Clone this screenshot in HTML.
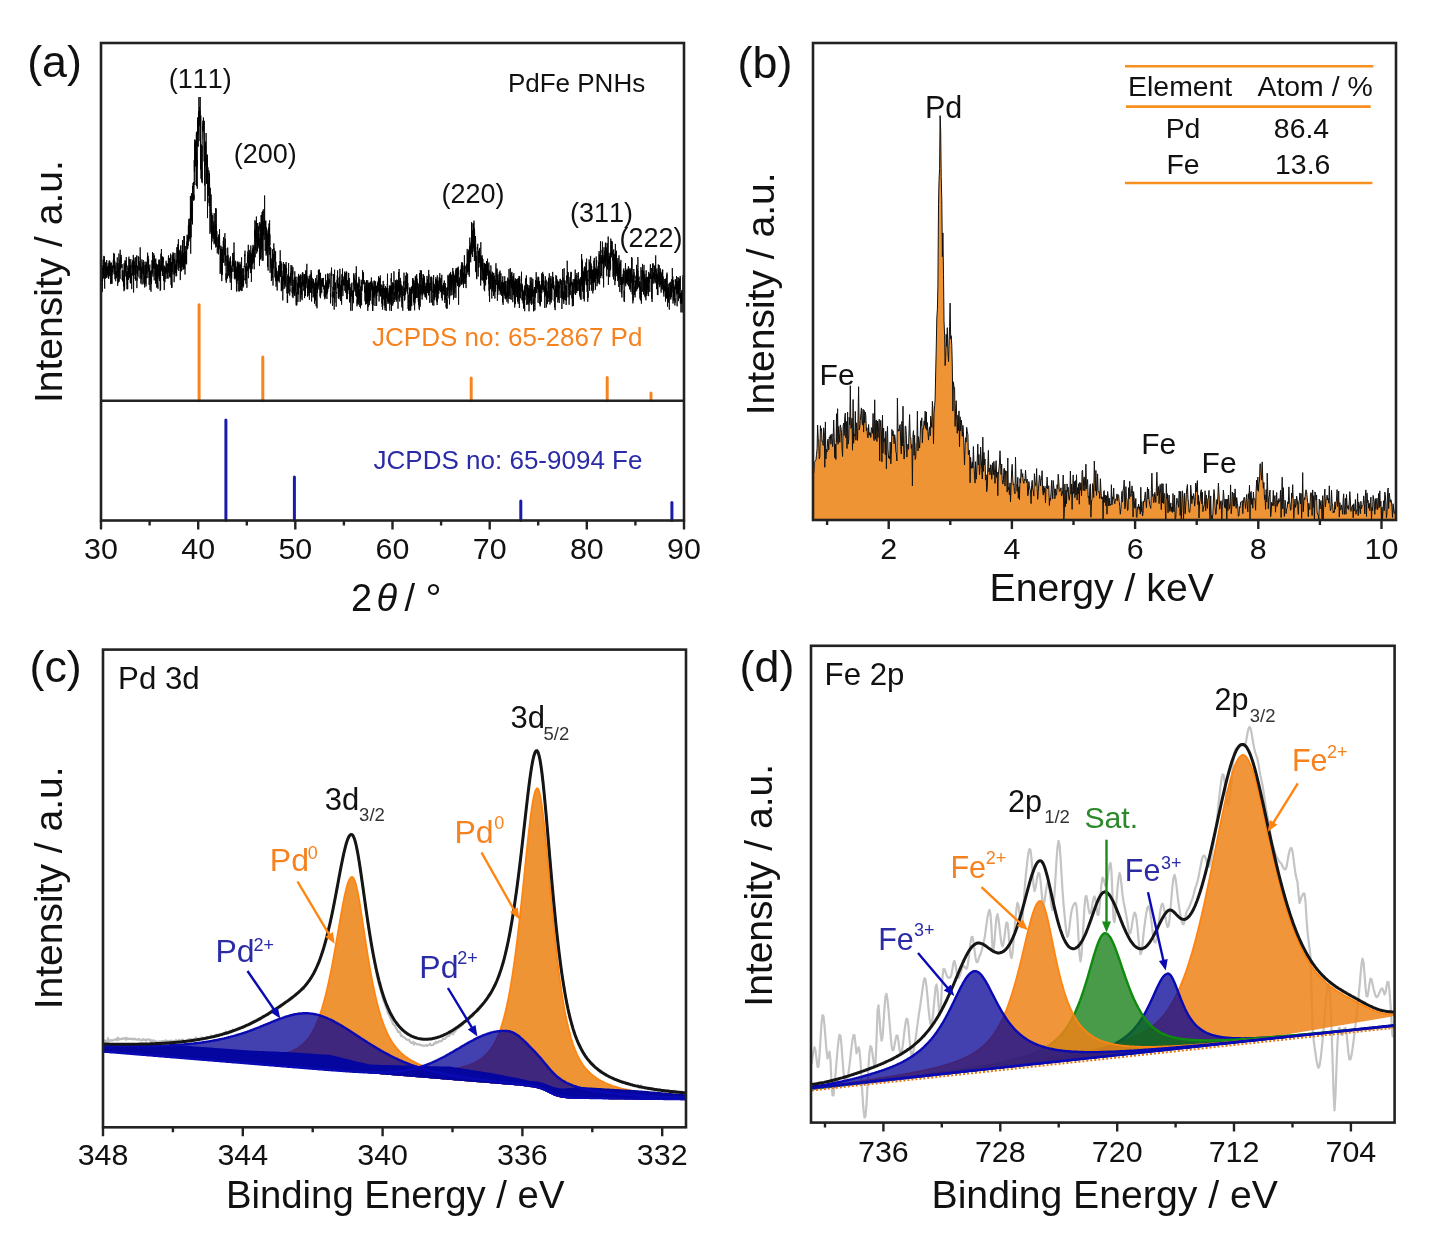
<!DOCTYPE html>
<html><head><meta charset="utf-8"><title>PdFe PNHs</title>
<style>
html,body{margin:0;padding:0;background:#fff;}
svg{display:block;will-change:transform;}
text{font-family:"Liberation Sans", sans-serif;font-kerning:none;}
</style></head><body><div id="w">
<svg xmlns="http://www.w3.org/2000/svg" width="1432" height="1236" viewBox="0 0 1432 1236">
<rect width="1432" height="1236" fill="#fff"/>
<g>
<polyline points="101,263.4 101.1,285.3 101.3,268.8 101.4,274.4 101.5,276.9 101.6,272 101.8,268.2 101.9,285.4 102,283.4 102.1,265.1 102.3,292.1 102.4,285.7 102.5,269.3 102.6,280.7 102.8,267.7 102.9,269 103,274.7 103.1,259.7 103.3,271.6 103.4,278.4 103.5,277.8 103.7,265.3 103.8,273.7 103.9,255.9 104,264.9 104.2,268.5 104.3,256.6 104.4,265.1 104.5,279.8 104.7,288.6 104.8,274.6 104.9,276.7 105,264.7 105.2,263.9 105.3,263.1 105.4,277.5 105.5,278.7 105.7,266.6 105.8,261.9 105.9,270.9 106.1,270.5 106.2,267.2 106.3,278 106.4,267.3 106.6,267.3 106.7,260.1 106.8,268 106.9,277.3 107.1,267.3 107.2,267.6 107.3,270.3 107.4,269.6 107.6,272.1 107.7,273 107.8,275 107.9,265.9 108.1,275.6 108.2,263.2 108.3,277.9 108.5,266.5 108.6,275.2 108.7,279 108.8,270.3 109,273.6 109.1,260.7 109.2,265.2 109.3,276.2 109.5,262.5 109.6,275.2 109.7,260.6 109.8,263.7 110,262.5 110.1,269.8 110.2,274.2 110.3,263 110.5,269 110.6,284.1 110.7,268.6 110.9,265.8 111,275.5 111.1,271.3 111.2,268.9 111.4,262.6 111.5,283.4 111.6,272.1 111.7,276.5 111.9,267.1 112,283.8 112.1,276.3 112.2,275.4 112.4,265.5 112.5,268.2 112.6,270.7 112.7,272.1 112.9,267.5 113,265.4 113.1,263.7 113.3,261.1 113.4,259.6 113.5,268.2 113.6,264.2 113.8,252.9 113.9,265.2 114,274.3 114.1,264.7 114.3,254 114.4,264.6 114.5,269.7 114.6,265.2 114.8,260.8 114.9,277.6 115,279.2 115.1,265.3 115.3,273.1 115.4,270.9 115.5,275.1 115.7,281.2 115.8,275.6 115.9,269.2 116,263.9 116.2,262.6 116.3,268 116.4,278.2 116.5,272.3 116.7,271.4 116.8,274.1 116.9,272.3 117,276.2 117.2,263.3 117.3,257.4 117.4,267.6 117.5,263.5 117.7,285.9 117.8,271.8 117.9,271.7 118.1,263.2 118.2,276.2 118.3,268.7 118.4,282.6 118.6,279.9 118.7,266.9 118.8,275.6 118.9,253.5 119.1,266.7 119.2,281.6 119.3,277.5 119.4,272 119.6,270.1 119.7,260.3 119.8,259.6 119.9,268.5 120.1,278.8 120.2,249.8 120.3,267.3 120.5,266.8 120.6,269.1 120.7,257.2 120.8,259.5 121,263.2 121.1,256.1 121.2,254.9 121.3,257.5 121.5,263.4 121.6,267.3 121.7,265.7 121.8,267.7 122,264 122.1,264.9 122.2,280 122.3,270.5 122.5,270.5 122.6,279 122.7,281.4 122.9,281.6 123,274.2 123.1,270.5 123.2,273.9 123.4,274.2 123.5,286.4 123.6,279 123.7,283.8 123.9,279.3 124,291.2 124.1,263.3 124.2,280.2 124.4,281.5 124.5,265 124.6,289.8 124.7,269.1 124.9,267.6 125,260.3 125.1,272.2 125.3,266.7 125.4,260.9 125.5,266.5 125.6,270.4 125.8,276.4 125.9,270 126,263.8 126.1,267.7 126.3,257.1 126.4,267.7 126.5,279.5 126.6,277.3 126.8,272.8 126.9,271.6 127,289.2 127.1,279.1 127.3,285.1 127.4,280.7 127.5,271.1 127.7,289.2 127.8,265.9 127.9,265.6 128,270.2 128.2,268 128.3,268.8 128.4,268 128.5,279.8 128.7,270.3 128.8,270.9 128.9,256.7 129,260.8 129.2,274 129.3,259 129.4,277.7 129.5,263.3 129.7,274.3 129.8,266.7 129.9,274.3 130.1,265.5 130.2,268.5 130.3,282.7 130.4,265.4 130.6,283.4 130.7,263.7 130.8,259 130.9,267.7 131.1,265 131.2,282.6 131.3,275.5 131.4,278.4 131.6,273.6 131.7,289.1 131.8,274.7 131.9,272.4 132.1,263.1 132.2,262.3 132.3,269.2 132.5,275.1 132.6,275.5 132.7,260.5 132.8,270.2 133,268.3 133.1,260.4 133.2,272.6 133.3,254.9 133.5,273 133.6,292.5 133.7,264.6 133.8,271.3 134,257.8 134.1,264.7 134.2,274.8 134.3,261.4 134.5,267.7 134.6,265.4 134.7,265.3 134.9,269.3 135,272 135.1,279 135.2,276 135.4,265.5 135.5,280.6 135.6,278.2 135.7,257.1 135.9,271.3 136,272.3 136.1,273.6 136.2,270.8 136.4,259.2 136.5,266.6 136.6,255.4 136.7,268.7 136.9,288.1 137,277.9 137.1,280.6 137.3,270.2 137.4,267.2 137.5,266.5 137.6,274.4 137.8,266 137.9,265.5 138,277.3 138.1,255.9 138.3,257 138.4,261.7 138.5,264.4 138.6,264.6 138.8,257 138.9,268.5 139,267 139.1,270.7 139.3,261.2 139.4,270 139.5,269.6 139.7,263.6 139.8,266.4 139.9,264.1 140,278.7 140.2,247.4 140.3,258.8 140.4,257.8 140.5,267.6 140.7,267.2 140.8,271.2 140.9,283.6 141,266.6 141.2,273.3 141.3,278.1 141.4,268.6 141.5,279.3 141.7,276.8 141.8,267.2 141.9,259.4 142.1,284.5 142.2,274.3 142.3,273.1 142.4,269.2 142.6,267.7 142.7,273.2 142.8,266.4 142.9,262.2 143.1,271.4 143.2,266.8 143.3,261.1 143.4,260.1 143.6,274.9 143.7,270.8 143.8,283.5 143.9,265.2 144.1,265.3 144.2,275.2 144.3,284.5 144.5,277.8 144.6,275.8 144.7,287.5 144.8,265.4 145,261.6 145.1,264.7 145.2,267.6 145.3,273.1 145.5,279.1 145.6,274.1 145.7,283.9 145.8,265 146,286.4 146.1,264 146.2,278.3 146.3,261.8 146.5,270 146.6,268 146.7,271.6 146.9,273.8 147,266.5 147.1,267.1 147.2,268.4 147.4,257.2 147.5,259.8 147.6,252.7 147.7,262.4 147.9,278.1 148,266.1 148.1,255.8 148.2,258.1 148.4,271.6 148.5,263.9 148.6,258.9 148.7,265.3 148.9,267.3 149,269.1 149.1,284.9 149.3,280.3 149.4,267.5 149.5,274.5 149.6,268.7 149.8,267.5 149.9,264.6 150,290 150.1,271.5 150.3,278.8 150.4,281.6 150.5,271.3 150.6,279.8 150.8,280.1 150.9,277.1 151,291.7 151.1,275.9 151.3,270 151.4,276 151.5,284.2 151.7,275.9 151.8,263.8 151.9,260.8 152,260.2 152.2,262.2 152.3,269.4 152.4,273.5 152.5,252 152.7,267.3 152.8,260.5 152.9,274 153,276.6 153.2,263.8 153.3,265.5 153.4,261 153.5,268.4 153.7,253.3 153.8,254.9 153.9,256.9 154.1,269.5 154.2,280.4 154.3,262.9 154.4,255.6 154.6,265.2 154.7,259.4 154.8,268.7 154.9,258.8 155.1,264.8 155.2,268.6 155.3,274.9 155.4,271.4 155.6,283.7 155.7,273.5 155.8,258.7 155.9,278 156.1,266.9 156.2,264.1 156.3,282.1 156.5,263.6 156.6,273.2 156.7,268.5 156.8,287.7 157,273.4 157.1,278.5 157.2,264.9 157.3,287.1 157.5,265.4 157.6,280.9 157.7,282.4 157.8,283.5 158,288.8 158.1,264.1 158.2,275.5 158.3,271.6 158.5,272.1 158.6,276.1 158.7,266.8 158.9,260.1 159,265.1 159.1,279.1 159.2,259.4 159.4,269 159.5,263 159.6,281 159.7,260.8 159.9,271.2 160,274 160.1,276.4 160.2,290.8 160.4,288 160.5,264.9 160.6,289.6 160.7,260.2 160.9,253.7 161,254.5 161.1,265 161.3,267 161.4,249 161.5,267.5 161.6,263.3 161.8,270.6 161.9,262.5 162,271.6 162.1,268.4 162.3,256.5 162.4,276 162.5,265.8 162.6,269.5 162.8,273.6 162.9,256.8 163,262.6 163.1,257.8 163.3,257.5 163.4,266.5 163.5,268.1 163.7,278.6 163.8,281 163.9,270.6 164,265.6 164.2,290 164.3,290 164.4,273 164.5,265.9 164.7,269.5 164.8,275.3 164.9,282.2 165,280.1 165.2,274.6 165.3,267.9 165.4,271.4 165.5,267.6 165.7,272 165.8,272 165.9,279 166.1,260.8 166.2,273.2 166.3,273.5 166.4,265.5 166.6,271.9 166.7,263.2 166.8,264.6 166.9,266.2 167.1,266.1 167.2,264 167.3,278.2 167.4,270.4 167.6,271.5 167.7,270.9 167.8,264.1 167.9,263.3 168.1,278.8 168.2,269 168.3,258.8 168.5,255.4 168.6,272.5 168.7,263.4 168.8,267.4 169,263.2 169.1,263.9 169.2,265.4 169.3,258.2 169.5,267.4 169.6,277.2 169.7,276 169.8,257.9 170,261.4 170.1,261.6 170.2,269.3 170.3,277.5 170.5,270.7 170.6,253.7 170.7,265.3 170.9,272.1 171,262.7 171.1,285 171.2,264.3 171.4,282.2 171.5,287.9 171.6,262.3 171.7,269.4 171.9,276.3 172,287.7 172.1,255.1 172.2,272 172.4,268.3 172.5,261.6 172.6,257.7 172.7,258.8 172.9,259.5 173,252.3 173.1,274.4 173.3,253.5 173.4,258.5 173.5,257.2 173.6,259.3 173.8,263.5 173.9,258.5 174,263.4 174.1,282.2 174.3,276.8 174.4,264.6 174.5,274.6 174.6,259.4 174.8,266.1 174.9,252.9 175,254.2 175.1,255.8 175.3,273.1 175.4,264.6 175.5,269 175.7,267.1 175.8,270.9 175.9,272.6 176,276.3 176.2,270.6 176.3,260.4 176.4,260.1 176.5,276.1 176.7,275.9 176.8,265.7 176.9,247.2 177,269.7 177.2,256.7 177.3,251.7 177.4,250.7 177.5,246.9 177.7,262.3 177.8,262.7 177.9,244 178.1,252 178.2,257.2 178.3,266.6 178.4,239.2 178.6,264.3 178.7,270.9 178.8,253.8 178.9,256.1 179.1,268 179.2,261.4 179.3,249.9 179.4,252.4 179.6,254.4 179.7,252.3 179.8,264.1 179.9,259.6 180.1,264.9 180.2,270.9 180.3,280.1 180.5,263.7 180.6,245.5 180.7,270.6 180.8,255.2 181,265.4 181.1,251.4 181.2,257.4 181.3,255 181.5,257.1 181.6,271.3 181.7,255 181.8,263.6 182,265.1 182.1,259.6 182.2,245.3 182.3,266.8 182.5,240.2 182.6,250 182.7,258.2 182.9,266.2 183,269.7 183.1,268.6 183.2,265.4 183.4,254.8 183.5,269.2 183.6,253.2 183.7,265.5 183.9,236 184,245.5 184.1,248.5 184.2,254 184.4,236 184.5,265.4 184.6,268.9 184.7,268.1 184.9,255.4 185,274.5 185.1,251.8 185.3,263.6 185.4,250.4 185.5,248.4 185.6,246 185.8,246.7 185.9,258.5 186,262.4 186.1,262.4 186.3,256.5 186.4,253.2 186.5,250.4 186.6,264.3 186.8,242.3 186.9,241.6 187,249.5 187.1,234.7 187.3,247.9 187.4,249.1 187.5,237.5 187.7,238.7 187.8,248.4 187.9,235.8 188,236.4 188.2,245.5 188.3,229.6 188.4,225.4 188.5,235.4 188.7,240.6 188.8,218.9 188.9,241.6 189,230.1 189.2,228 189.3,222.7 189.4,227.5 189.5,238.3 189.7,230.9 189.8,232.2 189.9,218.5 190.1,238.8 190.2,234.9 190.3,220.6 190.4,195.9 190.6,222.4 190.7,253.7 190.8,219.4 190.9,207.8 191.1,237.3 191.2,207.1 191.3,216.7 191.4,218.7 191.6,193.2 191.7,208.6 191.8,220.9 191.9,200.9 192.1,210.6 192.2,201.4 192.3,213.6 192.5,224.4 192.6,186 192.7,193.8 192.8,200.3 193,186.8 193.1,183 193.2,187.4 193.3,187.3 193.5,182.1 193.6,194.1 193.7,200.7 193.8,198 194,194.8 194.1,199.6 194.2,160.2 194.3,171.4 194.5,170.8 194.6,170.8 194.7,139.5 194.9,185.1 195,143.6 195.1,157.1 195.2,162 195.4,165.9 195.5,140.4 195.6,141.7 195.7,154.5 195.9,158.8 196,166.8 196.1,151.1 196.2,142.3 196.4,132.8 196.5,186.1 196.6,131.7 196.7,168.8 196.9,163 197,175.2 197.1,181 197.3,188.7 197.4,160.1 197.5,165.5 197.6,117.4 197.8,146 197.9,121.4 198,126.7 198.1,146.8 198.3,120 198.4,134.6 198.5,111.2 198.6,121.4 198.8,109.7 198.9,97 199,105.9 199.1,111.4 199.3,115.6 199.4,110.4 199.5,106.9 199.7,125.8 199.8,122.4 199.9,110.4 200,141.1 200.2,97 200.3,130 200.4,136.9 200.5,169.5 200.7,131.9 200.8,115.5 200.9,148.3 201,178.7 201.2,144.3 201.3,149.2 201.4,149 201.5,155 201.7,180.4 201.8,181.7 201.9,159.6 202.1,145.6 202.2,183.2 202.3,144.7 202.4,140.5 202.6,129.2 202.7,126.6 202.8,131.7 202.9,120.7 203.1,129.3 203.2,123.1 203.3,130.2 203.4,117.5 203.6,122.9 203.7,133 203.8,134.1 203.9,138.5 204.1,161.5 204.2,129.2 204.3,120.8 204.5,167.5 204.6,153.2 204.7,185.4 204.8,159.9 205,143.7 205.1,201.2 205.2,167.1 205.3,151.6 205.5,145.3 205.6,160.9 205.7,141.7 205.8,155 206,165.8 206.1,133 206.2,149.3 206.3,162.9 206.5,183.6 206.6,172.8 206.7,155.8 206.9,183.8 207,159.1 207.1,162.7 207.2,171.2 207.4,154.6 207.5,218.1 207.6,191 207.7,179.6 207.9,172.6 208,167.4 208.1,187.9 208.2,194 208.4,180.7 208.5,184.5 208.6,196.2 208.7,189.7 208.9,170.4 209,203.1 209.1,197.9 209.3,206.2 209.4,188 209.5,173.4 209.6,184.4 209.8,202.9 209.9,229.3 210,233.9 210.1,205.8 210.3,187.8 210.4,201.9 210.5,213.6 210.6,215.5 210.8,212.8 210.9,231.9 211,205.4 211.1,194.5 211.3,210.8 211.4,210.5 211.5,249.6 211.7,227.4 211.8,212.8 211.9,238.2 212,241.6 212.2,226.7 212.3,226.1 212.4,235.3 212.5,228.2 212.7,215.3 212.8,231.2 212.9,237.2 213,231.5 213.2,239 213.3,235.6 213.4,225.1 213.5,225.4 213.7,233.3 213.8,221.2 213.9,241 214.1,244.2 214.2,213.2 214.3,235.3 214.4,230.5 214.6,232.8 214.7,242 214.8,236.7 214.9,243.1 215.1,237.6 215.2,235.9 215.3,224.3 215.4,227.6 215.6,245.2 215.7,208 215.8,247.5 215.9,225.5 216.1,241.8 216.2,208.7 216.3,228.9 216.5,241 216.6,236.2 216.7,246.5 216.8,231.1 217,236.3 217.1,238 217.2,252 217.3,253.4 217.5,247.8 217.6,246 217.7,244.9 217.8,247.3 218,237.1 218.1,243.6 218.2,242.2 218.3,238.1 218.5,237 218.6,254.4 218.7,234.5 218.9,242 219,249.4 219.1,243.9 219.2,238.4 219.4,247.5 219.5,229.1 219.6,232.9 219.7,242.5 219.9,246.9 220,250.8 220.1,274 220.2,273.8 220.4,256.5 220.5,259.8 220.6,248.8 220.7,260.1 220.9,245.7 221,272.2 221.1,253.7 221.3,265.7 221.4,249.1 221.5,275.5 221.6,267.5 221.8,281.1 221.9,261.6 222,246.8 222.1,253.2 222.3,249.1 222.4,274.9 222.5,252.8 222.6,251.1 222.8,262.2 222.9,258.6 223,260.8 223.1,252.7 223.3,240.9 223.4,245.1 223.5,237.2 223.7,262.9 223.8,256.9 223.9,244.8 224,251 224.2,250.8 224.3,250.8 224.4,251 224.5,255.1 224.7,250.7 224.8,234.8 224.9,233.2 225,265.7 225.2,261 225.3,238.8 225.4,261.3 225.5,255.8 225.7,261 225.8,248.2 225.9,280.4 226.1,273.6 226.2,282.1 226.3,282.8 226.4,281.4 226.6,281.4 226.7,265.1 226.8,262.5 226.9,255.7 227.1,265.8 227.2,260.8 227.3,255.5 227.4,278.5 227.6,275.3 227.7,247.6 227.8,253.5 227.9,265.3 228.1,255.3 228.2,276.1 228.3,264.7 228.5,267.7 228.6,271 228.7,274.9 228.8,260.7 229,268.7 229.1,265.3 229.2,270.9 229.3,268.9 229.5,277.7 229.6,269.8 229.7,261.7 229.8,267.2 230,257.8 230.1,270.3 230.2,282.6 230.3,263.6 230.5,256.5 230.6,270.1 230.7,267 230.9,272.8 231,268.2 231.1,275.6 231.2,265.5 231.4,290 231.5,272.1 231.6,277.9 231.7,278.6 231.9,268 232,272 232.1,264.1 232.2,261.3 232.4,261.8 232.5,266.5 232.6,253.1 232.7,255.8 232.9,256.6 233,258.3 233.1,271.8 233.3,260.9 233.4,257.9 233.5,260 233.6,266 233.8,252.4 233.9,266.1 234,242.5 234.1,254.7 234.3,276 234.4,278.6 234.5,266.9 234.6,262.8 234.8,273.4 234.9,262.5 235,279.4 235.1,275.9 235.3,272.6 235.4,260.7 235.5,278.1 235.7,268.4 235.8,270.2 235.9,269.4 236,272.7 236.2,278.6 236.3,281.8 236.4,281.5 236.5,291.5 236.7,269.8 236.8,284 236.9,266.6 237,270.3 237.2,261.7 237.3,281.1 237.4,270.1 237.5,267 237.7,264.4 237.8,273 237.9,261.5 238.1,269.5 238.2,291.3 238.3,267.3 238.4,264.8 238.6,262.8 238.7,279.7 238.8,273.2 238.9,266 239.1,265.7 239.2,273.7 239.3,264.5 239.4,291.4 239.6,272 239.7,273.1 239.8,275.3 239.9,261.9 240.1,265.3 240.2,275.3 240.3,277.4 240.5,264.6 240.6,290 240.7,276.5 240.8,284 241,283.1 241.1,270.9 241.2,291.1 241.3,277 241.5,260.3 241.6,257.3 241.7,277.7 241.8,286.5 242,279.2 242.1,290.8 242.2,276.5 242.3,285 242.5,286.2 242.6,268.4 242.7,280.5 242.9,280.1 243,286.6 243.1,287.5 243.2,285.4 243.4,268.4 243.5,283 243.6,286 243.7,275 243.9,280.5 244,278.6 244.1,279.9 244.2,266 244.4,266.9 244.5,262.4 244.6,260.1 244.7,254.3 244.9,256.3 245,250.6 245.1,258.3 245.3,266.8 245.4,268.2 245.5,272.1 245.6,266.4 245.8,283.7 245.9,267.2 246,280.1 246.1,276.5 246.3,264.1 246.4,263.3 246.5,276.6 246.6,268.4 246.8,269.9 246.9,287.8 247,271.3 247.1,266.1 247.3,271.2 247.4,257.4 247.5,259.3 247.7,263 247.8,251.5 247.9,256.8 248,255.6 248.2,258.5 248.3,244.8 248.4,278.2 248.5,261.3 248.7,269.6 248.8,255.8 248.9,254 249,265.7 249.2,260.5 249.3,268.4 249.4,251.8 249.5,249.9 249.7,260 249.8,263.7 249.9,266.4 250.1,257.4 250.2,261.3 250.3,252.2 250.4,273.1 250.6,271.1 250.7,270.8 250.8,245.5 250.9,269.9 251.1,254.9 251.2,270.3 251.3,272 251.4,282 251.6,268 251.7,266 251.8,257.3 251.9,253 252.1,269.1 252.2,250.5 252.3,264.2 252.5,251.1 252.6,248.6 252.7,263.9 252.8,262.9 253,244.8 253.1,251.8 253.2,253.4 253.3,260.9 253.5,246.5 253.6,249.4 253.7,252.8 253.8,261.6 254,263 254.1,246.2 254.2,269.3 254.3,252.1 254.5,238.4 254.6,230 254.7,237.7 254.9,220.3 255,243 255.1,247.5 255.2,257.3 255.4,249.7 255.5,229.2 255.6,241.2 255.7,250 255.9,221.1 256,231.5 256.1,243 256.2,236.5 256.4,216.5 256.5,229 256.6,232.7 256.7,253.5 256.9,227.2 257,223.1 257.1,234.4 257.3,236.3 257.4,239.7 257.5,251.4 257.6,235.2 257.8,223 257.9,235.8 258,234.9 258.1,244.8 258.3,242.7 258.4,226.2 258.5,242.1 258.6,245.9 258.8,233.4 258.9,248.4 259,240.2 259.1,241.5 259.3,238.1 259.4,249.7 259.5,266 259.7,239 259.8,222 259.9,228.9 260,223.7 260.2,231.5 260.3,226.6 260.4,259.5 260.5,238 260.7,253.3 260.8,224 260.9,229.5 261,258.4 261.2,215.2 261.3,233.6 261.4,215.5 261.5,250 261.7,215.5 261.8,226 261.9,227.2 262.1,212.1 262.2,260.8 262.3,226.9 262.4,248.8 262.6,219.9 262.7,211.1 262.8,227.1 262.9,226.2 263.1,260.6 263.2,213.7 263.3,209.3 263.4,219.1 263.6,230.8 263.7,235.5 263.8,221.1 263.9,224.8 264.1,234.3 264.2,239.8 264.3,219.1 264.5,225.3 264.6,195.5 264.7,213.6 264.8,228.6 265,225.9 265.1,226.4 265.2,250.9 265.3,228.6 265.5,221.1 265.6,234.7 265.7,234.5 265.8,220.6 266,245.5 266.1,255.5 266.2,228.9 266.3,227.3 266.5,236.6 266.6,253.6 266.7,231.4 266.9,229.3 267,230.3 267.1,239.1 267.2,239.3 267.4,235.8 267.5,253.6 267.6,267 267.7,233.3 267.9,251.2 268,241.2 268.1,270.6 268.2,231 268.4,237.1 268.5,242.3 268.6,227.6 268.7,237.9 268.9,245.5 269,223.5 269.1,237 269.3,254.9 269.4,232.1 269.5,231.9 269.6,220.3 269.8,245.2 269.9,234.4 270,258.6 270.1,272.8 270.3,261.4 270.4,247.2 270.5,264.2 270.6,252.9 270.8,248 270.9,257 271,268.1 271.1,263.6 271.3,275.1 271.4,281 271.5,275.5 271.7,275.7 271.8,258.5 271.9,279.7 272,269.1 272.2,277.5 272.3,260.1 272.4,273.2 272.5,249.4 272.7,269.8 272.8,264.6 272.9,261.8 273,285.6 273.2,253.8 273.3,264.5 273.4,261.9 273.5,266 273.7,268.2 273.8,243.4 273.9,250.5 274.1,248.4 274.2,259.5 274.3,262 274.4,252.4 274.6,252.7 274.7,250.5 274.8,262.9 274.9,277.5 275.1,265.8 275.2,257.7 275.3,257.3 275.4,258.5 275.6,251.3 275.7,280.9 275.8,264.7 275.9,261.9 276.1,286.7 276.2,267.7 276.3,281.4 276.5,270.9 276.6,280.8 276.7,272.7 276.8,270.7 277,280.5 277.1,285.4 277.2,290.5 277.3,282.4 277.5,277.6 277.6,275.4 277.7,280.5 277.8,271.4 278,271.8 278.1,279.3 278.2,279.6 278.3,279.5 278.5,269.5 278.6,265.5 278.7,281 278.9,279.6 279,274.1 279.1,278.2 279.2,282.5 279.4,271.6 279.5,275.9 279.6,265 279.7,270.4 279.9,265.7 280,261 280.1,274.3 280.2,250.3 280.4,270.1 280.5,276.8 280.6,274.1 280.7,261 280.9,275.1 281,261.7 281.1,269.8 281.3,291.2 281.4,280.5 281.5,290.4 281.6,270.9 281.8,263.7 281.9,272.6 282,289.7 282.1,285.9 282.3,287 282.4,276.1 282.5,276.7 282.6,275.8 282.8,300.4 282.9,276.3 283,289.3 283.1,271.1 283.3,281.3 283.4,262 283.5,265.7 283.7,271.9 283.8,266 283.9,267.8 284,270.3 284.2,268.2 284.3,284.9 284.4,281.8 284.5,263.9 284.7,288.6 284.8,274.8 284.9,275.4 285,274.9 285.2,283.4 285.3,281.9 285.4,272.3 285.5,275.5 285.7,264.8 285.8,286.7 285.9,264.2 286.1,262 286.2,262 286.3,267.8 286.4,273.2 286.6,267.9 286.7,273.9 286.8,275.3 286.9,293.4 287.1,288.3 287.2,275.7 287.3,302.8 287.4,295.1 287.6,302.9 287.7,284.5 287.8,283.7 287.9,284.8 288.1,274.1 288.2,280.2 288.3,293.4 288.5,287 288.6,263 288.7,289.2 288.8,280.2 289,284 289.1,278.4 289.2,280.4 289.3,280.8 289.5,282.9 289.6,276.6 289.7,295.5 289.8,289.4 290,291.4 290.1,290.5 290.2,283.3 290.3,283.7 290.5,272.8 290.6,282.6 290.7,281.1 290.9,276.3 291,265.1 291.1,285.9 291.2,273.6 291.4,273.5 291.5,270.6 291.6,268.2 291.7,269.5 291.9,265.4 292,270.4 292.1,292.6 292.2,287.3 292.4,296.8 292.5,277.1 292.6,269.9 292.7,274.6 292.9,267.1 293,296.4 293.1,298.1 293.3,288.3 293.4,290.4 293.5,290.1 293.6,285.9 293.8,293.7 293.9,280 294,285.4 294.1,289 294.3,277.7 294.4,282.8 294.5,295.4 294.6,293.9 294.8,271.3 294.9,296.1 295,289.7 295.1,292.5 295.3,284.9 295.4,290.9 295.5,276.8 295.7,285.5 295.8,280.1 295.9,285.5 296,302 296.2,305.3 296.3,295.4 296.4,292.4 296.5,303.9 296.7,301.3 296.8,305.4 296.9,301.9 297,276.7 297.2,294 297.3,288.8 297.4,282.9 297.5,289.9 297.7,288.8 297.8,285.4 297.9,302 298.1,292.2 298.2,291.6 298.3,287.8 298.4,294.5 298.6,273.9 298.7,288.2 298.8,275.5 298.9,286.4 299.1,285.7 299.2,280.1 299.3,275.8 299.4,283.5 299.6,287.4 299.7,276.5 299.8,285.9 299.9,283.2 300.1,300.3 300.2,301.8 300.3,280.2 300.5,280.4 300.6,274.3 300.7,284.8 300.8,289.5 301,298.5 301.1,275.4 301.2,293.1 301.3,285 301.5,282.1 301.6,286.2 301.7,283.9 301.8,295 302,291 302.1,300.2 302.2,283.7 302.3,272.9 302.5,277.1 302.6,285 302.7,272.1 302.9,276.8 303,286.3 303.1,273.8 303.2,290.9 303.4,287.5 303.5,281 303.6,284.4 303.7,280.7 303.9,280.5 304,279.9 304.1,281.4 304.2,280.2 304.4,275.8 304.5,274.4 304.6,298.1 304.7,274 304.9,280.3 305,290.4 305.1,288.2 305.3,275.6 305.4,296 305.5,293.4 305.6,277 305.8,270.2 305.9,281.9 306,275.9 306.1,274.8 306.3,271.2 306.4,272.7 306.5,278.1 306.6,283.7 306.8,264.8 306.9,263.8 307,287.7 307.1,276.3 307.3,288.7 307.4,285.4 307.5,296.8 307.7,295.1 307.8,285.8 307.9,287.3 308,291.8 308.2,295.7 308.3,284.5 308.4,278.7 308.5,290.6 308.7,288.9 308.8,287.2 308.9,280.7 309,293 309.2,275.9 309.3,284.4 309.4,299.8 309.5,280.7 309.7,292.2 309.8,291.9 309.9,290.6 310.1,274.6 310.2,293 310.3,284.4 310.4,285.6 310.6,283.4 310.7,281.2 310.8,289.8 310.9,292.4 311.1,270.1 311.2,278.8 311.3,284.5 311.4,272.7 311.6,301.5 311.7,283.4 311.8,293.8 311.9,289.6 312.1,284.5 312.2,277.8 312.3,280.9 312.5,283.1 312.6,288.2 312.7,281.6 312.8,281.4 313,283.6 313.1,297.5 313.2,289.9 313.3,283 313.5,279.2 313.6,284.6 313.7,280.6 313.8,283.1 314,296.4 314.1,290.3 314.2,286.9 314.3,290.1 314.5,303.7 314.6,282.9 314.7,298.1 314.9,294.5 315,298.6 315.1,298.3 315.2,294.4 315.4,300.5 315.5,278.2 315.6,295 315.7,296.9 315.9,282.9 316,282.5 316.1,306.2 316.2,283.4 316.4,287.5 316.5,284.9 316.6,285.9 316.7,285.2 316.9,275.1 317,308.3 317.1,282.2 317.3,288.6 317.4,283.6 317.5,293.1 317.6,285.9 317.8,288.2 317.9,287.8 318,285.1 318.1,279.9 318.3,285.9 318.4,269.8 318.5,286.3 318.6,285.1 318.8,282.4 318.9,271.5 319,289.6 319.1,275.9 319.3,284.9 319.4,269.5 319.5,281.4 319.7,279 319.8,278.4 319.9,278.8 320,296.4 320.2,281.6 320.3,283.7 320.4,298.2 320.5,272.8 320.7,295.4 320.8,282.6 320.9,282.9 321,286.2 321.2,278.4 321.3,280.8 321.4,282.9 321.5,285.2 321.7,292.9 321.8,293.1 321.9,280 322.1,283.5 322.2,283.2 322.3,278.9 322.4,282.5 322.6,278 322.7,286.4 322.8,282.3 322.9,284.8 323.1,286.9 323.2,286.8 323.3,281.6 323.4,277.9 323.6,286.8 323.7,284.2 323.8,285.2 323.9,289.3 324.1,285.6 324.2,296 324.3,296.5 324.5,286.3 324.6,297.1 324.7,285.9 324.8,299.3 325,297.5 325.1,291.1 325.2,297.7 325.3,297.5 325.5,291.3 325.6,274.4 325.7,286.5 325.8,286.6 326,292.1 326.1,280.2 326.2,294.4 326.3,293.2 326.5,294.9 326.6,282.5 326.7,284.4 326.9,299 327,294.5 327.1,285.5 327.2,293.5 327.4,285.9 327.5,281.1 327.6,273.5 327.7,291.7 327.9,283.5 328,286.6 328.1,273.9 328.2,282.7 328.4,288.7 328.5,284.8 328.6,281.4 328.7,278.6 328.9,287.2 329,283.6 329.1,283.9 329.3,284.1 329.4,281.3 329.5,282.6 329.6,279.7 329.8,282.9 329.9,273.2 330,275 330.1,283.1 330.3,283 330.4,286.4 330.5,303.4 330.6,293.6 330.8,296.8 330.9,290 331,284.8 331.1,279.3 331.3,271.5 331.4,273.8 331.5,267.6 331.7,275.8 331.8,273.7 331.9,279.1 332,287.2 332.2,286.9 332.3,300.6 332.4,303.2 332.5,305.9 332.7,305.2 332.8,299.7 332.9,291.6 333,297.4 333.2,288.9 333.3,287.1 333.4,290 333.5,278.5 333.7,274.1 333.8,286.4 333.9,298 334.1,292.4 334.2,309.6 334.3,274.9 334.4,280 334.6,269.7 334.7,279.9 334.8,302.6 334.9,302.3 335.1,283.3 335.2,289.1 335.3,285.9 335.4,282.4 335.6,289.8 335.7,289.2 335.8,293.4 335.9,295.7 336.1,300.4 336.2,306.7 336.3,294.3 336.5,292.2 336.6,292.3 336.7,293.8 336.8,287 337,279.8 337.1,281.4 337.2,288.4 337.3,275.5 337.5,286.1 337.6,270.4 337.7,282.5 337.8,282.1 338,277.6 338.1,280.4 338.2,281.2 338.3,298.1 338.5,283.9 338.6,283.3 338.7,292.3 338.9,299.1 339,292.6 339.1,288.1 339.2,296.9 339.4,282 339.5,280.5 339.6,276.3 339.7,292.3 339.9,268.8 340,274.9 340.1,285.5 340.2,287.4 340.4,299.8 340.5,290.3 340.6,284.9 340.7,301.1 340.9,299.4 341,300.8 341.1,300.2 341.3,295.3 341.4,280.5 341.5,282.3 341.6,304.7 341.8,287.4 341.9,274.1 342,285.4 342.1,291.2 342.3,286.4 342.4,283.7 342.5,268.5 342.6,284 342.8,282.8 342.9,296.1 343,283.2 343.1,282.4 343.3,279.7 343.4,281.6 343.5,284.5 343.7,280 343.8,278.2 343.9,276.6 344,285.9 344.2,283.2 344.3,283.5 344.4,275.3 344.5,279.3 344.7,271.6 344.8,289.7 344.9,290.9 345,285 345.2,281.6 345.3,285.5 345.4,273.1 345.5,274.8 345.7,292.7 345.8,278.3 345.9,285.6 346.1,282.4 346.2,271.6 346.3,283.5 346.4,295 346.6,299.1 346.7,271.7 346.8,277.5 346.9,283.4 347.1,294.4 347.2,295.6 347.3,298.4 347.4,299.2 347.6,283.4 347.7,280.1 347.8,294.1 347.9,285.2 348.1,286.6 348.2,283.3 348.3,282.1 348.5,290.2 348.6,277.2 348.7,272.9 348.8,280.8 349,287.4 349.1,286.2 349.2,288.7 349.3,278 349.5,286.1 349.6,302.5 349.7,292.1 349.8,287.7 350,301.8 350.1,287.4 350.2,297.7 350.3,293.3 350.5,295.4 350.6,301.4 350.7,310.7 350.9,303.7 351,286.2 351.1,283.9 351.2,288.4 351.4,289 351.5,296.4 351.6,291.7 351.7,294.7 351.9,282.6 352,297.1 352.1,304.2 352.2,310.8 352.4,308.8 352.5,302.7 352.6,290.7 352.7,298.7 352.9,296.5 353,292.7 353.1,292.5 353.3,292.9 353.4,290.1 353.5,303.2 353.6,277.8 353.8,273.1 353.9,285.5 354,274.8 354.1,281.6 354.3,282.7 354.4,278.4 354.5,289.5 354.6,288.9 354.8,286 354.9,289.3 355,291.8 355.1,283.6 355.3,289.4 355.4,285.9 355.5,284.4 355.7,280.6 355.8,295.8 355.9,284.6 356,273.1 356.2,285.7 356.3,266.3 356.4,285.5 356.5,289.8 356.7,296.8 356.8,288.5 356.9,283.9 357,306.3 357.2,300 357.3,303.7 357.4,292.2 357.5,301.4 357.7,284 357.8,302.4 357.9,282.6 358.1,289 358.2,285.2 358.3,304.7 358.4,301.3 358.6,287.6 358.7,301.6 358.8,290.9 358.9,276.8 359.1,287.3 359.2,279.2 359.3,292.8 359.4,296.8 359.6,289.2 359.7,303.8 359.8,306.9 359.9,291.1 360.1,303.4 360.2,297.1 360.3,293.9 360.5,308.3 360.6,286.3 360.7,286.4 360.8,286.6 361,289.8 361.1,291 361.2,279.7 361.3,297.6 361.5,302.7 361.6,305.3 361.7,290.5 361.8,285.8 362,281.8 362.1,290.8 362.2,286.7 362.3,285.8 362.5,281.3 362.6,270.2 362.7,282.2 362.9,282.3 363,280.4 363.1,272.6 363.2,279.2 363.4,279.3 363.5,272.5 363.6,284.2 363.7,280 363.9,281.6 364,283.9 364.1,280.1 364.2,281.8 364.4,286.7 364.5,289.3 364.6,292.3 364.7,286.3 364.9,296 365,301.3 365.1,282.7 365.3,289.3 365.4,291.5 365.5,290.3 365.6,304.5 365.8,298.8 365.9,288.3 366,289.2 366.1,281.7 366.3,285 366.4,303.9 366.5,280.2 366.6,296.7 366.8,285.3 366.9,286.8 367,287.2 367.1,302.6 367.3,290.7 367.4,294.3 367.5,301.6 367.7,280.2 367.8,310.9 367.9,287.7 368,296 368.2,306.9 368.3,288.5 368.4,282.7 368.5,301.9 368.7,286.8 368.8,294.4 368.9,289.3 369,284.8 369.2,300.2 369.3,285.7 369.4,305.1 369.5,283.1 369.7,282.9 369.8,285.1 369.9,291.8 370.1,282 370.2,284.5 370.3,300.7 370.4,289.5 370.6,297.4 370.7,290.3 370.8,283.3 370.9,281.4 371.1,286.5 371.2,284.2 371.3,278.8 371.4,277.4 371.6,290.3 371.7,287.6 371.8,283.8 371.9,281.3 372.1,282.7 372.2,304.1 372.3,285.6 372.5,310.9 372.6,288 372.7,283.1 372.8,310.9 373,292.5 373.1,305.1 373.2,294.3 373.3,287.5 373.5,296.1 373.6,286.5 373.7,293.1 373.8,290.1 374,280.7 374.1,297.7 374.2,289.9 374.3,292.2 374.5,295.4 374.6,280.8 374.7,294 374.9,294.1 375,306 375.1,297.4 375.2,293.9 375.4,286.5 375.5,290.8 375.6,281.4 375.7,294.6 375.9,290.1 376,289.7 376.1,294 376.2,298.6 376.4,297.3 376.5,286.1 376.6,305.9 376.7,294.3 376.9,296.1 377,292.7 377.1,285.2 377.3,293.2 377.4,286.9 377.5,282.6 377.6,287.6 377.8,291.1 377.9,289.2 378,286.3 378.1,281.2 378.3,283.2 378.4,284.7 378.5,276.4 378.6,291.5 378.8,286.3 378.9,277.5 379,297.5 379.1,301.4 379.3,278.2 379.4,286 379.5,282.2 379.7,293.7 379.8,278.6 379.9,290.8 380,289.8 380.2,296.1 380.3,275.4 380.4,283.1 380.5,287.1 380.7,296.5 380.8,289.4 380.9,295.3 381,293.4 381.2,284.5 381.3,290.9 381.4,289.8 381.5,291.8 381.7,288.3 381.8,303.5 381.9,301.2 382.1,285.1 382.2,307 382.3,296.2 382.4,288.3 382.6,309.6 382.7,297.9 382.8,299.8 382.9,294.5 383.1,294.4 383.2,280.9 383.3,299.1 383.4,286.6 383.6,291.6 383.7,290.8 383.8,285.2 383.9,284.1 384.1,292.9 384.2,305.6 384.3,289.6 384.5,289.8 384.6,294.8 384.7,288.1 384.8,302.3 385,293.8 385.1,310.2 385.2,290.7 385.3,308 385.5,286.4 385.6,294.4 385.7,286.6 385.8,293.9 386,296.7 386.1,306.1 386.2,311 386.3,299.1 386.5,288.1 386.6,297.9 386.7,293.9 386.9,288.8 387,297.8 387.1,298.7 387.2,284.3 387.4,284.8 387.5,273.7 387.6,288 387.7,301.7 387.9,288.3 388,304 388.1,302 388.2,301.1 388.4,300.6 388.5,293.8 388.6,302.4 388.7,302.1 388.9,295.5 389,291.6 389.1,302.2 389.3,303.1 389.4,285.5 389.5,296.6 389.6,290.5 389.8,310.7 389.9,289.4 390,288.3 390.1,286.8 390.3,301.6 390.4,285.6 390.5,298.2 390.6,288.1 390.8,302.9 390.9,304.6 391,301 391.1,278.2 391.3,281.5 391.4,273.2 391.5,311 391.7,285.7 391.8,286.3 391.9,289 392,294 392.2,287.3 392.3,291 392.4,291.1 392.5,282.3 392.7,305.7 392.8,303.6 392.9,287.6 393,285.1 393.2,299.4 393.3,303.4 393.4,284.5 393.5,288.7 393.7,283 393.8,288.9 393.9,271.3 394.1,274.8 394.2,295.5 394.3,292.2 394.4,299 394.6,297.3 394.7,301.9 394.8,298 394.9,292.6 395.1,295.4 395.2,285.2 395.3,299.6 395.4,280.1 395.6,282.6 395.7,290.4 395.8,281.2 395.9,290.1 396.1,294.9 396.2,290 396.3,282.4 396.5,300.8 396.6,288.8 396.7,279.5 396.8,301.7 397,286.8 397.1,289.9 397.2,292.7 397.3,283.2 397.5,294.6 397.6,280.2 397.7,282.7 397.8,287.1 398,308.7 398.1,295.1 398.2,299.2 398.3,285.7 398.5,291.4 398.6,272.1 398.7,282.8 398.9,286 399,278.5 399.1,269 399.2,271.8 399.4,287.8 399.5,295.5 399.6,284.4 399.7,301.5 399.9,280.6 400,294.9 400.1,291.9 400.2,297.4 400.4,277.9 400.5,295 400.6,287.4 400.7,280.9 400.9,284 401,286.4 401.1,291.5 401.3,284.8 401.4,286.3 401.5,295.4 401.6,296.2 401.8,302.5 401.9,307.4 402,285.7 402.1,300.2 402.3,303.1 402.4,301 402.5,290.7 402.6,304.7 402.8,310.7 402.9,293.5 403,286.4 403.1,296.1 403.3,287.5 403.4,286.5 403.5,286.2 403.7,281.4 403.8,284.4 403.9,280.2 404,272.7 404.2,294.6 404.3,289.4 404.4,287.8 404.5,300.7 404.7,288.7 404.8,299.9 404.9,297.4 405,287.7 405.2,280.7 405.3,292.2 405.4,289 405.5,294.7 405.7,275.7 405.8,284.8 405.9,287.1 406.1,288.1 406.2,287.1 406.3,289.1 406.4,272.4 406.6,286.4 406.7,284.7 406.8,279.6 406.9,291.7 407.1,288.1 407.2,283.3 407.3,281.6 407.4,293.9 407.6,273.6 407.7,289.9 407.8,283 407.9,292.6 408.1,309 408.2,302.7 408.3,294.7 408.5,309.2 408.6,310.5 408.7,306.2 408.8,310.5 409,299.7 409.1,302.8 409.2,295.8 409.3,292.1 409.5,294.7 409.6,287.5 409.7,292.7 409.8,310.4 410,300.3 410.1,293.3 410.2,310.4 410.3,309.3 410.5,288.8 410.6,293 410.7,310.4 410.9,300.2 411,300.3 411.1,293 411.2,287 411.4,304.3 411.5,286.5 411.6,296.1 411.7,306.2 411.9,294 412,287.3 412.1,293.7 412.2,292.9 412.4,285.2 412.5,290.9 412.6,281.1 412.7,278.1 412.9,286.5 413,278.4 413.1,285.2 413.3,287.7 413.4,288.7 413.5,302.2 413.6,280.3 413.8,283.5 413.9,283.9 414,280.7 414.1,305.2 414.3,283.1 414.4,287.2 414.5,288.2 414.6,310.3 414.8,289 414.9,286.4 415,303.3 415.1,286.9 415.3,276.3 415.4,299.1 415.5,295.9 415.7,277.4 415.8,278 415.9,285.8 416,279.3 416.2,275.3 416.3,276.8 416.4,298 416.5,290.3 416.7,274.2 416.8,279.4 416.9,280.9 417,278.5 417.2,281.8 417.3,297.8 417.4,281.5 417.5,282.2 417.7,288.2 417.8,284.8 417.9,286.7 418.1,286.9 418.2,283.4 418.3,301.8 418.4,287 418.6,305.3 418.7,288.4 418.8,289.9 418.9,302 419.1,298.8 419.2,308.5 419.3,305.9 419.4,310.1 419.6,273.1 419.7,283.3 419.8,287.7 419.9,284.7 420.1,284.9 420.2,306.6 420.3,270.1 420.5,291.2 420.6,285 420.7,286.8 420.8,295.3 421,285.2 421.1,290.5 421.2,293.9 421.3,292.4 421.5,270.5 421.6,278.7 421.7,274.3 421.8,277.8 422,281.7 422.1,299.5 422.2,278.2 422.3,280.6 422.5,281.7 422.6,295.5 422.7,281 422.9,289.6 423,294.3 423.1,293 423.2,274.3 423.4,278.8 423.5,292.8 423.6,274.7 423.7,285.1 423.9,276.5 424,290.1 424.1,286.7 424.2,276.3 424.4,284.8 424.5,278.8 424.6,281.5 424.7,294.6 424.9,286 425,286.3 425.1,296.8 425.3,286 425.4,297.5 425.5,290.8 425.6,290.7 425.8,286.4 425.9,283.6 426,282.8 426.1,283.8 426.3,295.6 426.4,294.6 426.5,284.1 426.6,299.6 426.8,283.1 426.9,283.6 427,275.9 427.1,278.9 427.3,290.8 427.4,286.9 427.5,279.5 427.7,293 427.8,282.8 427.9,283.6 428,290.8 428.2,286.3 428.3,281.4 428.4,277.2 428.5,295.4 428.7,269.9 428.8,281.9 428.9,274.4 429,282.1 429.2,292.7 429.3,283.6 429.4,283.1 429.5,285.8 429.7,302.8 429.8,297.7 429.9,287.9 430.1,282.3 430.2,284.5 430.3,290.7 430.4,286.5 430.6,287.1 430.7,280.3 430.8,277 430.9,277.5 431.1,285.2 431.2,276.5 431.3,302.6 431.4,286 431.6,287 431.7,290.7 431.8,277.3 431.9,277.6 432.1,285.3 432.2,293.5 432.3,294.6 432.5,305.2 432.6,303.3 432.7,299.8 432.8,299.2 433,289.8 433.1,292.9 433.2,283 433.3,281.6 433.5,292.2 433.6,275 433.7,299.8 433.8,305.7 434,287 434.1,298.1 434.2,293 434.3,283.8 434.5,294.2 434.6,295.7 434.7,300.2 434.9,288.9 435,292.8 435.1,285.8 435.2,297.4 435.4,285.9 435.5,291.5 435.6,279 435.7,283.8 435.9,277.2 436,279 436.1,293.4 436.2,283.8 436.4,284.5 436.5,290.7 436.6,279.5 436.7,301.2 436.9,280.3 437,283.4 437.1,305 437.3,275.3 437.4,302.1 437.5,290.5 437.6,292 437.8,280.9 437.9,290.4 438,280.7 438.1,298.7 438.3,287.9 438.4,284.6 438.5,284.8 438.6,285.9 438.8,293.8 438.9,287.2 439,278.9 439.1,278 439.3,277.2 439.4,290.5 439.5,288.2 439.7,277.2 439.8,273.1 439.9,282.6 440,278.2 440.2,284.9 440.3,280.5 440.4,284.3 440.5,288.6 440.7,292.1 440.8,283.6 440.9,291.5 441,282.2 441.2,277.9 441.3,287.5 441.4,295.7 441.5,297.8 441.7,285.6 441.8,274.8 441.9,289.6 442.1,286.3 442.2,294.8 442.3,300.5 442.4,289.1 442.6,287.8 442.7,291 442.8,288.3 442.9,285.3 443.1,294.2 443.2,285.3 443.3,287.6 443.4,285.9 443.6,282.9 443.7,291.3 443.8,283.1 443.9,286.2 444.1,295.2 444.2,288.7 444.3,280.5 444.5,287.6 444.6,287.1 444.7,295.4 444.8,302.9 445,289.2 445.1,286.1 445.2,299.9 445.3,283.2 445.5,292.3 445.6,295.8 445.7,293 445.8,293.1 446,296.7 446.1,307.7 446.2,298.6 446.3,287.6 446.5,295 446.6,301.6 446.7,308.6 446.9,303.6 447,299.7 447.1,308.6 447.2,305.2 447.4,296.8 447.5,287 447.6,290.5 447.7,295.6 447.9,278.9 448,274.9 448.1,290 448.2,276 448.4,278.2 448.5,286.4 448.6,287.5 448.7,291.5 448.9,293.8 449,298.2 449.1,293.6 449.3,287.7 449.4,273.7 449.5,304.5 449.6,299.3 449.8,296 449.9,288.2 450,280.1 450.1,288 450.3,282.4 450.4,272.9 450.5,289.2 450.6,271.9 450.8,278.5 450.9,295.6 451,276.3 451.1,283.4 451.3,291.5 451.4,284 451.5,275.5 451.7,282.1 451.8,284.9 451.9,274.4 452,295.1 452.2,284.1 452.3,285.7 452.4,281.7 452.5,281.8 452.7,276.1 452.8,268 452.9,282.1 453,277.8 453.2,289.9 453.3,271.3 453.4,281.4 453.5,299.5 453.7,273.1 453.8,274.6 453.9,284.5 454.1,297.6 454.2,275.1 454.3,283.5 454.4,281.8 454.6,279.1 454.7,281.1 454.8,293.3 454.9,284.3 455.1,275.1 455.2,280.8 455.3,287.5 455.4,277.2 455.6,282.1 455.7,283.2 455.8,269.9 455.9,297.9 456.1,268.2 456.2,277.4 456.3,273.9 456.5,269.8 456.6,281.8 456.7,273.9 456.8,268.2 457,283 457.1,279.7 457.2,269.9 457.3,267.7 457.5,286.1 457.6,278.7 457.7,269.7 457.8,284 458,269.6 458.1,274.8 458.2,274.2 458.3,266.7 458.5,287.5 458.6,304.8 458.7,288.5 458.9,286.4 459,280.4 459.1,281.6 459.2,284.4 459.4,287.1 459.5,277.4 459.6,281 459.7,278.5 459.9,284.1 460,286.2 460.1,285.9 460.2,271.8 460.4,269.9 460.5,277 460.6,269.5 460.7,269.7 460.9,275.1 461,275.4 461.1,284.8 461.3,265.4 461.4,283.9 461.5,270.4 461.6,277.7 461.8,262 461.9,269.5 462,265.2 462.1,284.4 462.3,262.8 462.4,279.8 462.5,265.2 462.6,263.6 462.8,274.8 462.9,282.6 463,272.5 463.1,278.6 463.3,275.4 463.4,273.1 463.5,287.7 463.7,274.8 463.8,283.7 463.9,265.7 464,273 464.2,283.5 464.3,269.3 464.4,255.2 464.5,278.2 464.7,275.3 464.8,266.6 464.9,269.5 465,266.4 465.2,274.3 465.3,283.8 465.4,278.3 465.5,276.6 465.7,274.3 465.8,278.4 465.9,274.3 466.1,288.1 466.2,265.2 466.3,268.1 466.4,276.3 466.6,274.9 466.7,272.5 466.8,263.6 466.9,268 467.1,251.5 467.2,248.9 467.3,249.4 467.4,262.4 467.6,272.2 467.7,253.8 467.8,252 467.9,253.7 468.1,274.7 468.2,257.3 468.3,256.1 468.5,250.5 468.6,260.8 468.7,270.4 468.8,258.5 469,249.4 469.1,271.8 469.2,256.5 469.3,276.8 469.5,246.2 469.6,253.9 469.7,257.8 469.8,237.6 470,253.3 470.1,258.2 470.2,249.7 470.3,256.4 470.5,254.4 470.6,244.9 470.7,262.3 470.9,245.4 471,248.1 471.1,242.3 471.2,254.4 471.4,240.7 471.5,238.9 471.6,222.1 471.7,238.8 471.9,252.3 472,223.3 472.1,248.3 472.2,245.3 472.4,230.2 472.5,242.4 472.6,257 472.7,243.6 472.9,245 473,251.6 473.1,234.7 473.3,244.5 473.4,223.4 473.5,226.2 473.6,248.4 473.8,247.1 473.9,242.8 474,220.7 474.1,233.8 474.3,229.1 474.4,261.1 474.5,228.5 474.6,231.3 474.8,239.8 474.9,252.5 475,244.6 475.1,250.4 475.3,259.3 475.4,256.6 475.5,236 475.7,240.6 475.8,271.6 475.9,251.1 476,272.2 476.2,269.3 476.3,267.6 476.4,258.3 476.5,278.3 476.7,256.2 476.8,279.2 476.9,266.6 477,264 477.2,250 477.3,247 477.4,249.4 477.5,247.2 477.7,244.8 477.8,243.8 477.9,256.8 478.1,268.4 478.2,276.5 478.3,261.7 478.4,250.9 478.6,256.8 478.7,268 478.8,251 478.9,260.3 479.1,254.7 479.2,254 479.3,249.2 479.4,262.8 479.6,249 479.7,247.9 479.8,260 480,266.7 480.1,266 480.2,265.3 480.3,255.1 480.5,257.9 480.6,273.1 480.7,285.5 480.8,242.2 481,280.1 481.1,270.3 481.2,267.5 481.3,260.5 481.5,261.1 481.6,256.4 481.7,270.1 481.8,259 482,266 482.1,255.3 482.2,280.6 482.4,275.2 482.5,258.1 482.6,272.2 482.7,263.5 482.9,259 483,265.8 483.1,272.8 483.2,279.9 483.4,268.3 483.5,279.1 483.6,276.1 483.7,278.1 483.9,282.9 484,262.8 484.1,271 484.2,289.8 484.4,263.2 484.5,266.5 484.6,291.2 484.8,264 484.9,272.4 485,273 485.1,268 485.3,277.8 485.4,276.3 485.5,263.8 485.6,285.4 485.8,264.5 485.9,268.7 486,272.4 486.1,276.9 486.3,267.8 486.4,279.8 486.5,261.1 486.6,273.4 486.8,269.7 486.9,269.7 487,272.6 487.2,273.6 487.3,265.4 487.4,270.3 487.5,258.7 487.7,266.5 487.8,275.7 487.9,264.2 488,267.6 488.2,271 488.3,279 488.4,277.7 488.5,275.8 488.7,271.8 488.8,283.9 488.9,262.5 489,290.5 489.2,281.9 489.3,296.1 489.4,289.9 489.6,301.9 489.7,281.9 489.8,270.2 489.9,283 490.1,277.3 490.2,279 490.3,289.2 490.4,272.5 490.6,284.3 490.7,286.3 490.8,288.1 490.9,265.4 491.1,280.7 491.2,275.5 491.3,279.5 491.4,276.3 491.6,280.4 491.7,291.7 491.8,298.5 492,288.8 492.1,273.3 492.2,291.5 492.3,271.7 492.5,277.2 492.6,288.8 492.7,276 492.8,286 493,278.9 493.1,273 493.2,282.3 493.3,277.2 493.5,295.6 493.6,296 493.7,293.2 493.8,272.8 494,294.2 494.1,280.3 494.2,281.2 494.4,279.5 494.5,275.6 494.6,282 494.7,290.5 494.9,298.6 495,291.1 495.1,285.9 495.2,280.7 495.4,279.5 495.5,291.8 495.6,281.7 495.7,277.2 495.9,263.9 496,263.2 496.1,280.2 496.2,280.7 496.4,285 496.5,279.8 496.6,275.2 496.8,269.4 496.9,276.3 497,268.4 497.1,288.2 497.3,291.6 497.4,300.8 497.5,276.4 497.6,279.4 497.8,295 497.9,291.9 498,274.2 498.1,282.3 498.3,287.6 498.4,283.5 498.5,288.7 498.6,285.1 498.8,280.4 498.9,286 499,282.1 499.2,291.1 499.3,272.1 499.4,280.4 499.5,277.8 499.7,281.4 499.8,286.5 499.9,289.5 500,270.5 500.2,294.7 500.3,289.5 500.4,289.2 500.5,285.3 500.7,292.7 500.8,288.2 500.9,273.3 501,281.5 501.2,285.2 501.3,285.5 501.4,285.9 501.6,295.8 501.7,282.4 501.8,284.7 501.9,282.3 502.1,288 502.2,290.9 502.3,280.5 502.4,290.1 502.6,284.1 502.7,302.4 502.8,276.2 502.9,294.1 503.1,304.9 503.2,291.2 503.3,284 503.4,283.6 503.6,292.4 503.7,282.4 503.8,294.2 504,286.1 504.1,282.7 504.2,284.1 504.3,291.3 504.5,295.5 504.6,280.4 504.7,276.9 504.8,276.2 505,286.8 505.1,298.6 505.2,281.2 505.3,291.2 505.5,284.7 505.6,297.7 505.7,281.1 505.8,299.3 506,285 506.1,288.5 506.2,298.3 506.4,292.3 506.5,292.4 506.6,296.1 506.7,292 506.9,301.7 507,293.9 507.1,280.7 507.2,284.9 507.4,280.9 507.5,281.2 507.6,297.5 507.7,277.7 507.9,291.9 508,293.3 508.1,303.4 508.2,281.4 508.4,282.9 508.5,283.4 508.6,279.4 508.8,296.3 508.9,299 509,269.1 509.1,283.2 509.3,295.7 509.4,279.5 509.5,281.9 509.6,286.7 509.8,286 509.9,284.4 510,284.1 510.1,299 510.3,268.1 510.4,279.7 510.5,274.8 510.6,283.6 510.8,278.7 510.9,284.9 511,281.8 511.2,299.8 511.3,272.9 511.4,278.4 511.5,287.5 511.7,279 511.8,282.7 511.9,271.9 512,287.8 512.2,283.2 512.3,289.2 512.4,280.1 512.5,283.5 512.7,282 512.8,302.2 512.9,275.9 513,290.4 513.2,287.9 513.3,295.1 513.4,285.9 513.6,276.6 513.7,287.2 513.8,273.2 513.9,294.9 514.1,287.5 514.2,284.8 514.3,287.6 514.4,297.7 514.6,280.8 514.7,307.5 514.8,286.4 514.9,304 515.1,290.8 515.2,304.3 515.3,278.3 515.4,292.1 515.6,284 515.7,279.5 515.8,289.1 516,281.9 516.1,279 516.2,283.3 516.3,280.5 516.5,285.2 516.6,287.2 516.7,297.1 516.8,287.3 517,282.6 517.1,293.7 517.2,284.8 517.3,280.4 517.5,278.7 517.6,301.5 517.7,286.3 517.8,301.1 518,281.6 518.1,281.6 518.2,303.8 518.4,286.7 518.5,286.1 518.6,284.7 518.7,278.1 518.9,291.9 519,276 519.1,289.9 519.2,278 519.4,308 519.5,292.3 519.6,296.4 519.7,276.2 519.9,290.7 520,284.2 520.1,283.3 520.2,284.3 520.4,298.3 520.5,291.8 520.6,287.3 520.8,286 520.9,284.9 521,284.7 521.1,285.7 521.3,279.4 521.4,280.7 521.5,271.7 521.6,286.6 521.8,291.7 521.9,284.4 522,300.2 522.1,283.8 522.3,289.9 522.4,300.5 522.5,293.5 522.6,286.2 522.8,296.1 522.9,290 523,303.3 523.2,300.2 523.3,291.3 523.4,297.8 523.5,308.6 523.7,304.1 523.8,302.9 523.9,295.1 524,292.7 524.2,291.9 524.3,307.7 524.4,289.6 524.5,302.5 524.7,311.2 524.8,285.5 524.9,300 525,287.3 525.2,292 525.3,295.5 525.4,282.4 525.6,278.7 525.7,283.6 525.8,286.7 525.9,282 526.1,277.9 526.2,288.9 526.3,277 526.4,275.4 526.6,286.5 526.7,304.9 526.8,285 526.9,289.2 527.1,284.2 527.2,288 527.3,285.3 527.4,297 527.6,289.3 527.7,289 527.8,304.3 528,285 528.1,304.3 528.2,294.3 528.3,287.8 528.5,294.6 528.6,292.2 528.7,297.6 528.8,293.2 529,311.3 529.1,304.7 529.2,305 529.3,285.4 529.5,290.8 529.6,302.9 529.7,296.7 529.8,290.8 530,289.3 530.1,299 530.2,277.3 530.4,284.4 530.5,281.1 530.6,300.9 530.7,281.6 530.9,289.3 531,303.7 531.1,289.3 531.2,293.7 531.4,290.1 531.5,293.9 531.6,305 531.7,277.5 531.9,284.2 532,297.2 532.1,303.7 532.2,283.7 532.4,296.9 532.5,291.7 532.6,292.4 532.8,279 532.9,278.9 533,293.3 533.1,293.5 533.3,296.4 533.4,289.5 533.5,311.2 533.6,300.7 533.8,311.2 533.9,298.6 534,302.1 534.1,303.7 534.3,292.9 534.4,287 534.5,289.6 534.6,294.3 534.8,289.3 534.9,310.3 535,288.1 535.2,297.7 535.3,296.5 535.4,289.5 535.5,280 535.7,290.1 535.8,293.4 535.9,287.3 536,286.6 536.2,272.2 536.3,279.6 536.4,285.8 536.5,288.4 536.7,292.8 536.8,284.4 536.9,286.7 537,277.5 537.2,287.4 537.3,287.2 537.4,281.3 537.6,288.7 537.7,281 537.8,280.8 537.9,283.3 538.1,302.9 538.2,276.7 538.3,289.5 538.4,285.9 538.6,288.6 538.7,277.3 538.8,292.1 538.9,291.2 539.1,285 539.2,285 539.3,289.8 539.4,299.1 539.6,281 539.7,304.3 539.8,289.1 540,298.2 540.1,284.4 540.2,306.4 540.3,291.6 540.5,304.9 540.6,285.9 540.7,286.2 540.8,301.4 541,298.1 541.1,294.8 541.2,301.9 541.3,294.1 541.5,287.2 541.6,276.4 541.7,273.3 541.8,293.3 542,291.7 542.1,280.4 542.2,288.9 542.4,283 542.5,283.8 542.6,289.5 542.7,271.9 542.9,284.5 543,285.2 543.1,280.2 543.2,282.5 543.4,274.1 543.5,283.4 543.6,287.6 543.7,289.9 543.9,280.8 544,292.1 544.1,288.2 544.2,291.1 544.4,286.1 544.5,291.4 544.6,288.4 544.8,308 544.9,285.5 545,296.7 545.1,286.6 545.3,276.2 545.4,288.9 545.5,295 545.6,291 545.8,291.7 545.9,281 546,289.7 546.1,279.7 546.3,306.7 546.4,307.5 546.5,288.1 546.6,295.9 546.8,290.3 546.9,295.4 547,298 547.2,291 547.3,296 547.4,304.2 547.5,294.6 547.7,301.8 547.8,292.7 547.9,293.5 548,282.2 548.2,297.8 548.3,280.8 548.4,285 548.5,277.8 548.7,289.2 548.8,278.3 548.9,289.4 549,302 549.2,289.6 549.3,273.3 549.4,298.6 549.6,293 549.7,297.9 549.8,297.1 549.9,304.5 550.1,304.3 550.2,295.6 550.3,286.2 550.4,294.8 550.6,300.6 550.7,278.5 550.8,291 550.9,276 551.1,296.7 551.2,302.5 551.3,293.8 551.4,283.6 551.6,292.7 551.7,297.3 551.8,300 552,297.4 552.1,294.1 552.2,278.4 552.3,284.2 552.5,287.9 552.6,285.2 552.7,271.9 552.8,284.2 553,280.8 553.1,287.3 553.2,288.6 553.3,276.9 553.5,282 553.6,288.9 553.7,281.4 553.8,289.6 554,285 554.1,286.9 554.2,301.3 554.4,293 554.5,289.3 554.6,307.4 554.7,291.1 554.9,293.3 555,293.5 555.1,310.1 555.2,297.8 555.4,298.6 555.5,286.5 555.6,294.4 555.7,294.2 555.9,275.1 556,284 556.1,291.6 556.2,292.2 556.4,280.6 556.5,297.2 556.6,276.1 556.8,289.9 556.9,287.9 557,279.2 557.1,297 557.3,280.9 557.4,286.2 557.5,291.4 557.6,283.2 557.8,302.5 557.9,287.9 558,282.1 558.1,293.4 558.3,290.9 558.4,282.9 558.5,286.9 558.6,299.8 558.8,299.8 558.9,280.9 559,301.7 559.2,301.7 559.3,303 559.4,287.9 559.5,284.8 559.7,288.1 559.8,282.3 559.9,283.3 560,279.4 560.2,280.6 560.3,278.8 560.4,282.7 560.5,284.2 560.7,282 560.8,280.6 560.9,297.9 561,292.4 561.2,289.2 561.3,280.3 561.4,293.4 561.6,288.7 561.7,297.2 561.8,295.1 561.9,309 562.1,292.2 562.2,282.8 562.3,298.6 562.4,298 562.6,298.9 562.7,269 562.8,280.7 562.9,282.2 563.1,277.5 563.2,291.7 563.3,297.3 563.4,301.5 563.6,299.8 563.7,291.2 563.8,303.8 564,291.2 564.1,268.2 564.2,284.4 564.3,280.7 564.5,288.5 564.6,282.8 564.7,284 564.8,299.8 565,283.4 565.1,280.5 565.2,295.2 565.3,300.3 565.5,294.8 565.6,296.6 565.7,291.7 565.8,285.2 566,289.7 566.1,286 566.2,305 566.4,289.2 566.5,301 566.6,283.8 566.7,275.4 566.9,280.1 567,277.7 567.1,283.8 567.2,260.7 567.4,271 567.5,278.1 567.6,272.3 567.7,280.9 567.9,280.6 568,297.4 568.1,297.5 568.2,272.2 568.4,276 568.5,281.7 568.6,288.6 568.8,289.8 568.9,288.9 569,301 569.1,304.7 569.3,297.8 569.4,293 569.5,293.9 569.6,283.5 569.8,295.3 569.9,292.8 570,276.9 570.1,294.8 570.3,280.9 570.4,287 570.5,280 570.6,278.3 570.8,284.3 570.9,272.3 571,277.6 571.2,271.8 571.3,285.4 571.4,281.9 571.5,283.7 571.7,285 571.8,298.2 571.9,296.5 572,292.9 572.2,290.5 572.3,306.3 572.4,306.2 572.5,282.4 572.7,302.5 572.8,295.7 572.9,293.3 573,294.2 573.2,279.2 573.3,305.9 573.4,305.9 573.6,291.3 573.7,290.4 573.8,291 573.9,282.9 574.1,293.4 574.2,287.8 574.3,279.1 574.4,282.8 574.6,280.8 574.7,279.8 574.8,280.5 574.9,287.3 575.1,278.2 575.2,269.6 575.3,294.4 575.4,277.5 575.6,295 575.7,283.6 575.8,286 576,275 576.1,282.1 576.2,279.5 576.3,283.3 576.5,289.5 576.6,282.2 576.7,292.9 576.8,273 577,273.6 577.1,283 577.2,282 577.3,286.1 577.5,291 577.6,280.5 577.7,283.4 577.8,279.2 578,278.1 578.1,275.9 578.2,277.1 578.4,272.2 578.5,275.4 578.6,283.7 578.7,282.6 578.9,290.8 579,278.7 579.1,281.5 579.2,290.6 579.4,280 579.5,280.3 579.6,294.6 579.7,286.1 579.9,296.7 580,289.3 580.1,284.1 580.2,278.7 580.4,299.2 580.5,287.8 580.6,281 580.8,277 580.9,279 581,286.1 581.1,299.8 581.3,277.9 581.4,285.5 581.5,281.8 581.6,254 581.8,266.9 581.9,281 582,259.1 582.1,282 582.3,273.1 582.4,261.1 582.5,290 582.6,274.7 582.8,291.7 582.9,281.2 583,275.2 583.2,292.5 583.3,298.9 583.4,293.5 583.5,271.8 583.7,285.8 583.8,271 583.9,274.8 584,291.4 584.2,268.2 584.3,301.4 584.4,266.5 584.5,267.8 584.7,283.1 584.8,274.4 584.9,274.1 585,268.1 585.2,280.8 585.3,277.2 585.4,275.7 585.6,271.2 585.7,266.8 585.8,278.1 585.9,262.4 586.1,273.7 586.2,284.6 586.3,284.9 586.4,275 586.6,258.6 586.7,282.1 586.8,285.3 586.9,278.5 587.1,292 587.2,291.9 587.3,270.6 587.4,284.1 587.6,283.2 587.7,301.8 587.8,300.4 588,291.8 588.1,296 588.2,297.7 588.3,279.8 588.5,281.1 588.6,277.7 588.7,271.9 588.8,269.8 589,271.8 589.1,259.5 589.2,260.7 589.3,276.2 589.5,285.3 589.6,290.8 589.7,262 589.8,278.9 590,269.5 590.1,271.4 590.2,273.2 590.4,277.6 590.5,278.7 590.6,255.9 590.7,269.7 590.9,284.7 591,276.2 591.1,263.5 591.2,268.1 591.4,268.9 591.5,283.6 591.6,290.6 591.7,266.1 591.9,279.7 592,273.6 592.1,282.7 592.2,276 592.4,269.8 592.5,273.7 592.6,273.7 592.8,293.4 592.9,271.9 593,282.9 593.1,269.7 593.3,270.3 593.4,276.7 593.5,269 593.6,290.6 593.8,282.5 593.9,260.6 594,272 594.1,280.3 594.3,257.9 594.4,264.6 594.5,282.4 594.6,264.6 594.8,279.1 594.9,274.3 595,278.1 595.2,267.6 595.3,274.8 595.4,270.2 595.5,289.7 595.7,276.8 595.8,270.5 595.9,268.6 596,274.5 596.2,256.5 596.3,261.9 596.4,263.7 596.5,265.8 596.7,260 596.8,279.1 596.9,269.4 597,286.2 597.2,271.9 597.3,269.1 597.4,276.8 597.6,276.5 597.7,268.9 597.8,277.2 597.9,283.6 598.1,266.2 598.2,282.5 598.3,266.7 598.4,276 598.6,266 598.7,262.4 598.8,267.2 598.9,255.3 599.1,251.1 599.2,263.4 599.3,261.8 599.4,254.5 599.6,284.3 599.7,265.6 599.8,255.2 600,263.6 600.1,262.3 600.2,253.5 600.3,254.1 600.5,241.2 600.6,259.4 600.7,278.1 600.8,273.5 601,275.5 601.1,261.3 601.2,257.8 601.3,276 601.5,267 601.6,259 601.7,255 601.8,263.1 602,259.1 602.1,249.9 602.2,253.4 602.4,241.6 602.5,247.1 602.6,263.8 602.7,256.2 602.9,254.4 603,266.7 603.1,278.5 603.2,256.8 603.4,260.7 603.5,260 603.6,287.4 603.7,271.4 603.9,262.4 604,247.2 604.1,268.2 604.2,267.3 604.4,260.7 604.5,256.8 604.6,261.1 604.8,250.8 604.9,262.4 605,260.1 605.1,253.9 605.3,256.5 605.4,243.1 605.5,266.3 605.6,251.8 605.8,242.5 605.9,260.7 606,260.3 606.1,252.4 606.3,247.5 606.4,261.3 606.5,269.4 606.6,272.8 606.8,276.3 606.9,275.1 607,249.8 607.2,263.8 607.3,243.3 607.4,269.5 607.5,262.1 607.7,267.9 607.8,258.2 607.9,258.9 608,254.8 608.2,236.5 608.3,260.2 608.4,284.9 608.5,276.1 608.7,258.1 608.8,263 608.9,263.4 609,252.9 609.2,258.8 609.3,263.7 609.4,256 609.6,267.6 609.7,277.1 609.8,273.3 609.9,267.2 610.1,261.8 610.2,270.5 610.3,255.4 610.4,252.6 610.6,268.7 610.7,249.7 610.8,238.6 610.9,255.1 611.1,252.7 611.2,255.7 611.3,245.8 611.4,257.3 611.6,247.6 611.7,240.9 611.8,248.3 612,252.2 612.1,241.6 612.2,249.9 612.3,255 612.5,251.4 612.6,258.3 612.7,260.5 612.8,257.2 613,271.6 613.1,276.9 613.2,253.6 613.3,265.1 613.5,279.4 613.6,273 613.7,249.4 613.8,264.9 614,275.5 614.1,269.6 614.2,269.1 614.4,261.8 614.5,263.9 614.6,254.2 614.7,263.2 614.9,285.2 615,261.4 615.1,253.6 615.2,264.5 615.4,243.9 615.5,280.9 615.6,264.3 615.7,257.2 615.9,256.5 616,252.5 616.1,261.1 616.2,261.6 616.4,250.7 616.5,273.5 616.6,263.2 616.8,258.5 616.9,276.2 617,274 617.1,262.2 617.3,261.3 617.4,276.1 617.5,263.6 617.6,269 617.8,281.1 617.9,259.8 618,258.1 618.1,263.4 618.3,265.7 618.4,270.4 618.5,279.7 618.6,267.5 618.8,287 618.9,272.4 619,255.3 619.2,269.3 619.3,274.9 619.4,278.3 619.5,263.9 619.7,269.3 619.8,291.9 619.9,273.2 620,266 620.2,261.8 620.3,269.7 620.4,275.8 620.5,264.4 620.7,284.9 620.8,267.5 620.9,259.9 621,281.2 621.2,277.5 621.3,277.1 621.4,293.4 621.6,277.3 621.7,290.2 621.8,278.3 621.9,297.5 622.1,280.8 622.2,279.8 622.3,284.3 622.4,277.9 622.6,283 622.7,276.9 622.8,284.8 622.9,279.2 623.1,273.9 623.2,282.7 623.3,281.7 623.4,270.3 623.6,276.8 623.7,268.5 623.8,284.5 624,293.2 624.1,301.5 624.2,290.8 624.3,298.2 624.5,301.7 624.6,294 624.7,270.8 624.8,279.1 625,283.9 625.1,281.2 625.2,278.1 625.3,270 625.5,263 625.6,278.8 625.7,286.2 625.8,273.4 626,281.1 626.1,273 626.2,275.6 626.4,272.4 626.5,282.8 626.6,270 626.7,277.3 626.9,283.6 627,276.6 627.1,268.7 627.2,280.6 627.4,277.1 627.5,269.9 627.6,277.8 627.7,277.2 627.9,284.5 628,276.4 628.1,280.6 628.2,284.9 628.4,266.2 628.5,286.3 628.6,277.2 628.8,269.2 628.9,276.2 629,282 629.1,269.6 629.3,270.3 629.4,284 629.5,285.7 629.6,289.4 629.8,274.4 629.9,267.9 630,268.2 630.1,273.1 630.3,269.3 630.4,280.1 630.5,288.2 630.6,271.6 630.8,291.8 630.9,273.2 631,274.3 631.2,269 631.3,282.8 631.4,276 631.5,275.9 631.7,257 631.8,271.2 631.9,277.9 632,258.1 632.2,294.3 632.3,281.5 632.4,289.3 632.5,278.5 632.7,288.5 632.8,291.9 632.9,303.4 633,274.5 633.2,300.5 633.3,275.4 633.4,284.9 633.6,280.6 633.7,281.8 633.8,269 633.9,279.3 634.1,272.4 634.2,278.7 634.3,281.9 634.4,281 634.6,280.7 634.7,294.8 634.8,286.8 634.9,290.2 635.1,297.4 635.2,285.1 635.3,286.1 635.4,290 635.6,280.6 635.7,291.9 635.8,275.7 636,277.8 636.1,278 636.2,277.1 636.3,279.8 636.5,277.4 636.6,264.8 636.7,290.8 636.8,277.4 637,285.3 637.1,271.3 637.2,282.1 637.3,268.9 637.5,289 637.6,276.2 637.7,273.6 637.8,257 638,260.1 638.1,272 638.2,271.4 638.4,272.3 638.5,274.2 638.6,287.1 638.7,278 638.9,279.5 639,278.2 639.1,276.6 639.2,288.2 639.4,281.6 639.5,282.6 639.6,289.7 639.7,289.3 639.9,297.5 640,298.5 640.1,281.4 640.2,285.8 640.4,300.4 640.5,286.7 640.6,293.7 640.8,278.9 640.9,267.2 641,268.5 641.1,279.1 641.3,281.6 641.4,303.6 641.5,292.7 641.6,291.3 641.8,291.5 641.9,269.8 642,279.3 642.1,276.3 642.3,291.7 642.4,269.7 642.5,263.9 642.6,274.4 642.8,272.9 642.9,275.3 643,276.8 643.2,276.5 643.3,270.9 643.4,272.1 643.5,294.4 643.7,270.8 643.8,279 643.9,269.2 644,264.9 644.2,285.1 644.3,279.7 644.4,290.6 644.5,288.6 644.7,281.5 644.8,273.9 644.9,296.2 645,279 645.2,297.4 645.3,284.3 645.4,286.3 645.6,283.7 645.7,282.5 645.8,277.2 645.9,300.3 646.1,273.6 646.2,270.3 646.3,286 646.4,278.9 646.6,294.6 646.7,284.2 646.8,296 646.9,285.3 647.1,277 647.2,280.6 647.3,290 647.4,278.3 647.6,276.9 647.7,282.2 647.8,286.1 648,293.5 648.1,285 648.2,287.6 648.3,276.9 648.5,293.8 648.6,296.1 648.7,271.9 648.8,278.8 649,277.1 649.1,282.6 649.2,278.8 649.3,277.1 649.5,273.7 649.6,279.9 649.7,284.1 649.8,291.9 650,285.5 650.1,275.2 650.2,271.7 650.4,264.3 650.5,278.9 650.6,273.8 650.7,277.1 650.9,278.3 651,277.1 651.1,273 651.2,272.3 651.4,268 651.5,271.5 651.6,280.6 651.7,298.8 651.9,276.3 652,282.5 652.1,302 652.2,281.4 652.4,277.1 652.5,279 652.6,276.2 652.8,263.6 652.9,283.6 653,263.4 653.1,271.4 653.3,272 653.4,278 653.5,273.9 653.6,273.4 653.8,272.6 653.9,283.5 654,280.2 654.1,277.7 654.3,272.6 654.4,274.3 654.5,279.4 654.6,265.5 654.8,276 654.9,274.7 655,282.1 655.2,268.3 655.3,266 655.4,272 655.5,270.3 655.7,255.4 655.8,283.3 655.9,276.8 656,276.7 656.2,270.5 656.3,278.8 656.4,274.3 656.5,289.1 656.7,281.1 656.8,287.8 656.9,268.4 657,271.7 657.2,275.8 657.3,275.6 657.4,294.7 657.6,284.3 657.7,273.7 657.8,278.6 657.9,295.1 658.1,276.3 658.2,281.4 658.3,264.4 658.4,271.6 658.6,273.9 658.7,273.1 658.8,275.1 658.9,278 659.1,284.7 659.2,265.1 659.3,278.2 659.4,283.2 659.6,280.1 659.7,287.2 659.8,277.2 660,274.8 660.1,271.6 660.2,283.2 660.3,268.4 660.5,274.8 660.6,278.6 660.7,285.3 660.8,280.8 661,278.6 661.1,292.6 661.2,280 661.3,283.2 661.5,274.2 661.6,289.2 661.7,287.3 661.8,272.4 662,281.2 662.1,285.7 662.2,276.6 662.4,269.8 662.5,280.7 662.6,286.2 662.7,269.6 662.9,288.8 663,281.9 663.1,290.1 663.2,276.6 663.4,292.4 663.5,288.3 663.6,293.4 663.7,288 663.9,296.6 664,287.3 664.1,285.7 664.2,282.1 664.4,279 664.5,291.2 664.6,287.2 664.8,288.4 664.9,285.7 665,289.7 665.1,285.8 665.3,280.7 665.4,290 665.5,301.5 665.6,278.5 665.8,282.2 665.9,291.2 666,282.9 666.1,298.5 666.3,285.2 666.4,281.9 666.5,283.2 666.6,298.3 666.8,274.4 666.9,288.4 667,272.6 667.2,293.3 667.3,290.9 667.4,293.6 667.5,306.7 667.7,287.9 667.8,298.5 667.9,293.7 668,297.8 668.2,283.7 668.3,299.1 668.4,287.1 668.5,302.5 668.7,298 668.8,290.7 668.9,295.6 669,295.7 669.2,293.6 669.3,309.6 669.4,286 669.6,282.7 669.7,282.8 669.8,290.1 669.9,291 670.1,296.2 670.2,297.8 670.3,290.8 670.4,289.4 670.6,281.8 670.7,296.3 670.8,299.5 670.9,287.3 671.1,294.7 671.2,284.8 671.3,289.7 671.4,291 671.6,297.2 671.7,279.1 671.8,287.7 672,292.5 672.1,286.8 672.2,288.3 672.3,268.1 672.5,280.4 672.6,285.4 672.7,285.3 672.8,276.6 673,303.5 673.1,296.7 673.2,280.1 673.3,289.3 673.5,293.1 673.6,300.6 673.7,297.7 673.8,284.5 674,286.6 674.1,293.2 674.2,299.4 674.4,287.7 674.5,286.7 674.6,297 674.7,294.1 674.9,305.4 675,298.4 675.1,302.6 675.2,279.4 675.4,282.2 675.5,279.6 675.6,283.6 675.7,289.2 675.9,284.4 676,289.4 676.1,281.2 676.2,294.1 676.4,293.6 676.5,276 676.6,280.7 676.8,284.3 676.9,296 677,296.7 677.1,306.3 677.3,281.3 677.4,294.2 677.5,292.3 677.6,289.9 677.8,290.7 677.9,277.1 678,292.9 678.1,287 678.3,281.1 678.4,301.1 678.5,284.4 678.6,290.5 678.8,284 678.9,277.8 679,284.6 679.2,289.2 679.3,279.8 679.4,289.2 679.5,298.4 679.7,293.1 679.8,282 679.9,278.6 680,290.3 680.2,275.9 680.3,280 680.4,303.4 680.5,294.7 680.7,298 680.8,293 680.9,312.3 681,312.3 681.2,294.7 681.3,302.3 681.4,291.7 681.6,297.2 681.7,304 681.8,303.1 681.9,290 682.1,295.1 682.2,312.5 682.3,298.6 682.4,301.3 682.6,292 682.7,285.9 682.8,278.3 682.9,278.9 683.1,275 683.2,280 683.3,282.8 683.4,295.6 683.6,279.2 683.7,294 683.8,277.4 684,312.8" fill="none" stroke="#000" stroke-width="0.85" stroke-linejoin="bevel"/>
<path d="M199.1 304.7V400.8" stroke="#F7851E" stroke-width="3" stroke-linecap="round"/>
<path d="M262.8 357V400.8" stroke="#F7851E" stroke-width="3" stroke-linecap="round"/>
<path d="M471.2 378V400.8" stroke="#F7851E" stroke-width="3" stroke-linecap="round"/>
<path d="M607.2 377.5V400.8" stroke="#F7851E" stroke-width="3" stroke-linecap="round"/>
<path d="M651 393V400.8" stroke="#F7851E" stroke-width="3" stroke-linecap="round"/>
<path d="M225.9 420V520.5" stroke="#1B1BA8" stroke-width="3" stroke-linecap="round"/>
<path d="M294.4 477V520.5" stroke="#1B1BA8" stroke-width="3" stroke-linecap="round"/>
<path d="M520.8 501V520.5" stroke="#1B1BA8" stroke-width="3" stroke-linecap="round"/>
<path d="M671.9 502.5V520.5" stroke="#1B1BA8" stroke-width="3" stroke-linecap="round"/>
<rect x="101" y="43" width="583" height="477.5" fill="none" stroke="#222" stroke-width="2.6"/>
<path d="M101 400.8H684" stroke="#222" stroke-width="2.6"/>
<path d="M101 520.5V529.5M198.2 520.5V529.5M295.3 520.5V529.5M392.5 520.5V529.5M489.7 520.5V529.5M586.8 520.5V529.5M684 520.5V529.5M149.6 520.5V525.5M246.8 520.5V525.5M343.9 520.5V525.5M441.1 520.5V525.5M538.2 520.5V525.5M635.4 520.5V525.5" stroke="#222" stroke-width="2.4" fill="none"/>
<text x="101" y="559" font-size="30.4" fill="#111" text-anchor="middle">30</text>
<text x="198.2" y="559" font-size="30.4" fill="#111" text-anchor="middle">40</text>
<text x="295.3" y="559" font-size="30.4" fill="#111" text-anchor="middle">50</text>
<text x="392.5" y="559" font-size="30.4" fill="#111" text-anchor="middle">60</text>
<text x="489.7" y="559" font-size="30.4" fill="#111" text-anchor="middle">70</text>
<text x="586.8" y="559" font-size="30.4" fill="#111" text-anchor="middle">80</text>
<text x="684" y="559" font-size="30.4" fill="#111" text-anchor="middle">90</text>
<text x="27.2" y="77" font-size="44.8" fill="#111" text-anchor="start">(a)</text>
<text x="168.7" y="88.3" font-size="27" fill="#111" text-anchor="start">(111)</text>
<text x="233.7" y="162.6" font-size="27" fill="#111" text-anchor="start">(200)</text>
<text x="441.4" y="203" font-size="27" fill="#111" text-anchor="start">(220)</text>
<text x="569.9" y="222" font-size="27" fill="#111" text-anchor="start">(311)</text>
<text x="619.4" y="247" font-size="27" fill="#111" text-anchor="start">(222)</text>
<text x="507.9" y="92.4" font-size="26" fill="#111" text-anchor="start">PdFe PNHs</text>
<text x="372.1" y="345.9" font-size="26" fill="#F5821F" text-anchor="start">JCPDS no: 65-2867 Pd</text>
<text x="373.6" y="468.8" font-size="26" fill="#2B2BA6" text-anchor="start">JCPDS no: 65-9094 Fe</text>
<text transform="translate(62 281.6) rotate(-90)" x="0" y="0" font-size="39" fill="#111" text-anchor="middle">Intensity / a.u.</text>
<text x="351.1" y="610.5" font-size="38" fill="#111" text-anchor="start">2</text>
<text x="376.5" y="610.5" font-size="38" fill="#111" text-anchor="start" font-style="italic">&#952;</text>
<text x="404.5" y="610.5" font-size="38" fill="#111" text-anchor="start">/</text>
<text x="425.6" y="612" font-size="40" fill="#111" text-anchor="start">&#176;</text>
<polygon points="813,520 812.6,460 813.2,443.5 813.7,472.7 814.3,462.2 814.8,461.5 815.4,460.8 816,459.5 816.5,454.6 817.1,448.9 817.6,425 818.2,438.4 818.7,439.8 819.3,458.8 819.8,456.6 820.4,425.7 820.9,430.8 821.5,428.6 822,441.4 822.6,440.8 823.2,445.5 823.7,427.8 824.3,432.7 824.8,467.3 825.4,421.9 825.9,459 826.5,449.4 827,452 827.6,440.6 828.1,439.1 828.7,450.1 829.3,436.9 829.8,438.2 830.4,434.8 830.9,444.2 831.5,437 832,433.9 832.6,446.7 833.1,441 833.7,420 834.2,437.5 834.8,457.9 835.4,444 835.9,459.5 836.5,413.7 837,442.2 837.6,408.7 838.1,444.3 838.7,426.4 839.2,433.4 839.8,442.3 840.3,424.9 840.9,427.5 841.5,432.3 842,448.2 842.6,456.5 843.1,426.1 843.7,423 844.2,435.5 844.8,416.7 845.3,413.1 845.9,437.9 846.4,421.5 847,448.5 847.6,412.1 848.1,444.1 848.7,439.2 849.2,417.3 849.8,424.8 850.3,385.7 850.9,428.4 851.4,427.9 852,418 852.5,450.2 853.1,399.5 853.6,443.3 854.2,434.3 854.8,435.9 855.3,411.4 855.9,440.2 856.4,422.8 857,431.1 857.5,440.4 858.1,414.9 858.6,386.7 859.2,430 859.7,427.8 860.3,420.3 860.9,413.4 861.4,407.9 862,420.6 862.5,425.1 863.1,409.2 863.6,432.1 864.2,410.5 864.7,422.9 865.3,412.2 865.8,415.7 866.4,430.7 867,427.8 867.5,437 868.1,437.9 868.6,424.5 869.2,435.3 869.7,432.6 870.3,432.8 870.8,437.4 871.4,427.6 871.9,428.3 872.5,433.3 873.1,413.4 873.6,438.1 874.2,440.7 874.7,399.8 875.3,439.3 875.8,420.4 876.4,420 876.9,441.5 877.5,421.2 878,437.7 878.6,426.5 879.2,419.3 879.7,461 880.3,426.2 880.8,420.4 881.4,432 881.9,461.8 882.5,415.2 883,453.1 883.6,428 884.1,441.6 884.7,438.5 885.3,454.7 885.8,431.3 886.4,468.9 886.9,439.1 887.5,426.4 888,449.2 888.6,458 889.1,456.1 889.7,459.1 890.2,442.1 890.8,463.8 891.3,454.7 891.9,429.4 892.5,435.8 893,430.8 893.6,436.7 894.1,443.7 894.7,434.7 895.2,438.9 895.8,451.7 896.3,453.1 896.9,461 897.4,398 898,431.3 898.6,429.5 899.1,431 899.7,425.4 900.2,424.5 900.8,446.5 901.3,453.9 901.9,421.4 902.4,446 903,406.2 903.5,443.4 904.1,459.1 904.7,449.7 905.2,426.2 905.8,426.3 906.3,434.8 906.9,457.1 907.4,445.4 908,444.2 908.5,449.3 909.1,428.6 909.6,414.6 910.2,436.5 910.8,438 911.3,448.4 911.9,444.4 912.4,485.9 913,434.6 913.5,430.6 914.1,455.4 914.6,435.2 915.2,459.5 915.7,458.1 916.3,443.3 916.9,442.3 917.4,411.2 918,450.9 918.5,436.6 919.1,443 919.6,448.1 920.2,436.4 920.7,420.7 921.3,425.7 921.8,417.8 922.4,442.8 922.9,428.5 923.5,428.8 924.1,420.9 924.6,425.3 925.2,411.2 925.7,428.3 926.3,411.9 926.8,430.1 927.4,422.6 927.9,431.8 928.5,440.1 929,431.5 929.6,426.9 930.2,435.8 930.7,416.2 931.3,422.2 931.8,427.4 932.4,401.3 932.9,409.4 933.5,443.8 934,413.8 934.6,405.7 935.1,399.9 935.7,371.9 936.3,345 936.8,318.1 937.4,309.2 937.9,285.9 938.5,204.7 939,180.7 939.6,168.4 940.1,115.6 940.7,131 941.2,176.6 941.8,199.8 942.4,256.7 942.9,232.9 943.5,274.2 944,320.7 944.6,335.2 945.1,365.6 945.7,357.6 946.2,334.3 946.8,346.5 947.3,327.7 947.9,350.1 948.5,361.6 949,345.6 949.6,326.5 950.1,303.1 950.7,339 951.2,335.7 951.8,345.6 952.3,366.1 952.9,411.1 953.4,381.8 954,387.8 954.6,387.5 955.1,426.4 955.7,408 956.2,400.7 956.8,421.6 957.3,433.3 957.9,415.2 958.4,430.5 959,410.9 959.5,446.7 960.1,416.8 960.6,430.8 961.2,420 961.8,425.3 962.3,436.3 962.9,425.4 963.4,431.6 964,447.7 964.5,465 965.1,445.4 965.6,437.7 966.2,442.1 966.7,427.3 967.3,431.9 967.9,434.5 968.4,454.7 969,450.8 969.5,450.2 970.1,482.8 970.6,457.3 971.2,468.4 971.7,465.4 972.3,461.9 972.8,468.1 973.4,446.5 974,465.3 974.5,475.9 975.1,483.1 975.6,461.7 976.2,479.2 976.7,472 977.3,458.1 977.8,444.1 978.4,465 978.9,454.5 979.5,474.7 980.1,466.8 980.6,447 981.2,458.7 981.7,468.4 982.3,479 982.8,437.2 983.4,471.4 983.9,452.4 984.5,464.9 985,459 985.6,480.1 986.2,474.8 986.7,491.7 987.3,487.5 987.8,466.2 988.4,450.4 988.9,471.8 989.5,468.2 990,474.8 990.6,464.8 991.1,464.9 991.7,479.3 992.2,473.1 992.8,462.8 993.4,474.8 993.9,461.4 994.5,472.2 995,483.4 995.6,468.9 996.1,460.7 996.7,477.5 997.2,472.1 997.8,495.7 998.3,475.1 998.9,469.3 999.5,462.9 1000,450.8 1000.6,465.5 1001.1,474.5 1001.7,464 1002.2,479.3 1002.8,484.1 1003.3,482.4 1003.9,468.8 1004.4,468.2 1005,486.1 1005.6,470.6 1006.1,471.1 1006.7,471.9 1007.2,492.1 1007.8,458 1008.3,489.7 1008.9,487.3 1009.4,494.6 1010,482.9 1010.5,501.9 1011.1,486.6 1011.7,469.7 1012.2,464.3 1012.8,480 1013.3,484.9 1013.9,483.8 1014.4,491.7 1015,493.8 1015.5,457 1016.1,483.3 1016.6,484.3 1017.2,491.4 1017.8,477.3 1018.3,498.2 1018.9,486.8 1019.4,499.6 1020,478.6 1020.5,482.9 1021.1,469.3 1021.6,471.8 1022.2,477.1 1022.7,473.7 1023.3,482.1 1023.9,483.4 1024.4,479.3 1025,480.5 1025.5,470.1 1026.1,478.8 1026.6,482.6 1027.2,479.1 1027.7,495.8 1028.3,494.8 1028.8,481.5 1029.4,485.4 1029.9,489.1 1030.5,490.2 1031.1,503.6 1031.6,485.5 1032.2,480.3 1032.7,489.2 1033.3,491.1 1033.8,496.1 1034.4,473.7 1034.9,480.9 1035.5,485.7 1036,485.6 1036.6,468.6 1037.2,488.5 1037.7,499.3 1038.3,491.2 1038.8,483.9 1039.4,475.3 1039.9,476.1 1040.5,486 1041,479.2 1041.6,479.4 1042.1,470.7 1042.7,491.3 1043.3,495.1 1043.8,485.9 1044.4,492.5 1044.9,487.7 1045.5,503 1046,486.3 1046.6,487.7 1047.1,477 1047.7,489 1048.2,486.3 1048.8,485.8 1049.4,505.5 1049.9,498.2 1050.5,500.3 1051,492.9 1051.6,480.4 1052.1,489.3 1052.7,498.8 1053.2,480.5 1053.8,487.1 1054.3,488.7 1054.9,498.7 1055.5,488.9 1056,495.4 1056.6,494 1057.1,484.7 1057.7,488.7 1058.2,474.2 1058.8,481.5 1059.3,491.4 1059.9,490.3 1060.4,490.3 1061,487.8 1061.5,496.1 1062.1,494.9 1062.7,490.4 1063.2,475 1063.8,519 1064.3,513.4 1064.9,484 1065.4,506.7 1066,490 1066.5,503.6 1067.1,483.9 1067.6,491.5 1068.2,487.2 1068.8,498.5 1069.3,500.2 1069.9,493.2 1070.4,471 1071,494.1 1071.5,484 1072.1,509.4 1072.6,490.3 1073.2,474.9 1073.7,493.4 1074.3,481.6 1074.9,497.6 1075.4,480.6 1076,495 1076.5,474.7 1077.1,500.1 1077.6,487.6 1078.2,493.8 1078.7,483.7 1079.3,504.2 1079.8,482.3 1080.4,490.2 1081,483 1081.5,495.8 1082.1,471.1 1082.6,470.2 1083.2,490.5 1083.7,478.9 1084.3,476.9 1084.8,490.9 1085.4,486.8 1085.9,464.2 1086.5,489.1 1087.1,483.6 1087.6,479.5 1088.2,497.3 1088.7,496.3 1089.3,504.6 1089.8,487.2 1090.4,483.9 1090.9,517.2 1091.5,501 1092,499.3 1092.6,483.6 1093.2,486.8 1093.7,497.5 1094.3,461.1 1094.8,476.3 1095.4,491 1095.9,470.4 1096.5,495.4 1097,487.1 1097.6,473.9 1098.1,490.7 1098.7,491.9 1099.2,491.6 1099.8,498.5 1100.4,478.7 1100.9,488.9 1101.5,499 1102,497 1102.6,497 1103.1,519 1103.7,491.7 1104.2,490.5 1104.8,502.5 1105.3,495 1105.9,506 1106.5,495.7 1107,514.2 1107.6,491.5 1108.1,495.3 1108.7,506 1109.2,498 1109.8,505.8 1110.3,504.2 1110.9,505 1111.4,484.7 1112,504.7 1112.6,496.8 1113.1,499.2 1113.7,488 1114.2,500.7 1114.8,503.7 1115.3,499.3 1115.9,500.6 1116.4,497.4 1117,493.9 1117.5,500.6 1118.1,494.6 1118.7,495.4 1119.2,501.3 1119.8,506.7 1120.3,514.2 1120.9,508.9 1121.4,499.4 1122,491.4 1122.5,501.9 1123.1,489.2 1123.6,489 1124.2,480.1 1124.8,508.9 1125.3,507.7 1125.9,486.6 1126.4,497.5 1127,499.7 1127.5,510.5 1128.1,509.4 1128.6,487.7 1129.2,498.9 1129.7,481.3 1130.3,495 1130.8,496.6 1131.4,493.7 1132,485.9 1132.5,493.5 1133.1,517 1133.6,491.6 1134.2,498.3 1134.7,508.1 1135.3,508.2 1135.8,498.5 1136.4,516.7 1136.9,517.5 1137.5,506.9 1138.1,508 1138.6,504 1139.2,509.7 1139.7,506.7 1140.3,514.1 1140.8,487.3 1141.4,511.5 1141.9,501.6 1142.5,516.1 1143,513.6 1143.6,501 1144.2,501.9 1144.7,497.4 1145.3,491.9 1145.8,498.8 1146.4,507.7 1146.9,497.6 1147.5,487.3 1148,499 1148.6,489.1 1149.1,499.1 1149.7,504.7 1150.3,506.8 1150.8,508.4 1151.4,489.7 1151.9,473.1 1152.5,496.3 1153,494 1153.6,502.8 1154.1,501.9 1154.7,492.5 1155.2,495.2 1155.8,502.4 1156.4,487.2 1156.9,472.2 1157.5,495.6 1158,493.1 1158.6,486.4 1159.1,503.6 1159.7,490 1160.2,484.4 1160.8,494.4 1161.3,509.7 1161.9,483.5 1162.5,502.9 1163,483.8 1163.6,503.6 1164.1,493.2 1164.7,494.5 1165.2,505.5 1165.8,519 1166.3,483.7 1166.9,498.5 1167.4,493.7 1168,512.8 1168.5,503.2 1169.1,495 1169.7,511.4 1170.2,509.8 1170.8,502.9 1171.3,511.4 1171.9,507 1172.4,512.4 1173,493.5 1173.5,509.2 1174.1,511.9 1174.6,495.2 1175.2,519 1175.8,517.4 1176.3,505.6 1176.9,498.1 1177.4,500.9 1178,502.9 1178.5,507.3 1179.1,491 1179.6,493 1180.2,515.5 1180.7,491.4 1181.3,519 1181.9,502.7 1182.4,490.8 1183,495.9 1183.5,519 1184.1,505.4 1184.6,493.2 1185.2,513.7 1185.7,505.7 1186.3,494.3 1186.8,489 1187.4,484.5 1188,498.6 1188.5,502.7 1189.1,511.8 1189.6,512.5 1190.2,507.7 1190.7,485.2 1191.3,493.4 1191.8,503.6 1192.4,496.1 1192.9,499.2 1193.5,493.6 1194.1,497.3 1194.6,506.1 1195.2,501.3 1195.7,483.1 1196.3,491.8 1196.8,485.2 1197.4,480.6 1197.9,504.5 1198.5,495.3 1199,518 1199.6,501.9 1200.1,500.7 1200.7,491.6 1201.3,489.7 1201.8,503.8 1202.4,492.3 1202.9,511.7 1203.5,506.8 1204,507.2 1204.6,500.5 1205.1,490.8 1205.7,510.8 1206.2,494.9 1206.8,500.6 1207.4,508.4 1207.9,498.4 1208.5,498.2 1209,490.4 1209.6,513 1210.1,519 1210.7,495.9 1211.2,514.4 1211.8,519 1212.3,519 1212.9,513 1213.5,497.1 1214,489.5 1214.6,496.1 1215.1,506.6 1215.7,514.5 1216.2,513.1 1216.8,499.6 1217.3,504.3 1217.9,496.1 1218.4,483.1 1219,493.5 1219.6,509.2 1220.1,506.9 1220.7,501.1 1221.2,500.7 1221.8,519 1222.3,505.9 1222.9,499.6 1223.4,490 1224,497.6 1224.5,507.4 1225.1,499.1 1225.7,508.3 1226.2,499.2 1226.8,519 1227.3,499.1 1227.9,510.7 1228.4,495 1229,504 1229.5,509 1230.1,502.6 1230.6,484.9 1231.2,513.7 1231.8,506.8 1232.3,492.1 1232.9,496.2 1233.4,506.2 1234,493 1234.5,506.1 1235.1,488.9 1235.6,501.7 1236.2,508.3 1236.7,497.5 1237.3,503.2 1237.8,506 1238.4,516.4 1239,515 1239.5,506.7 1240.1,507.7 1240.6,502.2 1241.2,502.2 1241.7,501.7 1242.3,500.7 1242.8,513.6 1243.4,503.2 1243.9,497.6 1244.5,497.5 1245.1,503.7 1245.6,508.6 1246.2,498.8 1246.7,494.5 1247.3,505.2 1247.8,511.9 1248.4,493.7 1248.9,498.8 1249.5,485.2 1250,519 1250.6,492.8 1251.2,491.4 1251.7,504.4 1252.3,498.6 1252.8,508.2 1253.4,492.1 1253.9,499.4 1254.5,498.6 1255,499.7 1255.6,510.2 1256.1,489.9 1256.7,480 1257.3,490.2 1257.8,477 1258.4,491.3 1258.9,483.5 1259.5,481 1260,463.7 1260.6,464.1 1261.1,473.8 1261.7,480.1 1262.2,461.9 1262.8,479.3 1263.4,488.3 1263.9,482.4 1264.5,499.4 1265,495 1265.6,509.3 1266.1,489.6 1266.7,501.8 1267.2,473.1 1267.8,491.9 1268.3,508.8 1268.9,496.8 1269.4,496.1 1270,490.1 1270.6,516.9 1271.1,513.6 1271.7,502.2 1272.2,505.8 1272.8,502.8 1273.3,490.4 1273.9,505.8 1274.4,497.8 1275,495.5 1275.5,512.2 1276.1,502.4 1276.7,492.5 1277.2,506.3 1277.8,500.5 1278.3,503.4 1278.9,498.6 1279.4,502 1280,501.2 1280.5,490.4 1281.1,517.5 1281.6,501.1 1282.2,477.2 1282.8,509 1283.3,487.6 1283.9,505.2 1284.4,516.4 1285,500.2 1285.5,502.1 1286.1,513.7 1286.6,508.8 1287.2,508.1 1287.7,501.8 1288.3,504 1288.9,486.9 1289.4,500.4 1290,503.3 1290.5,510.3 1291.1,509.2 1291.6,493 1292.2,497.7 1292.7,484.7 1293.3,503.3 1293.8,518.4 1294.4,507 1295,499 1295.5,507.4 1296.1,505.2 1296.6,496.1 1297.2,499.3 1297.7,505.5 1298.3,514.4 1298.8,501.5 1299.4,500.1 1299.9,492.9 1300.5,504 1301.1,493.6 1301.6,518.3 1302.2,502 1302.7,472.6 1303.3,511.7 1303.8,501.1 1304.4,497.7 1304.9,499.5 1305.5,492.4 1306,489.8 1306.6,491.5 1307.1,497.1 1307.7,502.4 1308.3,516.7 1308.8,503.3 1309.4,507.7 1309.9,509.5 1310.5,494.1 1311,492.6 1311.6,493.9 1312.1,515.5 1312.7,489.9 1313.2,507.6 1313.8,495.6 1314.4,519 1314.9,491.9 1315.5,493.3 1316,500.2 1316.6,495.1 1317.1,512.2 1317.7,514.2 1318.2,515 1318.8,519 1319.3,499.1 1319.9,509 1320.5,504 1321,500.5 1321.6,509.2 1322.1,519 1322.7,495.7 1323.2,519 1323.8,503.9 1324.3,496.1 1324.9,489.1 1325.4,506.8 1326,500.7 1326.6,498.5 1327.1,495.1 1327.7,499.9 1328.2,498.4 1328.8,503.2 1329.3,485.8 1329.9,504.3 1330.4,510.7 1331,509.1 1331.5,490.1 1332.1,503.1 1332.7,505 1333.2,513 1333.8,510.9 1334.3,512.3 1334.9,501.9 1335.4,509.2 1336,502 1336.5,500.4 1337.1,489.6 1337.6,506.5 1338.2,502.3 1338.7,491 1339.3,517.1 1339.9,502.6 1340.4,509.8 1341,509.6 1341.5,504.9 1342.1,508.3 1342.6,514.2 1343.2,499 1343.7,493.8 1344.3,514.4 1344.8,509.6 1345.4,498.3 1346,514.2 1346.5,494.4 1347.1,506 1347.6,508.3 1348.2,505.5 1348.7,509.6 1349.3,501.4 1349.8,491.6 1350.4,500.8 1350.9,511.4 1351.5,507.2 1352.1,506.9 1352.6,504.9 1353.2,517.7 1353.7,503.8 1354.3,510.8 1354.8,510.6 1355.4,499.5 1355.9,514.2 1356.5,510.4 1357,511.1 1357.6,493.6 1358.2,515.5 1358.7,501.9 1359.3,505.1 1359.8,509.2 1360.4,513.7 1360.9,501.3 1361.5,508.7 1362,505.9 1362.6,505 1363.1,504.6 1363.7,495.9 1364.3,503.3 1364.8,514 1365.4,495 1365.9,489.9 1366.5,516.5 1367,492.9 1367.6,502.4 1368.1,500.4 1368.7,508.2 1369.2,503.3 1369.8,510.7 1370.4,502.6 1370.9,497.1 1371.5,519 1372,507.4 1372.6,510.7 1373.1,495.4 1373.7,500 1374.2,501.8 1374.8,514.3 1375.3,498.6 1375.9,509.4 1376.4,501.9 1377,498.2 1377.6,509.6 1378.1,505.4 1378.7,493.4 1379.2,507.6 1379.8,490.8 1380.3,506.2 1380.9,501.2 1381.4,519 1382,507.2 1382.5,519 1383.1,508.7 1383.7,500.7 1384.2,510.7 1384.8,492.1 1385.3,494.4 1385.9,504 1386.4,518 1387,512.9 1387.5,493.6 1388.1,488 1388.6,508.5 1389.2,493.1 1389.8,497.4 1390.3,502.2 1390.9,499.7 1391.4,501.3 1392,507 1392.5,517.4 1393.1,503.7 1393.6,509.7 1394.2,513.1 1394.7,513.5 1395.3,508.3 1395.9,502.6 1396.4,508.3 1396,520" fill="#EF9434" stroke="none"/>
<polyline points="812.6,460 813.2,443.5 813.7,472.7 814.3,462.2 814.8,461.5 815.4,460.8 816,459.5 816.5,454.6 817.1,448.9 817.6,425 818.2,438.4 818.7,439.8 819.3,458.8 819.8,456.6 820.4,425.7 820.9,430.8 821.5,428.6 822,441.4 822.6,440.8 823.2,445.5 823.7,427.8 824.3,432.7 824.8,467.3 825.4,421.9 825.9,459 826.5,449.4 827,452 827.6,440.6 828.1,439.1 828.7,450.1 829.3,436.9 829.8,438.2 830.4,434.8 830.9,444.2 831.5,437 832,433.9 832.6,446.7 833.1,441 833.7,420 834.2,437.5 834.8,457.9 835.4,444 835.9,459.5 836.5,413.7 837,442.2 837.6,408.7 838.1,444.3 838.7,426.4 839.2,433.4 839.8,442.3 840.3,424.9 840.9,427.5 841.5,432.3 842,448.2 842.6,456.5 843.1,426.1 843.7,423 844.2,435.5 844.8,416.7 845.3,413.1 845.9,437.9 846.4,421.5 847,448.5 847.6,412.1 848.1,444.1 848.7,439.2 849.2,417.3 849.8,424.8 850.3,385.7 850.9,428.4 851.4,427.9 852,418 852.5,450.2 853.1,399.5 853.6,443.3 854.2,434.3 854.8,435.9 855.3,411.4 855.9,440.2 856.4,422.8 857,431.1 857.5,440.4 858.1,414.9 858.6,386.7 859.2,430 859.7,427.8 860.3,420.3 860.9,413.4 861.4,407.9 862,420.6 862.5,425.1 863.1,409.2 863.6,432.1 864.2,410.5 864.7,422.9 865.3,412.2 865.8,415.7 866.4,430.7 867,427.8 867.5,437 868.1,437.9 868.6,424.5 869.2,435.3 869.7,432.6 870.3,432.8 870.8,437.4 871.4,427.6 871.9,428.3 872.5,433.3 873.1,413.4 873.6,438.1 874.2,440.7 874.7,399.8 875.3,439.3 875.8,420.4 876.4,420 876.9,441.5 877.5,421.2 878,437.7 878.6,426.5 879.2,419.3 879.7,461 880.3,426.2 880.8,420.4 881.4,432 881.9,461.8 882.5,415.2 883,453.1 883.6,428 884.1,441.6 884.7,438.5 885.3,454.7 885.8,431.3 886.4,468.9 886.9,439.1 887.5,426.4 888,449.2 888.6,458 889.1,456.1 889.7,459.1 890.2,442.1 890.8,463.8 891.3,454.7 891.9,429.4 892.5,435.8 893,430.8 893.6,436.7 894.1,443.7 894.7,434.7 895.2,438.9 895.8,451.7 896.3,453.1 896.9,461 897.4,398 898,431.3 898.6,429.5 899.1,431 899.7,425.4 900.2,424.5 900.8,446.5 901.3,453.9 901.9,421.4 902.4,446 903,406.2 903.5,443.4 904.1,459.1 904.7,449.7 905.2,426.2 905.8,426.3 906.3,434.8 906.9,457.1 907.4,445.4 908,444.2 908.5,449.3 909.1,428.6 909.6,414.6 910.2,436.5 910.8,438 911.3,448.4 911.9,444.4 912.4,485.9 913,434.6 913.5,430.6 914.1,455.4 914.6,435.2 915.2,459.5 915.7,458.1 916.3,443.3 916.9,442.3 917.4,411.2 918,450.9 918.5,436.6 919.1,443 919.6,448.1 920.2,436.4 920.7,420.7 921.3,425.7 921.8,417.8 922.4,442.8 922.9,428.5 923.5,428.8 924.1,420.9 924.6,425.3 925.2,411.2 925.7,428.3 926.3,411.9 926.8,430.1 927.4,422.6 927.9,431.8 928.5,440.1 929,431.5 929.6,426.9 930.2,435.8 930.7,416.2 931.3,422.2 931.8,427.4 932.4,401.3 932.9,409.4 933.5,443.8 934,413.8 934.6,405.7 935.1,399.9 935.7,371.9 936.3,345 936.8,318.1 937.4,309.2 937.9,285.9 938.5,204.7 939,180.7 939.6,168.4 940.1,115.6 940.7,131 941.2,176.6 941.8,199.8 942.4,256.7 942.9,232.9 943.5,274.2 944,320.7 944.6,335.2 945.1,365.6 945.7,357.6 946.2,334.3 946.8,346.5 947.3,327.7 947.9,350.1 948.5,361.6 949,345.6 949.6,326.5 950.1,303.1 950.7,339 951.2,335.7 951.8,345.6 952.3,366.1 952.9,411.1 953.4,381.8 954,387.8 954.6,387.5 955.1,426.4 955.7,408 956.2,400.7 956.8,421.6 957.3,433.3 957.9,415.2 958.4,430.5 959,410.9 959.5,446.7 960.1,416.8 960.6,430.8 961.2,420 961.8,425.3 962.3,436.3 962.9,425.4 963.4,431.6 964,447.7 964.5,465 965.1,445.4 965.6,437.7 966.2,442.1 966.7,427.3 967.3,431.9 967.9,434.5 968.4,454.7 969,450.8 969.5,450.2 970.1,482.8 970.6,457.3 971.2,468.4 971.7,465.4 972.3,461.9 972.8,468.1 973.4,446.5 974,465.3 974.5,475.9 975.1,483.1 975.6,461.7 976.2,479.2 976.7,472 977.3,458.1 977.8,444.1 978.4,465 978.9,454.5 979.5,474.7 980.1,466.8 980.6,447 981.2,458.7 981.7,468.4 982.3,479 982.8,437.2 983.4,471.4 983.9,452.4 984.5,464.9 985,459 985.6,480.1 986.2,474.8 986.7,491.7 987.3,487.5 987.8,466.2 988.4,450.4 988.9,471.8 989.5,468.2 990,474.8 990.6,464.8 991.1,464.9 991.7,479.3 992.2,473.1 992.8,462.8 993.4,474.8 993.9,461.4 994.5,472.2 995,483.4 995.6,468.9 996.1,460.7 996.7,477.5 997.2,472.1 997.8,495.7 998.3,475.1 998.9,469.3 999.5,462.9 1000,450.8 1000.6,465.5 1001.1,474.5 1001.7,464 1002.2,479.3 1002.8,484.1 1003.3,482.4 1003.9,468.8 1004.4,468.2 1005,486.1 1005.6,470.6 1006.1,471.1 1006.7,471.9 1007.2,492.1 1007.8,458 1008.3,489.7 1008.9,487.3 1009.4,494.6 1010,482.9 1010.5,501.9 1011.1,486.6 1011.7,469.7 1012.2,464.3 1012.8,480 1013.3,484.9 1013.9,483.8 1014.4,491.7 1015,493.8 1015.5,457 1016.1,483.3 1016.6,484.3 1017.2,491.4 1017.8,477.3 1018.3,498.2 1018.9,486.8 1019.4,499.6 1020,478.6 1020.5,482.9 1021.1,469.3 1021.6,471.8 1022.2,477.1 1022.7,473.7 1023.3,482.1 1023.9,483.4 1024.4,479.3 1025,480.5 1025.5,470.1 1026.1,478.8 1026.6,482.6 1027.2,479.1 1027.7,495.8 1028.3,494.8 1028.8,481.5 1029.4,485.4 1029.9,489.1 1030.5,490.2 1031.1,503.6 1031.6,485.5 1032.2,480.3 1032.7,489.2 1033.3,491.1 1033.8,496.1 1034.4,473.7 1034.9,480.9 1035.5,485.7 1036,485.6 1036.6,468.6 1037.2,488.5 1037.7,499.3 1038.3,491.2 1038.8,483.9 1039.4,475.3 1039.9,476.1 1040.5,486 1041,479.2 1041.6,479.4 1042.1,470.7 1042.7,491.3 1043.3,495.1 1043.8,485.9 1044.4,492.5 1044.9,487.7 1045.5,503 1046,486.3 1046.6,487.7 1047.1,477 1047.7,489 1048.2,486.3 1048.8,485.8 1049.4,505.5 1049.9,498.2 1050.5,500.3 1051,492.9 1051.6,480.4 1052.1,489.3 1052.7,498.8 1053.2,480.5 1053.8,487.1 1054.3,488.7 1054.9,498.7 1055.5,488.9 1056,495.4 1056.6,494 1057.1,484.7 1057.7,488.7 1058.2,474.2 1058.8,481.5 1059.3,491.4 1059.9,490.3 1060.4,490.3 1061,487.8 1061.5,496.1 1062.1,494.9 1062.7,490.4 1063.2,475 1063.8,519 1064.3,513.4 1064.9,484 1065.4,506.7 1066,490 1066.5,503.6 1067.1,483.9 1067.6,491.5 1068.2,487.2 1068.8,498.5 1069.3,500.2 1069.9,493.2 1070.4,471 1071,494.1 1071.5,484 1072.1,509.4 1072.6,490.3 1073.2,474.9 1073.7,493.4 1074.3,481.6 1074.9,497.6 1075.4,480.6 1076,495 1076.5,474.7 1077.1,500.1 1077.6,487.6 1078.2,493.8 1078.7,483.7 1079.3,504.2 1079.8,482.3 1080.4,490.2 1081,483 1081.5,495.8 1082.1,471.1 1082.6,470.2 1083.2,490.5 1083.7,478.9 1084.3,476.9 1084.8,490.9 1085.4,486.8 1085.9,464.2 1086.5,489.1 1087.1,483.6 1087.6,479.5 1088.2,497.3 1088.7,496.3 1089.3,504.6 1089.8,487.2 1090.4,483.9 1090.9,517.2 1091.5,501 1092,499.3 1092.6,483.6 1093.2,486.8 1093.7,497.5 1094.3,461.1 1094.8,476.3 1095.4,491 1095.9,470.4 1096.5,495.4 1097,487.1 1097.6,473.9 1098.1,490.7 1098.7,491.9 1099.2,491.6 1099.8,498.5 1100.4,478.7 1100.9,488.9 1101.5,499 1102,497 1102.6,497 1103.1,519 1103.7,491.7 1104.2,490.5 1104.8,502.5 1105.3,495 1105.9,506 1106.5,495.7 1107,514.2 1107.6,491.5 1108.1,495.3 1108.7,506 1109.2,498 1109.8,505.8 1110.3,504.2 1110.9,505 1111.4,484.7 1112,504.7 1112.6,496.8 1113.1,499.2 1113.7,488 1114.2,500.7 1114.8,503.7 1115.3,499.3 1115.9,500.6 1116.4,497.4 1117,493.9 1117.5,500.6 1118.1,494.6 1118.7,495.4 1119.2,501.3 1119.8,506.7 1120.3,514.2 1120.9,508.9 1121.4,499.4 1122,491.4 1122.5,501.9 1123.1,489.2 1123.6,489 1124.2,480.1 1124.8,508.9 1125.3,507.7 1125.9,486.6 1126.4,497.5 1127,499.7 1127.5,510.5 1128.1,509.4 1128.6,487.7 1129.2,498.9 1129.7,481.3 1130.3,495 1130.8,496.6 1131.4,493.7 1132,485.9 1132.5,493.5 1133.1,517 1133.6,491.6 1134.2,498.3 1134.7,508.1 1135.3,508.2 1135.8,498.5 1136.4,516.7 1136.9,517.5 1137.5,506.9 1138.1,508 1138.6,504 1139.2,509.7 1139.7,506.7 1140.3,514.1 1140.8,487.3 1141.4,511.5 1141.9,501.6 1142.5,516.1 1143,513.6 1143.6,501 1144.2,501.9 1144.7,497.4 1145.3,491.9 1145.8,498.8 1146.4,507.7 1146.9,497.6 1147.5,487.3 1148,499 1148.6,489.1 1149.1,499.1 1149.7,504.7 1150.3,506.8 1150.8,508.4 1151.4,489.7 1151.9,473.1 1152.5,496.3 1153,494 1153.6,502.8 1154.1,501.9 1154.7,492.5 1155.2,495.2 1155.8,502.4 1156.4,487.2 1156.9,472.2 1157.5,495.6 1158,493.1 1158.6,486.4 1159.1,503.6 1159.7,490 1160.2,484.4 1160.8,494.4 1161.3,509.7 1161.9,483.5 1162.5,502.9 1163,483.8 1163.6,503.6 1164.1,493.2 1164.7,494.5 1165.2,505.5 1165.8,519 1166.3,483.7 1166.9,498.5 1167.4,493.7 1168,512.8 1168.5,503.2 1169.1,495 1169.7,511.4 1170.2,509.8 1170.8,502.9 1171.3,511.4 1171.9,507 1172.4,512.4 1173,493.5 1173.5,509.2 1174.1,511.9 1174.6,495.2 1175.2,519 1175.8,517.4 1176.3,505.6 1176.9,498.1 1177.4,500.9 1178,502.9 1178.5,507.3 1179.1,491 1179.6,493 1180.2,515.5 1180.7,491.4 1181.3,519 1181.9,502.7 1182.4,490.8 1183,495.9 1183.5,519 1184.1,505.4 1184.6,493.2 1185.2,513.7 1185.7,505.7 1186.3,494.3 1186.8,489 1187.4,484.5 1188,498.6 1188.5,502.7 1189.1,511.8 1189.6,512.5 1190.2,507.7 1190.7,485.2 1191.3,493.4 1191.8,503.6 1192.4,496.1 1192.9,499.2 1193.5,493.6 1194.1,497.3 1194.6,506.1 1195.2,501.3 1195.7,483.1 1196.3,491.8 1196.8,485.2 1197.4,480.6 1197.9,504.5 1198.5,495.3 1199,518 1199.6,501.9 1200.1,500.7 1200.7,491.6 1201.3,489.7 1201.8,503.8 1202.4,492.3 1202.9,511.7 1203.5,506.8 1204,507.2 1204.6,500.5 1205.1,490.8 1205.7,510.8 1206.2,494.9 1206.8,500.6 1207.4,508.4 1207.9,498.4 1208.5,498.2 1209,490.4 1209.6,513 1210.1,519 1210.7,495.9 1211.2,514.4 1211.8,519 1212.3,519 1212.9,513 1213.5,497.1 1214,489.5 1214.6,496.1 1215.1,506.6 1215.7,514.5 1216.2,513.1 1216.8,499.6 1217.3,504.3 1217.9,496.1 1218.4,483.1 1219,493.5 1219.6,509.2 1220.1,506.9 1220.7,501.1 1221.2,500.7 1221.8,519 1222.3,505.9 1222.9,499.6 1223.4,490 1224,497.6 1224.5,507.4 1225.1,499.1 1225.7,508.3 1226.2,499.2 1226.8,519 1227.3,499.1 1227.9,510.7 1228.4,495 1229,504 1229.5,509 1230.1,502.6 1230.6,484.9 1231.2,513.7 1231.8,506.8 1232.3,492.1 1232.9,496.2 1233.4,506.2 1234,493 1234.5,506.1 1235.1,488.9 1235.6,501.7 1236.2,508.3 1236.7,497.5 1237.3,503.2 1237.8,506 1238.4,516.4 1239,515 1239.5,506.7 1240.1,507.7 1240.6,502.2 1241.2,502.2 1241.7,501.7 1242.3,500.7 1242.8,513.6 1243.4,503.2 1243.9,497.6 1244.5,497.5 1245.1,503.7 1245.6,508.6 1246.2,498.8 1246.7,494.5 1247.3,505.2 1247.8,511.9 1248.4,493.7 1248.9,498.8 1249.5,485.2 1250,519 1250.6,492.8 1251.2,491.4 1251.7,504.4 1252.3,498.6 1252.8,508.2 1253.4,492.1 1253.9,499.4 1254.5,498.6 1255,499.7 1255.6,510.2 1256.1,489.9 1256.7,480 1257.3,490.2 1257.8,477 1258.4,491.3 1258.9,483.5 1259.5,481 1260,463.7 1260.6,464.1 1261.1,473.8 1261.7,480.1 1262.2,461.9 1262.8,479.3 1263.4,488.3 1263.9,482.4 1264.5,499.4 1265,495 1265.6,509.3 1266.1,489.6 1266.7,501.8 1267.2,473.1 1267.8,491.9 1268.3,508.8 1268.9,496.8 1269.4,496.1 1270,490.1 1270.6,516.9 1271.1,513.6 1271.7,502.2 1272.2,505.8 1272.8,502.8 1273.3,490.4 1273.9,505.8 1274.4,497.8 1275,495.5 1275.5,512.2 1276.1,502.4 1276.7,492.5 1277.2,506.3 1277.8,500.5 1278.3,503.4 1278.9,498.6 1279.4,502 1280,501.2 1280.5,490.4 1281.1,517.5 1281.6,501.1 1282.2,477.2 1282.8,509 1283.3,487.6 1283.9,505.2 1284.4,516.4 1285,500.2 1285.5,502.1 1286.1,513.7 1286.6,508.8 1287.2,508.1 1287.7,501.8 1288.3,504 1288.9,486.9 1289.4,500.4 1290,503.3 1290.5,510.3 1291.1,509.2 1291.6,493 1292.2,497.7 1292.7,484.7 1293.3,503.3 1293.8,518.4 1294.4,507 1295,499 1295.5,507.4 1296.1,505.2 1296.6,496.1 1297.2,499.3 1297.7,505.5 1298.3,514.4 1298.8,501.5 1299.4,500.1 1299.9,492.9 1300.5,504 1301.1,493.6 1301.6,518.3 1302.2,502 1302.7,472.6 1303.3,511.7 1303.8,501.1 1304.4,497.7 1304.9,499.5 1305.5,492.4 1306,489.8 1306.6,491.5 1307.1,497.1 1307.7,502.4 1308.3,516.7 1308.8,503.3 1309.4,507.7 1309.9,509.5 1310.5,494.1 1311,492.6 1311.6,493.9 1312.1,515.5 1312.7,489.9 1313.2,507.6 1313.8,495.6 1314.4,519 1314.9,491.9 1315.5,493.3 1316,500.2 1316.6,495.1 1317.1,512.2 1317.7,514.2 1318.2,515 1318.8,519 1319.3,499.1 1319.9,509 1320.5,504 1321,500.5 1321.6,509.2 1322.1,519 1322.7,495.7 1323.2,519 1323.8,503.9 1324.3,496.1 1324.9,489.1 1325.4,506.8 1326,500.7 1326.6,498.5 1327.1,495.1 1327.7,499.9 1328.2,498.4 1328.8,503.2 1329.3,485.8 1329.9,504.3 1330.4,510.7 1331,509.1 1331.5,490.1 1332.1,503.1 1332.7,505 1333.2,513 1333.8,510.9 1334.3,512.3 1334.9,501.9 1335.4,509.2 1336,502 1336.5,500.4 1337.1,489.6 1337.6,506.5 1338.2,502.3 1338.7,491 1339.3,517.1 1339.9,502.6 1340.4,509.8 1341,509.6 1341.5,504.9 1342.1,508.3 1342.6,514.2 1343.2,499 1343.7,493.8 1344.3,514.4 1344.8,509.6 1345.4,498.3 1346,514.2 1346.5,494.4 1347.1,506 1347.6,508.3 1348.2,505.5 1348.7,509.6 1349.3,501.4 1349.8,491.6 1350.4,500.8 1350.9,511.4 1351.5,507.2 1352.1,506.9 1352.6,504.9 1353.2,517.7 1353.7,503.8 1354.3,510.8 1354.8,510.6 1355.4,499.5 1355.9,514.2 1356.5,510.4 1357,511.1 1357.6,493.6 1358.2,515.5 1358.7,501.9 1359.3,505.1 1359.8,509.2 1360.4,513.7 1360.9,501.3 1361.5,508.7 1362,505.9 1362.6,505 1363.1,504.6 1363.7,495.9 1364.3,503.3 1364.8,514 1365.4,495 1365.9,489.9 1366.5,516.5 1367,492.9 1367.6,502.4 1368.1,500.4 1368.7,508.2 1369.2,503.3 1369.8,510.7 1370.4,502.6 1370.9,497.1 1371.5,519 1372,507.4 1372.6,510.7 1373.1,495.4 1373.7,500 1374.2,501.8 1374.8,514.3 1375.3,498.6 1375.9,509.4 1376.4,501.9 1377,498.2 1377.6,509.6 1378.1,505.4 1378.7,493.4 1379.2,507.6 1379.8,490.8 1380.3,506.2 1380.9,501.2 1381.4,519 1382,507.2 1382.5,519 1383.1,508.7 1383.7,500.7 1384.2,510.7 1384.8,492.1 1385.3,494.4 1385.9,504 1386.4,518 1387,512.9 1387.5,493.6 1388.1,488 1388.6,508.5 1389.2,493.1 1389.8,497.4 1390.3,502.2 1390.9,499.7 1391.4,501.3 1392,507 1392.5,517.4 1393.1,503.7 1393.6,509.7 1394.2,513.1 1394.7,513.5 1395.3,508.3 1395.9,502.6 1396.4,508.3" fill="none" stroke="#111" stroke-width="1.0" stroke-linejoin="bevel"/>
<rect x="813" y="43" width="583" height="477" fill="none" stroke="#222" stroke-width="2.6"/>
<path d="M888.7 520V529M1011.9 520V529M1135.1 520V529M1258.3 520V529M1381.5 520V529M827.1 520V525M950.3 520V525M1073.5 520V525M1196.7 520V525M1319.9 520V525" stroke="#222" stroke-width="2.4" fill="none"/>
<text x="888.7" y="559" font-size="30.4" fill="#111" text-anchor="middle">2</text>
<text x="1011.9" y="559" font-size="30.4" fill="#111" text-anchor="middle">4</text>
<text x="1135.1" y="559" font-size="30.4" fill="#111" text-anchor="middle">6</text>
<text x="1258.3" y="559" font-size="30.4" fill="#111" text-anchor="middle">8</text>
<text x="1381.5" y="559" font-size="30.4" fill="#111" text-anchor="middle">10</text>
<text x="737.6" y="77.8" font-size="44.8" fill="#111" text-anchor="start">(b)</text>
<text x="924.9" y="118.4" font-size="30.5" fill="#111" text-anchor="start">Pd</text>
<text x="819.6" y="384.6" font-size="30" fill="#111" text-anchor="start">Fe</text>
<text x="1141.2" y="453.6" font-size="30" fill="#111" text-anchor="start">Fe</text>
<text x="1201.6" y="472.6" font-size="30" fill="#111" text-anchor="start">Fe</text>
<path d="M1125 66.3H1373.4M1126 106.6H1370.7M1125 183H1372.4" stroke="#F7901E" stroke-width="2.6"/>
<text x="1128.1" y="95.7" font-size="28.4" fill="#111" text-anchor="start">Element</text>
<text x="1257.5" y="95.7" font-size="28.4" fill="#111" text-anchor="start">Atom / %</text>
<text x="1183" y="137.6" font-size="28.4" fill="#111" text-anchor="middle">Pd</text>
<text x="1301.5" y="137.6" font-size="28.4" fill="#111" text-anchor="middle">86.4</text>
<text x="1183" y="173.6" font-size="28.4" fill="#111" text-anchor="middle">Fe</text>
<text x="1302.7" y="173.6" font-size="28.4" fill="#111" text-anchor="middle">13.6</text>
<text transform="translate(774.3 293.9) rotate(-90)" x="0" y="0" font-size="39" fill="#111" text-anchor="middle">Intensity / a.u.</text>
<text x="1101.7" y="601" font-size="39.2" fill="#111" text-anchor="middle">Energy / keV</text>
<path d="M104 1040 L105 1040.7 L106 1041.4 L107 1040.9 L108 1038.7 L109 1040.7 L110 1040.6 L111 1040 L112 1040.5 L113 1040.4 L114 1039.8 L115 1039.6 L116 1038.9 L117 1040.1 L118 1038.1 L119 1039.5 L120 1039 L121 1039.1 L122 1038.7 L123 1038.8 L124 1038.2 L125 1038 L126 1039.5 L127 1038.1 L128 1039 L129 1038.8 L130 1038.6 L131 1038.8 L132 1038.7 L133 1039.4 L134 1038.9 L135 1038.8 L136 1039.6 L137 1039.3 L138 1039.7 L139 1039.1 L140 1039.6 L141 1040.3 L142 1040.4 L143 1039.3 L144 1040 L145 1039.5 L146 1040.7 L147 1039.7 L148 1039.3 L149 1039.8 L150 1039.9 L151 1042.1 L152 1040.4 L153 1041.3 L154 1040.5 L155 1041.3 L156 1041.8 L157 1041.7 L158 1042.1 L159 1041.9 L160 1041.3 L161 1041.7 L162 1041.4 L163 1041 L164 1042.6 L165 1040.7 L166 1040.5 L167 1040.9 L168 1041.8 L169 1040.9 L170 1041.2 L171 1040.6 L172 1041.7 L173 1041.1 L174 1040.9 L175 1041.7 L176 1040.3 L177 1041.6 L178 1041.2 L179 1039.9 L180 1040.4 L181 1040.7 L182 1039.7 L183 1039.8 L184 1041 L185 1041.7 L186 1041 L187 1040.3 L188 1039.9 L189 1039.2 L190 1040.1 L191 1039.2 L192 1039.5 L193 1039.4 L194 1039.7 L195 1039.4 L196 1037.7 L197 1038.5 L198 1039.3 L199 1039.3 L200 1038.9 L201 1038.9 L202 1037.5 L203 1038 L204 1037.9 L205 1038.2 L206 1037.6 L207 1037 L208 1037.7 L209 1037 L210 1037.2 L211 1035.7 L212 1036.5 L213 1036.6 L214 1036.9 L215 1035.9 L216 1034.7 L217 1034.6 L218 1035.8 L219 1035.5 L220 1034.6 L221 1033.9 L222 1034.8 L223 1033.6 L224 1033.6 L225 1032.5 L226 1031.6 L227 1032.9 L228 1033.6 L229 1032.1 L230 1031.2 L231 1032.4 L232 1030.7 L233 1029.6 L234 1030.2 L235 1030.4 L236 1029.3 L237 1029.4 L238 1029 L239 1028.7 L240 1029.1 L241 1027.9 L242 1027.7 L243 1027.8 L244 1026.4 L245 1026.6 L246 1025.3 L247 1025.3 L248 1024.7 L249 1024.9 L250 1024.3 L251 1022.9 L252 1022.3 L253 1021.7 L254 1021.3 L255 1020.9 L256 1020.8 L257 1019.8 L258 1020.8 L259 1019.9 L260 1019.9 L261 1018.4 L262 1017.9 L263 1016.8 L264 1017.1 L265 1016.1 L266 1015.1 L267 1014.8 L268 1015.1 L269 1014.3 L270 1012.8 L271 1011 L272 1009.8 L273 1010.8 L274 1010.2 L275 1009.5 L276 1009.1 L277 1008.6 L278 1007.1 L279 1006.6 L280 1007.2 L281 1006.9 L282 1005 L283 1004.3 L284 1004 L285 1003 L286 1002.2 L287 1001.4 L288 1001.6 L289 999.6 L290 999.6 L291 997.8 L292 998.1 L293 997.2 L294 996.1 L295 995.6 L296 993.6 L297 993.3 L298 992.6 L299 992 L300 991.1 L301 989.7 L302 989.2 L303 988.4 L304 988.6 L305 986.1 L306 985 L307 983.8 L308 982.1 L309 980.7 L310 979.9 L311 977.8 L312 976 L313 974.6 L314 973.7 L315 970.2 L316 968.6 L317 966.8 L318 964.6 L319 962.8 L320 960.3 L321 956 L322 953.9 L323 951.5 L324 947.7 L325 943.1 L326 939.6 L327 936.1 L328 932.5 L329 927.2 L330 924 L331 918.5 L332 914.5 L333 909.7 L334 904.5 L335 899.7 L336 893.8 L337 888.6 L338 883.9 L339 877.4 L340 872 L341 866.3 L342 863.1 L343 856.7 L344 853.1 L345 848.4 L346 844.8 L347 841.1 L348 838.5 L349 837.1 L350 835.2 L351 833.9 L352 834.6 L353 834.9 L354 838 L355 841.2 L356 844.7 L357 850.2 L358 855.6 L359 860.5 L360 867.6 L361 873.8 L362 881.1 L363 888.2 L364 895.7 L365 902.2 L366 910 L367 916.4 L368 925 L369 930.4 L370 937.1 L371 942.4 L372 948.9 L373 955.3 L374 959.2 L375 965.7 L376 970.2 L377 976.3 L378 979.9 L379 984.2 L380 987.8 L381 992 L382 994.2 L383 999.2 L384 1001.9 L385 1003.4 L386 1007.4 L387 1009.8 L388 1013.2 L389 1014.5 L390 1017 L391 1019.3 L392 1020.9 L393 1023.9 L394 1025 L395 1026 L396 1028.1 L397 1029.3 L398 1031.8 L399 1031.6 L400 1032.4 L401 1035.8 L402 1035.5 L403 1037.1 L404 1037.3 L405 1037.8 L406 1039.2 L407 1039.6 L408 1039.9 L409 1039.7 L410 1041.6 L411 1042.8 L412 1043.1 L413 1042.1 L414 1044.1 L415 1042.8 L416 1043.7 L417 1044.3 L418 1044.6 L419 1044.3 L420 1044.8 L421 1045.2 L422 1045.3 L423 1045.7 L424 1045.9 L425 1045.5 L426 1045 L427 1045.9 L428 1045.4 L429 1044.8 L430 1043.8 L431 1045.1 L432 1045.1 L433 1045 L434 1043.4 L435 1043.5 L436 1042.1 L437 1042.8 L438 1042.3 L439 1041.2 L440 1041.4 L441 1041.2 L442 1040.6 L443 1038.9 L444 1038.8 L445 1038.8 L446 1037.4 L447 1036.6 L448 1036 L449 1036 L450 1034.6 L451 1032.9 L452 1033.6 L453 1034.1 L454 1031.9 L455 1031.6 L456 1030.2 L457 1029 L458 1027.6 L459 1027.7 L460 1026.5 L461 1026.2 L462 1025 L463 1024.5 L464 1022.1 L465 1022.6 L466 1022 L467 1020.9 L468 1020.7 L469 1018.9 L470 1018.4 L471 1016 L472 1016.6 L473 1015.7 L474 1013.7 L475 1011.9 L476 1011.6 L477 1011.1 L478 1011 L479 1008.3 L480 1008.1 L481 1007.1 L482 1005.9 L483 1003.9 L484 1003.5 L485 1001 L486 999.3 L487 999 L488 997.1 L489 994.7 L490 995.3 L491 993.3 L492 991.4 L493 988.7 L494 986.8 L495 984.2 L496 983 L497 980.5 L498 978.1 L499 976.4 L500 972.4 L501 969.6 L502 965.6 L503 964.1 L504 960.2 L505 954.2 L506 950.1 L507 948 L508 943.5 L509 937.8 L510 933 L511 925.9 L512 920.9 L513 915.3 L514 908.2 L515 901.1 L516 894.5 L517 886.8 L518 880.8 L519 871.5 L520 863.2 L521 854 L522 847.4 L523 837.6 L524 829.2 L525 819.8 L526 811.1 L527 802.2 L528 793.3 L529 785.9 L530 777.5 L531 771.2 L532 765 L533 760.1 L534 755 L535 754.1 L536 751.2 L537 750.3 L538 751.3 L539 755.4 L540 759.9 L541 766.5 L542 772.6 L543 782.2 L544 792.2 L545 803 L546 812.4 L547 824.5 L548 836.1 L549 848.3 L550 860 L551 871.9 L552 882.6 L553 894.5 L554 904 L555 915.2 L556 926.4 L557 933.9 L558 944.5 L559 952.7 L560 959.7 L561 967.8 L562 975 L563 980.8 L564 986.4 L565 993.4 L566 998.2 L567 1004.5 L568 1007.9 L569 1014.7 L570 1019.1 L571 1021.1 L572 1024 L573 1028.8 L574 1031.4 L575 1034.6 L576 1036.5 L577 1039.1 L578 1042.7 L579 1043.8 L580 1045.5 L581 1049 L582 1050.9 L583 1052.1 L584 1053.3 L585 1056.5 L586 1056.7 L587 1058.7 L588 1058.8 L589 1060 L590 1062.1 L591 1064 L592 1063.5 L593 1064.8 L594 1065.9 L595 1067.9 L596 1067.9 L597 1069 L598 1070.1 L599 1070.8 L600 1072.1 L601 1071 L602 1072.6 L603 1073.3 L604 1073 L605 1074.4 L606 1075.1 L607 1075.3 L608 1075.6 L609 1077.3 L610 1077.2 L611 1077.5 L612 1078.2 L613 1078.2 L614 1079.1 L615 1079.7 L616 1079.2 L617 1080.1 L618 1080.5 L619 1081 L620 1081.1 L621 1081.7 L622 1081.7 L623 1081.8 L624 1082.3 L625 1082 L626 1083.6 L627 1083.8 L628 1083.3 L629 1083.6 L630 1083.9 L631 1083.9 L632 1084.2 L633 1085.5 L634 1085.3 L635 1086.2 L636 1086.2 L637 1086.4 L638 1085.6 L639 1087.7 L640 1086.7 L641 1085.6 L642 1087 L643 1087.2 L644 1087.9 L645 1087.1 L646 1088.1 L647 1087.9 L648 1089.1 L649 1088.3 L650 1089 L651 1089.4 L652 1088.5 L653 1089.3 L654 1089.3 L655 1090.4 L656 1090 L657 1089.3 L658 1091 L659 1089.7 L660 1090.1 L661 1090.4 L662 1090.8 L663 1090.2 L664 1090.5 L665 1090.6 L666 1091.1 L667 1090.6 L668 1090.9 L669 1090.4 L670 1092.5 L671 1091.8 L672 1092.4 L673 1091.3 L674 1090.7 L675 1090.9 L676 1091.3 L677 1092.5 L678 1092 L679 1092 L680 1091.6 L681 1093.5 L682 1091.8 L683 1092.6 L684 1092.6 L685 1092.8" fill="none" stroke="#bdbdbd" stroke-width="2.2"/>
<path d="M104 1050.6 L105 1050.6 L106 1050.7 L107 1050.8 L108 1050.8 L109 1050.9 L110 1051 L111 1051.1 L112 1051.1 L113 1051.2 L114 1051.3 L115 1051.4 L116 1051.4 L117 1051.5 L118 1051.6 L119 1051.6 L120 1051.7 L121 1051.8 L122 1051.9 L123 1051.9 L124 1052 L125 1052.1 L126 1052.1 L127 1052.2 L128 1052.3 L129 1052.4 L130 1052.4 L131 1052.5 L132 1052.6 L133 1052.6 L134 1052.7 L135 1052.8 L136 1052.8 L137 1052.9 L138 1053 L139 1053.1 L140 1053.1 L141 1053.2 L142 1053.3 L143 1053.3 L144 1053.4 L145 1053.5 L146 1053.5 L147 1053.6 L148 1053.7 L149 1053.7 L150 1053.8 L151 1053.9 L152 1053.9 L153 1054 L154 1054.1 L155 1054.1 L156 1054.2 L157 1054.3 L158 1054.3 L159 1054.4 L160 1054.5 L161 1054.5 L162 1054.6 L163 1054.7 L164 1054.7 L165 1054.8 L166 1054.8 L167 1054.9 L168 1055 L169 1055 L170 1055.1 L171 1055.2 L172 1055.2 L173 1055.3 L174 1055.3 L175 1055.4 L176 1055.5 L177 1055.5 L178 1055.6 L179 1055.6 L180 1055.7 L181 1055.7 L182 1055.8 L183 1055.9 L184 1055.9 L185 1056 L186 1056 L187 1056.1 L188 1056.1 L189 1056.2 L190 1056.2 L191 1056.3 L192 1056.3 L193 1056.4 L194 1056.4 L195 1056.5 L196 1056.5 L197 1056.6 L198 1056.6 L199 1056.7 L200 1056.7 L201 1056.8 L202 1056.8 L203 1056.9 L204 1056.9 L205 1057 L206 1057 L207 1057.1 L208 1057.1 L209 1057.1 L210 1057.2 L211 1057.2 L212 1057.3 L213 1057.3 L214 1057.3 L215 1057.4 L216 1057.4 L217 1057.4 L218 1057.5 L219 1057.5 L220 1057.5 L221 1057.5 L222 1057.6 L223 1057.6 L224 1057.6 L225 1057.7 L226 1057.7 L227 1057.7 L228 1057.7 L229 1057.7 L230 1057.8 L231 1057.8 L232 1057.8 L233 1057.8 L234 1057.8 L235 1057.8 L236 1057.8 L237 1057.8 L238 1057.8 L239 1057.8 L240 1057.8 L241 1057.8 L242 1057.8 L243 1057.8 L244 1057.8 L245 1057.8 L246 1057.8 L247 1057.7 L248 1057.7 L249 1057.7 L250 1057.7 L251 1057.6 L252 1057.6 L253 1057.6 L254 1057.5 L255 1057.5 L256 1057.4 L257 1057.4 L258 1057.3 L259 1057.3 L260 1057.2 L261 1057.2 L262 1057.1 L263 1057 L264 1056.9 L265 1056.8 L266 1056.7 L267 1056.6 L268 1056.5 L269 1056.4 L270 1056.3 L271 1056.2 L272 1056.1 L273 1055.9 L274 1055.8 L275 1055.6 L276 1055.4 L277 1055.3 L278 1055.1 L279 1054.9 L280 1054.7 L281 1054.5 L282 1054.2 L283 1054 L284 1053.7 L285 1053.5 L286 1053.2 L287 1052.9 L288 1052.6 L289 1052.2 L290 1051.8 L291 1051.5 L292 1051 L293 1050.6 L294 1050.1 L295 1049.6 L296 1049.1 L297 1048.5 L298 1047.9 L299 1047.3 L300 1046.6 L301 1045.8 L302 1045 L303 1044.2 L304 1043.2 L305 1042.2 L306 1041.2 L307 1040 L308 1038.8 L309 1037.4 L310 1036 L311 1034.5 L312 1032.8 L313 1031 L314 1029.1 L315 1027.1 L316 1024.9 L317 1022.6 L318 1020.1 L319 1017.5 L320 1014.6 L321 1011.6 L322 1008.5 L323 1005.1 L324 1001.5 L325 997.8 L326 993.8 L327 989.7 L328 985.3 L329 980.8 L330 976 L331 971.1 L332 965.9 L333 960.7 L334 955.2 L335 949.6 L336 943.9 L337 938.2 L338 932.3 L339 926.5 L340 920.7 L341 914.9 L342 909.4 L343 904 L344 898.9 L345 894.2 L346 889.9 L347 886.1 L348 882.9 L349 880.3 L350 878.4 L351 877.3 L352 876.9 L353 877.4 L354 878.9 L355 881.4 L356 884.8 L357 888.9 L358 893.8 L359 899.2 L360 905.1 L361 911.4 L362 917.9 L363 924.5 L364 931.2 L365 937.8 L366 944.4 L367 950.8 L368 957.1 L369 963.1 L370 968.9 L371 974.5 L372 979.9 L373 984.9 L374 989.8 L375 994.4 L376 998.7 L377 1002.8 L378 1006.7 L379 1010.3 L380 1013.7 L381 1017 L382 1020 L383 1022.8 L384 1025.5 L385 1028 L386 1030.4 L387 1032.6 L388 1034.7 L389 1036.6 L390 1038.4 L391 1040.2 L392 1041.8 L393 1043.3 L394 1044.7 L395 1046.1 L396 1047.4 L397 1048.6 L398 1049.7 L399 1050.8 L400 1051.8 L401 1052.8 L402 1053.7 L403 1054.5 L404 1055.4 L405 1056.2 L406 1056.9 L407 1057.6 L408 1058.3 L409 1059 L410 1059.6 L411 1060.2 L412 1060.8 L413 1061.4 L414 1061.9 L415 1062.4 L416 1062.9 L417 1063.4 L418 1063.9 L419 1064.3 L420 1064.8 L421 1065.2 L422 1065.6 L423 1066 L424 1066.4 L425 1066.8 L426 1067.1 L427 1067.5 L428 1067.8 L429 1068.2 L430 1068.5 L431 1068.8 L432 1069.1 L433 1069.4 L434 1069.7 L435 1070 L436 1070.3 L437 1070.5 L438 1070.8 L439 1071.1 L440 1071.3 L441 1071.6 L442 1071.8 L443 1072 L444 1072.3 L445 1072.5 L446 1072.7 L447 1073 L448 1073.2 L449 1073.4 L450 1073.6 L451 1073.8 L452 1074 L453 1074.2 L454 1074.4 L455 1074.6 L456 1074.8 L457 1075 L458 1075.1 L459 1075.3 L460 1075.5 L461 1075.7 L462 1075.8 L463 1076 L464 1076.2 L465 1076.4 L466 1076.5 L467 1076.7 L468 1076.8 L469 1077 L470 1077.2 L471 1077.3 L472 1077.5 L473 1077.6 L474 1077.8 L475 1077.9 L476 1078.1 L477 1078.2 L478 1078.3 L479 1078.5 L480 1078.6 L481 1078.8 L482 1078.9 L483 1079 L484 1079.2 L485 1079.3 L486 1079.4 L487 1079.6 L488 1079.7 L489 1079.8 L490 1080 L491 1080.1 L492 1080.2 L493 1080.3 L494 1080.5 L495 1080.6 L496 1080.7 L497 1080.8 L498 1081 L499 1081.1 L500 1081.2 L501 1081.3 L502 1081.4 L503 1081.6 L504 1081.7 L505 1081.8 L506 1081.9 L507 1082 L508 1082.1 L509 1082.2 L510 1082.4 L511 1082.5 L512 1082.6 L513 1082.7 L514 1082.8 L515 1082.9 L516 1083 L517 1083.1 L518 1083.2 L519 1083.4 L520 1083.6 L521 1083.7 L522 1083.8 L523 1084 L524 1084.1 L525 1084.3 L526 1084.4 L527 1084.6 L528 1084.7 L529 1084.9 L530 1085.1 L531 1085.2 L532 1085.3 L533 1085.5 L534 1085.7 L535 1085.9 L536 1086.1 L537 1086.3 L538 1086.6 L539 1086.9 L540 1087.2 L541 1087.6 L542 1088 L543 1088.5 L544 1088.9 L545 1089.4 L546 1089.9 L547 1090.4 L548 1090.9 L549 1091.5 L550 1092 L551 1092.5 L552 1093 L553 1093.4 L554 1093.9 L555 1094.3 L556 1094.7 L557 1095 L558 1095.3 L559 1095.6 L560 1095.8 L561 1096.1 L562 1096.3 L563 1096.4 L564 1096.6 L565 1096.7 L566 1096.8 L567 1097 L568 1097 L569 1097.1 L570 1097.2 L571 1097.3 L572 1097.3 L573 1097.4 L574 1097.4 L575 1097.5 L576 1097.5 L577 1097.6 L578 1097.6 L579 1097.6 L580 1097.6 L581 1097.7 L582 1097.7 L583 1097.7 L584 1097.8 L585 1097.8 L586 1097.8 L587 1097.8 L588 1097.8 L589 1097.9 L590 1097.9 L591 1097.9 L592 1097.9 L593 1097.9 L594 1098 L595 1098 L596 1098 L597 1098 L598 1098 L599 1098 L600 1098.1 L601 1098.1 L602 1098.1 L603 1098.1 L604 1098.1 L605 1098.1 L606 1098.2 L607 1098.2 L608 1098.2 L609 1098.2 L610 1098.2 L611 1098.2 L612 1098.3 L613 1098.3 L614 1098.3 L615 1098.3 L616 1098.3 L617 1098.3 L618 1098.3 L619 1098.4 L620 1098.4 L621 1098.4 L622 1098.4 L623 1098.4 L624 1098.4 L625 1098.4 L626 1098.5 L627 1098.5 L628 1098.5 L629 1098.5 L630 1098.5 L631 1098.5 L632 1098.5 L633 1098.6 L634 1098.6 L635 1098.6 L636 1098.6 L637 1098.6 L638 1098.6 L639 1098.6 L640 1098.7 L641 1098.7 L642 1098.7 L643 1098.7 L644 1098.7 L645 1098.7 L646 1098.7 L647 1098.8 L648 1098.8 L649 1098.8 L650 1098.8 L651 1098.8 L652 1098.8 L653 1098.8 L654 1098.8 L655 1098.9 L656 1098.9 L657 1098.9 L658 1098.9 L659 1098.9 L660 1098.9 L661 1098.9 L662 1098.9 L663 1099 L664 1099 L665 1099 L666 1099 L667 1099 L668 1099 L669 1099 L670 1099 L671 1099.1 L672 1099.1 L673 1099.1 L674 1099.1 L675 1099.1 L676 1099.1 L677 1099.1 L678 1099.1 L679 1099.2 L680 1099.2 L681 1099.2 L682 1099.2 L683 1099.2 L684 1099.2 L685 1099.2 L685 1099.8 L684 1099.8 L683 1099.8 L682 1099.8 L681 1099.8 L680 1099.7 L679 1099.7 L678 1099.7 L677 1099.7 L676 1099.7 L675 1099.7 L674 1099.7 L673 1099.7 L672 1099.7 L671 1099.7 L670 1099.7 L669 1099.7 L668 1099.6 L667 1099.6 L666 1099.6 L665 1099.6 L664 1099.6 L663 1099.6 L662 1099.6 L661 1099.6 L660 1099.6 L659 1099.6 L658 1099.6 L657 1099.6 L656 1099.5 L655 1099.5 L654 1099.5 L653 1099.5 L652 1099.5 L651 1099.5 L650 1099.5 L649 1099.5 L648 1099.5 L647 1099.5 L646 1099.5 L645 1099.5 L644 1099.4 L643 1099.4 L642 1099.4 L641 1099.4 L640 1099.4 L639 1099.4 L638 1099.4 L637 1099.4 L636 1099.4 L635 1099.4 L634 1099.4 L633 1099.4 L632 1099.3 L631 1099.3 L630 1099.3 L629 1099.3 L628 1099.3 L627 1099.3 L626 1099.3 L625 1099.3 L624 1099.3 L623 1099.3 L622 1099.3 L621 1099.3 L620 1099.2 L619 1099.2 L618 1099.2 L617 1099.2 L616 1099.2 L615 1099.2 L614 1099.2 L613 1099.2 L612 1099.2 L611 1099.2 L610 1099.2 L609 1099.2 L608 1099.1 L607 1099.1 L606 1099.1 L605 1099.1 L604 1099.1 L603 1099.1 L602 1099.1 L601 1099.1 L600 1099.1 L599 1099.1 L598 1099.1 L597 1099.1 L596 1099 L595 1099 L594 1099 L593 1099 L592 1099 L591 1099 L590 1099 L589 1099 L588 1099 L587 1099 L586 1098.9 L585 1098.9 L584 1098.9 L583 1098.9 L582 1098.9 L581 1098.9 L580 1098.9 L579 1098.8 L578 1098.8 L577 1098.8 L576 1098.8 L575 1098.7 L574 1098.7 L573 1098.7 L572 1098.6 L571 1098.6 L570 1098.5 L569 1098.5 L568 1098.4 L567 1098.3 L566 1098.2 L565 1098.1 L564 1098 L563 1097.8 L562 1097.7 L561 1097.5 L560 1097.3 L559 1097.1 L558 1096.8 L557 1096.5 L556 1096.2 L555 1095.8 L554 1095.4 L553 1095 L552 1094.6 L551 1094.1 L550 1093.6 L549 1093.1 L548 1092.6 L547 1092.1 L546 1091.6 L545 1091.1 L544 1090.6 L543 1090.2 L542 1089.8 L541 1089.4 L540 1089 L539 1088.7 L538 1088.4 L537 1088.2 L536 1087.9 L535 1087.7 L534 1087.6 L533 1087.4 L532 1087.3 L531 1087.2 L530 1087.1 L529 1086.9 L528 1086.8 L527 1086.6 L526 1086.5 L525 1086.4 L524 1086.2 L523 1086.1 L522 1086 L521 1085.9 L520 1085.8 L519 1085.6 L518 1085.5 L517 1085.4 L516 1085.4 L515 1085.3 L514 1085.2 L513 1085.1 L512 1085 L511 1084.9 L510 1084.9 L509 1084.8 L508 1084.7 L507 1084.6 L506 1084.5 L505 1084.5 L504 1084.4 L503 1084.3 L502 1084.2 L501 1084.1 L500 1084 L499 1084 L498 1083.9 L497 1083.8 L496 1083.7 L495 1083.6 L494 1083.5 L493 1083.5 L492 1083.4 L491 1083.3 L490 1083.2 L489 1083.1 L488 1083.1 L487 1083 L486 1082.9 L485 1082.8 L484 1082.7 L483 1082.6 L482 1082.6 L481 1082.5 L480 1082.4 L479 1082.3 L478 1082.2 L477 1082.2 L476 1082.1 L475 1082 L474 1081.9 L473 1081.8 L472 1081.7 L471 1081.7 L470 1081.6 L469 1081.5 L468 1081.4 L467 1081.3 L466 1081.3 L465 1081.2 L464 1081.1 L463 1081 L462 1080.9 L461 1080.8 L460 1080.8 L459 1080.7 L458 1080.6 L457 1080.5 L456 1080.4 L455 1080.4 L454 1080.3 L453 1080.2 L452 1080.1 L451 1080 L450 1079.9 L449 1079.9 L448 1079.8 L447 1079.7 L446 1079.6 L445 1079.5 L444 1079.5 L443 1079.4 L442 1079.3 L441 1079.2 L440 1079.1 L439 1079 L438 1079 L437 1078.9 L436 1078.8 L435 1078.7 L434 1078.6 L433 1078.5 L432 1078.5 L431 1078.4 L430 1078.3 L429 1078.2 L428 1078.1 L427 1078.1 L426 1078 L425 1077.9 L424 1077.8 L423 1077.7 L422 1077.6 L421 1077.6 L420 1077.5 L419 1077.4 L418 1077.3 L417 1077.2 L416 1077.2 L415 1077.1 L414 1077 L413 1076.9 L412 1076.8 L411 1076.7 L410 1076.7 L409 1076.6 L408 1076.5 L407 1076.4 L406 1076.3 L405 1076.3 L404 1076.2 L403 1076.1 L402 1076 L401 1075.9 L400 1075.8 L399 1075.8 L398 1075.7 L397 1075.6 L396 1075.5 L395 1075.4 L394 1075.4 L393 1075.3 L392 1075.2 L391 1075.1 L390 1075 L389 1074.9 L388 1074.9 L387 1074.8 L386 1074.7 L385 1074.6 L384 1074.5 L383 1074.5 L382 1074.4 L381 1074.3 L380 1074.2 L379 1074.1 L378 1074 L377 1074 L376 1073.9 L375 1073.8 L374 1073.7 L373 1073.6 L372 1073.5 L371 1073.5 L370 1073.4 L369 1073.3 L368 1073.2 L367 1073.1 L366 1073.1 L365 1073 L364 1072.9 L363 1072.8 L362 1072.7 L361 1072.6 L360 1072.6 L359 1072.5 L358 1072.4 L357 1072.3 L356 1072.2 L355 1072.2 L354 1072.1 L353 1072 L352 1071.9 L351 1071.8 L350 1071.7 L349 1071.7 L348 1071.6 L347 1071.5 L346 1071.4 L345 1071.3 L344 1071.3 L343 1071.2 L342 1071.1 L341 1071 L340 1070.9 L339 1070.8 L338 1070.8 L337 1070.7 L336 1070.6 L335 1070.5 L334 1070.4 L333 1070.4 L332 1070.3 L331 1070.2 L330 1070.1 L329 1070 L328 1069.9 L327 1069.9 L326 1069.8 L325 1069.7 L324 1069.6 L323 1069.5 L322 1069.5 L321 1069.4 L320 1069.3 L319 1069.2 L318 1069.1 L317 1069 L316 1069 L315 1068.9 L314 1068.8 L313 1068.7 L312 1068.6 L311 1068.5 L310 1068.5 L309 1068.4 L308 1068.3 L307 1068.2 L306 1068.1 L305 1068.1 L304 1068 L303 1067.9 L302 1067.8 L301 1067.7 L300 1067.6 L299 1067.6 L298 1067.5 L297 1067.4 L296 1067.3 L295 1067.2 L294 1067.2 L293 1067.1 L292 1067 L291 1066.9 L290 1066.8 L289 1066.7 L288 1066.7 L287 1066.6 L286 1066.5 L285 1066.4 L284 1066.3 L283 1066.3 L282 1066.2 L281 1066.1 L280 1066 L279 1065.9 L278 1065.8 L277 1065.8 L276 1065.7 L275 1065.6 L274 1065.5 L273 1065.4 L272 1065.4 L271 1065.3 L270 1065.2 L269 1065.1 L268 1065 L267 1064.9 L266 1064.9 L265 1064.8 L264 1064.7 L263 1064.6 L262 1064.5 L261 1064.5 L260 1064.4 L259 1064.3 L258 1064.2 L257 1064.1 L256 1064 L255 1064 L254 1063.9 L253 1063.8 L252 1063.7 L251 1063.6 L250 1063.5 L249 1063.5 L248 1063.4 L247 1063.3 L246 1063.2 L245 1063.1 L244 1063.1 L243 1063 L242 1062.9 L241 1062.8 L240 1062.7 L239 1062.6 L238 1062.6 L237 1062.5 L236 1062.4 L235 1062.3 L234 1062.2 L233 1062.2 L232 1062.1 L231 1062 L230 1061.9 L229 1061.8 L228 1061.7 L227 1061.7 L226 1061.6 L225 1061.5 L224 1061.4 L223 1061.3 L222 1061.3 L221 1061.2 L220 1061.1 L219 1061 L218 1060.9 L217 1060.8 L216 1060.8 L215 1060.7 L214 1060.6 L213 1060.5 L212 1060.4 L211 1060.4 L210 1060.3 L209 1060.2 L208 1060.1 L207 1060 L206 1059.9 L205 1059.9 L204 1059.8 L203 1059.7 L202 1059.6 L201 1059.5 L200 1059.5 L199 1059.4 L198 1059.3 L197 1059.2 L196 1059.1 L195 1059 L194 1059 L193 1058.9 L192 1058.8 L191 1058.7 L190 1058.6 L189 1058.5 L188 1058.5 L187 1058.4 L186 1058.3 L185 1058.2 L184 1058.1 L183 1058.1 L182 1058 L181 1057.9 L180 1057.8 L179 1057.7 L178 1057.6 L177 1057.6 L176 1057.5 L175 1057.4 L174 1057.3 L173 1057.2 L172 1057.2 L171 1057.1 L170 1057 L169 1056.9 L168 1056.8 L167 1056.7 L166 1056.7 L165 1056.6 L164 1056.5 L163 1056.4 L162 1056.3 L161 1056.3 L160 1056.2 L159 1056.1 L158 1056 L157 1055.9 L156 1055.8 L155 1055.8 L154 1055.7 L153 1055.6 L152 1055.5 L151 1055.4 L150 1055.4 L149 1055.3 L148 1055.2 L147 1055.1 L146 1055 L145 1054.9 L144 1054.9 L143 1054.8 L142 1054.7 L141 1054.6 L140 1054.5 L139 1054.5 L138 1054.4 L137 1054.3 L136 1054.2 L135 1054.1 L134 1054 L133 1054 L132 1053.9 L131 1053.8 L130 1053.7 L129 1053.6 L128 1053.5 L127 1053.5 L126 1053.4 L125 1053.3 L124 1053.2 L123 1053.1 L122 1053.1 L121 1053 L120 1052.9 L119 1052.8 L118 1052.7 L117 1052.6 L116 1052.6 L115 1052.5 L114 1052.4 L113 1052.3 L112 1052.2 L111 1052.2 L110 1052.1 L109 1052 L108 1051.9 L107 1051.8 L106 1051.7 L105 1051.7 L104 1051.6Z" fill="#EF9434"/>
<path d="M104 1051.1 L105 1051.2 L106 1051.3 L107 1051.4 L108 1051.5 L109 1051.5 L110 1051.6 L111 1051.7 L112 1051.8 L113 1051.9 L114 1051.9 L115 1052 L116 1052.1 L117 1052.2 L118 1052.3 L119 1052.3 L120 1052.4 L121 1052.5 L122 1052.6 L123 1052.7 L124 1052.7 L125 1052.8 L126 1052.9 L127 1053 L128 1053.1 L129 1053.1 L130 1053.2 L131 1053.3 L132 1053.4 L133 1053.5 L134 1053.5 L135 1053.6 L136 1053.7 L137 1053.8 L138 1053.8 L139 1053.9 L140 1054 L141 1054.1 L142 1054.2 L143 1054.2 L144 1054.3 L145 1054.4 L146 1054.5 L147 1054.6 L148 1054.6 L149 1054.7 L150 1054.8 L151 1054.9 L152 1055 L153 1055 L154 1055.1 L155 1055.2 L156 1055.3 L157 1055.4 L158 1055.4 L159 1055.5 L160 1055.6 L161 1055.7 L162 1055.7 L163 1055.8 L164 1055.9 L165 1056 L166 1056.1 L167 1056.1 L168 1056.2 L169 1056.3 L170 1056.4 L171 1056.5 L172 1056.5 L173 1056.6 L174 1056.7 L175 1056.8 L176 1056.8 L177 1056.9 L178 1057 L179 1057.1 L180 1057.2 L181 1057.2 L182 1057.3 L183 1057.4 L184 1057.5 L185 1057.6 L186 1057.6 L187 1057.7 L188 1057.8 L189 1057.9 L190 1057.9 L191 1058 L192 1058.1 L193 1058.2 L194 1058.3 L195 1058.3 L196 1058.4 L197 1058.5 L198 1058.6 L199 1058.6 L200 1058.7 L201 1058.8 L202 1058.9 L203 1059 L204 1059 L205 1059.1 L206 1059.2 L207 1059.3 L208 1059.3 L209 1059.4 L210 1059.5 L211 1059.6 L212 1059.7 L213 1059.7 L214 1059.8 L215 1059.9 L216 1060 L217 1060 L218 1060.1 L219 1060.2 L220 1060.3 L221 1060.3 L222 1060.4 L223 1060.5 L224 1060.6 L225 1060.7 L226 1060.7 L227 1060.8 L228 1060.9 L229 1061 L230 1061 L231 1061.1 L232 1061.2 L233 1061.3 L234 1061.3 L235 1061.4 L236 1061.5 L237 1061.6 L238 1061.6 L239 1061.7 L240 1061.8 L241 1061.9 L242 1061.9 L243 1062 L244 1062.1 L245 1062.2 L246 1062.2 L247 1062.3 L248 1062.4 L249 1062.5 L250 1062.5 L251 1062.6 L252 1062.7 L253 1062.8 L254 1062.8 L255 1062.9 L256 1063 L257 1063.1 L258 1063.1 L259 1063.2 L260 1063.3 L261 1063.4 L262 1063.4 L263 1063.5 L264 1063.6 L265 1063.7 L266 1063.7 L267 1063.8 L268 1063.9 L269 1064 L270 1064 L271 1064.1 L272 1064.2 L273 1064.3 L274 1064.3 L275 1064.4 L276 1064.5 L277 1064.5 L278 1064.6 L279 1064.7 L280 1064.8 L281 1064.8 L282 1064.9 L283 1065 L284 1065 L285 1065.1 L286 1065.2 L287 1065.3 L288 1065.3 L289 1065.4 L290 1065.5 L291 1065.5 L292 1065.6 L293 1065.7 L294 1065.8 L295 1065.8 L296 1065.9 L297 1066 L298 1066 L299 1066.1 L300 1066.2 L301 1066.3 L302 1066.3 L303 1066.4 L304 1066.5 L305 1066.5 L306 1066.6 L307 1066.7 L308 1066.7 L309 1066.8 L310 1066.9 L311 1066.9 L312 1067 L313 1067.1 L314 1067.1 L315 1067.2 L316 1067.3 L317 1067.3 L318 1067.4 L319 1067.5 L320 1067.5 L321 1067.6 L322 1067.7 L323 1067.7 L324 1067.8 L325 1067.9 L326 1067.9 L327 1068 L328 1068.1 L329 1068.1 L330 1068.2 L331 1068.3 L332 1068.3 L333 1068.4 L334 1068.4 L335 1068.5 L336 1068.6 L337 1068.6 L338 1068.7 L339 1068.8 L340 1068.8 L341 1068.9 L342 1068.9 L343 1069 L344 1069.1 L345 1069.1 L346 1069.2 L347 1069.2 L348 1069.3 L349 1069.3 L350 1069.4 L351 1069.5 L352 1069.5 L353 1069.6 L354 1069.6 L355 1069.7 L356 1069.7 L357 1069.8 L358 1069.9 L359 1069.9 L360 1070 L361 1070 L362 1070.1 L363 1070.1 L364 1070.2 L365 1070.2 L366 1070.3 L367 1070.3 L368 1070.4 L369 1070.4 L370 1070.5 L371 1070.5 L372 1070.6 L373 1070.6 L374 1070.6 L375 1070.7 L376 1070.7 L377 1070.8 L378 1070.8 L379 1070.9 L380 1070.9 L381 1070.9 L382 1071 L383 1071 L384 1071.1 L385 1071.1 L386 1071.1 L387 1071.2 L388 1071.2 L389 1071.2 L390 1071.3 L391 1071.3 L392 1071.3 L393 1071.4 L394 1071.4 L395 1071.4 L396 1071.4 L397 1071.5 L398 1071.5 L399 1071.5 L400 1071.5 L401 1071.5 L402 1071.6 L403 1071.6 L404 1071.6 L405 1071.6 L406 1071.6 L407 1071.6 L408 1071.6 L409 1071.7 L410 1071.7 L411 1071.7 L412 1071.7 L413 1071.7 L414 1071.7 L415 1071.7 L416 1071.7 L417 1071.7 L418 1071.6 L419 1071.6 L420 1071.6 L421 1071.6 L422 1071.6 L423 1071.6 L424 1071.5 L425 1071.5 L426 1071.5 L427 1071.4 L428 1071.4 L429 1071.4 L430 1071.3 L431 1071.3 L432 1071.2 L433 1071.2 L434 1071.1 L435 1071.1 L436 1071 L437 1070.9 L438 1070.9 L439 1070.8 L440 1070.7 L441 1070.6 L442 1070.5 L443 1070.4 L444 1070.3 L445 1070.2 L446 1070.1 L447 1070 L448 1069.9 L449 1069.7 L450 1069.6 L451 1069.4 L452 1069.3 L453 1069.1 L454 1068.9 L455 1068.8 L456 1068.6 L457 1068.4 L458 1068.2 L459 1068 L460 1067.7 L461 1067.5 L462 1067.2 L463 1067 L464 1066.7 L465 1066.4 L466 1066.1 L467 1065.8 L468 1065.4 L469 1065.1 L470 1064.7 L471 1064.3 L472 1063.9 L473 1063.4 L474 1063 L475 1062.5 L476 1062 L477 1061.4 L478 1060.8 L479 1060.2 L480 1059.6 L481 1058.9 L482 1058.2 L483 1057.4 L484 1056.5 L485 1055.6 L486 1054.7 L487 1053.7 L488 1052.6 L489 1051.4 L490 1050.2 L491 1048.8 L492 1047.3 L493 1045.8 L494 1044.1 L495 1042.2 L496 1040.3 L497 1038.1 L498 1035.8 L499 1033.3 L500 1030.6 L501 1027.7 L502 1024.6 L503 1021.3 L504 1017.7 L505 1013.8 L506 1009.6 L507 1005.2 L508 1000.4 L509 995.3 L510 989.9 L511 984.1 L512 978 L513 971.5 L514 964.6 L515 957.4 L516 949.8 L517 941.9 L518 933.6 L519 924.9 L520 916.1 L521 906.9 L522 897.4 L523 887.8 L524 878 L525 868.2 L526 858.4 L527 848.7 L528 839.3 L529 830.3 L530 821.8 L531 813.8 L532 806.7 L533 800.6 L534 795.6 L535 791.8 L536 789.4 L537 788.4 L538 788.8 L539 791 L540 794.8 L541 800 L542 806.7 L543 814.6 L544 823.4 L545 833.1 L546 843.4 L547 854.1 L548 865.1 L549 876.2 L550 887.3 L551 898.3 L552 909 L553 919.4 L554 929.5 L555 939.2 L556 948.5 L557 957.3 L558 965.7 L559 973.6 L560 981.1 L561 988.2 L562 994.8 L563 1001 L564 1006.8 L565 1012.3 L566 1017.3 L567 1022.1 L568 1026.5 L569 1030.5 L570 1034.3 L571 1037.9 L572 1041.1 L573 1044.2 L574 1047 L575 1049.6 L576 1052 L577 1054.3 L578 1056.4 L579 1058.3 L580 1060.2 L581 1061.9 L582 1063.4 L583 1064.9 L584 1066.3 L585 1067.6 L586 1068.8 L587 1069.9 L588 1071 L589 1072 L590 1073 L591 1073.9 L592 1074.7 L593 1075.6 L594 1076.3 L595 1077.1 L596 1077.8 L597 1078.4 L598 1079.1 L599 1079.7 L600 1080.2 L601 1080.8 L602 1081.3 L603 1081.8 L604 1082.3 L605 1082.8 L606 1083.2 L607 1083.7 L608 1084.1 L609 1084.5 L610 1084.9 L611 1085.3 L612 1085.6 L613 1086 L614 1086.3 L615 1086.6 L616 1086.9 L617 1087.2 L618 1087.5 L619 1087.8 L620 1088.1 L621 1088.3 L622 1088.6 L623 1088.8 L624 1089.1 L625 1089.3 L626 1089.5 L627 1089.7 L628 1089.9 L629 1090.1 L630 1090.3 L631 1090.5 L632 1090.7 L633 1090.9 L634 1091.1 L635 1091.3 L636 1091.4 L637 1091.6 L638 1091.7 L639 1091.9 L640 1092 L641 1092.2 L642 1092.3 L643 1092.5 L644 1092.6 L645 1092.7 L646 1092.9 L647 1093 L648 1093.1 L649 1093.2 L650 1093.3 L651 1093.5 L652 1093.6 L653 1093.7 L654 1093.8 L655 1093.9 L656 1094 L657 1094.1 L658 1094.2 L659 1094.3 L660 1094.4 L661 1094.5 L662 1094.5 L663 1094.6 L664 1094.7 L665 1094.8 L666 1094.9 L667 1095 L668 1095 L669 1095.1 L670 1095.2 L671 1095.3 L672 1095.3 L673 1095.4 L674 1095.5 L675 1095.6 L676 1095.6 L677 1095.7 L678 1095.7 L679 1095.8 L680 1095.9 L681 1095.9 L682 1096 L683 1096.1 L684 1096.1 L685 1096.2 L685 1099.8 L684 1099.8 L683 1099.8 L682 1099.8 L681 1099.8 L680 1099.7 L679 1099.7 L678 1099.7 L677 1099.7 L676 1099.7 L675 1099.7 L674 1099.7 L673 1099.7 L672 1099.7 L671 1099.7 L670 1099.7 L669 1099.7 L668 1099.6 L667 1099.6 L666 1099.6 L665 1099.6 L664 1099.6 L663 1099.6 L662 1099.6 L661 1099.6 L660 1099.6 L659 1099.6 L658 1099.6 L657 1099.6 L656 1099.5 L655 1099.5 L654 1099.5 L653 1099.5 L652 1099.5 L651 1099.5 L650 1099.5 L649 1099.5 L648 1099.5 L647 1099.5 L646 1099.5 L645 1099.5 L644 1099.4 L643 1099.4 L642 1099.4 L641 1099.4 L640 1099.4 L639 1099.4 L638 1099.4 L637 1099.4 L636 1099.4 L635 1099.4 L634 1099.4 L633 1099.4 L632 1099.3 L631 1099.3 L630 1099.3 L629 1099.3 L628 1099.3 L627 1099.3 L626 1099.3 L625 1099.3 L624 1099.3 L623 1099.3 L622 1099.3 L621 1099.3 L620 1099.2 L619 1099.2 L618 1099.2 L617 1099.2 L616 1099.2 L615 1099.2 L614 1099.2 L613 1099.2 L612 1099.2 L611 1099.2 L610 1099.2 L609 1099.2 L608 1099.1 L607 1099.1 L606 1099.1 L605 1099.1 L604 1099.1 L603 1099.1 L602 1099.1 L601 1099.1 L600 1099.1 L599 1099.1 L598 1099.1 L597 1099.1 L596 1099 L595 1099 L594 1099 L593 1099 L592 1099 L591 1099 L590 1099 L589 1099 L588 1099 L587 1099 L586 1098.9 L585 1098.9 L584 1098.9 L583 1098.9 L582 1098.9 L581 1098.9 L580 1098.9 L579 1098.8 L578 1098.8 L577 1098.8 L576 1098.8 L575 1098.7 L574 1098.7 L573 1098.7 L572 1098.6 L571 1098.6 L570 1098.5 L569 1098.5 L568 1098.4 L567 1098.3 L566 1098.2 L565 1098.1 L564 1098 L563 1097.8 L562 1097.7 L561 1097.5 L560 1097.3 L559 1097.1 L558 1096.8 L557 1096.5 L556 1096.2 L555 1095.8 L554 1095.4 L553 1095 L552 1094.6 L551 1094.1 L550 1093.6 L549 1093.1 L548 1092.6 L547 1092.1 L546 1091.6 L545 1091.1 L544 1090.6 L543 1090.2 L542 1089.8 L541 1089.4 L540 1089 L539 1088.7 L538 1088.4 L537 1088.2 L536 1087.9 L535 1087.7 L534 1087.6 L533 1087.4 L532 1087.3 L531 1087.2 L530 1087.1 L529 1086.9 L528 1086.8 L527 1086.6 L526 1086.5 L525 1086.4 L524 1086.2 L523 1086.1 L522 1086 L521 1085.9 L520 1085.8 L519 1085.6 L518 1085.5 L517 1085.4 L516 1085.4 L515 1085.3 L514 1085.2 L513 1085.1 L512 1085 L511 1084.9 L510 1084.9 L509 1084.8 L508 1084.7 L507 1084.6 L506 1084.5 L505 1084.5 L504 1084.4 L503 1084.3 L502 1084.2 L501 1084.1 L500 1084 L499 1084 L498 1083.9 L497 1083.8 L496 1083.7 L495 1083.6 L494 1083.5 L493 1083.5 L492 1083.4 L491 1083.3 L490 1083.2 L489 1083.1 L488 1083.1 L487 1083 L486 1082.9 L485 1082.8 L484 1082.7 L483 1082.6 L482 1082.6 L481 1082.5 L480 1082.4 L479 1082.3 L478 1082.2 L477 1082.2 L476 1082.1 L475 1082 L474 1081.9 L473 1081.8 L472 1081.7 L471 1081.7 L470 1081.6 L469 1081.5 L468 1081.4 L467 1081.3 L466 1081.3 L465 1081.2 L464 1081.1 L463 1081 L462 1080.9 L461 1080.8 L460 1080.8 L459 1080.7 L458 1080.6 L457 1080.5 L456 1080.4 L455 1080.4 L454 1080.3 L453 1080.2 L452 1080.1 L451 1080 L450 1079.9 L449 1079.9 L448 1079.8 L447 1079.7 L446 1079.6 L445 1079.5 L444 1079.5 L443 1079.4 L442 1079.3 L441 1079.2 L440 1079.1 L439 1079 L438 1079 L437 1078.9 L436 1078.8 L435 1078.7 L434 1078.6 L433 1078.5 L432 1078.5 L431 1078.4 L430 1078.3 L429 1078.2 L428 1078.1 L427 1078.1 L426 1078 L425 1077.9 L424 1077.8 L423 1077.7 L422 1077.6 L421 1077.6 L420 1077.5 L419 1077.4 L418 1077.3 L417 1077.2 L416 1077.2 L415 1077.1 L414 1077 L413 1076.9 L412 1076.8 L411 1076.7 L410 1076.7 L409 1076.6 L408 1076.5 L407 1076.4 L406 1076.3 L405 1076.3 L404 1076.2 L403 1076.1 L402 1076 L401 1075.9 L400 1075.8 L399 1075.8 L398 1075.7 L397 1075.6 L396 1075.5 L395 1075.4 L394 1075.4 L393 1075.3 L392 1075.2 L391 1075.1 L390 1075 L389 1074.9 L388 1074.9 L387 1074.8 L386 1074.7 L385 1074.6 L384 1074.5 L383 1074.5 L382 1074.4 L381 1074.3 L380 1074.2 L379 1074.1 L378 1074 L377 1074 L376 1073.9 L375 1073.8 L374 1073.7 L373 1073.6 L372 1073.5 L371 1073.5 L370 1073.4 L369 1073.3 L368 1073.2 L367 1073.1 L366 1073.1 L365 1073 L364 1072.9 L363 1072.8 L362 1072.7 L361 1072.6 L360 1072.6 L359 1072.5 L358 1072.4 L357 1072.3 L356 1072.2 L355 1072.2 L354 1072.1 L353 1072 L352 1071.9 L351 1071.8 L350 1071.7 L349 1071.7 L348 1071.6 L347 1071.5 L346 1071.4 L345 1071.3 L344 1071.3 L343 1071.2 L342 1071.1 L341 1071 L340 1070.9 L339 1070.8 L338 1070.8 L337 1070.7 L336 1070.6 L335 1070.5 L334 1070.4 L333 1070.4 L332 1070.3 L331 1070.2 L330 1070.1 L329 1070 L328 1069.9 L327 1069.9 L326 1069.8 L325 1069.7 L324 1069.6 L323 1069.5 L322 1069.5 L321 1069.4 L320 1069.3 L319 1069.2 L318 1069.1 L317 1069 L316 1069 L315 1068.9 L314 1068.8 L313 1068.7 L312 1068.6 L311 1068.5 L310 1068.5 L309 1068.4 L308 1068.3 L307 1068.2 L306 1068.1 L305 1068.1 L304 1068 L303 1067.9 L302 1067.8 L301 1067.7 L300 1067.6 L299 1067.6 L298 1067.5 L297 1067.4 L296 1067.3 L295 1067.2 L294 1067.2 L293 1067.1 L292 1067 L291 1066.9 L290 1066.8 L289 1066.7 L288 1066.7 L287 1066.6 L286 1066.5 L285 1066.4 L284 1066.3 L283 1066.3 L282 1066.2 L281 1066.1 L280 1066 L279 1065.9 L278 1065.8 L277 1065.8 L276 1065.7 L275 1065.6 L274 1065.5 L273 1065.4 L272 1065.4 L271 1065.3 L270 1065.2 L269 1065.1 L268 1065 L267 1064.9 L266 1064.9 L265 1064.8 L264 1064.7 L263 1064.6 L262 1064.5 L261 1064.5 L260 1064.4 L259 1064.3 L258 1064.2 L257 1064.1 L256 1064 L255 1064 L254 1063.9 L253 1063.8 L252 1063.7 L251 1063.6 L250 1063.5 L249 1063.5 L248 1063.4 L247 1063.3 L246 1063.2 L245 1063.1 L244 1063.1 L243 1063 L242 1062.9 L241 1062.8 L240 1062.7 L239 1062.6 L238 1062.6 L237 1062.5 L236 1062.4 L235 1062.3 L234 1062.2 L233 1062.2 L232 1062.1 L231 1062 L230 1061.9 L229 1061.8 L228 1061.7 L227 1061.7 L226 1061.6 L225 1061.5 L224 1061.4 L223 1061.3 L222 1061.3 L221 1061.2 L220 1061.1 L219 1061 L218 1060.9 L217 1060.8 L216 1060.8 L215 1060.7 L214 1060.6 L213 1060.5 L212 1060.4 L211 1060.4 L210 1060.3 L209 1060.2 L208 1060.1 L207 1060 L206 1059.9 L205 1059.9 L204 1059.8 L203 1059.7 L202 1059.6 L201 1059.5 L200 1059.5 L199 1059.4 L198 1059.3 L197 1059.2 L196 1059.1 L195 1059 L194 1059 L193 1058.9 L192 1058.8 L191 1058.7 L190 1058.6 L189 1058.5 L188 1058.5 L187 1058.4 L186 1058.3 L185 1058.2 L184 1058.1 L183 1058.1 L182 1058 L181 1057.9 L180 1057.8 L179 1057.7 L178 1057.6 L177 1057.6 L176 1057.5 L175 1057.4 L174 1057.3 L173 1057.2 L172 1057.2 L171 1057.1 L170 1057 L169 1056.9 L168 1056.8 L167 1056.7 L166 1056.7 L165 1056.6 L164 1056.5 L163 1056.4 L162 1056.3 L161 1056.3 L160 1056.2 L159 1056.1 L158 1056 L157 1055.9 L156 1055.8 L155 1055.8 L154 1055.7 L153 1055.6 L152 1055.5 L151 1055.4 L150 1055.4 L149 1055.3 L148 1055.2 L147 1055.1 L146 1055 L145 1054.9 L144 1054.9 L143 1054.8 L142 1054.7 L141 1054.6 L140 1054.5 L139 1054.5 L138 1054.4 L137 1054.3 L136 1054.2 L135 1054.1 L134 1054 L133 1054 L132 1053.9 L131 1053.8 L130 1053.7 L129 1053.6 L128 1053.5 L127 1053.5 L126 1053.4 L125 1053.3 L124 1053.2 L123 1053.1 L122 1053.1 L121 1053 L120 1052.9 L119 1052.8 L118 1052.7 L117 1052.6 L116 1052.6 L115 1052.5 L114 1052.4 L113 1052.3 L112 1052.2 L111 1052.2 L110 1052.1 L109 1052 L108 1051.9 L107 1051.8 L106 1051.7 L105 1051.7 L104 1051.6Z" fill="#EF9434"/>
<path d="M104 1050.6 L105 1050.6 L106 1050.7 L107 1050.8 L108 1050.8 L109 1050.9 L110 1051 L111 1051.1 L112 1051.1 L113 1051.2 L114 1051.3 L115 1051.4 L116 1051.4 L117 1051.5 L118 1051.6 L119 1051.6 L120 1051.7 L121 1051.8 L122 1051.9 L123 1051.9 L124 1052 L125 1052.1 L126 1052.1 L127 1052.2 L128 1052.3 L129 1052.4 L130 1052.4 L131 1052.5 L132 1052.6 L133 1052.6 L134 1052.7 L135 1052.8 L136 1052.8 L137 1052.9 L138 1053 L139 1053.1 L140 1053.1 L141 1053.2 L142 1053.3 L143 1053.3 L144 1053.4 L145 1053.5 L146 1053.5 L147 1053.6 L148 1053.7 L149 1053.7 L150 1053.8 L151 1053.9 L152 1053.9 L153 1054 L154 1054.1 L155 1054.1 L156 1054.2 L157 1054.3 L158 1054.3 L159 1054.4 L160 1054.5 L161 1054.5 L162 1054.6 L163 1054.7 L164 1054.7 L165 1054.8 L166 1054.8 L167 1054.9 L168 1055 L169 1055 L170 1055.1 L171 1055.2 L172 1055.2 L173 1055.3 L174 1055.3 L175 1055.4 L176 1055.5 L177 1055.5 L178 1055.6 L179 1055.6 L180 1055.7 L181 1055.7 L182 1055.8 L183 1055.9 L184 1055.9 L185 1056 L186 1056 L187 1056.1 L188 1056.1 L189 1056.2 L190 1056.2 L191 1056.3 L192 1056.3 L193 1056.4 L194 1056.4 L195 1056.5 L196 1056.5 L197 1056.6 L198 1056.6 L199 1056.7 L200 1056.7 L201 1056.8 L202 1056.8 L203 1056.9 L204 1056.9 L205 1057 L206 1057 L207 1057.1 L208 1057.1 L209 1057.1 L210 1057.2 L211 1057.2 L212 1057.3 L213 1057.3 L214 1057.3 L215 1057.4 L216 1057.4 L217 1057.4 L218 1057.5 L219 1057.5 L220 1057.5 L221 1057.5 L222 1057.6 L223 1057.6 L224 1057.6 L225 1057.7 L226 1057.7 L227 1057.7 L228 1057.7 L229 1057.7 L230 1057.8 L231 1057.8 L232 1057.8 L233 1057.8 L234 1057.8 L235 1057.8 L236 1057.8 L237 1057.8 L238 1057.8 L239 1057.8 L240 1057.8 L241 1057.8 L242 1057.8 L243 1057.8 L244 1057.8 L245 1057.8 L246 1057.8 L247 1057.7 L248 1057.7 L249 1057.7 L250 1057.7 L251 1057.6 L252 1057.6 L253 1057.6 L254 1057.5 L255 1057.5 L256 1057.4 L257 1057.4 L258 1057.3 L259 1057.3 L260 1057.2 L261 1057.2 L262 1057.1 L263 1057 L264 1056.9 L265 1056.8 L266 1056.7 L267 1056.6 L268 1056.5 L269 1056.4 L270 1056.3 L271 1056.2 L272 1056.1 L273 1055.9 L274 1055.8 L275 1055.6 L276 1055.4 L277 1055.3 L278 1055.1 L279 1054.9 L280 1054.7 L281 1054.5 L282 1054.2 L283 1054 L284 1053.7 L285 1053.5 L286 1053.2 L287 1052.9 L288 1052.6 L289 1052.2 L290 1051.8 L291 1051.5 L292 1051 L293 1050.6 L294 1050.1 L295 1049.6 L296 1049.1 L297 1048.5 L298 1047.9 L299 1047.3 L300 1046.6 L301 1045.8 L302 1045 L303 1044.2 L304 1043.2 L305 1042.2 L306 1041.2 L307 1040 L308 1038.8 L309 1037.4 L310 1036 L311 1034.5 L312 1032.8 L313 1031 L314 1029.1 L315 1027.1 L316 1024.9 L317 1022.6 L318 1020.1 L319 1017.5 L320 1014.6 L321 1011.6 L322 1008.5 L323 1005.1 L324 1001.5 L325 997.8 L326 993.8 L327 989.7 L328 985.3 L329 980.8 L330 976 L331 971.1 L332 965.9 L333 960.7 L334 955.2 L335 949.6 L336 943.9 L337 938.2 L338 932.3 L339 926.5 L340 920.7 L341 914.9 L342 909.4 L343 904 L344 898.9 L345 894.2 L346 889.9 L347 886.1 L348 882.9 L349 880.3 L350 878.4 L351 877.3 L352 876.9 L353 877.4 L354 878.9 L355 881.4 L356 884.8 L357 888.9 L358 893.8 L359 899.2 L360 905.1 L361 911.4 L362 917.9 L363 924.5 L364 931.2 L365 937.8 L366 944.4 L367 950.8 L368 957.1 L369 963.1 L370 968.9 L371 974.5 L372 979.9 L373 984.9 L374 989.8 L375 994.4 L376 998.7 L377 1002.8 L378 1006.7 L379 1010.3 L380 1013.7 L381 1017 L382 1020 L383 1022.8 L384 1025.5 L385 1028 L386 1030.4 L387 1032.6 L388 1034.7 L389 1036.6 L390 1038.4 L391 1040.2 L392 1041.8 L393 1043.3 L394 1044.7 L395 1046.1 L396 1047.4 L397 1048.6 L398 1049.7 L399 1050.8 L400 1051.8 L401 1052.8 L402 1053.7 L403 1054.5 L404 1055.4 L405 1056.2 L406 1056.9 L407 1057.6 L408 1058.3 L409 1059 L410 1059.6 L411 1060.2 L412 1060.8 L413 1061.4 L414 1061.9 L415 1062.4 L416 1062.9 L417 1063.4 L418 1063.9 L419 1064.3 L420 1064.8 L421 1065.2 L422 1065.6 L423 1066 L424 1066.4 L425 1066.8 L426 1067.1 L427 1067.5 L428 1067.8 L429 1068.2 L430 1068.5 L431 1068.8 L432 1069.1 L433 1069.4 L434 1069.7 L435 1070 L436 1070.3 L437 1070.5 L438 1070.8 L439 1071.1 L440 1071.3 L441 1071.6 L442 1071.8 L443 1072 L444 1072.3 L445 1072.5 L446 1072.7 L447 1073 L448 1073.2 L449 1073.4 L450 1073.6 L451 1073.8 L452 1074 L453 1074.2 L454 1074.4 L455 1074.6 L456 1074.8 L457 1075 L458 1075.1 L459 1075.3 L460 1075.5 L461 1075.7 L462 1075.8 L463 1076 L464 1076.2 L465 1076.4 L466 1076.5 L467 1076.7 L468 1076.8 L469 1077 L470 1077.2 L471 1077.3 L472 1077.5 L473 1077.6 L474 1077.8 L475 1077.9 L476 1078.1 L477 1078.2 L478 1078.3 L479 1078.5 L480 1078.6 L481 1078.8 L482 1078.9 L483 1079 L484 1079.2 L485 1079.3 L486 1079.4 L487 1079.6 L488 1079.7 L489 1079.8 L490 1080 L491 1080.1 L492 1080.2 L493 1080.3 L494 1080.5 L495 1080.6 L496 1080.7 L497 1080.8 L498 1081 L499 1081.1 L500 1081.2 L501 1081.3 L502 1081.4 L503 1081.6 L504 1081.7 L505 1081.8 L506 1081.9 L507 1082 L508 1082.1 L509 1082.2 L510 1082.4 L511 1082.5 L512 1082.6 L513 1082.7 L514 1082.8 L515 1082.9 L516 1083 L517 1083.1 L518 1083.2 L519 1083.4 L520 1083.6 L521 1083.7 L522 1083.8 L523 1084 L524 1084.1 L525 1084.3 L526 1084.4 L527 1084.6 L528 1084.7 L529 1084.9 L530 1085.1 L531 1085.2 L532 1085.3 L533 1085.5 L534 1085.7 L535 1085.9 L536 1086.1 L537 1086.3 L538 1086.6 L539 1086.9 L540 1087.2 L541 1087.6 L542 1088 L543 1088.5 L544 1088.9 L545 1089.4 L546 1089.9 L547 1090.4 L548 1090.9 L549 1091.5 L550 1092 L551 1092.5 L552 1093 L553 1093.4 L554 1093.9 L555 1094.3 L556 1094.7 L557 1095 L558 1095.3 L559 1095.6 L560 1095.8 L561 1096.1 L562 1096.3 L563 1096.4 L564 1096.6 L565 1096.7 L566 1096.8 L567 1097 L568 1097 L569 1097.1 L570 1097.2 L571 1097.3 L572 1097.3 L573 1097.4 L574 1097.4 L575 1097.5 L576 1097.5 L577 1097.6 L578 1097.6 L579 1097.6 L580 1097.6 L581 1097.7 L582 1097.7 L583 1097.7 L584 1097.8 L585 1097.8 L586 1097.8 L587 1097.8 L588 1097.8 L589 1097.9 L590 1097.9 L591 1097.9 L592 1097.9 L593 1097.9 L594 1098 L595 1098 L596 1098 L597 1098 L598 1098 L599 1098 L600 1098.1 L601 1098.1 L602 1098.1 L603 1098.1 L604 1098.1 L605 1098.1 L606 1098.2 L607 1098.2 L608 1098.2 L609 1098.2 L610 1098.2 L611 1098.2 L612 1098.3 L613 1098.3 L614 1098.3 L615 1098.3 L616 1098.3 L617 1098.3 L618 1098.3 L619 1098.4 L620 1098.4 L621 1098.4 L622 1098.4 L623 1098.4 L624 1098.4 L625 1098.4 L626 1098.5 L627 1098.5 L628 1098.5 L629 1098.5 L630 1098.5 L631 1098.5 L632 1098.5 L633 1098.6 L634 1098.6 L635 1098.6 L636 1098.6 L637 1098.6 L638 1098.6 L639 1098.6 L640 1098.7 L641 1098.7 L642 1098.7 L643 1098.7 L644 1098.7 L645 1098.7 L646 1098.7 L647 1098.8 L648 1098.8 L649 1098.8 L650 1098.8 L651 1098.8 L652 1098.8 L653 1098.8 L654 1098.8 L655 1098.9 L656 1098.9 L657 1098.9 L658 1098.9 L659 1098.9 L660 1098.9 L661 1098.9 L662 1098.9 L663 1099 L664 1099 L665 1099 L666 1099 L667 1099 L668 1099 L669 1099 L670 1099 L671 1099.1 L672 1099.1 L673 1099.1 L674 1099.1 L675 1099.1 L676 1099.1 L677 1099.1 L678 1099.1 L679 1099.2 L680 1099.2 L681 1099.2 L682 1099.2 L683 1099.2 L684 1099.2 L685 1099.2" fill="none" stroke="#FF8410" stroke-width="1.8"/>
<path d="M104 1051.1 L105 1051.2 L106 1051.3 L107 1051.4 L108 1051.5 L109 1051.5 L110 1051.6 L111 1051.7 L112 1051.8 L113 1051.9 L114 1051.9 L115 1052 L116 1052.1 L117 1052.2 L118 1052.3 L119 1052.3 L120 1052.4 L121 1052.5 L122 1052.6 L123 1052.7 L124 1052.7 L125 1052.8 L126 1052.9 L127 1053 L128 1053.1 L129 1053.1 L130 1053.2 L131 1053.3 L132 1053.4 L133 1053.5 L134 1053.5 L135 1053.6 L136 1053.7 L137 1053.8 L138 1053.8 L139 1053.9 L140 1054 L141 1054.1 L142 1054.2 L143 1054.2 L144 1054.3 L145 1054.4 L146 1054.5 L147 1054.6 L148 1054.6 L149 1054.7 L150 1054.8 L151 1054.9 L152 1055 L153 1055 L154 1055.1 L155 1055.2 L156 1055.3 L157 1055.4 L158 1055.4 L159 1055.5 L160 1055.6 L161 1055.7 L162 1055.7 L163 1055.8 L164 1055.9 L165 1056 L166 1056.1 L167 1056.1 L168 1056.2 L169 1056.3 L170 1056.4 L171 1056.5 L172 1056.5 L173 1056.6 L174 1056.7 L175 1056.8 L176 1056.8 L177 1056.9 L178 1057 L179 1057.1 L180 1057.2 L181 1057.2 L182 1057.3 L183 1057.4 L184 1057.5 L185 1057.6 L186 1057.6 L187 1057.7 L188 1057.8 L189 1057.9 L190 1057.9 L191 1058 L192 1058.1 L193 1058.2 L194 1058.3 L195 1058.3 L196 1058.4 L197 1058.5 L198 1058.6 L199 1058.6 L200 1058.7 L201 1058.8 L202 1058.9 L203 1059 L204 1059 L205 1059.1 L206 1059.2 L207 1059.3 L208 1059.3 L209 1059.4 L210 1059.5 L211 1059.6 L212 1059.7 L213 1059.7 L214 1059.8 L215 1059.9 L216 1060 L217 1060 L218 1060.1 L219 1060.2 L220 1060.3 L221 1060.3 L222 1060.4 L223 1060.5 L224 1060.6 L225 1060.7 L226 1060.7 L227 1060.8 L228 1060.9 L229 1061 L230 1061 L231 1061.1 L232 1061.2 L233 1061.3 L234 1061.3 L235 1061.4 L236 1061.5 L237 1061.6 L238 1061.6 L239 1061.7 L240 1061.8 L241 1061.9 L242 1061.9 L243 1062 L244 1062.1 L245 1062.2 L246 1062.2 L247 1062.3 L248 1062.4 L249 1062.5 L250 1062.5 L251 1062.6 L252 1062.7 L253 1062.8 L254 1062.8 L255 1062.9 L256 1063 L257 1063.1 L258 1063.1 L259 1063.2 L260 1063.3 L261 1063.4 L262 1063.4 L263 1063.5 L264 1063.6 L265 1063.7 L266 1063.7 L267 1063.8 L268 1063.9 L269 1064 L270 1064 L271 1064.1 L272 1064.2 L273 1064.3 L274 1064.3 L275 1064.4 L276 1064.5 L277 1064.5 L278 1064.6 L279 1064.7 L280 1064.8 L281 1064.8 L282 1064.9 L283 1065 L284 1065 L285 1065.1 L286 1065.2 L287 1065.3 L288 1065.3 L289 1065.4 L290 1065.5 L291 1065.5 L292 1065.6 L293 1065.7 L294 1065.8 L295 1065.8 L296 1065.9 L297 1066 L298 1066 L299 1066.1 L300 1066.2 L301 1066.3 L302 1066.3 L303 1066.4 L304 1066.5 L305 1066.5 L306 1066.6 L307 1066.7 L308 1066.7 L309 1066.8 L310 1066.9 L311 1066.9 L312 1067 L313 1067.1 L314 1067.1 L315 1067.2 L316 1067.3 L317 1067.3 L318 1067.4 L319 1067.5 L320 1067.5 L321 1067.6 L322 1067.7 L323 1067.7 L324 1067.8 L325 1067.9 L326 1067.9 L327 1068 L328 1068.1 L329 1068.1 L330 1068.2 L331 1068.3 L332 1068.3 L333 1068.4 L334 1068.4 L335 1068.5 L336 1068.6 L337 1068.6 L338 1068.7 L339 1068.8 L340 1068.8 L341 1068.9 L342 1068.9 L343 1069 L344 1069.1 L345 1069.1 L346 1069.2 L347 1069.2 L348 1069.3 L349 1069.3 L350 1069.4 L351 1069.5 L352 1069.5 L353 1069.6 L354 1069.6 L355 1069.7 L356 1069.7 L357 1069.8 L358 1069.9 L359 1069.9 L360 1070 L361 1070 L362 1070.1 L363 1070.1 L364 1070.2 L365 1070.2 L366 1070.3 L367 1070.3 L368 1070.4 L369 1070.4 L370 1070.5 L371 1070.5 L372 1070.6 L373 1070.6 L374 1070.6 L375 1070.7 L376 1070.7 L377 1070.8 L378 1070.8 L379 1070.9 L380 1070.9 L381 1070.9 L382 1071 L383 1071 L384 1071.1 L385 1071.1 L386 1071.1 L387 1071.2 L388 1071.2 L389 1071.2 L390 1071.3 L391 1071.3 L392 1071.3 L393 1071.4 L394 1071.4 L395 1071.4 L396 1071.4 L397 1071.5 L398 1071.5 L399 1071.5 L400 1071.5 L401 1071.5 L402 1071.6 L403 1071.6 L404 1071.6 L405 1071.6 L406 1071.6 L407 1071.6 L408 1071.6 L409 1071.7 L410 1071.7 L411 1071.7 L412 1071.7 L413 1071.7 L414 1071.7 L415 1071.7 L416 1071.7 L417 1071.7 L418 1071.6 L419 1071.6 L420 1071.6 L421 1071.6 L422 1071.6 L423 1071.6 L424 1071.5 L425 1071.5 L426 1071.5 L427 1071.4 L428 1071.4 L429 1071.4 L430 1071.3 L431 1071.3 L432 1071.2 L433 1071.2 L434 1071.1 L435 1071.1 L436 1071 L437 1070.9 L438 1070.9 L439 1070.8 L440 1070.7 L441 1070.6 L442 1070.5 L443 1070.4 L444 1070.3 L445 1070.2 L446 1070.1 L447 1070 L448 1069.9 L449 1069.7 L450 1069.6 L451 1069.4 L452 1069.3 L453 1069.1 L454 1068.9 L455 1068.8 L456 1068.6 L457 1068.4 L458 1068.2 L459 1068 L460 1067.7 L461 1067.5 L462 1067.2 L463 1067 L464 1066.7 L465 1066.4 L466 1066.1 L467 1065.8 L468 1065.4 L469 1065.1 L470 1064.7 L471 1064.3 L472 1063.9 L473 1063.4 L474 1063 L475 1062.5 L476 1062 L477 1061.4 L478 1060.8 L479 1060.2 L480 1059.6 L481 1058.9 L482 1058.2 L483 1057.4 L484 1056.5 L485 1055.6 L486 1054.7 L487 1053.7 L488 1052.6 L489 1051.4 L490 1050.2 L491 1048.8 L492 1047.3 L493 1045.8 L494 1044.1 L495 1042.2 L496 1040.3 L497 1038.1 L498 1035.8 L499 1033.3 L500 1030.6 L501 1027.7 L502 1024.6 L503 1021.3 L504 1017.7 L505 1013.8 L506 1009.6 L507 1005.2 L508 1000.4 L509 995.3 L510 989.9 L511 984.1 L512 978 L513 971.5 L514 964.6 L515 957.4 L516 949.8 L517 941.9 L518 933.6 L519 924.9 L520 916.1 L521 906.9 L522 897.4 L523 887.8 L524 878 L525 868.2 L526 858.4 L527 848.7 L528 839.3 L529 830.3 L530 821.8 L531 813.8 L532 806.7 L533 800.6 L534 795.6 L535 791.8 L536 789.4 L537 788.4 L538 788.8 L539 791 L540 794.8 L541 800 L542 806.7 L543 814.6 L544 823.4 L545 833.1 L546 843.4 L547 854.1 L548 865.1 L549 876.2 L550 887.3 L551 898.3 L552 909 L553 919.4 L554 929.5 L555 939.2 L556 948.5 L557 957.3 L558 965.7 L559 973.6 L560 981.1 L561 988.2 L562 994.8 L563 1001 L564 1006.8 L565 1012.3 L566 1017.3 L567 1022.1 L568 1026.5 L569 1030.5 L570 1034.3 L571 1037.9 L572 1041.1 L573 1044.2 L574 1047 L575 1049.6 L576 1052 L577 1054.3 L578 1056.4 L579 1058.3 L580 1060.2 L581 1061.9 L582 1063.4 L583 1064.9 L584 1066.3 L585 1067.6 L586 1068.8 L587 1069.9 L588 1071 L589 1072 L590 1073 L591 1073.9 L592 1074.7 L593 1075.6 L594 1076.3 L595 1077.1 L596 1077.8 L597 1078.4 L598 1079.1 L599 1079.7 L600 1080.2 L601 1080.8 L602 1081.3 L603 1081.8 L604 1082.3 L605 1082.8 L606 1083.2 L607 1083.7 L608 1084.1 L609 1084.5 L610 1084.9 L611 1085.3 L612 1085.6 L613 1086 L614 1086.3 L615 1086.6 L616 1086.9 L617 1087.2 L618 1087.5 L619 1087.8 L620 1088.1 L621 1088.3 L622 1088.6 L623 1088.8 L624 1089.1 L625 1089.3 L626 1089.5 L627 1089.7 L628 1089.9 L629 1090.1 L630 1090.3 L631 1090.5 L632 1090.7 L633 1090.9 L634 1091.1 L635 1091.3 L636 1091.4 L637 1091.6 L638 1091.7 L639 1091.9 L640 1092 L641 1092.2 L642 1092.3 L643 1092.5 L644 1092.6 L645 1092.7 L646 1092.9 L647 1093 L648 1093.1 L649 1093.2 L650 1093.3 L651 1093.5 L652 1093.6 L653 1093.7 L654 1093.8 L655 1093.9 L656 1094 L657 1094.1 L658 1094.2 L659 1094.3 L660 1094.4 L661 1094.5 L662 1094.5 L663 1094.6 L664 1094.7 L665 1094.8 L666 1094.9 L667 1095 L668 1095 L669 1095.1 L670 1095.2 L671 1095.3 L672 1095.3 L673 1095.4 L674 1095.5 L675 1095.6 L676 1095.6 L677 1095.7 L678 1095.7 L679 1095.8 L680 1095.9 L681 1095.9 L682 1096 L683 1096.1 L684 1096.1 L685 1096.2" fill="none" stroke="#FF8410" stroke-width="1.8"/>
<path d="M104 1045.5 L105 1045.6 L106 1045.6 L107 1045.6 L108 1045.6 L109 1045.7 L110 1045.7 L111 1045.7 L112 1045.7 L113 1045.8 L114 1045.8 L115 1045.8 L116 1045.8 L117 1045.8 L118 1045.9 L119 1045.9 L120 1045.9 L121 1045.9 L122 1045.9 L123 1046 L124 1046 L125 1046 L126 1046 L127 1046 L128 1046 L129 1046 L130 1046 L131 1046 L132 1046 L133 1046.1 L134 1046.1 L135 1046.1 L136 1046.1 L137 1046.1 L138 1046.1 L139 1046.1 L140 1046.1 L141 1046.1 L142 1046.1 L143 1046 L144 1046 L145 1046 L146 1046 L147 1046 L148 1046 L149 1046 L150 1046 L151 1046 L152 1045.9 L153 1045.9 L154 1045.9 L155 1045.9 L156 1045.9 L157 1045.8 L158 1045.8 L159 1045.8 L160 1045.7 L161 1045.7 L162 1045.7 L163 1045.6 L164 1045.6 L165 1045.6 L166 1045.5 L167 1045.5 L168 1045.4 L169 1045.4 L170 1045.3 L171 1045.3 L172 1045.2 L173 1045.2 L174 1045.1 L175 1045.1 L176 1045 L177 1044.9 L178 1044.9 L179 1044.8 L180 1044.7 L181 1044.7 L182 1044.6 L183 1044.5 L184 1044.4 L185 1044.3 L186 1044.3 L187 1044.2 L188 1044.1 L189 1044 L190 1043.9 L191 1043.8 L192 1043.7 L193 1043.6 L194 1043.5 L195 1043.3 L196 1043.2 L197 1043.1 L198 1043 L199 1042.9 L200 1042.7 L201 1042.6 L202 1042.5 L203 1042.3 L204 1042.2 L205 1042 L206 1041.9 L207 1041.7 L208 1041.6 L209 1041.4 L210 1041.2 L211 1041.1 L212 1040.9 L213 1040.7 L214 1040.5 L215 1040.3 L216 1040.2 L217 1040 L218 1039.8 L219 1039.5 L220 1039.3 L221 1039.1 L222 1038.9 L223 1038.7 L224 1038.5 L225 1038.2 L226 1038 L227 1037.7 L228 1037.5 L229 1037.2 L230 1037 L231 1036.7 L232 1036.4 L233 1036.2 L234 1035.9 L235 1035.6 L236 1035.3 L237 1035 L238 1034.7 L239 1034.4 L240 1034.1 L241 1033.8 L242 1033.5 L243 1033.1 L244 1032.8 L245 1032.5 L246 1032.1 L247 1031.8 L248 1031.4 L249 1031.1 L250 1030.7 L251 1030.3 L252 1030 L253 1029.6 L254 1029.2 L255 1028.8 L256 1028.4 L257 1028 L258 1027.6 L259 1027.3 L260 1026.9 L261 1026.4 L262 1026 L263 1025.6 L264 1025.2 L265 1024.8 L266 1024.4 L267 1024 L268 1023.6 L269 1023.2 L270 1022.8 L271 1022.3 L272 1021.9 L273 1021.5 L274 1021.1 L275 1020.7 L276 1020.3 L277 1019.9 L278 1019.5 L279 1019.2 L280 1018.8 L281 1018.4 L282 1018.1 L283 1017.7 L284 1017.4 L285 1017 L286 1016.7 L287 1016.4 L288 1016.1 L289 1015.8 L290 1015.5 L291 1015.2 L292 1015 L293 1014.7 L294 1014.5 L295 1014.3 L296 1014.1 L297 1014 L298 1013.8 L299 1013.7 L300 1013.5 L301 1013.5 L302 1013.4 L303 1013.3 L304 1013.3 L305 1013.3 L306 1013.3 L307 1013.3 L308 1013.3 L309 1013.4 L310 1013.5 L311 1013.6 L312 1013.7 L313 1013.9 L314 1014 L315 1014.2 L316 1014.4 L317 1014.7 L318 1014.9 L319 1015.2 L320 1015.5 L321 1015.8 L322 1016.1 L323 1016.5 L324 1016.9 L325 1017.3 L326 1017.7 L327 1018.1 L328 1018.5 L329 1019 L330 1019.4 L331 1019.9 L332 1020.4 L333 1020.9 L334 1021.4 L335 1022 L336 1022.5 L337 1023.1 L338 1023.6 L339 1024.2 L340 1024.8 L341 1025.4 L342 1026 L343 1026.6 L344 1027.2 L345 1027.8 L346 1028.4 L347 1029.1 L348 1029.7 L349 1030.3 L350 1031 L351 1031.6 L352 1032.3 L353 1032.9 L354 1033.6 L355 1034.2 L356 1034.9 L357 1035.5 L358 1036.2 L359 1036.9 L360 1037.5 L361 1038.2 L362 1038.8 L363 1039.5 L364 1040.1 L365 1040.8 L366 1041.4 L367 1042 L368 1042.7 L369 1043.3 L370 1043.9 L371 1044.6 L372 1045.2 L373 1045.8 L374 1046.4 L375 1047 L376 1047.6 L377 1048.2 L378 1048.8 L379 1049.4 L380 1050 L381 1050.6 L382 1051.1 L383 1051.7 L384 1052.3 L385 1052.8 L386 1053.4 L387 1053.9 L388 1054.4 L389 1054.9 L390 1055.5 L391 1056 L392 1056.5 L393 1057 L394 1057.5 L395 1058 L396 1058.4 L397 1058.9 L398 1059.4 L399 1059.8 L400 1060.3 L401 1060.7 L402 1061.1 L403 1061.6 L404 1062 L405 1062.4 L406 1062.8 L407 1063.2 L408 1063.6 L409 1064 L410 1064.4 L411 1064.8 L412 1065.1 L413 1065.5 L414 1065.8 L415 1066.2 L416 1066.5 L417 1066.9 L418 1067.2 L419 1067.5 L420 1067.8 L421 1068.2 L422 1068.5 L423 1068.8 L424 1069.1 L425 1069.4 L426 1069.6 L427 1069.9 L428 1070.2 L429 1070.5 L430 1070.7 L431 1071 L432 1071.2 L433 1071.5 L434 1071.7 L435 1072 L436 1072.2 L437 1072.4 L438 1072.7 L439 1072.9 L440 1073.1 L441 1073.3 L442 1073.5 L443 1073.7 L444 1074 L445 1074.2 L446 1074.4 L447 1074.5 L448 1074.7 L449 1074.9 L450 1075.1 L451 1075.3 L452 1075.5 L453 1075.6 L454 1075.8 L455 1076 L456 1076.2 L457 1076.3 L458 1076.5 L459 1076.6 L460 1076.8 L461 1077 L462 1077.1 L463 1077.3 L464 1077.4 L465 1077.6 L466 1077.7 L467 1077.8 L468 1078 L469 1078.1 L470 1078.3 L471 1078.4 L472 1078.5 L473 1078.7 L474 1078.8 L475 1078.9 L476 1079.1 L477 1079.2 L478 1079.3 L479 1079.4 L480 1079.6 L481 1079.7 L482 1079.8 L483 1079.9 L484 1080 L485 1080.2 L486 1080.3 L487 1080.4 L488 1080.5 L489 1080.6 L490 1080.7 L491 1080.9 L492 1081 L493 1081.1 L494 1081.2 L495 1081.3 L496 1081.4 L497 1081.5 L498 1081.6 L499 1081.7 L500 1081.8 L501 1081.9 L502 1082.1 L503 1082.2 L504 1082.3 L505 1082.4 L506 1082.5 L507 1082.6 L508 1082.7 L509 1082.8 L510 1082.9 L511 1083 L512 1083.1 L513 1083.2 L514 1083.3 L515 1083.4 L516 1083.5 L517 1083.6 L518 1083.7 L519 1083.8 L520 1084 L521 1084.1 L522 1084.2 L523 1084.4 L524 1084.5 L525 1084.6 L526 1084.8 L527 1084.9 L528 1085.1 L529 1085.3 L530 1085.4 L531 1085.5 L532 1085.7 L533 1085.8 L534 1086 L535 1086.2 L536 1086.4 L537 1086.6 L538 1086.9 L539 1087.2 L540 1087.5 L541 1087.9 L542 1088.3 L543 1088.7 L544 1089.2 L545 1089.6 L546 1090.1 L547 1090.6 L548 1091.2 L549 1091.7 L550 1092.2 L551 1092.7 L552 1093.2 L553 1093.6 L554 1094.1 L555 1094.5 L556 1094.8 L557 1095.2 L558 1095.5 L559 1095.8 L560 1096 L561 1096.2 L562 1096.4 L563 1096.6 L564 1096.7 L565 1096.9 L566 1097 L567 1097.1 L568 1097.2 L569 1097.3 L570 1097.3 L571 1097.4 L572 1097.5 L573 1097.5 L574 1097.5 L575 1097.6 L576 1097.6 L577 1097.7 L578 1097.7 L579 1097.7 L580 1097.7 L581 1097.8 L582 1097.8 L583 1097.8 L584 1097.8 L585 1097.9 L586 1097.9 L587 1097.9 L588 1097.9 L589 1097.9 L590 1098 L591 1098 L592 1098 L593 1098 L594 1098 L595 1098 L596 1098 L597 1098.1 L598 1098.1 L599 1098.1 L600 1098.1 L601 1098.1 L602 1098.1 L603 1098.2 L604 1098.2 L605 1098.2 L606 1098.2 L607 1098.2 L608 1098.2 L609 1098.2 L610 1098.3 L611 1098.3 L612 1098.3 L613 1098.3 L614 1098.3 L615 1098.3 L616 1098.3 L617 1098.4 L618 1098.4 L619 1098.4 L620 1098.4 L621 1098.4 L622 1098.4 L623 1098.4 L624 1098.4 L625 1098.5 L626 1098.5 L627 1098.5 L628 1098.5 L629 1098.5 L630 1098.5 L631 1098.5 L632 1098.6 L633 1098.6 L634 1098.6 L635 1098.6 L636 1098.6 L637 1098.6 L638 1098.6 L639 1098.6 L640 1098.7 L641 1098.7 L642 1098.7 L643 1098.7 L644 1098.7 L645 1098.7 L646 1098.7 L647 1098.7 L648 1098.8 L649 1098.8 L650 1098.8 L651 1098.8 L652 1098.8 L653 1098.8 L654 1098.8 L655 1098.8 L656 1098.9 L657 1098.9 L658 1098.9 L659 1098.9 L660 1098.9 L661 1098.9 L662 1098.9 L663 1098.9 L664 1099 L665 1099 L666 1099 L667 1099 L668 1099 L669 1099 L670 1099 L671 1099 L672 1099 L673 1099.1 L674 1099.1 L675 1099.1 L676 1099.1 L677 1099.1 L678 1099.1 L679 1099.1 L680 1099.1 L681 1099.2 L682 1099.2 L683 1099.2 L684 1099.2 L685 1099.2 L685 1099.8 L684 1099.8 L683 1099.8 L682 1099.8 L681 1099.8 L680 1099.7 L679 1099.7 L678 1099.7 L677 1099.7 L676 1099.7 L675 1099.7 L674 1099.7 L673 1099.7 L672 1099.7 L671 1099.7 L670 1099.7 L669 1099.7 L668 1099.6 L667 1099.6 L666 1099.6 L665 1099.6 L664 1099.6 L663 1099.6 L662 1099.6 L661 1099.6 L660 1099.6 L659 1099.6 L658 1099.6 L657 1099.6 L656 1099.5 L655 1099.5 L654 1099.5 L653 1099.5 L652 1099.5 L651 1099.5 L650 1099.5 L649 1099.5 L648 1099.5 L647 1099.5 L646 1099.5 L645 1099.5 L644 1099.4 L643 1099.4 L642 1099.4 L641 1099.4 L640 1099.4 L639 1099.4 L638 1099.4 L637 1099.4 L636 1099.4 L635 1099.4 L634 1099.4 L633 1099.4 L632 1099.3 L631 1099.3 L630 1099.3 L629 1099.3 L628 1099.3 L627 1099.3 L626 1099.3 L625 1099.3 L624 1099.3 L623 1099.3 L622 1099.3 L621 1099.3 L620 1099.2 L619 1099.2 L618 1099.2 L617 1099.2 L616 1099.2 L615 1099.2 L614 1099.2 L613 1099.2 L612 1099.2 L611 1099.2 L610 1099.2 L609 1099.2 L608 1099.1 L607 1099.1 L606 1099.1 L605 1099.1 L604 1099.1 L603 1099.1 L602 1099.1 L601 1099.1 L600 1099.1 L599 1099.1 L598 1099.1 L597 1099.1 L596 1099 L595 1099 L594 1099 L593 1099 L592 1099 L591 1099 L590 1099 L589 1099 L588 1099 L587 1099 L586 1098.9 L585 1098.9 L584 1098.9 L583 1098.9 L582 1098.9 L581 1098.9 L580 1098.9 L579 1098.8 L578 1098.8 L577 1098.8 L576 1098.8 L575 1098.7 L574 1098.7 L573 1098.7 L572 1098.6 L571 1098.6 L570 1098.5 L569 1098.5 L568 1098.4 L567 1098.3 L566 1098.2 L565 1098.1 L564 1098 L563 1097.8 L562 1097.7 L561 1097.5 L560 1097.3 L559 1097.1 L558 1096.8 L557 1096.5 L556 1096.2 L555 1095.8 L554 1095.4 L553 1095 L552 1094.6 L551 1094.1 L550 1093.6 L549 1093.1 L548 1092.6 L547 1092.1 L546 1091.6 L545 1091.1 L544 1090.6 L543 1090.2 L542 1089.8 L541 1089.4 L540 1089 L539 1088.7 L538 1088.4 L537 1088.2 L536 1087.9 L535 1087.7 L534 1087.6 L533 1087.4 L532 1087.3 L531 1087.2 L530 1087.1 L529 1086.9 L528 1086.8 L527 1086.6 L526 1086.5 L525 1086.4 L524 1086.2 L523 1086.1 L522 1086 L521 1085.9 L520 1085.8 L519 1085.6 L518 1085.5 L517 1085.4 L516 1085.4 L515 1085.3 L514 1085.2 L513 1085.1 L512 1085 L511 1084.9 L510 1084.9 L509 1084.8 L508 1084.7 L507 1084.6 L506 1084.5 L505 1084.5 L504 1084.4 L503 1084.3 L502 1084.2 L501 1084.1 L500 1084 L499 1084 L498 1083.9 L497 1083.8 L496 1083.7 L495 1083.6 L494 1083.5 L493 1083.5 L492 1083.4 L491 1083.3 L490 1083.2 L489 1083.1 L488 1083.1 L487 1083 L486 1082.9 L485 1082.8 L484 1082.7 L483 1082.6 L482 1082.6 L481 1082.5 L480 1082.4 L479 1082.3 L478 1082.2 L477 1082.2 L476 1082.1 L475 1082 L474 1081.9 L473 1081.8 L472 1081.7 L471 1081.7 L470 1081.6 L469 1081.5 L468 1081.4 L467 1081.3 L466 1081.3 L465 1081.2 L464 1081.1 L463 1081 L462 1080.9 L461 1080.8 L460 1080.8 L459 1080.7 L458 1080.6 L457 1080.5 L456 1080.4 L455 1080.4 L454 1080.3 L453 1080.2 L452 1080.1 L451 1080 L450 1079.9 L449 1079.9 L448 1079.8 L447 1079.7 L446 1079.6 L445 1079.5 L444 1079.5 L443 1079.4 L442 1079.3 L441 1079.2 L440 1079.1 L439 1079 L438 1079 L437 1078.9 L436 1078.8 L435 1078.7 L434 1078.6 L433 1078.5 L432 1078.5 L431 1078.4 L430 1078.3 L429 1078.2 L428 1078.1 L427 1078.1 L426 1078 L425 1077.9 L424 1077.8 L423 1077.7 L422 1077.6 L421 1077.6 L420 1077.5 L419 1077.4 L418 1077.3 L417 1077.2 L416 1077.2 L415 1077.1 L414 1077 L413 1076.9 L412 1076.8 L411 1076.7 L410 1076.7 L409 1076.6 L408 1076.5 L407 1076.4 L406 1076.3 L405 1076.3 L404 1076.2 L403 1076.1 L402 1076 L401 1075.9 L400 1075.8 L399 1075.8 L398 1075.7 L397 1075.6 L396 1075.5 L395 1075.4 L394 1075.4 L393 1075.3 L392 1075.2 L391 1075.1 L390 1075 L389 1074.9 L388 1074.9 L387 1074.8 L386 1074.7 L385 1074.6 L384 1074.5 L383 1074.5 L382 1074.4 L381 1074.3 L380 1074.2 L379 1074.1 L378 1074 L377 1074 L376 1073.9 L375 1073.8 L374 1073.7 L373 1073.6 L372 1073.5 L371 1073.5 L370 1073.4 L369 1073.3 L368 1073.2 L367 1073.1 L366 1073.1 L365 1073 L364 1072.9 L363 1072.8 L362 1072.7 L361 1072.6 L360 1072.6 L359 1072.5 L358 1072.4 L357 1072.3 L356 1072.2 L355 1072.2 L354 1072.1 L353 1072 L352 1071.9 L351 1071.8 L350 1071.7 L349 1071.7 L348 1071.6 L347 1071.5 L346 1071.4 L345 1071.3 L344 1071.3 L343 1071.2 L342 1071.1 L341 1071 L340 1070.9 L339 1070.8 L338 1070.8 L337 1070.7 L336 1070.6 L335 1070.5 L334 1070.4 L333 1070.4 L332 1070.3 L331 1070.2 L330 1070.1 L329 1070 L328 1069.9 L327 1069.9 L326 1069.8 L325 1069.7 L324 1069.6 L323 1069.5 L322 1069.5 L321 1069.4 L320 1069.3 L319 1069.2 L318 1069.1 L317 1069 L316 1069 L315 1068.9 L314 1068.8 L313 1068.7 L312 1068.6 L311 1068.5 L310 1068.5 L309 1068.4 L308 1068.3 L307 1068.2 L306 1068.1 L305 1068.1 L304 1068 L303 1067.9 L302 1067.8 L301 1067.7 L300 1067.6 L299 1067.6 L298 1067.5 L297 1067.4 L296 1067.3 L295 1067.2 L294 1067.2 L293 1067.1 L292 1067 L291 1066.9 L290 1066.8 L289 1066.7 L288 1066.7 L287 1066.6 L286 1066.5 L285 1066.4 L284 1066.3 L283 1066.3 L282 1066.2 L281 1066.1 L280 1066 L279 1065.9 L278 1065.8 L277 1065.8 L276 1065.7 L275 1065.6 L274 1065.5 L273 1065.4 L272 1065.4 L271 1065.3 L270 1065.2 L269 1065.1 L268 1065 L267 1064.9 L266 1064.9 L265 1064.8 L264 1064.7 L263 1064.6 L262 1064.5 L261 1064.5 L260 1064.4 L259 1064.3 L258 1064.2 L257 1064.1 L256 1064 L255 1064 L254 1063.9 L253 1063.8 L252 1063.7 L251 1063.6 L250 1063.5 L249 1063.5 L248 1063.4 L247 1063.3 L246 1063.2 L245 1063.1 L244 1063.1 L243 1063 L242 1062.9 L241 1062.8 L240 1062.7 L239 1062.6 L238 1062.6 L237 1062.5 L236 1062.4 L235 1062.3 L234 1062.2 L233 1062.2 L232 1062.1 L231 1062 L230 1061.9 L229 1061.8 L228 1061.7 L227 1061.7 L226 1061.6 L225 1061.5 L224 1061.4 L223 1061.3 L222 1061.3 L221 1061.2 L220 1061.1 L219 1061 L218 1060.9 L217 1060.8 L216 1060.8 L215 1060.7 L214 1060.6 L213 1060.5 L212 1060.4 L211 1060.4 L210 1060.3 L209 1060.2 L208 1060.1 L207 1060 L206 1059.9 L205 1059.9 L204 1059.8 L203 1059.7 L202 1059.6 L201 1059.5 L200 1059.5 L199 1059.4 L198 1059.3 L197 1059.2 L196 1059.1 L195 1059 L194 1059 L193 1058.9 L192 1058.8 L191 1058.7 L190 1058.6 L189 1058.5 L188 1058.5 L187 1058.4 L186 1058.3 L185 1058.2 L184 1058.1 L183 1058.1 L182 1058 L181 1057.9 L180 1057.8 L179 1057.7 L178 1057.6 L177 1057.6 L176 1057.5 L175 1057.4 L174 1057.3 L173 1057.2 L172 1057.2 L171 1057.1 L170 1057 L169 1056.9 L168 1056.8 L167 1056.7 L166 1056.7 L165 1056.6 L164 1056.5 L163 1056.4 L162 1056.3 L161 1056.3 L160 1056.2 L159 1056.1 L158 1056 L157 1055.9 L156 1055.8 L155 1055.8 L154 1055.7 L153 1055.6 L152 1055.5 L151 1055.4 L150 1055.4 L149 1055.3 L148 1055.2 L147 1055.1 L146 1055 L145 1054.9 L144 1054.9 L143 1054.8 L142 1054.7 L141 1054.6 L140 1054.5 L139 1054.5 L138 1054.4 L137 1054.3 L136 1054.2 L135 1054.1 L134 1054 L133 1054 L132 1053.9 L131 1053.8 L130 1053.7 L129 1053.6 L128 1053.5 L127 1053.5 L126 1053.4 L125 1053.3 L124 1053.2 L123 1053.1 L122 1053.1 L121 1053 L120 1052.9 L119 1052.8 L118 1052.7 L117 1052.6 L116 1052.6 L115 1052.5 L114 1052.4 L113 1052.3 L112 1052.2 L111 1052.2 L110 1052.1 L109 1052 L108 1051.9 L107 1051.8 L106 1051.7 L105 1051.7 L104 1051.6Z" fill="rgba(8,5,150,0.76)"/>
<path d="M104 1051.6 L105 1051.7 L106 1051.7 L107 1051.8 L108 1051.9 L109 1052 L110 1052.1 L111 1052.2 L112 1052.2 L113 1052.3 L114 1052.4 L115 1052.5 L116 1052.6 L117 1052.6 L118 1052.7 L119 1052.8 L120 1052.9 L121 1053 L122 1053.1 L123 1053.1 L124 1053.2 L125 1053.3 L126 1053.4 L127 1053.5 L128 1053.5 L129 1053.6 L130 1053.7 L131 1053.8 L132 1053.9 L133 1054 L134 1054 L135 1054.1 L136 1054.2 L137 1054.3 L138 1054.4 L139 1054.5 L140 1054.5 L141 1054.6 L142 1054.7 L143 1054.8 L144 1054.9 L145 1054.9 L146 1055 L147 1055.1 L148 1055.2 L149 1055.3 L150 1055.4 L151 1055.4 L152 1055.5 L153 1055.6 L154 1055.7 L155 1055.8 L156 1055.8 L157 1055.9 L158 1056 L159 1056.1 L160 1056.2 L161 1056.3 L162 1056.3 L163 1056.4 L164 1056.5 L165 1056.6 L166 1056.7 L167 1056.7 L168 1056.8 L169 1056.9 L170 1057 L171 1057.1 L172 1057.2 L173 1057.2 L174 1057.3 L175 1057.4 L176 1057.5 L177 1057.6 L178 1057.6 L179 1057.7 L180 1057.8 L181 1057.9 L182 1058 L183 1058.1 L184 1058.1 L185 1058.2 L186 1058.3 L187 1058.4 L188 1058.5 L189 1058.5 L190 1058.6 L191 1058.7 L192 1058.8 L193 1058.9 L194 1059 L195 1059 L196 1059.1 L197 1059.2 L198 1059.3 L199 1059.4 L200 1059.5 L201 1059.5 L202 1059.6 L203 1059.7 L204 1059.8 L205 1059.9 L206 1059.9 L207 1060 L208 1060.1 L209 1060.2 L210 1060.3 L211 1060.4 L212 1060.4 L213 1060.5 L214 1060.6 L215 1060.7 L216 1060.8 L217 1060.8 L218 1060.9 L219 1061 L220 1061.1 L221 1061.2 L222 1061.3 L223 1061.3 L224 1061.4 L225 1061.5 L226 1061.6 L227 1061.7 L228 1061.7 L229 1061.8 L230 1061.9 L231 1062 L232 1062.1 L233 1062.2 L234 1062.2 L235 1062.3 L236 1062.4 L237 1062.5 L238 1062.6 L239 1062.6 L240 1062.7 L241 1062.8 L242 1062.9 L243 1063 L244 1063.1 L245 1063.1 L246 1063.2 L247 1063.3 L248 1063.4 L249 1063.5 L250 1063.5 L251 1063.6 L252 1063.7 L253 1063.8 L254 1063.9 L255 1064 L256 1064 L257 1064.1 L258 1064.2 L259 1064.3 L260 1064.4 L261 1064.5 L262 1064.5 L263 1064.6 L264 1064.7 L265 1064.8 L266 1064.9 L267 1064.9 L268 1065 L269 1065.1 L270 1065.2 L271 1065.3 L272 1065.4 L273 1065.4 L274 1065.5 L275 1065.6 L276 1065.7 L277 1065.8 L278 1065.8 L279 1065.9 L280 1066 L281 1066.1 L282 1066.2 L283 1066.3 L284 1066.3 L285 1066.4 L286 1066.5 L287 1066.6 L288 1066.7 L289 1066.7 L290 1066.8 L291 1066.9 L292 1067 L293 1067.1 L294 1067.2 L295 1067.2 L296 1067.3 L297 1067.4 L298 1067.5 L299 1067.6 L300 1067.6 L301 1067.7 L302 1067.8 L303 1067.9 L304 1068 L305 1068 L306 1068.1 L307 1068.2 L308 1068.3 L309 1068.4 L310 1068.5 L311 1068.5 L312 1068.6 L313 1068.7 L314 1068.8 L315 1068.9 L316 1068.9 L317 1069 L318 1069.1 L319 1069.2 L320 1069.3 L321 1069.3 L322 1069.4 L323 1069.5 L324 1069.6 L325 1069.7 L326 1069.7 L327 1069.8 L328 1069.9 L329 1070 L330 1070 L331 1070.1 L332 1070.2 L333 1070.3 L334 1070.3 L335 1070.4 L336 1070.5 L337 1070.6 L338 1070.6 L339 1070.7 L340 1070.8 L341 1070.9 L342 1070.9 L343 1071 L344 1071.1 L345 1071.1 L346 1071.2 L347 1071.3 L348 1071.3 L349 1071.4 L350 1071.5 L351 1071.5 L352 1071.6 L353 1071.7 L354 1071.7 L355 1071.8 L356 1071.8 L357 1071.9 L358 1071.9 L359 1072 L360 1072.1 L361 1072.1 L362 1072.1 L363 1072.2 L364 1072.2 L365 1072.3 L366 1072.3 L367 1072.3 L368 1072.4 L369 1072.4 L370 1072.4 L371 1072.5 L372 1072.5 L373 1072.5 L374 1072.5 L375 1072.5 L376 1072.5 L377 1072.5 L378 1072.5 L379 1072.5 L380 1072.5 L381 1072.5 L382 1072.5 L383 1072.5 L384 1072.5 L385 1072.4 L386 1072.4 L387 1072.4 L388 1072.3 L389 1072.3 L390 1072.2 L391 1072.1 L392 1072.1 L393 1072 L394 1071.9 L395 1071.8 L396 1071.7 L397 1071.6 L398 1071.5 L399 1071.4 L400 1071.3 L401 1071.2 L402 1071 L403 1070.9 L404 1070.7 L405 1070.6 L406 1070.4 L407 1070.2 L408 1070 L409 1069.8 L410 1069.6 L411 1069.4 L412 1069.2 L413 1068.9 L414 1068.7 L415 1068.4 L416 1068.2 L417 1067.9 L418 1067.6 L419 1067.3 L420 1067 L421 1066.7 L422 1066.4 L423 1066 L424 1065.7 L425 1065.3 L426 1065 L427 1064.6 L428 1064.2 L429 1063.8 L430 1063.4 L431 1063 L432 1062.5 L433 1062.1 L434 1061.7 L435 1061.2 L436 1060.7 L437 1060.3 L438 1059.8 L439 1059.3 L440 1058.8 L441 1058.3 L442 1057.8 L443 1057.3 L444 1056.7 L445 1056.2 L446 1055.6 L447 1055.1 L448 1054.5 L449 1054 L450 1053.4 L451 1052.8 L452 1052.3 L453 1051.7 L454 1051.1 L455 1050.5 L456 1049.9 L457 1049.3 L458 1048.7 L459 1048.2 L460 1047.6 L461 1047 L462 1046.4 L463 1045.8 L464 1045.2 L465 1044.6 L466 1044.1 L467 1043.5 L468 1042.9 L469 1042.4 L470 1041.8 L471 1041.2 L472 1040.7 L473 1040.2 L474 1039.6 L475 1039.1 L476 1038.6 L477 1038.1 L478 1037.6 L479 1037.2 L480 1036.7 L481 1036.3 L482 1035.8 L483 1035.4 L484 1035 L485 1034.6 L486 1034.3 L487 1033.9 L488 1033.6 L489 1033.3 L490 1033 L491 1032.7 L492 1032.4 L493 1032.2 L494 1031.9 L495 1031.7 L496 1031.6 L497 1031.4 L498 1031.3 L499 1031.2 L500 1031.1 L501 1031 L502 1030.9 L503 1030.9 L504 1030.9 L505 1030.9 L506 1031 L507 1031 L508 1031.1 L509 1031.3 L510 1031.5 L511 1031.8 L512 1032.2 L513 1032.6 L514 1033.1 L515 1033.6 L516 1034.2 L517 1034.9 L518 1035.6 L519 1036.3 L520 1037.2 L521 1038.1 L522 1038.9 L523 1039.8 L524 1040.8 L525 1041.7 L526 1042.7 L527 1043.7 L528 1044.7 L529 1045.8 L530 1046.8 L531 1047.8 L532 1048.8 L533 1049.8 L534 1050.9 L535 1051.9 L536 1053 L537 1054.1 L538 1055.2 L539 1056.3 L540 1057.4 L541 1058.6 L542 1059.8 L543 1061 L544 1062.2 L545 1063.4 L546 1064.6 L547 1065.8 L548 1067 L549 1068.2 L550 1069.4 L551 1070.5 L552 1071.6 L553 1072.7 L554 1073.7 L555 1074.7 L556 1075.6 L557 1076.5 L558 1077.3 L559 1078.1 L560 1078.8 L561 1079.5 L562 1080.2 L563 1080.8 L564 1081.4 L565 1081.9 L566 1082.5 L567 1083 L568 1083.4 L569 1083.9 L570 1084.3 L571 1084.7 L572 1085.1 L573 1085.5 L574 1085.9 L575 1086.2 L576 1086.5 L577 1086.9 L578 1087.2 L579 1087.5 L580 1087.8 L581 1088 L582 1088.3 L583 1088.6 L584 1088.8 L585 1089 L586 1089.3 L587 1089.5 L588 1089.7 L589 1089.9 L590 1090.1 L591 1090.3 L592 1090.5 L593 1090.7 L594 1090.9 L595 1091.1 L596 1091.2 L597 1091.4 L598 1091.6 L599 1091.7 L600 1091.9 L601 1092 L602 1092.1 L603 1092.3 L604 1092.4 L605 1092.6 L606 1092.7 L607 1092.8 L608 1092.9 L609 1093.1 L610 1093.2 L611 1093.3 L612 1093.4 L613 1093.5 L614 1093.6 L615 1093.7 L616 1093.8 L617 1093.9 L618 1094 L619 1094.1 L620 1094.2 L621 1094.3 L622 1094.4 L623 1094.4 L624 1094.5 L625 1094.6 L626 1094.7 L627 1094.8 L628 1094.8 L629 1094.9 L630 1095 L631 1095.1 L632 1095.1 L633 1095.2 L634 1095.3 L635 1095.3 L636 1095.4 L637 1095.5 L638 1095.5 L639 1095.6 L640 1095.7 L641 1095.7 L642 1095.8 L643 1095.8 L644 1095.9 L645 1096 L646 1096 L647 1096.1 L648 1096.1 L649 1096.2 L650 1096.2 L651 1096.3 L652 1096.3 L653 1096.4 L654 1096.4 L655 1096.5 L656 1096.5 L657 1096.6 L658 1096.6 L659 1096.6 L660 1096.7 L661 1096.7 L662 1096.8 L663 1096.8 L664 1096.9 L665 1096.9 L666 1096.9 L667 1097 L668 1097 L669 1097.1 L670 1097.1 L671 1097.1 L672 1097.2 L673 1097.2 L674 1097.3 L675 1097.3 L676 1097.3 L677 1097.4 L678 1097.4 L679 1097.4 L680 1097.5 L681 1097.5 L682 1097.5 L683 1097.6 L684 1097.6 L685 1097.6 L685 1099.8 L684 1099.8 L683 1099.8 L682 1099.8 L681 1099.8 L680 1099.7 L679 1099.7 L678 1099.7 L677 1099.7 L676 1099.7 L675 1099.7 L674 1099.7 L673 1099.7 L672 1099.7 L671 1099.7 L670 1099.7 L669 1099.7 L668 1099.6 L667 1099.6 L666 1099.6 L665 1099.6 L664 1099.6 L663 1099.6 L662 1099.6 L661 1099.6 L660 1099.6 L659 1099.6 L658 1099.6 L657 1099.6 L656 1099.5 L655 1099.5 L654 1099.5 L653 1099.5 L652 1099.5 L651 1099.5 L650 1099.5 L649 1099.5 L648 1099.5 L647 1099.5 L646 1099.5 L645 1099.5 L644 1099.4 L643 1099.4 L642 1099.4 L641 1099.4 L640 1099.4 L639 1099.4 L638 1099.4 L637 1099.4 L636 1099.4 L635 1099.4 L634 1099.4 L633 1099.4 L632 1099.3 L631 1099.3 L630 1099.3 L629 1099.3 L628 1099.3 L627 1099.3 L626 1099.3 L625 1099.3 L624 1099.3 L623 1099.3 L622 1099.3 L621 1099.3 L620 1099.2 L619 1099.2 L618 1099.2 L617 1099.2 L616 1099.2 L615 1099.2 L614 1099.2 L613 1099.2 L612 1099.2 L611 1099.2 L610 1099.2 L609 1099.2 L608 1099.1 L607 1099.1 L606 1099.1 L605 1099.1 L604 1099.1 L603 1099.1 L602 1099.1 L601 1099.1 L600 1099.1 L599 1099.1 L598 1099.1 L597 1099.1 L596 1099 L595 1099 L594 1099 L593 1099 L592 1099 L591 1099 L590 1099 L589 1099 L588 1099 L587 1099 L586 1098.9 L585 1098.9 L584 1098.9 L583 1098.9 L582 1098.9 L581 1098.9 L580 1098.9 L579 1098.8 L578 1098.8 L577 1098.8 L576 1098.8 L575 1098.7 L574 1098.7 L573 1098.7 L572 1098.6 L571 1098.6 L570 1098.5 L569 1098.5 L568 1098.4 L567 1098.3 L566 1098.2 L565 1098.1 L564 1098 L563 1097.8 L562 1097.7 L561 1097.5 L560 1097.3 L559 1097.1 L558 1096.8 L557 1096.5 L556 1096.2 L555 1095.8 L554 1095.4 L553 1095 L552 1094.6 L551 1094.1 L550 1093.6 L549 1093.1 L548 1092.6 L547 1092.1 L546 1091.6 L545 1091.1 L544 1090.6 L543 1090.2 L542 1089.8 L541 1089.4 L540 1089 L539 1088.7 L538 1088.4 L537 1088.2 L536 1087.9 L535 1087.7 L534 1087.6 L533 1087.4 L532 1087.3 L531 1087.2 L530 1087.1 L529 1086.9 L528 1086.8 L527 1086.6 L526 1086.5 L525 1086.4 L524 1086.2 L523 1086.1 L522 1086 L521 1085.9 L520 1085.8 L519 1085.6 L518 1085.5 L517 1085.4 L516 1085.4 L515 1085.3 L514 1085.2 L513 1085.1 L512 1085 L511 1084.9 L510 1084.9 L509 1084.8 L508 1084.7 L507 1084.6 L506 1084.5 L505 1084.5 L504 1084.4 L503 1084.3 L502 1084.2 L501 1084.1 L500 1084 L499 1084 L498 1083.9 L497 1083.8 L496 1083.7 L495 1083.6 L494 1083.5 L493 1083.5 L492 1083.4 L491 1083.3 L490 1083.2 L489 1083.1 L488 1083.1 L487 1083 L486 1082.9 L485 1082.8 L484 1082.7 L483 1082.6 L482 1082.6 L481 1082.5 L480 1082.4 L479 1082.3 L478 1082.2 L477 1082.2 L476 1082.1 L475 1082 L474 1081.9 L473 1081.8 L472 1081.7 L471 1081.7 L470 1081.6 L469 1081.5 L468 1081.4 L467 1081.3 L466 1081.3 L465 1081.2 L464 1081.1 L463 1081 L462 1080.9 L461 1080.8 L460 1080.8 L459 1080.7 L458 1080.6 L457 1080.5 L456 1080.4 L455 1080.4 L454 1080.3 L453 1080.2 L452 1080.1 L451 1080 L450 1079.9 L449 1079.9 L448 1079.8 L447 1079.7 L446 1079.6 L445 1079.5 L444 1079.5 L443 1079.4 L442 1079.3 L441 1079.2 L440 1079.1 L439 1079 L438 1079 L437 1078.9 L436 1078.8 L435 1078.7 L434 1078.6 L433 1078.5 L432 1078.5 L431 1078.4 L430 1078.3 L429 1078.2 L428 1078.1 L427 1078.1 L426 1078 L425 1077.9 L424 1077.8 L423 1077.7 L422 1077.6 L421 1077.6 L420 1077.5 L419 1077.4 L418 1077.3 L417 1077.2 L416 1077.2 L415 1077.1 L414 1077 L413 1076.9 L412 1076.8 L411 1076.7 L410 1076.7 L409 1076.6 L408 1076.5 L407 1076.4 L406 1076.3 L405 1076.3 L404 1076.2 L403 1076.1 L402 1076 L401 1075.9 L400 1075.8 L399 1075.8 L398 1075.7 L397 1075.6 L396 1075.5 L395 1075.4 L394 1075.4 L393 1075.3 L392 1075.2 L391 1075.1 L390 1075 L389 1074.9 L388 1074.9 L387 1074.8 L386 1074.7 L385 1074.6 L384 1074.5 L383 1074.5 L382 1074.4 L381 1074.3 L380 1074.2 L379 1074.1 L378 1074 L377 1074 L376 1073.9 L375 1073.8 L374 1073.7 L373 1073.6 L372 1073.5 L371 1073.5 L370 1073.4 L369 1073.3 L368 1073.2 L367 1073.1 L366 1073.1 L365 1073 L364 1072.9 L363 1072.8 L362 1072.7 L361 1072.6 L360 1072.6 L359 1072.5 L358 1072.4 L357 1072.3 L356 1072.2 L355 1072.2 L354 1072.1 L353 1072 L352 1071.9 L351 1071.8 L350 1071.7 L349 1071.7 L348 1071.6 L347 1071.5 L346 1071.4 L345 1071.3 L344 1071.3 L343 1071.2 L342 1071.1 L341 1071 L340 1070.9 L339 1070.8 L338 1070.8 L337 1070.7 L336 1070.6 L335 1070.5 L334 1070.4 L333 1070.4 L332 1070.3 L331 1070.2 L330 1070.1 L329 1070 L328 1069.9 L327 1069.9 L326 1069.8 L325 1069.7 L324 1069.6 L323 1069.5 L322 1069.5 L321 1069.4 L320 1069.3 L319 1069.2 L318 1069.1 L317 1069 L316 1069 L315 1068.9 L314 1068.8 L313 1068.7 L312 1068.6 L311 1068.5 L310 1068.5 L309 1068.4 L308 1068.3 L307 1068.2 L306 1068.1 L305 1068.1 L304 1068 L303 1067.9 L302 1067.8 L301 1067.7 L300 1067.6 L299 1067.6 L298 1067.5 L297 1067.4 L296 1067.3 L295 1067.2 L294 1067.2 L293 1067.1 L292 1067 L291 1066.9 L290 1066.8 L289 1066.7 L288 1066.7 L287 1066.6 L286 1066.5 L285 1066.4 L284 1066.3 L283 1066.3 L282 1066.2 L281 1066.1 L280 1066 L279 1065.9 L278 1065.8 L277 1065.8 L276 1065.7 L275 1065.6 L274 1065.5 L273 1065.4 L272 1065.4 L271 1065.3 L270 1065.2 L269 1065.1 L268 1065 L267 1064.9 L266 1064.9 L265 1064.8 L264 1064.7 L263 1064.6 L262 1064.5 L261 1064.5 L260 1064.4 L259 1064.3 L258 1064.2 L257 1064.1 L256 1064 L255 1064 L254 1063.9 L253 1063.8 L252 1063.7 L251 1063.6 L250 1063.5 L249 1063.5 L248 1063.4 L247 1063.3 L246 1063.2 L245 1063.1 L244 1063.1 L243 1063 L242 1062.9 L241 1062.8 L240 1062.7 L239 1062.6 L238 1062.6 L237 1062.5 L236 1062.4 L235 1062.3 L234 1062.2 L233 1062.2 L232 1062.1 L231 1062 L230 1061.9 L229 1061.8 L228 1061.7 L227 1061.7 L226 1061.6 L225 1061.5 L224 1061.4 L223 1061.3 L222 1061.3 L221 1061.2 L220 1061.1 L219 1061 L218 1060.9 L217 1060.8 L216 1060.8 L215 1060.7 L214 1060.6 L213 1060.5 L212 1060.4 L211 1060.4 L210 1060.3 L209 1060.2 L208 1060.1 L207 1060 L206 1059.9 L205 1059.9 L204 1059.8 L203 1059.7 L202 1059.6 L201 1059.5 L200 1059.5 L199 1059.4 L198 1059.3 L197 1059.2 L196 1059.1 L195 1059 L194 1059 L193 1058.9 L192 1058.8 L191 1058.7 L190 1058.6 L189 1058.5 L188 1058.5 L187 1058.4 L186 1058.3 L185 1058.2 L184 1058.1 L183 1058.1 L182 1058 L181 1057.9 L180 1057.8 L179 1057.7 L178 1057.6 L177 1057.6 L176 1057.5 L175 1057.4 L174 1057.3 L173 1057.2 L172 1057.2 L171 1057.1 L170 1057 L169 1056.9 L168 1056.8 L167 1056.7 L166 1056.7 L165 1056.6 L164 1056.5 L163 1056.4 L162 1056.3 L161 1056.3 L160 1056.2 L159 1056.1 L158 1056 L157 1055.9 L156 1055.8 L155 1055.8 L154 1055.7 L153 1055.6 L152 1055.5 L151 1055.4 L150 1055.4 L149 1055.3 L148 1055.2 L147 1055.1 L146 1055 L145 1054.9 L144 1054.9 L143 1054.8 L142 1054.7 L141 1054.6 L140 1054.5 L139 1054.5 L138 1054.4 L137 1054.3 L136 1054.2 L135 1054.1 L134 1054 L133 1054 L132 1053.9 L131 1053.8 L130 1053.7 L129 1053.6 L128 1053.5 L127 1053.5 L126 1053.4 L125 1053.3 L124 1053.2 L123 1053.1 L122 1053.1 L121 1053 L120 1052.9 L119 1052.8 L118 1052.7 L117 1052.6 L116 1052.6 L115 1052.5 L114 1052.4 L113 1052.3 L112 1052.2 L111 1052.2 L110 1052.1 L109 1052 L108 1051.9 L107 1051.8 L106 1051.7 L105 1051.7 L104 1051.6Z" fill="rgba(8,5,150,0.76)"/>
<path d="M104 1045 L105 1045 L106 1045 L107 1044.9 L108 1044.9 L109 1044.9 L110 1044.9 L111 1044.9 L112 1044.9 L113 1044.9 L114 1044.9 L115 1044.8 L116 1044.8 L117 1044.8 L118 1044.8 L119 1044.8 L120 1044.8 L121 1044.8 L122 1044.8 L123 1044.7 L124 1044.7 L125 1044.7 L126 1044.7 L127 1044.7 L128 1044.7 L129 1044.7 L130 1044.7 L131 1044.6 L132 1044.6 L133 1044.6 L134 1044.6 L135 1044.6 L136 1044.6 L137 1044.6 L138 1044.6 L139 1044.5 L140 1044.5 L141 1044.6 L142 1044.6 L143 1044.6 L144 1044.6 L145 1044.6 L146 1044.6 L147 1044.7 L148 1044.7 L149 1044.7 L150 1044.7 L151 1044.7 L152 1044.8 L153 1044.8 L154 1044.8 L155 1044.8 L156 1044.8 L157 1044.9 L158 1044.9 L159 1044.9 L160 1044.9 L161 1044.9 L162 1045 L163 1045 L164 1045 L165 1045 L166 1045 L167 1045.1 L168 1045.1 L169 1045.1 L170 1045.1 L171 1045.1 L172 1045.2 L173 1045.2 L174 1045.2 L175 1045.2 L176 1045.2 L177 1045.3 L178 1045.3 L179 1045.3 L180 1045.3 L181 1045.4 L182 1045.5 L183 1045.5 L184 1045.6 L185 1045.7 L186 1045.8 L187 1045.8 L188 1045.9 L189 1046 L190 1046.1 L191 1046.1 L192 1046.2 L193 1046.3 L194 1046.4 L195 1046.4 L196 1046.5 L197 1046.6 L198 1046.7 L199 1046.7 L200 1046.8 L201 1046.9 L202 1047 L203 1047 L204 1047.1 L205 1047.2 L206 1047.3 L207 1047.3 L208 1047.4 L209 1047.5 L210 1047.6 L211 1047.6 L212 1047.7 L213 1047.8 L214 1047.9 L215 1047.9 L216 1048 L217 1048.1 L218 1048.2 L219 1048.2 L220 1048.3 L221 1048.4 L222 1048.5 L223 1048.5 L224 1048.6 L225 1048.7 L226 1048.8 L227 1048.8 L228 1048.9 L229 1049 L230 1049.1 L231 1049.1 L232 1049.2 L233 1049.3 L234 1049.4 L235 1049.4 L236 1049.5 L237 1049.6 L238 1049.7 L239 1049.7 L240 1049.8 L241 1049.9 L242 1050 L243 1050 L244 1050.1 L245 1050.2 L246 1050.2 L247 1050.3 L248 1050.4 L249 1050.5 L250 1050.5 L251 1050.6 L252 1050.6 L253 1050.7 L254 1050.7 L255 1050.8 L256 1050.8 L257 1050.8 L258 1050.9 L259 1050.9 L260 1051 L261 1051 L262 1051.1 L263 1051.1 L264 1051.1 L265 1051.2 L266 1051.2 L267 1051.3 L268 1051.3 L269 1051.3 L270 1051.4 L271 1051.4 L272 1051.5 L273 1051.5 L274 1051.6 L275 1051.6 L276 1051.6 L277 1051.7 L278 1051.7 L279 1051.8 L280 1051.8 L281 1051.9 L282 1051.9 L283 1051.9 L284 1052 L285 1052 L286 1052.1 L287 1052.1 L288 1052.1 L289 1052.2 L290 1052.2 L291 1052.3 L292 1052.4 L293 1052.4 L294 1052.5 L295 1052.6 L296 1052.6 L297 1052.7 L298 1052.8 L299 1052.8 L300 1052.9 L301 1053 L302 1053 L303 1053.1 L304 1053.2 L305 1053.2 L306 1053.3 L307 1053.4 L308 1053.4 L309 1053.5 L310 1053.6 L311 1053.6 L312 1053.7 L313 1053.8 L314 1053.8 L315 1053.9 L316 1054 L317 1054 L318 1054.1 L319 1054.2 L320 1054.2 L321 1054.3 L322 1054.4 L323 1054.4 L324 1054.5 L325 1054.6 L326 1054.6 L327 1054.7 L328 1054.8 L329 1054.8 L330 1054.9 L331 1055.1 L332 1055.4 L333 1055.6 L334 1055.9 L335 1056.1 L336 1056.4 L337 1056.6 L338 1056.8 L339 1057.1 L340 1057.3 L341 1057.6 L342 1057.8 L343 1058.1 L344 1058.3 L345 1058.5 L346 1058.8 L347 1059 L348 1059.3 L349 1059.5 L350 1059.7 L351 1060 L352 1060.2 L353 1060.5 L354 1060.7 L355 1061 L356 1061.2 L357 1061.4 L358 1061.7 L359 1061.9 L360 1062.2 L361 1062.4 L362 1062.6 L363 1062.9 L364 1063.1 L365 1063.4 L366 1063.6 L367 1063.9 L368 1064.1 L369 1064.3 L370 1064.6 L371 1064.6 L372 1064.6 L373 1064.7 L374 1064.7 L375 1064.7 L376 1064.7 L377 1064.8 L378 1064.8 L379 1064.8 L380 1064.9 L381 1064.9 L382 1064.9 L383 1064.9 L384 1065 L385 1065 L386 1065 L387 1065 L388 1065.1 L389 1065.1 L390 1065.1 L391 1065.2 L392 1065.2 L393 1065.2 L394 1065.2 L395 1065.3 L396 1065.3 L397 1065.3 L398 1065.3 L399 1065.4 L400 1065.4 L401 1065.4 L402 1065.4 L403 1065.5 L404 1065.5 L405 1065.5 L406 1065.6 L407 1065.6 L408 1065.6 L409 1065.6 L410 1065.7 L411 1065.7 L412 1065.7 L413 1065.7 L414 1065.8 L415 1065.8 L416 1065.8 L417 1065.8 L418 1065.9 L419 1065.9 L420 1065.9 L421 1065.9 L422 1066 L423 1066 L424 1066 L425 1066 L426 1066.1 L427 1066.1 L428 1066.1 L429 1066.1 L430 1066.2 L431 1066.2 L432 1066.2 L433 1066.2 L434 1066.3 L435 1066.3 L436 1066.3 L437 1066.3 L438 1066.3 L439 1066.4 L440 1066.4 L441 1066.4 L442 1066.4 L443 1066.5 L444 1066.5 L445 1066.5 L446 1066.5 L447 1066.6 L448 1066.6 L449 1066.6 L450 1066.6 L451 1066.8 L452 1067 L453 1067.1 L454 1067.3 L455 1067.4 L456 1067.6 L457 1067.7 L458 1067.9 L459 1068 L460 1068.2 L461 1068.3 L462 1068.5 L463 1068.7 L464 1068.8 L465 1069 L466 1069.1 L467 1069.3 L468 1069.4 L469 1069.6 L470 1069.7 L471 1069.9 L472 1070 L473 1070.2 L474 1070.3 L475 1070.5 L476 1070.7 L477 1070.8 L478 1071 L479 1071.1 L480 1071.3 L481 1071.4 L482 1071.6 L483 1071.7 L484 1071.9 L485 1072 L486 1072.2 L487 1072.4 L488 1072.5 L489 1072.7 L490 1072.8 L491 1073 L492 1073.2 L493 1073.4 L494 1073.6 L495 1073.8 L496 1074 L497 1074.2 L498 1074.4 L499 1074.5 L500 1074.7 L501 1074.9 L502 1075.1 L503 1075.3 L504 1075.5 L505 1075.7 L506 1075.9 L507 1076.1 L508 1076.3 L509 1076.5 L510 1076.7 L511 1076.9 L512 1077 L513 1077.2 L514 1077.4 L515 1077.6 L516 1077.8 L517 1078 L518 1078.2 L519 1078.4 L520 1078.7 L521 1078.9 L522 1079.1 L523 1079.3 L524 1079.6 L525 1079.8 L526 1080 L527 1080.3 L528 1080.5 L529 1080.8 L530 1081.1 L531 1081.1 L532 1081.1 L533 1081.1 L534 1081.2 L535 1081.2 L536 1081.3 L537 1081.5 L538 1081.6 L539 1081.8 L540 1082 L541 1082.3 L542 1082.6 L543 1082.9 L544 1083.2 L545 1083.6 L546 1084 L547 1084.4 L548 1084.8 L549 1085.2 L550 1085.6 L551 1086 L552 1086.4 L553 1086.7 L554 1087 L555 1087.3 L556 1087.6 L557 1087.8 L558 1088 L559 1088.2 L560 1088.3 L561 1088.3 L562 1088.4 L563 1088.4 L564 1088.4 L565 1088.4 L566 1088.3 L567 1088.3 L568 1088.2 L569 1088.1 L570 1088 L571 1087.9 L572 1087.8 L573 1087.7 L574 1087.6 L575 1087.5 L576 1087.4 L577 1087.2 L578 1087.1 L579 1087 L580 1086.9 L581 1086.9 L582 1087 L583 1087.1 L584 1087.1 L585 1087.2 L586 1087.2 L587 1087.3 L588 1087.4 L589 1087.4 L590 1087.5 L591 1087.5 L592 1087.6 L593 1087.7 L594 1087.7 L595 1087.8 L596 1087.8 L597 1087.9 L598 1088 L599 1088 L600 1088.1 L601 1088.1 L602 1088.2 L603 1088.3 L604 1088.3 L605 1088.4 L606 1088.4 L607 1088.5 L608 1088.5 L609 1088.6 L610 1088.7 L611 1088.7 L612 1088.8 L613 1088.8 L614 1088.9 L615 1089 L616 1089 L617 1089.1 L618 1089.1 L619 1089.2 L620 1089.2 L621 1089.3 L622 1089.4 L623 1089.4 L624 1089.5 L625 1089.5 L626 1089.6 L627 1089.7 L628 1089.7 L629 1089.8 L630 1089.8 L631 1089.9 L632 1089.9 L633 1090 L634 1090.1 L635 1090.1 L636 1090.2 L637 1090.2 L638 1090.3 L639 1090.4 L640 1090.4 L641 1090.5 L642 1090.6 L643 1090.7 L644 1090.8 L645 1090.8 L646 1090.9 L647 1091 L648 1091.1 L649 1091.2 L650 1091.3 L651 1091.4 L652 1091.5 L653 1091.5 L654 1091.6 L655 1091.7 L656 1091.8 L657 1091.9 L658 1092 L659 1092.1 L660 1092.1 L661 1092.2 L662 1092.3 L663 1092.4 L664 1092.5 L665 1092.6 L666 1092.7 L667 1092.8 L668 1092.8 L669 1092.9 L670 1093 L671 1093.1 L672 1093.2 L673 1093.3 L674 1093.4 L675 1093.4 L676 1093.5 L677 1093.6 L678 1093.7 L679 1093.8 L680 1093.9 L681 1094 L682 1094.1 L683 1094.1 L684 1094.2 L685 1094.3 L685 1099.8 L684 1099.8 L683 1099.8 L682 1099.8 L681 1099.8 L680 1099.7 L679 1099.7 L678 1099.7 L677 1099.7 L676 1099.7 L675 1099.7 L674 1099.7 L673 1099.7 L672 1099.7 L671 1099.7 L670 1099.7 L669 1099.7 L668 1099.6 L667 1099.6 L666 1099.6 L665 1099.6 L664 1099.6 L663 1099.6 L662 1099.6 L661 1099.6 L660 1099.6 L659 1099.6 L658 1099.6 L657 1099.6 L656 1099.5 L655 1099.5 L654 1099.5 L653 1099.5 L652 1099.5 L651 1099.5 L650 1099.5 L649 1099.5 L648 1099.5 L647 1099.5 L646 1099.5 L645 1099.5 L644 1099.4 L643 1099.4 L642 1099.4 L641 1099.4 L640 1099.4 L639 1099.4 L638 1099.4 L637 1099.4 L636 1099.4 L635 1099.4 L634 1099.4 L633 1099.4 L632 1099.3 L631 1099.3 L630 1099.3 L629 1099.3 L628 1099.3 L627 1099.3 L626 1099.3 L625 1099.3 L624 1099.3 L623 1099.3 L622 1099.3 L621 1099.3 L620 1099.2 L619 1099.2 L618 1099.2 L617 1099.2 L616 1099.2 L615 1099.2 L614 1099.2 L613 1099.2 L612 1099.2 L611 1099.2 L610 1099.2 L609 1099.2 L608 1099.1 L607 1099.1 L606 1099.1 L605 1099.1 L604 1099.1 L603 1099.1 L602 1099.1 L601 1099.1 L600 1099.1 L599 1099.1 L598 1099.1 L597 1099.1 L596 1099 L595 1099 L594 1099 L593 1099 L592 1099 L591 1099 L590 1099 L589 1099 L588 1099 L587 1099 L586 1098.9 L585 1098.9 L584 1098.9 L583 1098.9 L582 1098.9 L581 1098.9 L580 1098.9 L579 1098.8 L578 1098.8 L577 1098.8 L576 1098.8 L575 1098.7 L574 1098.7 L573 1098.7 L572 1098.6 L571 1098.6 L570 1098.5 L569 1098.5 L568 1098.4 L567 1098.3 L566 1098.2 L565 1098.1 L564 1098 L563 1097.8 L562 1097.7 L561 1097.5 L560 1097.3 L559 1097.1 L558 1096.8 L557 1096.5 L556 1096.2 L555 1095.8 L554 1095.4 L553 1095 L552 1094.6 L551 1094.1 L550 1093.6 L549 1093.1 L548 1092.6 L547 1092.1 L546 1091.6 L545 1091.1 L544 1090.6 L543 1090.2 L542 1089.8 L541 1089.4 L540 1089 L539 1088.7 L538 1088.4 L537 1088.2 L536 1087.9 L535 1087.7 L534 1087.6 L533 1087.4 L532 1087.3 L531 1087.2 L530 1087.1 L529 1086.9 L528 1086.8 L527 1086.6 L526 1086.5 L525 1086.4 L524 1086.2 L523 1086.1 L522 1086 L521 1085.9 L520 1085.8 L519 1085.6 L518 1085.5 L517 1085.4 L516 1085.4 L515 1085.3 L514 1085.2 L513 1085.1 L512 1085 L511 1084.9 L510 1084.9 L509 1084.8 L508 1084.7 L507 1084.6 L506 1084.5 L505 1084.5 L504 1084.4 L503 1084.3 L502 1084.2 L501 1084.1 L500 1084 L499 1084 L498 1083.9 L497 1083.8 L496 1083.7 L495 1083.6 L494 1083.5 L493 1083.5 L492 1083.4 L491 1083.3 L490 1083.2 L489 1083.1 L488 1083.1 L487 1083 L486 1082.9 L485 1082.8 L484 1082.7 L483 1082.6 L482 1082.6 L481 1082.5 L480 1082.4 L479 1082.3 L478 1082.2 L477 1082.2 L476 1082.1 L475 1082 L474 1081.9 L473 1081.8 L472 1081.7 L471 1081.7 L470 1081.6 L469 1081.5 L468 1081.4 L467 1081.3 L466 1081.3 L465 1081.2 L464 1081.1 L463 1081 L462 1080.9 L461 1080.8 L460 1080.8 L459 1080.7 L458 1080.6 L457 1080.5 L456 1080.4 L455 1080.4 L454 1080.3 L453 1080.2 L452 1080.1 L451 1080 L450 1079.9 L449 1079.9 L448 1079.8 L447 1079.7 L446 1079.6 L445 1079.5 L444 1079.5 L443 1079.4 L442 1079.3 L441 1079.2 L440 1079.1 L439 1079 L438 1079 L437 1078.9 L436 1078.8 L435 1078.7 L434 1078.6 L433 1078.5 L432 1078.5 L431 1078.4 L430 1078.3 L429 1078.2 L428 1078.1 L427 1078.1 L426 1078 L425 1077.9 L424 1077.8 L423 1077.7 L422 1077.6 L421 1077.6 L420 1077.5 L419 1077.4 L418 1077.3 L417 1077.2 L416 1077.2 L415 1077.1 L414 1077 L413 1076.9 L412 1076.8 L411 1076.7 L410 1076.7 L409 1076.6 L408 1076.5 L407 1076.4 L406 1076.3 L405 1076.3 L404 1076.2 L403 1076.1 L402 1076 L401 1075.9 L400 1075.8 L399 1075.8 L398 1075.7 L397 1075.6 L396 1075.5 L395 1075.4 L394 1075.4 L393 1075.3 L392 1075.2 L391 1075.1 L390 1075 L389 1074.9 L388 1074.9 L387 1074.8 L386 1074.7 L385 1074.6 L384 1074.5 L383 1074.5 L382 1074.4 L381 1074.3 L380 1074.2 L379 1074.1 L378 1074 L377 1074 L376 1073.9 L375 1073.8 L374 1073.7 L373 1073.6 L372 1073.5 L371 1073.5 L370 1073.4 L369 1073.3 L368 1073.2 L367 1073.1 L366 1073.1 L365 1073 L364 1072.9 L363 1072.8 L362 1072.7 L361 1072.6 L360 1072.6 L359 1072.5 L358 1072.4 L357 1072.3 L356 1072.2 L355 1072.2 L354 1072.1 L353 1072 L352 1071.9 L351 1071.8 L350 1071.7 L349 1071.7 L348 1071.6 L347 1071.5 L346 1071.4 L345 1071.3 L344 1071.3 L343 1071.2 L342 1071.1 L341 1071 L340 1070.9 L339 1070.8 L338 1070.8 L337 1070.7 L336 1070.6 L335 1070.5 L334 1070.4 L333 1070.4 L332 1070.3 L331 1070.2 L330 1070.1 L329 1070 L328 1069.9 L327 1069.9 L326 1069.8 L325 1069.7 L324 1069.6 L323 1069.5 L322 1069.5 L321 1069.4 L320 1069.3 L319 1069.2 L318 1069.1 L317 1069 L316 1069 L315 1068.9 L314 1068.8 L313 1068.7 L312 1068.6 L311 1068.5 L310 1068.5 L309 1068.4 L308 1068.3 L307 1068.2 L306 1068.1 L305 1068.1 L304 1068 L303 1067.9 L302 1067.8 L301 1067.7 L300 1067.6 L299 1067.6 L298 1067.5 L297 1067.4 L296 1067.3 L295 1067.2 L294 1067.2 L293 1067.1 L292 1067 L291 1066.9 L290 1066.8 L289 1066.7 L288 1066.7 L287 1066.6 L286 1066.5 L285 1066.4 L284 1066.3 L283 1066.3 L282 1066.2 L281 1066.1 L280 1066 L279 1065.9 L278 1065.8 L277 1065.8 L276 1065.7 L275 1065.6 L274 1065.5 L273 1065.4 L272 1065.4 L271 1065.3 L270 1065.2 L269 1065.1 L268 1065 L267 1064.9 L266 1064.9 L265 1064.8 L264 1064.7 L263 1064.6 L262 1064.5 L261 1064.5 L260 1064.4 L259 1064.3 L258 1064.2 L257 1064.1 L256 1064 L255 1064 L254 1063.9 L253 1063.8 L252 1063.7 L251 1063.6 L250 1063.5 L249 1063.5 L248 1063.4 L247 1063.3 L246 1063.2 L245 1063.1 L244 1063.1 L243 1063 L242 1062.9 L241 1062.8 L240 1062.7 L239 1062.6 L238 1062.6 L237 1062.5 L236 1062.4 L235 1062.3 L234 1062.2 L233 1062.2 L232 1062.1 L231 1062 L230 1061.9 L229 1061.8 L228 1061.7 L227 1061.7 L226 1061.6 L225 1061.5 L224 1061.4 L223 1061.3 L222 1061.3 L221 1061.2 L220 1061.1 L219 1061 L218 1060.9 L217 1060.8 L216 1060.8 L215 1060.7 L214 1060.6 L213 1060.5 L212 1060.4 L211 1060.4 L210 1060.3 L209 1060.2 L208 1060.1 L207 1060 L206 1059.9 L205 1059.9 L204 1059.8 L203 1059.7 L202 1059.6 L201 1059.5 L200 1059.5 L199 1059.4 L198 1059.3 L197 1059.2 L196 1059.1 L195 1059 L194 1059 L193 1058.9 L192 1058.8 L191 1058.7 L190 1058.6 L189 1058.5 L188 1058.5 L187 1058.4 L186 1058.3 L185 1058.2 L184 1058.1 L183 1058.1 L182 1058 L181 1057.9 L180 1057.8 L179 1057.7 L178 1057.6 L177 1057.6 L176 1057.5 L175 1057.4 L174 1057.3 L173 1057.2 L172 1057.2 L171 1057.1 L170 1057 L169 1056.9 L168 1056.8 L167 1056.7 L166 1056.7 L165 1056.6 L164 1056.5 L163 1056.4 L162 1056.3 L161 1056.3 L160 1056.2 L159 1056.1 L158 1056 L157 1055.9 L156 1055.8 L155 1055.8 L154 1055.7 L153 1055.6 L152 1055.5 L151 1055.4 L150 1055.4 L149 1055.3 L148 1055.2 L147 1055.1 L146 1055 L145 1054.9 L144 1054.9 L143 1054.8 L142 1054.7 L141 1054.6 L140 1054.5 L139 1054.5 L138 1054.4 L137 1054.3 L136 1054.2 L135 1054.1 L134 1054 L133 1054 L132 1053.9 L131 1053.8 L130 1053.7 L129 1053.6 L128 1053.5 L127 1053.5 L126 1053.4 L125 1053.3 L124 1053.2 L123 1053.1 L122 1053.1 L121 1053 L120 1052.9 L119 1052.8 L118 1052.7 L117 1052.6 L116 1052.6 L115 1052.5 L114 1052.4 L113 1052.3 L112 1052.2 L111 1052.2 L110 1052.1 L109 1052 L108 1051.9 L107 1051.8 L106 1051.7 L105 1051.7 L104 1051.6Z" fill="#0505A0"/>
<path d="M104 1045.5 L105 1045.6 L106 1045.6 L107 1045.6 L108 1045.6 L109 1045.7 L110 1045.7 L111 1045.7 L112 1045.7 L113 1045.8 L114 1045.8 L115 1045.8 L116 1045.8 L117 1045.8 L118 1045.9 L119 1045.9 L120 1045.9 L121 1045.9 L122 1045.9 L123 1046 L124 1046 L125 1046 L126 1046 L127 1046 L128 1046 L129 1046 L130 1046 L131 1046 L132 1046 L133 1046.1 L134 1046.1 L135 1046.1 L136 1046.1 L137 1046.1 L138 1046.1 L139 1046.1 L140 1046.1 L141 1046.1 L142 1046.1 L143 1046 L144 1046 L145 1046 L146 1046 L147 1046 L148 1046 L149 1046 L150 1046 L151 1046 L152 1045.9 L153 1045.9 L154 1045.9 L155 1045.9 L156 1045.9 L157 1045.8 L158 1045.8 L159 1045.8 L160 1045.7 L161 1045.7 L162 1045.7 L163 1045.6 L164 1045.6 L165 1045.6 L166 1045.5 L167 1045.5 L168 1045.4 L169 1045.4 L170 1045.3 L171 1045.3 L172 1045.2 L173 1045.2 L174 1045.1 L175 1045.1 L176 1045 L177 1044.9 L178 1044.9 L179 1044.8 L180 1044.7 L181 1044.7 L182 1044.6 L183 1044.5 L184 1044.4 L185 1044.3 L186 1044.3 L187 1044.2 L188 1044.1 L189 1044 L190 1043.9 L191 1043.8 L192 1043.7 L193 1043.6 L194 1043.5 L195 1043.3 L196 1043.2 L197 1043.1 L198 1043 L199 1042.9 L200 1042.7 L201 1042.6 L202 1042.5 L203 1042.3 L204 1042.2 L205 1042 L206 1041.9 L207 1041.7 L208 1041.6 L209 1041.4 L210 1041.2 L211 1041.1 L212 1040.9 L213 1040.7 L214 1040.5 L215 1040.3 L216 1040.2 L217 1040 L218 1039.8 L219 1039.5 L220 1039.3 L221 1039.1 L222 1038.9 L223 1038.7 L224 1038.5 L225 1038.2 L226 1038 L227 1037.7 L228 1037.5 L229 1037.2 L230 1037 L231 1036.7 L232 1036.4 L233 1036.2 L234 1035.9 L235 1035.6 L236 1035.3 L237 1035 L238 1034.7 L239 1034.4 L240 1034.1 L241 1033.8 L242 1033.5 L243 1033.1 L244 1032.8 L245 1032.5 L246 1032.1 L247 1031.8 L248 1031.4 L249 1031.1 L250 1030.7 L251 1030.3 L252 1030 L253 1029.6 L254 1029.2 L255 1028.8 L256 1028.4 L257 1028 L258 1027.6 L259 1027.3 L260 1026.9 L261 1026.4 L262 1026 L263 1025.6 L264 1025.2 L265 1024.8 L266 1024.4 L267 1024 L268 1023.6 L269 1023.2 L270 1022.8 L271 1022.3 L272 1021.9 L273 1021.5 L274 1021.1 L275 1020.7 L276 1020.3 L277 1019.9 L278 1019.5 L279 1019.2 L280 1018.8 L281 1018.4 L282 1018.1 L283 1017.7 L284 1017.4 L285 1017 L286 1016.7 L287 1016.4 L288 1016.1 L289 1015.8 L290 1015.5 L291 1015.2 L292 1015 L293 1014.7 L294 1014.5 L295 1014.3 L296 1014.1 L297 1014 L298 1013.8 L299 1013.7 L300 1013.5 L301 1013.5 L302 1013.4 L303 1013.3 L304 1013.3 L305 1013.3 L306 1013.3 L307 1013.3 L308 1013.3 L309 1013.4 L310 1013.5 L311 1013.6 L312 1013.7 L313 1013.9 L314 1014 L315 1014.2 L316 1014.4 L317 1014.7 L318 1014.9 L319 1015.2 L320 1015.5 L321 1015.8 L322 1016.1 L323 1016.5 L324 1016.9 L325 1017.3 L326 1017.7 L327 1018.1 L328 1018.5 L329 1019 L330 1019.4 L331 1019.9 L332 1020.4 L333 1020.9 L334 1021.4 L335 1022 L336 1022.5 L337 1023.1 L338 1023.6 L339 1024.2 L340 1024.8 L341 1025.4 L342 1026 L343 1026.6 L344 1027.2 L345 1027.8 L346 1028.4 L347 1029.1 L348 1029.7 L349 1030.3 L350 1031 L351 1031.6 L352 1032.3 L353 1032.9 L354 1033.6 L355 1034.2 L356 1034.9 L357 1035.5 L358 1036.2 L359 1036.9 L360 1037.5 L361 1038.2 L362 1038.8 L363 1039.5 L364 1040.1 L365 1040.8 L366 1041.4 L367 1042 L368 1042.7 L369 1043.3 L370 1043.9 L371 1044.6 L372 1045.2 L373 1045.8 L374 1046.4 L375 1047 L376 1047.6 L377 1048.2 L378 1048.8 L379 1049.4 L380 1050 L381 1050.6 L382 1051.1 L383 1051.7 L384 1052.3 L385 1052.8 L386 1053.4 L387 1053.9 L388 1054.4 L389 1054.9 L390 1055.5 L391 1056 L392 1056.5 L393 1057 L394 1057.5 L395 1058 L396 1058.4 L397 1058.9 L398 1059.4 L399 1059.8 L400 1060.3 L401 1060.7 L402 1061.1 L403 1061.6 L404 1062 L405 1062.4 L406 1062.8 L407 1063.2 L408 1063.6 L409 1064 L410 1064.4 L411 1064.8 L412 1065.1 L413 1065.5 L414 1065.8 L415 1066.2 L416 1066.5 L417 1066.9 L418 1067.2 L419 1067.5 L420 1067.8 L421 1068.2 L422 1068.5 L423 1068.8 L424 1069.1 L425 1069.4 L426 1069.6 L427 1069.9 L428 1070.2 L429 1070.5 L430 1070.7 L431 1071 L432 1071.2 L433 1071.5 L434 1071.7 L435 1072 L436 1072.2 L437 1072.4 L438 1072.7 L439 1072.9 L440 1073.1 L441 1073.3 L442 1073.5 L443 1073.7 L444 1074 L445 1074.2 L446 1074.4 L447 1074.5 L448 1074.7 L449 1074.9 L450 1075.1 L451 1075.3 L452 1075.5 L453 1075.6 L454 1075.8 L455 1076 L456 1076.2 L457 1076.3 L458 1076.5 L459 1076.6 L460 1076.8 L461 1077 L462 1077.1 L463 1077.3 L464 1077.4 L465 1077.6 L466 1077.7 L467 1077.8 L468 1078 L469 1078.1 L470 1078.3 L471 1078.4 L472 1078.5 L473 1078.7 L474 1078.8 L475 1078.9 L476 1079.1 L477 1079.2 L478 1079.3 L479 1079.4 L480 1079.6 L481 1079.7 L482 1079.8 L483 1079.9 L484 1080 L485 1080.2 L486 1080.3 L487 1080.4 L488 1080.5 L489 1080.6 L490 1080.7 L491 1080.9 L492 1081 L493 1081.1 L494 1081.2 L495 1081.3 L496 1081.4 L497 1081.5 L498 1081.6 L499 1081.7 L500 1081.8 L501 1081.9 L502 1082.1 L503 1082.2 L504 1082.3 L505 1082.4 L506 1082.5 L507 1082.6 L508 1082.7 L509 1082.8 L510 1082.9 L511 1083 L512 1083.1 L513 1083.2 L514 1083.3 L515 1083.4 L516 1083.5 L517 1083.6 L518 1083.7 L519 1083.8 L520 1084 L521 1084.1 L522 1084.2 L523 1084.4 L524 1084.5 L525 1084.6 L526 1084.8 L527 1084.9 L528 1085.1 L529 1085.3 L530 1085.4 L531 1085.5 L532 1085.7 L533 1085.8 L534 1086 L535 1086.2 L536 1086.4 L537 1086.6 L538 1086.9 L539 1087.2 L540 1087.5 L541 1087.9 L542 1088.3 L543 1088.7 L544 1089.2 L545 1089.6 L546 1090.1 L547 1090.6 L548 1091.2 L549 1091.7 L550 1092.2 L551 1092.7 L552 1093.2 L553 1093.6 L554 1094.1 L555 1094.5 L556 1094.8 L557 1095.2 L558 1095.5 L559 1095.8 L560 1096 L561 1096.2 L562 1096.4 L563 1096.6 L564 1096.7 L565 1096.9 L566 1097 L567 1097.1 L568 1097.2 L569 1097.3 L570 1097.3 L571 1097.4 L572 1097.5 L573 1097.5 L574 1097.5 L575 1097.6 L576 1097.6 L577 1097.7 L578 1097.7 L579 1097.7 L580 1097.7 L581 1097.8 L582 1097.8 L583 1097.8 L584 1097.8 L585 1097.9 L586 1097.9 L587 1097.9 L588 1097.9 L589 1097.9 L590 1098 L591 1098 L592 1098 L593 1098 L594 1098 L595 1098 L596 1098 L597 1098.1 L598 1098.1 L599 1098.1 L600 1098.1 L601 1098.1 L602 1098.1 L603 1098.2 L604 1098.2 L605 1098.2 L606 1098.2 L607 1098.2 L608 1098.2 L609 1098.2 L610 1098.3 L611 1098.3 L612 1098.3 L613 1098.3 L614 1098.3 L615 1098.3 L616 1098.3 L617 1098.4 L618 1098.4 L619 1098.4 L620 1098.4 L621 1098.4 L622 1098.4 L623 1098.4 L624 1098.4 L625 1098.5 L626 1098.5 L627 1098.5 L628 1098.5 L629 1098.5 L630 1098.5 L631 1098.5 L632 1098.6 L633 1098.6 L634 1098.6 L635 1098.6 L636 1098.6 L637 1098.6 L638 1098.6 L639 1098.6 L640 1098.7 L641 1098.7 L642 1098.7 L643 1098.7 L644 1098.7 L645 1098.7 L646 1098.7 L647 1098.7 L648 1098.8 L649 1098.8 L650 1098.8 L651 1098.8 L652 1098.8 L653 1098.8 L654 1098.8 L655 1098.8 L656 1098.9 L657 1098.9 L658 1098.9 L659 1098.9 L660 1098.9 L661 1098.9 L662 1098.9 L663 1098.9 L664 1099 L665 1099 L666 1099 L667 1099 L668 1099 L669 1099 L670 1099 L671 1099 L672 1099 L673 1099.1 L674 1099.1 L675 1099.1 L676 1099.1 L677 1099.1 L678 1099.1 L679 1099.1 L680 1099.1 L681 1099.2 L682 1099.2 L683 1099.2 L684 1099.2 L685 1099.2" fill="none" stroke="#0A0AB4" stroke-width="2.4"/>
<path d="M104 1051.6 L105 1051.7 L106 1051.7 L107 1051.8 L108 1051.9 L109 1052 L110 1052.1 L111 1052.2 L112 1052.2 L113 1052.3 L114 1052.4 L115 1052.5 L116 1052.6 L117 1052.6 L118 1052.7 L119 1052.8 L120 1052.9 L121 1053 L122 1053.1 L123 1053.1 L124 1053.2 L125 1053.3 L126 1053.4 L127 1053.5 L128 1053.5 L129 1053.6 L130 1053.7 L131 1053.8 L132 1053.9 L133 1054 L134 1054 L135 1054.1 L136 1054.2 L137 1054.3 L138 1054.4 L139 1054.5 L140 1054.5 L141 1054.6 L142 1054.7 L143 1054.8 L144 1054.9 L145 1054.9 L146 1055 L147 1055.1 L148 1055.2 L149 1055.3 L150 1055.4 L151 1055.4 L152 1055.5 L153 1055.6 L154 1055.7 L155 1055.8 L156 1055.8 L157 1055.9 L158 1056 L159 1056.1 L160 1056.2 L161 1056.3 L162 1056.3 L163 1056.4 L164 1056.5 L165 1056.6 L166 1056.7 L167 1056.7 L168 1056.8 L169 1056.9 L170 1057 L171 1057.1 L172 1057.2 L173 1057.2 L174 1057.3 L175 1057.4 L176 1057.5 L177 1057.6 L178 1057.6 L179 1057.7 L180 1057.8 L181 1057.9 L182 1058 L183 1058.1 L184 1058.1 L185 1058.2 L186 1058.3 L187 1058.4 L188 1058.5 L189 1058.5 L190 1058.6 L191 1058.7 L192 1058.8 L193 1058.9 L194 1059 L195 1059 L196 1059.1 L197 1059.2 L198 1059.3 L199 1059.4 L200 1059.5 L201 1059.5 L202 1059.6 L203 1059.7 L204 1059.8 L205 1059.9 L206 1059.9 L207 1060 L208 1060.1 L209 1060.2 L210 1060.3 L211 1060.4 L212 1060.4 L213 1060.5 L214 1060.6 L215 1060.7 L216 1060.8 L217 1060.8 L218 1060.9 L219 1061 L220 1061.1 L221 1061.2 L222 1061.3 L223 1061.3 L224 1061.4 L225 1061.5 L226 1061.6 L227 1061.7 L228 1061.7 L229 1061.8 L230 1061.9 L231 1062 L232 1062.1 L233 1062.2 L234 1062.2 L235 1062.3 L236 1062.4 L237 1062.5 L238 1062.6 L239 1062.6 L240 1062.7 L241 1062.8 L242 1062.9 L243 1063 L244 1063.1 L245 1063.1 L246 1063.2 L247 1063.3 L248 1063.4 L249 1063.5 L250 1063.5 L251 1063.6 L252 1063.7 L253 1063.8 L254 1063.9 L255 1064 L256 1064 L257 1064.1 L258 1064.2 L259 1064.3 L260 1064.4 L261 1064.5 L262 1064.5 L263 1064.6 L264 1064.7 L265 1064.8 L266 1064.9 L267 1064.9 L268 1065 L269 1065.1 L270 1065.2 L271 1065.3 L272 1065.4 L273 1065.4 L274 1065.5 L275 1065.6 L276 1065.7 L277 1065.8 L278 1065.8 L279 1065.9 L280 1066 L281 1066.1 L282 1066.2 L283 1066.3 L284 1066.3 L285 1066.4 L286 1066.5 L287 1066.6 L288 1066.7 L289 1066.7 L290 1066.8 L291 1066.9 L292 1067 L293 1067.1 L294 1067.2 L295 1067.2 L296 1067.3 L297 1067.4 L298 1067.5 L299 1067.6 L300 1067.6 L301 1067.7 L302 1067.8 L303 1067.9 L304 1068 L305 1068 L306 1068.1 L307 1068.2 L308 1068.3 L309 1068.4 L310 1068.5 L311 1068.5 L312 1068.6 L313 1068.7 L314 1068.8 L315 1068.9 L316 1068.9 L317 1069 L318 1069.1 L319 1069.2 L320 1069.3 L321 1069.3 L322 1069.4 L323 1069.5 L324 1069.6 L325 1069.7 L326 1069.7 L327 1069.8 L328 1069.9 L329 1070 L330 1070 L331 1070.1 L332 1070.2 L333 1070.3 L334 1070.3 L335 1070.4 L336 1070.5 L337 1070.6 L338 1070.6 L339 1070.7 L340 1070.8 L341 1070.9 L342 1070.9 L343 1071 L344 1071.1 L345 1071.1 L346 1071.2 L347 1071.3 L348 1071.3 L349 1071.4 L350 1071.5 L351 1071.5 L352 1071.6 L353 1071.7 L354 1071.7 L355 1071.8 L356 1071.8 L357 1071.9 L358 1071.9 L359 1072 L360 1072.1 L361 1072.1 L362 1072.1 L363 1072.2 L364 1072.2 L365 1072.3 L366 1072.3 L367 1072.3 L368 1072.4 L369 1072.4 L370 1072.4 L371 1072.5 L372 1072.5 L373 1072.5 L374 1072.5 L375 1072.5 L376 1072.5 L377 1072.5 L378 1072.5 L379 1072.5 L380 1072.5 L381 1072.5 L382 1072.5 L383 1072.5 L384 1072.5 L385 1072.4 L386 1072.4 L387 1072.4 L388 1072.3 L389 1072.3 L390 1072.2 L391 1072.1 L392 1072.1 L393 1072 L394 1071.9 L395 1071.8 L396 1071.7 L397 1071.6 L398 1071.5 L399 1071.4 L400 1071.3 L401 1071.2 L402 1071 L403 1070.9 L404 1070.7 L405 1070.6 L406 1070.4 L407 1070.2 L408 1070 L409 1069.8 L410 1069.6 L411 1069.4 L412 1069.2 L413 1068.9 L414 1068.7 L415 1068.4 L416 1068.2 L417 1067.9 L418 1067.6 L419 1067.3 L420 1067 L421 1066.7 L422 1066.4 L423 1066 L424 1065.7 L425 1065.3 L426 1065 L427 1064.6 L428 1064.2 L429 1063.8 L430 1063.4 L431 1063 L432 1062.5 L433 1062.1 L434 1061.7 L435 1061.2 L436 1060.7 L437 1060.3 L438 1059.8 L439 1059.3 L440 1058.8 L441 1058.3 L442 1057.8 L443 1057.3 L444 1056.7 L445 1056.2 L446 1055.6 L447 1055.1 L448 1054.5 L449 1054 L450 1053.4 L451 1052.8 L452 1052.3 L453 1051.7 L454 1051.1 L455 1050.5 L456 1049.9 L457 1049.3 L458 1048.7 L459 1048.2 L460 1047.6 L461 1047 L462 1046.4 L463 1045.8 L464 1045.2 L465 1044.6 L466 1044.1 L467 1043.5 L468 1042.9 L469 1042.4 L470 1041.8 L471 1041.2 L472 1040.7 L473 1040.2 L474 1039.6 L475 1039.1 L476 1038.6 L477 1038.1 L478 1037.6 L479 1037.2 L480 1036.7 L481 1036.3 L482 1035.8 L483 1035.4 L484 1035 L485 1034.6 L486 1034.3 L487 1033.9 L488 1033.6 L489 1033.3 L490 1033 L491 1032.7 L492 1032.4 L493 1032.2 L494 1031.9 L495 1031.7 L496 1031.6 L497 1031.4 L498 1031.3 L499 1031.2 L500 1031.1 L501 1031 L502 1030.9 L503 1030.9 L504 1030.9 L505 1030.9 L506 1031 L507 1031 L508 1031.1 L509 1031.3 L510 1031.5 L511 1031.8 L512 1032.2 L513 1032.6 L514 1033.1 L515 1033.6 L516 1034.2 L517 1034.9 L518 1035.6 L519 1036.3 L520 1037.2 L521 1038.1 L522 1038.9 L523 1039.8 L524 1040.8 L525 1041.7 L526 1042.7 L527 1043.7 L528 1044.7 L529 1045.8 L530 1046.8 L531 1047.8 L532 1048.8 L533 1049.8 L534 1050.9 L535 1051.9 L536 1053 L537 1054.1 L538 1055.2 L539 1056.3 L540 1057.4 L541 1058.6 L542 1059.8 L543 1061 L544 1062.2 L545 1063.4 L546 1064.6 L547 1065.8 L548 1067 L549 1068.2 L550 1069.4 L551 1070.5 L552 1071.6 L553 1072.7 L554 1073.7 L555 1074.7 L556 1075.6 L557 1076.5 L558 1077.3 L559 1078.1 L560 1078.8 L561 1079.5 L562 1080.2 L563 1080.8 L564 1081.4 L565 1081.9 L566 1082.5 L567 1083 L568 1083.4 L569 1083.9 L570 1084.3 L571 1084.7 L572 1085.1 L573 1085.5 L574 1085.9 L575 1086.2 L576 1086.5 L577 1086.9 L578 1087.2 L579 1087.5 L580 1087.8 L581 1088 L582 1088.3 L583 1088.6 L584 1088.8 L585 1089 L586 1089.3 L587 1089.5 L588 1089.7 L589 1089.9 L590 1090.1 L591 1090.3 L592 1090.5 L593 1090.7 L594 1090.9 L595 1091.1 L596 1091.2 L597 1091.4 L598 1091.6 L599 1091.7 L600 1091.9 L601 1092 L602 1092.1 L603 1092.3 L604 1092.4 L605 1092.6 L606 1092.7 L607 1092.8 L608 1092.9 L609 1093.1 L610 1093.2 L611 1093.3 L612 1093.4 L613 1093.5 L614 1093.6 L615 1093.7 L616 1093.8 L617 1093.9 L618 1094 L619 1094.1 L620 1094.2 L621 1094.3 L622 1094.4 L623 1094.4 L624 1094.5 L625 1094.6 L626 1094.7 L627 1094.8 L628 1094.8 L629 1094.9 L630 1095 L631 1095.1 L632 1095.1 L633 1095.2 L634 1095.3 L635 1095.3 L636 1095.4 L637 1095.5 L638 1095.5 L639 1095.6 L640 1095.7 L641 1095.7 L642 1095.8 L643 1095.8 L644 1095.9 L645 1096 L646 1096 L647 1096.1 L648 1096.1 L649 1096.2 L650 1096.2 L651 1096.3 L652 1096.3 L653 1096.4 L654 1096.4 L655 1096.5 L656 1096.5 L657 1096.6 L658 1096.6 L659 1096.6 L660 1096.7 L661 1096.7 L662 1096.8 L663 1096.8 L664 1096.9 L665 1096.9 L666 1096.9 L667 1097 L668 1097 L669 1097.1 L670 1097.1 L671 1097.1 L672 1097.2 L673 1097.2 L674 1097.3 L675 1097.3 L676 1097.3 L677 1097.4 L678 1097.4 L679 1097.4 L680 1097.5 L681 1097.5 L682 1097.5 L683 1097.6 L684 1097.6 L685 1097.6" fill="none" stroke="#0A0AB4" stroke-width="2.4"/>
<path d="M104 1044.1 L105 1044.1 L106 1044.1 L107 1044.1 L108 1044.1 L109 1044.1 L110 1044.2 L111 1044.2 L112 1044.2 L113 1044.2 L114 1044.2 L115 1044.2 L116 1044.2 L117 1044.2 L118 1044.2 L119 1044.2 L120 1044.3 L121 1044.3 L122 1044.3 L123 1044.3 L124 1044.3 L125 1044.3 L126 1044.3 L127 1044.3 L128 1044.3 L129 1044.3 L130 1044.3 L131 1044.2 L132 1044.2 L133 1044.2 L134 1044.2 L135 1044.2 L136 1044.2 L137 1044.2 L138 1044.2 L139 1044.1 L140 1044.1 L141 1044.1 L142 1044.1 L143 1044.1 L144 1044 L145 1044 L146 1044 L147 1044 L148 1043.9 L149 1043.9 L150 1043.9 L151 1043.8 L152 1043.8 L153 1043.8 L154 1043.7 L155 1043.7 L156 1043.6 L157 1043.6 L158 1043.5 L159 1043.5 L160 1043.4 L161 1043.4 L162 1043.3 L163 1043.3 L164 1043.2 L165 1043.2 L166 1043.1 L167 1043 L168 1043 L169 1042.9 L170 1042.8 L171 1042.7 L172 1042.7 L173 1042.6 L174 1042.5 L175 1042.4 L176 1042.3 L177 1042.2 L178 1042.2 L179 1042.1 L180 1042 L181 1041.9 L182 1041.8 L183 1041.6 L184 1041.5 L185 1041.4 L186 1041.3 L187 1041.2 L188 1041.1 L189 1040.9 L190 1040.8 L191 1040.7 L192 1040.5 L193 1040.4 L194 1040.2 L195 1040.1 L196 1039.9 L197 1039.8 L198 1039.6 L199 1039.5 L200 1039.3 L201 1039.1 L202 1038.9 L203 1038.8 L204 1038.6 L205 1038.4 L206 1038.2 L207 1038 L208 1037.8 L209 1037.6 L210 1037.4 L211 1037.2 L212 1036.9 L213 1036.7 L214 1036.5 L215 1036.2 L216 1036 L217 1035.7 L218 1035.5 L219 1035.2 L220 1034.9 L221 1034.7 L222 1034.4 L223 1034.1 L224 1033.8 L225 1033.5 L226 1033.2 L227 1032.9 L228 1032.6 L229 1032.3 L230 1031.9 L231 1031.6 L232 1031.3 L233 1030.9 L234 1030.5 L235 1030.2 L236 1029.8 L237 1029.4 L238 1029 L239 1028.7 L240 1028.2 L241 1027.8 L242 1027.4 L243 1027 L244 1026.6 L245 1026.1 L246 1025.7 L247 1025.2 L248 1024.8 L249 1024.3 L250 1023.8 L251 1023.3 L252 1022.8 L253 1022.3 L254 1021.8 L255 1021.3 L256 1020.8 L257 1020.3 L258 1019.7 L259 1019.2 L260 1018.6 L261 1018.1 L262 1017.5 L263 1016.9 L264 1016.3 L265 1015.8 L266 1015.2 L267 1014.6 L268 1014 L269 1013.3 L270 1012.7 L271 1012.1 L272 1011.5 L273 1010.8 L274 1010.2 L275 1009.5 L276 1008.9 L277 1008.2 L278 1007.6 L279 1006.9 L280 1006.2 L281 1005.5 L282 1004.9 L283 1004.2 L284 1003.5 L285 1002.8 L286 1002.1 L287 1001.4 L288 1000.6 L289 999.9 L290 999.2 L291 998.4 L292 997.7 L293 996.9 L294 996.1 L295 995.3 L296 994.5 L297 993.7 L298 992.8 L299 991.9 L300 991 L301 990.1 L302 989.1 L303 988.1 L304 987 L305 985.9 L306 984.7 L307 983.5 L308 982.2 L309 980.8 L310 979.4 L311 977.9 L312 976.2 L313 974.5 L314 972.7 L315 970.8 L316 968.7 L317 966.5 L318 964.2 L319 961.7 L320 959.1 L321 956.3 L322 953.3 L323 950.2 L324 946.9 L325 943.5 L326 939.8 L327 936 L328 931.9 L329 927.7 L330 923.4 L331 918.8 L332 914.1 L333 909.2 L334 904.1 L335 899 L336 893.7 L337 888.4 L338 883 L339 877.6 L340 872.3 L341 867 L342 862 L343 857.1 L344 852.5 L345 848.3 L346 844.5 L347 841.2 L348 838.5 L349 836.4 L350 835.1 L351 834.5 L352 834.6 L353 835.6 L354 837.7 L355 840.6 L356 844.5 L357 849.2 L358 854.6 L359 860.5 L360 867 L361 873.7 L362 880.7 L363 887.8 L364 895 L365 902.1 L366 909.2 L367 916.1 L368 922.8 L369 929.3 L370 935.6 L371 941.7 L372 947.4 L373 953 L374 958.2 L375 963.2 L376 968 L377 972.5 L378 976.7 L379 980.8 L380 984.5 L381 988.1 L382 991.5 L383 994.7 L384 997.7 L385 1000.5 L386 1003.2 L387 1005.7 L388 1008 L389 1010.2 L390 1012.3 L391 1014.3 L392 1016.1 L393 1017.8 L394 1019.5 L395 1021 L396 1022.4 L397 1023.8 L398 1025 L399 1026.2 L400 1027.3 L401 1028.4 L402 1029.4 L403 1030.3 L404 1031.2 L405 1032 L406 1032.7 L407 1033.5 L408 1034.1 L409 1034.7 L410 1035.3 L411 1035.8 L412 1036.3 L413 1036.7 L414 1037.1 L415 1037.5 L416 1037.8 L417 1038.1 L418 1038.4 L419 1038.6 L420 1038.8 L421 1039 L422 1039.1 L423 1039.2 L424 1039.2 L425 1039.3 L426 1039.3 L427 1039.3 L428 1039.2 L429 1039.1 L430 1039 L431 1038.9 L432 1038.7 L433 1038.5 L434 1038.3 L435 1038.1 L436 1037.8 L437 1037.6 L438 1037.2 L439 1036.9 L440 1036.6 L441 1036.2 L442 1035.8 L443 1035.4 L444 1034.9 L445 1034.5 L446 1034 L447 1033.5 L448 1033 L449 1032.4 L450 1031.9 L451 1031.3 L452 1030.7 L453 1030.1 L454 1029.4 L455 1028.8 L456 1028.1 L457 1027.4 L458 1026.7 L459 1026 L460 1025.3 L461 1024.5 L462 1023.8 L463 1023 L464 1022.2 L465 1021.4 L466 1020.6 L467 1019.7 L468 1018.9 L469 1018 L470 1017.1 L471 1016.2 L472 1015.3 L473 1014.4 L474 1013.4 L475 1012.5 L476 1011.5 L477 1010.5 L478 1009.4 L479 1008.4 L480 1007.3 L481 1006.1 L482 1005 L483 1003.8 L484 1002.6 L485 1001.3 L486 1000 L487 998.6 L488 997.2 L489 995.7 L490 994.1 L491 992.5 L492 990.8 L493 988.9 L494 987 L495 985 L496 982.8 L497 980.5 L498 978 L499 975.4 L500 972.6 L501 969.6 L502 966.4 L503 963 L504 959.4 L505 955.5 L506 951.4 L507 946.9 L508 942.2 L509 937.3 L510 932.1 L511 926.5 L512 920.7 L513 914.6 L514 908.2 L515 901.5 L516 894.5 L517 887.2 L518 879.5 L519 871.6 L520 863.5 L521 855.1 L522 846.4 L523 837.6 L524 828.7 L525 819.8 L526 810.9 L527 802.1 L528 793.6 L529 785.5 L530 777.9 L531 770.9 L532 764.7 L533 759.5 L534 755.4 L535 752.5 L536 751 L537 750.9 L538 752.3 L539 755.3 L540 759.9 L541 766 L542 773.5 L543 782.2 L544 791.9 L545 802.3 L546 813.4 L547 824.8 L548 836.6 L549 848.4 L550 860.1 L551 871.7 L552 883.1 L553 894.2 L554 904.9 L555 915.2 L556 925.1 L557 934.5 L558 943.4 L559 951.9 L560 959.9 L561 967.5 L562 974.6 L563 981.3 L564 987.6 L565 993.5 L566 999 L567 1004.1 L568 1009 L569 1013.4 L570 1017.6 L571 1021.5 L572 1025.2 L573 1028.6 L574 1031.7 L575 1034.7 L576 1037.4 L577 1040 L578 1042.4 L579 1044.6 L580 1046.7 L581 1048.7 L582 1050.6 L583 1052.3 L584 1053.9 L585 1055.5 L586 1056.9 L587 1058.3 L588 1059.6 L589 1060.8 L590 1062 L591 1063.1 L592 1064.1 L593 1065.1 L594 1066.1 L595 1067 L596 1067.9 L597 1068.7 L598 1069.5 L599 1070.3 L600 1071 L601 1071.7 L602 1072.4 L603 1073.1 L604 1073.7 L605 1074.3 L606 1074.9 L607 1075.5 L608 1076 L609 1076.5 L610 1077 L611 1077.5 L612 1078 L613 1078.4 L614 1078.9 L615 1079.3 L616 1079.7 L617 1080.1 L618 1080.5 L619 1080.9 L620 1081.3 L621 1081.6 L622 1082 L623 1082.3 L624 1082.6 L625 1082.9 L626 1083.2 L627 1083.5 L628 1083.8 L629 1084.1 L630 1084.4 L631 1084.7 L632 1084.9 L633 1085.2 L634 1085.4 L635 1085.7 L636 1085.9 L637 1086.1 L638 1086.3 L639 1086.6 L640 1086.8 L641 1087 L642 1087.2 L643 1087.4 L644 1087.6 L645 1087.8 L646 1087.9 L647 1088.1 L648 1088.3 L649 1088.5 L650 1088.6 L651 1088.8 L652 1089 L653 1089.1 L654 1089.3 L655 1089.4 L656 1089.6 L657 1089.7 L658 1089.9 L659 1090 L660 1090.1 L661 1090.3 L662 1090.4 L663 1090.5 L664 1090.7 L665 1090.8 L666 1090.9 L667 1091 L668 1091.1 L669 1091.3 L670 1091.4 L671 1091.5 L672 1091.6 L673 1091.7 L674 1091.8 L675 1091.9 L676 1092 L677 1092.1 L678 1092.2 L679 1092.3 L680 1092.4 L681 1092.5 L682 1092.6 L683 1092.7 L684 1092.8 L685 1092.8" fill="none" stroke="#151515" stroke-width="3"/>
<rect x="103" y="649.6" width="583" height="477.7" fill="none" stroke="#222" stroke-width="2.6"/>
<path d="M103 1127.3V1136.3M242.8 1127.3V1136.3M382.6 1127.3V1136.3M522.4 1127.3V1136.3M662.2 1127.3V1136.3M172.9 1127.3V1132.3M312.7 1127.3V1132.3M452.5 1127.3V1132.3M592.3 1127.3V1132.3" stroke="#222" stroke-width="2.4" fill="none"/>
<text x="103" y="1164.8" font-size="30.4" fill="#111" text-anchor="middle">348</text>
<text x="242.8" y="1164.8" font-size="30.4" fill="#111" text-anchor="middle">344</text>
<text x="382.6" y="1164.8" font-size="30.4" fill="#111" text-anchor="middle">340</text>
<text x="522.4" y="1164.8" font-size="30.4" fill="#111" text-anchor="middle">336</text>
<text x="662.2" y="1164.8" font-size="30.4" fill="#111" text-anchor="middle">332</text>
<text x="29.5" y="681.5" font-size="44.8" fill="#111" text-anchor="start">(c)</text>
<text x="118.1" y="688.6" font-size="31.2" fill="#111" text-anchor="start">Pd 3d</text>
<text x="324.8" y="810.2" font-size="31" fill="#111" text-anchor="start">3d</text>
<text x="359.1" y="821.2" font-size="18.5" fill="#333" text-anchor="start">3/2</text>
<text x="510.6" y="728.3" font-size="31" fill="#111" text-anchor="start">3d</text>
<text x="543.5" y="739.5" font-size="18.5" fill="#333" text-anchor="start">5/2</text>
<text x="269.8" y="871.4" font-size="32" fill="#F5821F" text-anchor="start">Pd</text>
<text x="307.8" y="859.4" font-size="18" fill="#F5821F" text-anchor="start">0</text>
<text x="454.5" y="843.4" font-size="32" fill="#F5821F" text-anchor="start">Pd</text>
<text x="494.3" y="828.9" font-size="18" fill="#F5821F" text-anchor="start">0</text>
<text x="215.4" y="962" font-size="32" fill="#2B2BA6" text-anchor="start">Pd</text>
<text x="253.4" y="950.6" font-size="18" fill="#2B2BA6" text-anchor="start">2+</text>
<text x="419.3" y="977.8" font-size="32" fill="#2B2BA6" text-anchor="start">Pd</text>
<text x="457.2" y="964.2" font-size="18" fill="#2B2BA6" text-anchor="start">2+</text>
<path d="M297.5 881.5L330.1 936.1" stroke="#FF8410" stroke-width="2.4" fill="none"/>
<path d="M334.7 943.8L325.2 936.7L332.9 932Z" fill="#FF8410"/>
<path d="M481.5 852.5L514.9 911.5" stroke="#FF8410" stroke-width="2.4" fill="none"/>
<path d="M519.3 919.3L510 911.9L517.8 907.5Z" fill="#FF8410"/>
<path d="M247.5 971L275.2 1011.2" stroke="#0A0AB4" stroke-width="2.4" fill="none"/>
<path d="M280.3 1018.6L270.4 1012.1L277.8 1007Z" fill="#0A0AB4"/>
<path d="M447.9 988L472.7 1028.9" stroke="#0A0AB4" stroke-width="2.4" fill="none"/>
<path d="M477.4 1036.6L467.8 1029.5L475.5 1024.9Z" fill="#0A0AB4"/>
<text transform="translate(61.9 887.9) rotate(-90)" x="0" y="0" font-size="39" fill="#111" text-anchor="middle">Intensity / a.u.</text>
<text x="395.2" y="1207.7" font-size="38.3" fill="#111" text-anchor="middle">Binding Energy / eV</text>
<path d="M811.5 1064 L812.5 1057.2 L813.5 1051.3 L814.5 1047.2 L815.5 1050.6 L816.5 1058.8 L817.5 1066.6 L818.5 1066.8 L819.5 1055.8 L820.5 1039.1 L821.5 1023.5 L822.5 1015 L823.5 1016.2 L824.5 1025.3 L825.5 1038.1 L826.5 1050.5 L827.5 1058.5 L828.5 1056.9 L829.5 1051.7 L830.5 1060.4 L831.5 1083 L832.5 1095.5 L833.5 1095.3 L834.5 1085.9 L835.5 1074.1 L836.5 1062 L837.5 1050.3 L838.5 1040.7 L839.5 1034.8 L840.5 1035.6 L841.5 1045.4 L842.5 1059.5 L843.5 1071.8 L844.5 1079 L845.5 1081.7 L846.5 1080.8 L847.5 1077.8 L848.5 1072.6 L849.5 1065.3 L850.5 1056.4 L851.5 1047.5 L852.5 1039.7 L853.5 1035.2 L854.5 1035.2 L855.5 1044.4 L856.5 1053.3 L857.5 1051.1 L858.5 1047.2 L859.5 1050.1 L860.5 1061.3 L861.5 1078.6 L862.5 1095.6 L863.5 1109.7 L864.5 1117.6 L865.5 1116.3 L866.5 1104.5 L867.5 1085.9 L868.5 1066.6 L869.5 1052 L870.5 1046.1 L871.5 1047.7 L872.5 1053.7 L873.5 1061.1 L874.5 1066.6 L875.5 1063.2 L876.5 1040.6 L877.5 1010.7 L878.5 1005.4 L879.5 1018.3 L880.5 1032.7 L881.5 1040.7 L882.5 1037.8 L883.5 1023.6 L884.5 1007.7 L885.5 996.1 L886.5 993.8 L887.5 999.7 L888.5 1009.8 L889.5 1021.9 L890.5 1034.2 L891.5 1044.9 L892.5 1050.3 L893.5 1049.9 L894.5 1045.4 L895.5 1039.7 L896.5 1035.5 L897.5 1035.6 L898.5 1041.3 L899.5 1049.8 L900.5 1054.6 L901.5 1053.4 L902.5 1047.4 L903.5 1039.1 L904.5 1030.6 L905.5 1023.3 L906.5 1018.7 L907.5 1019.3 L908.5 1026.7 L909.5 1039.5 L910.5 1050 L911.5 1054.7 L912.5 1054.3 L913.5 1050.7 L914.5 1045.3 L915.5 1039 L916.5 1032.2 L917.5 1024.7 L918.5 1017 L919.5 1010.3 L920.5 1003.8 L921.5 996.7 L922.5 989.3 L923.5 982.5 L924.5 978.2 L925.5 979.5 L926.5 986.6 L927.5 997.1 L928.5 1008.1 L929.5 1017.9 L930.5 1024.3 L931.5 1024.6 L932.5 1019.3 L933.5 1009.9 L934.5 998.5 L935.5 987.8 L936.5 984.5 L937.5 991 L938.5 1004.4 L939.5 1015.3 L940.5 1012.5 L941.5 994.3 L942.5 977.1 L943.5 969.1 L944.5 969 L945.5 971.9 L946.5 975 L947.5 977 L948.5 977.8 L949.5 977.7 L950.5 977.1 L951.5 974.4 L952.5 968.8 L953.5 962.4 L954.5 960.8 L955.5 964.8 L956.5 971.2 L957.5 976.4 L958.5 978.2 L959.5 976.1 L960.5 972.9 L961.5 969.8 L962.5 967.4 L963.5 966.2 L964.5 966.4 L965.5 968.2 L966.5 968.9 L967.5 966.3 L968.5 959.5 L969.5 950.8 L970.5 942.5 L971.5 937.1 L972.5 936.8 L973.5 941.9 L974.5 949.9 L975.5 957.4 L976.5 961.9 L977.5 962.1 L978.5 959.4 L979.5 956.2 L980.5 954 L981.5 951 L982.5 946.9 L983.5 942.5 L984.5 938.2 L985.5 931.9 L986.5 924.2 L987.5 917.4 L988.5 912.5 L989.5 909.8 L990.5 914.2 L991.5 928.8 L992.5 947.9 L993.5 951.2 L994.5 941.5 L995.5 927.8 L996.5 917.3 L997.5 914.1 L998.5 918.9 L999.5 927.5 L1000.5 936.6 L1001.5 943.6 L1002.5 946.3 L1003.5 943.6 L1004.5 936.7 L1005.5 928.3 L1006.5 922.5 L1007.5 923.2 L1008.5 931.8 L1009.5 944.5 L1010.5 954.8 L1011.5 958.1 L1012.5 953.3 L1013.5 942.1 L1014.5 929.8 L1015.5 918.2 L1016.5 908.4 L1017.5 902.8 L1018.5 905.2 L1019.5 914.3 L1020.5 924.4 L1021.5 927.5 L1022.5 919.3 L1023.5 905.5 L1024.5 890.7 L1025.5 878.7 L1026.5 868.9 L1027.5 859.6 L1028.5 852.5 L1029.5 849.1 L1030.5 850.1 L1031.5 858.3 L1032.5 872 L1033.5 885.4 L1034.5 891.1 L1035.5 888 L1036.5 881.8 L1037.5 876.2 L1038.5 872.8 L1039.5 873.8 L1040.5 880.2 L1041.5 891.3 L1042.5 901.9 L1043.5 905.4 L1044.5 901.4 L1045.5 894.2 L1046.5 887.4 L1047.5 882.9 L1048.5 883.2 L1049.5 888.9 L1050.5 898 L1051.5 906.5 L1052.5 910.1 L1053.5 906.5 L1054.5 894.2 L1055.5 877.3 L1056.5 860.3 L1057.5 847 L1058.5 840.8 L1059.5 844.6 L1060.5 856.8 L1061.5 873.5 L1062.5 890.1 L1063.5 903.7 L1064.5 914.1 L1065.5 924.6 L1066.5 933 L1067.5 936.9 L1068.5 934.4 L1069.5 926.6 L1070.5 917.8 L1071.5 911.4 L1072.5 907.7 L1073.5 905 L1074.5 903.2 L1075.5 902.9 L1076.5 906.1 L1077.5 919 L1078.5 938.3 L1079.5 954.9 L1080.5 961.5 L1081.5 955.1 L1082.5 940.6 L1083.5 923.3 L1084.5 906.8 L1085.5 896.6 L1086.5 896 L1087.5 901.5 L1088.5 908.9 L1089.5 913.3 L1090.5 913.2 L1091.5 909.8 L1092.5 903.8 L1093.5 898.2 L1094.5 896.4 L1095.5 900 L1096.5 907.5 L1097.5 914.6 L1098.5 914.8 L1099.5 906.9 L1100.5 894.8 L1101.5 883.4 L1102.5 877.6 L1103.5 878.8 L1104.5 882.8 L1105.5 886.1 L1106.5 885.4 L1107.5 879.5 L1108.5 871.3 L1109.5 864.6 L1110.5 863 L1111.5 871.2 L1112.5 896.4 L1113.5 919.4 L1114.5 922.3 L1115.5 913.2 L1116.5 901 L1117.5 888.4 L1118.5 877.9 L1119.5 873.2 L1120.5 876.3 L1121.5 885 L1122.5 894.7 L1123.5 901.4 L1124.5 906.2 L1125.5 911.2 L1126.5 916.6 L1127.5 922.5 L1128.5 928.9 L1129.5 933.5 L1130.5 933.1 L1131.5 928.1 L1132.5 921.3 L1133.5 915.6 L1134.5 912.6 L1135.5 913.7 L1136.5 918.9 L1137.5 927.9 L1138.5 938.9 L1139.5 949.1 L1140.5 954.2 L1141.5 952.1 L1142.5 944.2 L1143.5 934.4 L1144.5 925.8 L1145.5 918.4 L1146.5 911.8 L1147.5 907.4 L1148.5 906.3 L1149.5 908.8 L1150.5 914.1 L1151.5 921.9 L1152.5 931 L1153.5 938.3 L1154.5 942.2 L1155.5 942.4 L1156.5 939.6 L1157.5 934 L1158.5 925.7 L1159.5 917.1 L1160.5 909.8 L1161.5 905.1 L1162.5 903.7 L1163.5 906.2 L1164.5 911.3 L1165.5 917.5 L1166.5 923.2 L1167.5 926.9 L1168.5 926.2 L1169.5 919.7 L1170.5 909 L1171.5 897 L1172.5 885.7 L1173.5 877.8 L1174.5 874.9 L1175.5 878.5 L1176.5 886.2 L1177.5 894.9 L1178.5 902.8 L1179.5 909.6 L1180.5 915.6 L1181.5 920.5 L1182.5 923.8 L1183.5 924.4 L1184.5 921.4 L1185.5 916.4 L1186.5 912.1 L1187.5 909.9 L1188.5 908.5 L1189.5 906.4 L1190.5 903.7 L1191.5 901.1 L1192.5 898.4 L1193.5 895 L1194.5 891 L1195.5 887.5 L1196.5 884.6 L1197.5 881.3 L1198.5 877 L1199.5 871.9 L1200.5 866.5 L1201.5 861.3 L1202.5 857.3 L1203.5 855.6 L1204.5 855.8 L1205.5 857.7 L1206.5 861.1 L1207.5 864.9 L1208.5 867 L1209.5 866.3 L1210.5 862.7 L1211.5 856.9 L1212.5 850.1 L1213.5 843.6 L1214.5 837.5 L1215.5 831.2 L1216.5 823.6 L1217.5 814.2 L1218.5 804.4 L1219.5 795 L1220.5 786.2 L1221.5 779 L1222.5 774.4 L1223.5 774.8 L1224.5 780.8 L1225.5 790.1 L1226.5 799.3 L1227.5 804.8 L1228.5 804.7 L1229.5 799.4 L1230.5 791.2 L1231.5 780.9 L1232.5 769.4 L1233.5 758.8 L1234.5 752.3 L1235.5 749.4 L1236.5 748.1 L1237.5 747.5 L1238.5 747.2 L1239.5 746.8 L1240.5 746.2 L1241.5 745.5 L1242.5 745.3 L1243.5 745.6 L1244.5 745.6 L1245.5 743.5 L1246.5 738.9 L1247.5 733.3 L1248.5 728.7 L1249.5 726.9 L1250.5 728.4 L1251.5 732.5 L1252.5 738.5 L1253.5 744.8 L1254.5 749.6 L1255.5 753.1 L1256.5 756 L1257.5 759.2 L1258.5 764.1 L1259.5 770.7 L1260.5 776 L1261.5 780.5 L1262.5 785.3 L1263.5 791.4 L1264.5 798.4 L1265.5 805.3 L1266.5 811.4 L1267.5 816.8 L1268.5 822.2 L1269.5 828.4 L1270.5 835 L1271.5 840.4 L1272.5 844.1 L1273.5 847.3 L1274.5 850.9 L1275.5 854.2 L1276.5 856.5 L1277.5 858.4 L1278.5 860.3 L1279.5 861.8 L1280.5 862.7 L1281.5 863.9 L1282.5 865.9 L1283.5 868 L1284.5 869.3 L1285.5 869.2 L1286.5 867 L1287.5 861.4 L1288.5 855.2 L1289.5 851 L1290.5 848.3 L1291.5 848 L1292.5 851.4 L1293.5 858.4 L1294.5 866.8 L1295.5 873.8 L1296.5 878.4 L1297.5 882.3 L1298.5 893.5 L1299.5 903.2 L1300.5 900.1 L1301.5 897.1 L1302.5 895.1 L1303.5 893.4 L1304.5 893.5 L1305.5 901.5 L1306.5 918.5 L1307.5 931.6 L1308.5 940.3 L1309.5 947.6 L1310.5 957.2 L1311.5 991.1 L1312.5 1026.6 L1313.5 1039 L1314.5 1046.7 L1315.5 1053.5 L1316.5 1060.2 L1317.5 1065.6 L1318.5 1067.9 L1319.5 1065.8 L1320.5 1059.5 L1321.5 1051.2 L1322.5 1041.2 L1323.5 1030.4 L1324.5 1019.3 L1325.5 1006.7 L1326.5 995.5 L1327.5 987.3 L1328.5 984 L1329.5 989.3 L1330.5 1004.5 L1331.5 1028.9 L1332.5 1058.1 L1333.5 1090.9 L1334.5 1110.5 L1335.5 1094.4 L1336.5 1066.3 L1337.5 1042 L1338.5 1029 L1339.5 1027.6 L1340.5 1031.4 L1341.5 1034.9 L1342.5 1035 L1343.5 1031.9 L1344.5 1028.5 L1345.5 1028 L1346.5 1032.7 L1347.5 1043.3 L1348.5 1053.9 L1349.5 1059.5 L1350.5 1059.3 L1351.5 1055.3 L1352.5 1048.9 L1353.5 1041.3 L1354.5 1033.4 L1355.5 1025.2 L1356.5 1016.1 L1357.5 1006.3 L1358.5 997 L1359.5 987.1 L1360.5 975 L1361.5 964.3 L1362.5 958.7 L1363.5 962.2 L1364.5 974.2 L1365.5 987.2 L1366.5 996.1 L1367.5 996.4 L1368.5 990.9 L1369.5 983.6 L1370.5 978.5 L1371.5 979.6 L1372.5 983.8 L1373.5 988.8 L1374.5 992.4 L1375.5 995.7 L1376.5 997.2 L1377.5 996.8 L1378.5 994.8 L1379.5 992.5 L1380.5 990.4 L1381.5 988.6 L1382.5 988.5 L1383.5 991.4 L1384.5 994.5 L1385.5 992.6 L1386.5 986.4 L1387.5 981.8 L1388.5 982.5 L1389.5 991.3 L1390.5 1004.5 L1391.5 1020.1 L1392.5 1036.3 L1393.5 1035.7" fill="none" stroke="#c4c4c4" stroke-width="2.2" stroke-linejoin="round"/>
<path d="M812 1088.2 L813 1088.1 L814 1088 L815 1087.9 L816 1087.8 L817 1087.7 L818 1087.6 L819 1087.4 L820 1087.3 L821 1087.2 L822 1087.1 L823 1087 L824 1086.9 L825 1086.8 L826 1086.6 L827 1086.5 L828 1086.4 L829 1086.3 L830 1086.2 L831 1086 L832 1085.9 L833 1085.8 L834 1085.7 L835 1085.5 L836 1085.4 L837 1085.3 L838 1085.2 L839 1085.1 L840 1084.9 L841 1084.8 L842 1084.7 L843 1084.6 L844 1084.4 L845 1084.3 L846 1084.2 L847 1084.1 L848 1083.9 L849 1083.8 L850 1083.7 L851 1083.6 L852 1083.4 L853 1083.3 L854 1083.2 L855 1083.1 L856 1082.9 L857 1082.8 L858 1082.7 L859 1082.6 L860 1082.4 L861 1082.3 L862 1082.2 L863 1082.1 L864 1081.9 L865 1081.8 L866 1081.7 L867 1081.6 L868 1081.5 L869 1081.3 L870 1081.2 L871 1081.1 L872 1081 L873 1080.8 L874 1080.7 L875 1080.6 L876 1080.5 L877 1080.4 L878 1080.2 L879 1080.1 L880 1080 L881 1079.9 L882 1079.7 L883 1079.6 L884 1079.5 L885 1079.4 L886 1079.3 L887 1079.1 L888 1079 L889 1078.9 L890 1078.8 L891 1078.7 L892 1078.5 L893 1078.4 L894 1078.3 L895 1078.2 L896 1078.1 L897 1077.9 L898 1077.8 L899 1077.7 L900 1077.6 L901 1077.5 L902 1077.3 L903 1077.2 L904 1077.1 L905 1077 L906 1076.9 L907 1076.7 L908 1076.6 L909 1076.5 L910 1076.4 L911 1076.3 L912 1076.1 L913 1076 L914 1075.9 L915 1075.8 L916 1075.7 L917 1075.5 L918 1075.4 L919 1075.3 L920 1075.2 L921 1075.1 L922 1074.9 L923 1074.8 L924 1074.7 L925 1074.6 L926 1074.5 L927 1074.3 L928 1074.2 L929 1074.1 L930 1074 L931 1073.9 L932 1073.7 L933 1073.6 L934 1073.5 L935 1073.4 L936 1073.2 L937 1073.1 L938 1073 L939 1072.9 L940 1072.8 L941 1072.6 L942 1072.5 L943 1072.4 L944 1072.3 L945 1072.1 L946 1072 L947 1071.9 L948 1071.8 L949 1071.6 L950 1071.5 L951 1071.4 L952 1071.3 L953 1071.1 L954 1071 L955 1070.9 L956 1070.8 L957 1070.6 L958 1070.5 L959 1070.4 L960 1070.3 L961 1070.1 L962 1070 L963 1069.9 L964 1069.8 L965 1069.6 L966 1069.5 L967 1069.4 L968 1069.2 L969 1069.1 L970 1069 L971 1068.9 L972 1068.7 L973 1068.6 L974 1068.5 L975 1068.3 L976 1068.2 L977 1068.1 L978 1067.9 L979 1067.8 L980 1067.7 L981 1067.6 L982 1067.4 L983 1067.3 L984 1067.2 L985 1067 L986 1066.9 L987 1066.8 L988 1066.6 L989 1066.5 L990 1066.4 L991 1066.2 L992 1066.1 L993 1066 L994 1065.8 L995 1065.7 L996 1065.6 L997 1065.4 L998 1065.3 L999 1065.1 L1000 1065 L1001 1064.9 L1002 1064.7 L1003 1064.6 L1004 1064.5 L1005 1064.3 L1006 1064.2 L1007 1064 L1008 1063.9 L1009 1063.8 L1010 1063.6 L1011 1063.5 L1012 1063.3 L1013 1063.2 L1014 1063.1 L1015 1062.9 L1016 1062.8 L1017 1062.6 L1018 1062.5 L1019 1062.3 L1020 1062.2 L1021 1062 L1022 1061.9 L1023 1061.8 L1024 1061.6 L1025 1061.5 L1026 1061.3 L1027 1061.2 L1028 1061 L1029 1060.9 L1030 1060.7 L1031 1060.6 L1032 1060.4 L1033 1060.3 L1034 1060.1 L1035 1059.9 L1036 1059.8 L1037 1059.6 L1038 1059.5 L1039 1059.3 L1040 1059.2 L1041 1059 L1042 1058.9 L1043 1058.7 L1044 1058.5 L1045 1058.4 L1046 1058.2 L1047 1058.1 L1048 1057.9 L1049 1057.7 L1050 1057.6 L1051 1057.4 L1052 1057.2 L1053 1057.1 L1054 1056.9 L1055 1056.7 L1056 1056.6 L1057 1056.4 L1058 1056.2 L1059 1056 L1060 1055.9 L1061 1055.7 L1062 1055.5 L1063 1055.3 L1064 1055.2 L1065 1055 L1066 1054.8 L1067 1054.6 L1068 1054.4 L1069 1054.3 L1070 1054.1 L1071 1053.9 L1072 1053.7 L1073 1053.5 L1074 1053.3 L1075 1053.1 L1076 1052.9 L1077 1052.7 L1078 1052.5 L1079 1052.3 L1080 1052.1 L1081 1051.9 L1082 1051.7 L1083 1051.5 L1084 1051.3 L1085 1051.1 L1086 1050.9 L1087 1050.7 L1088 1050.5 L1089 1050.3 L1090 1050 L1091 1049.8 L1092 1049.6 L1093 1049.4 L1094 1049.2 L1095 1048.9 L1096 1048.7 L1097 1048.5 L1098 1048.2 L1099 1048 L1100 1047.8 L1101 1047.5 L1102 1047.3 L1103 1047 L1104 1046.8 L1105 1046.5 L1106 1046.2 L1107 1046 L1108 1045.7 L1109 1045.5 L1110 1045.2 L1111 1044.9 L1112 1044.6 L1113 1044.3 L1114 1044.1 L1115 1043.8 L1116 1043.5 L1117 1043.2 L1118 1042.9 L1119 1042.5 L1120 1042.2 L1121 1041.9 L1122 1041.6 L1123 1041.2 L1124 1040.9 L1125 1040.6 L1126 1040.2 L1127 1039.8 L1128 1039.5 L1129 1039.1 L1130 1038.7 L1131 1038.3 L1132 1037.9 L1133 1037.5 L1134 1037 L1135 1036.6 L1136 1036.2 L1137 1035.7 L1138 1035.2 L1139 1034.7 L1140 1034.2 L1141 1033.7 L1142 1033.2 L1143 1032.6 L1144 1032 L1145 1031.4 L1146 1030.8 L1147 1030.2 L1148 1029.5 L1149 1028.9 L1150 1028.1 L1151 1027.4 L1152 1026.7 L1153 1025.9 L1154 1025 L1155 1024.2 L1156 1023.3 L1157 1022.4 L1158 1021.4 L1159 1020.4 L1160 1019.4 L1161 1018.3 L1162 1017.2 L1163 1016 L1164 1014.8 L1165 1013.5 L1166 1012.2 L1167 1010.8 L1168 1009.4 L1169 1007.9 L1170 1006.4 L1171 1004.7 L1172 1003.1 L1173 1001.3 L1174 999.5 L1175 997.6 L1176 995.6 L1177 993.6 L1178 991.5 L1179 989.3 L1180 987 L1181 984.6 L1182 982.2 L1183 979.7 L1184 977 L1185 974.3 L1186 971.5 L1187 968.6 L1188 965.6 L1189 962.5 L1190 959.3 L1191 956.1 L1192 952.7 L1193 949.2 L1194 945.6 L1195 941.9 L1196 938.2 L1197 934.3 L1198 930.4 L1199 926.3 L1200 922.2 L1201 917.9 L1202 913.6 L1203 909.2 L1204 904.7 L1205 900.2 L1206 895.5 L1207 890.8 L1208 886 L1209 881.2 L1210 876.3 L1211 871.4 L1212 866.4 L1213 861.4 L1214 856.4 L1215 851.3 L1216 846.2 L1217 841.2 L1218 836.1 L1219 831.1 L1220 826.1 L1221 821.2 L1222 816.3 L1223 811.5 L1224 806.8 L1225 802.2 L1226 797.7 L1227 793.3 L1228 789.2 L1229 785.1 L1230 781.3 L1231 777.7 L1232 774.3 L1233 771.1 L1234 768.2 L1235 765.6 L1236 763.2 L1237 761.1 L1238 759.2 L1239 757.7 L1240 756.6 L1241 755.7 L1242 755.2 L1243 755 L1244 755.2 L1245 755.8 L1246 756.6 L1247 757.9 L1248 759.4 L1249 761.3 L1250 763.5 L1251 765.9 L1252 768.7 L1253 771.6 L1254 774.9 L1255 778.3 L1256 781.9 L1257 785.8 L1258 789.7 L1259 793.8 L1260 798.1 L1261 802.4 L1262 806.8 L1263 811.2 L1264 815.8 L1265 820.3 L1266 824.9 L1267 829.5 L1268 834 L1269 838.6 L1270 843.1 L1271 847.6 L1272 852.1 L1273 856.5 L1274 860.8 L1275 865.1 L1276 869.3 L1277 873.4 L1278 877.5 L1279 881.5 L1280 885.4 L1281 889.2 L1282 892.9 L1283 896.6 L1284 900.1 L1285 903.6 L1286 907 L1287 910.3 L1288 913.5 L1289 916.6 L1290 919.6 L1291 922.6 L1292 925.4 L1293 928.2 L1294 930.9 L1295 933.5 L1296 936 L1297 938.5 L1298 940.8 L1299 943.1 L1300 945.4 L1301 947.5 L1302 949.6 L1303 951.6 L1304 953.6 L1305 955.4 L1306 957.3 L1307 959 L1308 960.7 L1309 962.3 L1310 963.9 L1311 965.4 L1312 966.9 L1313 968.3 L1314 969.7 L1315 971 L1316 972.3 L1317 973.5 L1318 974.7 L1319 975.8 L1320 976.9 L1321 978 L1322 979 L1323 980 L1324 981 L1325 981.9 L1326 982.8 L1327 983.7 L1328 984.5 L1329 985.3 L1330 986.1 L1331 986.9 L1332 987.6 L1333 988.3 L1334 989 L1335 989.7 L1336 990.4 L1337 991 L1338 991.6 L1339 992.3 L1340 992.9 L1341 993.4 L1342 994 L1343 994.6 L1344 995.2 L1345 995.7 L1346 996.3 L1347 996.8 L1348 997.4 L1349 997.9 L1350 998.4 L1351 999 L1352 999.5 L1353 1000 L1354 1000.6 L1355 1001.1 L1356 1001.6 L1357 1002.2 L1358 1002.7 L1359 1003.2 L1360 1003.8 L1361 1004.3 L1362 1004.8 L1363 1005.3 L1364 1005.9 L1365 1006.4 L1366 1006.9 L1367 1007.4 L1368 1007.9 L1369 1008.4 L1370 1008.8 L1371 1009.3 L1372 1009.7 L1373 1010.2 L1374 1010.6 L1375 1011 L1376 1011.3 L1377 1011.7 L1378 1012 L1379 1012.3 L1380 1012.6 L1381 1012.9 L1382 1013.1 L1383 1013.3 L1384 1013.5 L1385 1013.7 L1386 1013.8 L1387 1014 L1388 1014.1 L1389 1014.2 L1390 1014.2 L1391 1014.3 L1392 1014.3 L1393 1014.3 L1394 1014.3 L1394 1016.2 L1393 1016.3 L1392 1016.5 L1391 1016.7 L1390 1016.8 L1389 1017 L1388 1017.2 L1387 1017.4 L1386 1017.5 L1385 1017.7 L1384 1017.9 L1383 1018 L1382 1018.2 L1381 1018.4 L1380 1018.6 L1379 1018.7 L1378 1018.9 L1377 1019.1 L1376 1019.2 L1375 1019.4 L1374 1019.6 L1373 1019.8 L1372 1019.9 L1371 1020.1 L1370 1020.3 L1369 1020.4 L1368 1020.6 L1367 1020.8 L1366 1021 L1365 1021.1 L1364 1021.3 L1363 1021.5 L1362 1021.6 L1361 1021.8 L1360 1022 L1359 1022.2 L1358 1022.3 L1357 1022.5 L1356 1022.7 L1355 1022.8 L1354 1023 L1353 1023.2 L1352 1023.4 L1351 1023.5 L1350 1023.7 L1349 1023.9 L1348 1024 L1347 1024.2 L1346 1024.4 L1345 1024.6 L1344 1024.7 L1343 1024.9 L1342 1025.1 L1341 1025.2 L1340 1025.4 L1339 1025.6 L1338 1025.8 L1337 1025.9 L1336 1026.1 L1335 1026.3 L1334 1026.4 L1333 1026.6 L1332 1026.8 L1331 1027 L1330 1027.1 L1329 1027.3 L1328 1027.5 L1327 1027.6 L1326 1027.8 L1325 1028 L1324 1028.2 L1323 1028.3 L1322 1028.5 L1321 1028.7 L1320 1028.8 L1319 1029 L1318 1029.2 L1317 1029.4 L1316 1029.5 L1315 1029.7 L1314 1029.9 L1313 1030 L1312 1030.2 L1311 1030.4 L1310 1030.6 L1309 1030.7 L1308 1030.9 L1307 1031.1 L1306 1031.2 L1305 1031.4 L1304 1031.6 L1303 1031.8 L1302 1031.9 L1301 1032.1 L1300 1032.3 L1299 1032.4 L1298 1032.6 L1297 1032.8 L1296 1033 L1295 1033.1 L1294 1033.3 L1293 1033.5 L1292 1033.6 L1291 1033.8 L1290 1034 L1289 1034.2 L1288 1034.3 L1287 1034.5 L1286 1034.7 L1285 1034.8 L1284 1035 L1283 1035.2 L1282 1035.4 L1281 1035.5 L1280 1035.7 L1279 1035.9 L1278 1036 L1277 1036.2 L1276 1036.4 L1275 1036.6 L1274 1036.7 L1273 1036.9 L1272 1037.1 L1271 1037.2 L1270 1037.4 L1269 1037.6 L1268 1037.8 L1267 1037.9 L1266 1038.1 L1265 1038.3 L1264 1038.4 L1263 1038.6 L1262 1038.8 L1261 1039 L1260 1039.1 L1259 1039.3 L1258 1039.5 L1257 1039.6 L1256 1039.8 L1255 1040 L1254 1040.2 L1253 1040.3 L1252 1040.5 L1251 1040.7 L1250 1040.8 L1249 1041 L1248 1041.2 L1247 1041.4 L1246 1041.5 L1245 1041.7 L1244 1041.9 L1243 1042 L1242 1042.2 L1241 1042.4 L1240 1042.6 L1239 1042.7 L1238 1042.9 L1237 1043.1 L1236 1043.2 L1235 1043.4 L1234 1043.5 L1233 1043.6 L1232 1043.7 L1231 1043.8 L1230 1044 L1229 1044.1 L1228 1044.2 L1227 1044.3 L1226 1044.4 L1225 1044.5 L1224 1044.6 L1223 1044.7 L1222 1044.8 L1221 1044.9 L1220 1045 L1219 1045.1 L1218 1045.2 L1217 1045.4 L1216 1045.5 L1215 1045.6 L1214 1045.7 L1213 1045.8 L1212 1045.9 L1211 1046 L1210 1046.1 L1209 1046.2 L1208 1046.3 L1207 1046.4 L1206 1046.5 L1205 1046.6 L1204 1046.8 L1203 1046.9 L1202 1047 L1201 1047.1 L1200 1047.2 L1199 1047.3 L1198 1047.4 L1197 1047.5 L1196 1047.6 L1195 1047.7 L1194 1047.8 L1193 1047.9 L1192 1048 L1191 1048.2 L1190 1048.3 L1189 1048.4 L1188 1048.5 L1187 1048.6 L1186 1048.7 L1185 1048.8 L1184 1048.9 L1183 1049 L1182 1049.1 L1181 1049.2 L1180 1049.3 L1179 1049.4 L1178 1049.5 L1177 1049.7 L1176 1049.8 L1175 1049.9 L1174 1050 L1173 1050.1 L1172 1050.2 L1171 1050.3 L1170 1050.4 L1169 1050.5 L1168 1050.6 L1167 1050.7 L1166 1050.8 L1165 1050.9 L1164 1051.1 L1163 1051.2 L1162 1051.3 L1161 1051.4 L1160 1051.5 L1159 1051.6 L1158 1051.7 L1157 1051.8 L1156 1051.9 L1155 1052 L1154 1052.1 L1153 1052.2 L1152 1052.3 L1151 1052.5 L1150 1052.6 L1149 1052.7 L1148 1052.8 L1147 1052.9 L1146 1053 L1145 1053.1 L1144 1053.2 L1143 1053.3 L1142 1053.4 L1141 1053.5 L1140 1053.6 L1139 1053.7 L1138 1053.8 L1137 1054 L1136 1054.1 L1135 1054.2 L1134 1054.3 L1133 1054.4 L1132 1054.5 L1131 1054.6 L1130 1054.7 L1129 1054.8 L1128 1054.9 L1127 1055 L1126 1055.1 L1125 1055.2 L1124 1055.4 L1123 1055.5 L1122 1055.6 L1121 1055.7 L1120 1055.8 L1119 1055.9 L1118 1056 L1117 1056.1 L1116 1056.2 L1115 1056.3 L1114 1056.4 L1113 1056.5 L1112 1056.6 L1111 1056.8 L1110 1056.9 L1109 1057 L1108 1057.1 L1107 1057.2 L1106 1057.3 L1105 1057.4 L1104 1057.5 L1103 1057.6 L1102 1057.7 L1101 1057.8 L1100 1057.9 L1099 1058 L1098 1058.1 L1097 1058.3 L1096 1058.4 L1095 1058.5 L1094 1058.6 L1093 1058.7 L1092 1058.8 L1091 1058.9 L1090 1059 L1089 1059.1 L1088 1059.2 L1087 1059.3 L1086 1059.4 L1085 1059.5 L1084 1059.7 L1083 1059.8 L1082 1059.9 L1081 1060 L1080 1060.1 L1079 1060.2 L1078 1060.3 L1077 1060.4 L1076 1060.5 L1075 1060.6 L1074 1060.7 L1073 1060.8 L1072 1060.9 L1071 1061 L1070 1061.2 L1069 1061.3 L1068 1061.4 L1067 1061.5 L1066 1061.6 L1065 1061.7 L1064 1061.8 L1063 1061.9 L1062 1062 L1061 1062.1 L1060 1062.2 L1059 1062.3 L1058 1062.4 L1057 1062.6 L1056 1062.7 L1055 1062.8 L1054 1062.9 L1053 1063 L1052 1063.1 L1051 1063.2 L1050 1063.3 L1049 1063.4 L1048 1063.5 L1047 1063.6 L1046 1063.7 L1045 1063.8 L1044 1064 L1043 1064.1 L1042 1064.2 L1041 1064.3 L1040 1064.4 L1039 1064.5 L1038 1064.6 L1037 1064.7 L1036 1064.8 L1035 1064.9 L1034 1065 L1033 1065.1 L1032 1065.2 L1031 1065.3 L1030 1065.5 L1029 1065.6 L1028 1065.7 L1027 1065.8 L1026 1065.9 L1025 1066 L1024 1066.1 L1023 1066.2 L1022 1066.3 L1021 1066.4 L1020 1066.5 L1019 1066.6 L1018 1066.7 L1017 1066.9 L1016 1067 L1015 1067.1 L1014 1067.2 L1013 1067.3 L1012 1067.4 L1011 1067.5 L1010 1067.6 L1009 1067.7 L1008 1067.8 L1007 1067.9 L1006 1068 L1005 1068.1 L1004 1068.3 L1003 1068.4 L1002 1068.5 L1001 1068.6 L1000 1068.7 L999 1068.8 L998 1068.9 L997 1069 L996 1069.1 L995 1069.2 L994 1069.3 L993 1069.4 L992 1069.5 L991 1069.7 L990 1069.8 L989 1069.9 L988 1070 L987 1070.1 L986 1070.2 L985 1070.3 L984 1070.4 L983 1070.5 L982 1070.6 L981 1070.7 L980 1070.8 L979 1070.9 L978 1071 L977 1071.2 L976 1071.3 L975 1071.4 L974 1071.5 L973 1071.6 L972 1071.7 L971 1071.8 L970 1071.9 L969 1072 L968 1072.1 L967 1072.2 L966 1072.3 L965 1072.4 L964 1072.6 L963 1072.7 L962 1072.8 L961 1072.9 L960 1073 L959 1073.1 L958 1073.2 L957 1073.3 L956 1073.4 L955 1073.5 L954 1073.6 L953 1073.7 L952 1073.8 L951 1074 L950 1074.1 L949 1074.2 L948 1074.3 L947 1074.4 L946 1074.5 L945 1074.6 L944 1074.7 L943 1074.8 L942 1074.9 L941 1075 L940 1075.1 L939 1075.2 L938 1075.3 L937 1075.5 L936 1075.6 L935 1075.7 L934 1075.8 L933 1075.9 L932 1076 L931 1076.1 L930 1076.2 L929 1076.3 L928 1076.4 L927 1076.5 L926 1076.6 L925 1076.7 L924 1076.9 L923 1077 L922 1077.1 L921 1077.2 L920 1077.3 L919 1077.4 L918 1077.5 L917 1077.6 L916 1077.7 L915 1077.8 L914 1077.9 L913 1078 L912 1078.1 L911 1078.2 L910 1078.4 L909 1078.5 L908 1078.6 L907 1078.7 L906 1078.8 L905 1078.9 L904 1079 L903 1079.1 L902 1079.2 L901 1079.3 L900 1079.4 L899 1079.5 L898 1079.6 L897 1079.8 L896 1079.9 L895 1080 L894 1080.1 L893 1080.2 L892 1080.3 L891 1080.4 L890 1080.5 L889 1080.6 L888 1080.7 L887 1080.8 L886 1080.9 L885 1081 L884 1081.2 L883 1081.3 L882 1081.4 L881 1081.5 L880 1081.6 L879 1081.7 L878 1081.8 L877 1081.9 L876 1082 L875 1082.1 L874 1082.2 L873 1082.3 L872 1082.4 L871 1082.5 L870 1082.7 L869 1082.8 L868 1082.9 L867 1083 L866 1083.1 L865 1083.2 L864 1083.3 L863 1083.4 L862 1083.5 L861 1083.6 L860 1083.7 L859 1083.8 L858 1083.9 L857 1084.1 L856 1084.2 L855 1084.3 L854 1084.4 L853 1084.5 L852 1084.6 L851 1084.7 L850 1084.8 L849 1084.9 L848 1085 L847 1085.1 L846 1085.2 L845 1085.3 L844 1085.5 L843 1085.6 L842 1085.7 L841 1085.8 L840 1085.9 L839 1086 L838 1086.1 L837 1086.2 L836 1086.3 L835 1086.4 L834 1086.5 L833 1086.6 L832 1086.7 L831 1086.8 L830 1087 L829 1087.1 L828 1087.2 L827 1087.3 L826 1087.4 L825 1087.5 L824 1087.6 L823 1087.7 L822 1087.8 L821 1087.9 L820 1088 L819 1088.1 L818 1088.2 L817 1088.4 L816 1088.5 L815 1088.6 L814 1088.7 L813 1088.8 L812 1088.9Z" fill="rgba(237,131,23,0.85)"/>
<path d="M812 1088.2 L813 1088.1 L814 1088 L815 1087.9 L816 1087.8 L817 1087.7 L818 1087.6 L819 1087.4 L820 1087.3 L821 1087.2 L822 1087.1 L823 1087 L824 1086.9 L825 1086.8 L826 1086.6 L827 1086.5 L828 1086.4 L829 1086.3 L830 1086.2 L831 1086 L832 1085.9 L833 1085.8 L834 1085.7 L835 1085.5 L836 1085.4 L837 1085.3 L838 1085.2 L839 1085.1 L840 1084.9 L841 1084.8 L842 1084.7 L843 1084.6 L844 1084.4 L845 1084.3 L846 1084.2 L847 1084.1 L848 1083.9 L849 1083.8 L850 1083.7 L851 1083.6 L852 1083.4 L853 1083.3 L854 1083.2 L855 1083.1 L856 1082.9 L857 1082.8 L858 1082.7 L859 1082.6 L860 1082.4 L861 1082.3 L862 1082.2 L863 1082.1 L864 1081.9 L865 1081.8 L866 1081.7 L867 1081.6 L868 1081.5 L869 1081.3 L870 1081.2 L871 1081.1 L872 1081 L873 1080.8 L874 1080.7 L875 1080.6 L876 1080.5 L877 1080.4 L878 1080.2 L879 1080.1 L880 1080 L881 1079.9 L882 1079.7 L883 1079.6 L884 1079.5 L885 1079.4 L886 1079.3 L887 1079.1 L888 1079 L889 1078.9 L890 1078.8 L891 1078.7 L892 1078.5 L893 1078.4 L894 1078.3 L895 1078.2 L896 1078.1 L897 1077.9 L898 1077.8 L899 1077.7 L900 1077.6 L901 1077.5 L902 1077.3 L903 1077.2 L904 1077.1 L905 1077 L906 1076.9 L907 1076.7 L908 1076.6 L909 1076.5 L910 1076.4 L911 1076.3 L912 1076.1 L913 1076 L914 1075.9 L915 1075.8 L916 1075.7 L917 1075.5 L918 1075.4 L919 1075.3 L920 1075.2 L921 1075.1 L922 1074.9 L923 1074.8 L924 1074.7 L925 1074.6 L926 1074.5 L927 1074.3 L928 1074.2 L929 1074.1 L930 1074 L931 1073.9 L932 1073.7 L933 1073.6 L934 1073.5 L935 1073.4 L936 1073.2 L937 1073.1 L938 1073 L939 1072.9 L940 1072.8 L941 1072.6 L942 1072.5 L943 1072.4 L944 1072.3 L945 1072.1 L946 1072 L947 1071.9 L948 1071.8 L949 1071.6 L950 1071.5 L951 1071.4 L952 1071.3 L953 1071.1 L954 1071 L955 1070.9 L956 1070.8 L957 1070.6 L958 1070.5 L959 1070.4 L960 1070.3 L961 1070.1 L962 1070 L963 1069.9 L964 1069.8 L965 1069.6 L966 1069.5 L967 1069.4 L968 1069.2 L969 1069.1 L970 1069 L971 1068.9 L972 1068.7 L973 1068.6 L974 1068.5 L975 1068.3 L976 1068.2 L977 1068.1 L978 1067.9 L979 1067.8 L980 1067.7 L981 1067.6 L982 1067.4 L983 1067.3 L984 1067.2 L985 1067 L986 1066.9 L987 1066.8 L988 1066.6 L989 1066.5 L990 1066.4 L991 1066.2 L992 1066.1 L993 1066 L994 1065.8 L995 1065.7 L996 1065.6 L997 1065.4 L998 1065.3 L999 1065.1 L1000 1065 L1001 1064.9 L1002 1064.7 L1003 1064.6 L1004 1064.5 L1005 1064.3 L1006 1064.2 L1007 1064 L1008 1063.9 L1009 1063.8 L1010 1063.6 L1011 1063.5 L1012 1063.3 L1013 1063.2 L1014 1063.1 L1015 1062.9 L1016 1062.8 L1017 1062.6 L1018 1062.5 L1019 1062.3 L1020 1062.2 L1021 1062 L1022 1061.9 L1023 1061.8 L1024 1061.6 L1025 1061.5 L1026 1061.3 L1027 1061.2 L1028 1061 L1029 1060.9 L1030 1060.7 L1031 1060.6 L1032 1060.4 L1033 1060.3 L1034 1060.1 L1035 1059.9 L1036 1059.8 L1037 1059.6 L1038 1059.5 L1039 1059.3 L1040 1059.2 L1041 1059 L1042 1058.9 L1043 1058.7 L1044 1058.5 L1045 1058.4 L1046 1058.2 L1047 1058.1 L1048 1057.9 L1049 1057.7 L1050 1057.6 L1051 1057.4 L1052 1057.2 L1053 1057.1 L1054 1056.9 L1055 1056.7 L1056 1056.6 L1057 1056.4 L1058 1056.2 L1059 1056 L1060 1055.9 L1061 1055.7 L1062 1055.5 L1063 1055.3 L1064 1055.2 L1065 1055 L1066 1054.8 L1067 1054.6 L1068 1054.4 L1069 1054.3 L1070 1054.1 L1071 1053.9 L1072 1053.7 L1073 1053.5 L1074 1053.3 L1075 1053.1 L1076 1052.9 L1077 1052.7 L1078 1052.5 L1079 1052.3 L1080 1052.1 L1081 1051.9 L1082 1051.7 L1083 1051.5 L1084 1051.3 L1085 1051.1 L1086 1050.9 L1087 1050.7 L1088 1050.5 L1089 1050.3 L1090 1050 L1091 1049.8 L1092 1049.6 L1093 1049.4 L1094 1049.2 L1095 1048.9 L1096 1048.7 L1097 1048.5 L1098 1048.2 L1099 1048 L1100 1047.8 L1101 1047.5 L1102 1047.3 L1103 1047 L1104 1046.8 L1105 1046.5 L1106 1046.2 L1107 1046 L1108 1045.7 L1109 1045.5 L1110 1045.2 L1111 1044.9 L1112 1044.6 L1113 1044.3 L1114 1044.1 L1115 1043.8 L1116 1043.5 L1117 1043.2 L1118 1042.9 L1119 1042.5 L1120 1042.2 L1121 1041.9 L1122 1041.6 L1123 1041.2 L1124 1040.9 L1125 1040.6 L1126 1040.2 L1127 1039.8 L1128 1039.5 L1129 1039.1 L1130 1038.7 L1131 1038.3 L1132 1037.9 L1133 1037.5 L1134 1037 L1135 1036.6 L1136 1036.2 L1137 1035.7 L1138 1035.2 L1139 1034.7 L1140 1034.2 L1141 1033.7 L1142 1033.2 L1143 1032.6 L1144 1032 L1145 1031.4 L1146 1030.8 L1147 1030.2 L1148 1029.5 L1149 1028.9 L1150 1028.1 L1151 1027.4 L1152 1026.7 L1153 1025.9 L1154 1025 L1155 1024.2 L1156 1023.3 L1157 1022.4 L1158 1021.4 L1159 1020.4 L1160 1019.4 L1161 1018.3 L1162 1017.2 L1163 1016 L1164 1014.8 L1165 1013.5 L1166 1012.2 L1167 1010.8 L1168 1009.4 L1169 1007.9 L1170 1006.4 L1171 1004.7 L1172 1003.1 L1173 1001.3 L1174 999.5 L1175 997.6 L1176 995.6 L1177 993.6 L1178 991.5 L1179 989.3 L1180 987 L1181 984.6 L1182 982.2 L1183 979.7 L1184 977 L1185 974.3 L1186 971.5 L1187 968.6 L1188 965.6 L1189 962.5 L1190 959.3 L1191 956.1 L1192 952.7 L1193 949.2 L1194 945.6 L1195 941.9 L1196 938.2 L1197 934.3 L1198 930.4 L1199 926.3 L1200 922.2 L1201 917.9 L1202 913.6 L1203 909.2 L1204 904.7 L1205 900.2 L1206 895.5 L1207 890.8 L1208 886 L1209 881.2 L1210 876.3 L1211 871.4 L1212 866.4 L1213 861.4 L1214 856.4 L1215 851.3 L1216 846.2 L1217 841.2 L1218 836.1 L1219 831.1 L1220 826.1 L1221 821.2 L1222 816.3 L1223 811.5 L1224 806.8 L1225 802.2 L1226 797.7 L1227 793.3 L1228 789.2 L1229 785.1 L1230 781.3 L1231 777.7 L1232 774.3 L1233 771.1 L1234 768.2 L1235 765.6 L1236 763.2 L1237 761.1 L1238 759.2 L1239 757.7 L1240 756.6 L1241 755.7 L1242 755.2 L1243 755 L1244 755.2 L1245 755.8 L1246 756.6 L1247 757.9 L1248 759.4 L1249 761.3 L1250 763.5 L1251 765.9 L1252 768.7 L1253 771.6 L1254 774.9 L1255 778.3 L1256 781.9 L1257 785.8 L1258 789.7 L1259 793.8 L1260 798.1 L1261 802.4 L1262 806.8 L1263 811.2 L1264 815.8 L1265 820.3 L1266 824.9 L1267 829.5 L1268 834 L1269 838.6 L1270 843.1 L1271 847.6 L1272 852.1 L1273 856.5 L1274 860.8 L1275 865.1 L1276 869.3 L1277 873.4 L1278 877.5 L1279 881.5 L1280 885.4 L1281 889.2 L1282 892.9 L1283 896.6 L1284 900.1 L1285 903.6 L1286 907 L1287 910.3 L1288 913.5 L1289 916.6 L1290 919.6 L1291 922.6 L1292 925.4 L1293 928.2 L1294 930.9 L1295 933.5 L1296 936 L1297 938.5 L1298 940.8 L1299 943.1 L1300 945.4 L1301 947.5 L1302 949.6 L1303 951.6 L1304 953.6 L1305 955.4 L1306 957.3 L1307 959 L1308 960.7 L1309 962.3 L1310 963.9 L1311 965.4 L1312 966.9 L1313 968.3 L1314 969.7 L1315 971 L1316 972.3 L1317 973.5 L1318 974.7 L1319 975.8 L1320 976.9 L1321 978 L1322 979 L1323 980 L1324 981 L1325 981.9 L1326 982.8 L1327 983.7 L1328 984.5 L1329 985.3 L1330 986.1 L1331 986.9 L1332 987.6 L1333 988.3 L1334 989 L1335 989.7 L1336 990.4 L1337 991 L1338 991.6 L1339 992.3 L1340 992.9 L1341 993.4 L1342 994 L1343 994.6 L1344 995.2 L1345 995.7 L1346 996.3 L1347 996.8 L1348 997.4 L1349 997.9 L1350 998.4 L1351 999 L1352 999.5 L1353 1000 L1354 1000.6 L1355 1001.1 L1356 1001.6 L1357 1002.2 L1358 1002.7 L1359 1003.2 L1360 1003.8 L1361 1004.3 L1362 1004.8 L1363 1005.3 L1364 1005.9 L1365 1006.4 L1366 1006.9 L1367 1007.4 L1368 1007.9 L1369 1008.4 L1370 1008.8 L1371 1009.3 L1372 1009.7 L1373 1010.2 L1374 1010.6 L1375 1011 L1376 1011.3 L1377 1011.7 L1378 1012 L1379 1012.3 L1380 1012.6 L1381 1012.9 L1382 1013.1 L1383 1013.3 L1384 1013.5 L1385 1013.7 L1386 1013.8 L1387 1014 L1388 1014.1 L1389 1014.2 L1390 1014.2 L1391 1014.3 L1392 1014.3 L1393 1014.3 L1394 1014.3" fill="none" stroke="#FF8410" stroke-width="1.8"/>
<path d="M812 1088.7 L813 1088.6 L814 1088.5 L815 1088.4 L816 1088.3 L817 1088.2 L818 1088.1 L819 1087.9 L820 1087.8 L821 1087.7 L822 1087.6 L823 1087.5 L824 1087.4 L825 1087.3 L826 1087.2 L827 1087.1 L828 1086.9 L829 1086.8 L830 1086.7 L831 1086.6 L832 1086.5 L833 1086.4 L834 1086.3 L835 1086.2 L836 1086.1 L837 1085.9 L838 1085.8 L839 1085.7 L840 1085.6 L841 1085.5 L842 1085.4 L843 1085.3 L844 1085.2 L845 1085 L846 1084.9 L847 1084.8 L848 1084.7 L849 1084.6 L850 1084.5 L851 1084.4 L852 1084.3 L853 1084.1 L854 1084 L855 1083.9 L856 1083.8 L857 1083.7 L858 1083.6 L859 1083.5 L860 1083.3 L861 1083.2 L862 1083.1 L863 1083 L864 1082.9 L865 1082.8 L866 1082.7 L867 1082.6 L868 1082.4 L869 1082.3 L870 1082.2 L871 1082.1 L872 1082 L873 1081.9 L874 1081.8 L875 1081.7 L876 1081.5 L877 1081.4 L878 1081.3 L879 1081.2 L880 1081.1 L881 1081 L882 1080.9 L883 1080.8 L884 1080.6 L885 1080.5 L886 1080.4 L887 1080.3 L888 1080.2 L889 1080.1 L890 1080 L891 1079.9 L892 1079.7 L893 1079.6 L894 1079.5 L895 1079.4 L896 1079.3 L897 1079.2 L898 1079.1 L899 1079 L900 1078.8 L901 1078.7 L902 1078.6 L903 1078.5 L904 1078.4 L905 1078.3 L906 1078.2 L907 1078.1 L908 1077.9 L909 1077.8 L910 1077.7 L911 1077.6 L912 1077.5 L913 1077.4 L914 1077.3 L915 1077.2 L916 1077 L917 1076.9 L918 1076.8 L919 1076.7 L920 1076.6 L921 1076.5 L922 1076.4 L923 1076.3 L924 1076.1 L925 1076 L926 1075.9 L927 1075.8 L928 1075.7 L929 1075.6 L930 1075.5 L931 1075.3 L932 1075.2 L933 1075.1 L934 1075 L935 1074.9 L936 1074.8 L937 1074.7 L938 1074.5 L939 1074.4 L940 1074.3 L941 1074.2 L942 1074.1 L943 1074 L944 1073.9 L945 1073.7 L946 1073.6 L947 1073.5 L948 1073.4 L949 1073.3 L950 1073.2 L951 1073.1 L952 1072.9 L953 1072.8 L954 1072.7 L955 1072.6 L956 1072.5 L957 1072.4 L958 1072.2 L959 1072.1 L960 1072 L961 1071.9 L962 1071.8 L963 1071.7 L964 1071.5 L965 1071.4 L966 1071.3 L967 1071.2 L968 1071.1 L969 1070.9 L970 1070.8 L971 1070.7 L972 1070.6 L973 1070.5 L974 1070.4 L975 1070.2 L976 1070.1 L977 1070 L978 1069.9 L979 1069.8 L980 1069.6 L981 1069.5 L982 1069.4 L983 1069.3 L984 1069.2 L985 1069 L986 1068.9 L987 1068.8 L988 1068.7 L989 1068.6 L990 1068.4 L991 1068.3 L992 1068.2 L993 1068.1 L994 1067.9 L995 1067.8 L996 1067.7 L997 1067.6 L998 1067.4 L999 1067.3 L1000 1067.2 L1001 1067.1 L1002 1066.9 L1003 1066.8 L1004 1066.7 L1005 1066.6 L1006 1066.4 L1007 1066.3 L1008 1066.2 L1009 1066.1 L1010 1065.9 L1011 1065.8 L1012 1065.7 L1013 1065.5 L1014 1065.4 L1015 1065.3 L1016 1065.2 L1017 1065 L1018 1064.9 L1019 1064.8 L1020 1064.6 L1021 1064.5 L1022 1064.4 L1023 1064.2 L1024 1064.1 L1025 1064 L1026 1063.8 L1027 1063.7 L1028 1063.5 L1029 1063.4 L1030 1063.3 L1031 1063.1 L1032 1063 L1033 1062.9 L1034 1062.7 L1035 1062.6 L1036 1062.4 L1037 1062.3 L1038 1062.1 L1039 1062 L1040 1061.9 L1041 1061.7 L1042 1061.6 L1043 1061.4 L1044 1061.3 L1045 1061.1 L1046 1061 L1047 1060.8 L1048 1060.7 L1049 1060.5 L1050 1060.3 L1051 1060.2 L1052 1060 L1053 1059.9 L1054 1059.7 L1055 1059.5 L1056 1059.4 L1057 1059.2 L1058 1059.1 L1059 1058.9 L1060 1058.7 L1061 1058.5 L1062 1058.4 L1063 1058.2 L1064 1058 L1065 1057.8 L1066 1057.7 L1067 1057.5 L1068 1057.3 L1069 1057.1 L1070 1056.9 L1071 1056.7 L1072 1056.5 L1073 1056.4 L1074 1056.2 L1075 1056 L1076 1055.7 L1077 1055.5 L1078 1055.3 L1079 1055.1 L1080 1054.9 L1081 1054.7 L1082 1054.5 L1083 1054.2 L1084 1054 L1085 1053.8 L1086 1053.5 L1087 1053.3 L1088 1053 L1089 1052.8 L1090 1052.5 L1091 1052.3 L1092 1052 L1093 1051.7 L1094 1051.4 L1095 1051.2 L1096 1050.9 L1097 1050.6 L1098 1050.3 L1099 1049.9 L1100 1049.6 L1101 1049.3 L1102 1048.9 L1103 1048.6 L1104 1048.2 L1105 1047.9 L1106 1047.5 L1107 1047.1 L1108 1046.7 L1109 1046.3 L1110 1045.9 L1111 1045.4 L1112 1045 L1113 1044.5 L1114 1044 L1115 1043.5 L1116 1043 L1117 1042.4 L1118 1041.9 L1119 1041.3 L1120 1040.7 L1121 1040 L1122 1039.4 L1123 1038.7 L1124 1038 L1125 1037.3 L1126 1036.5 L1127 1035.7 L1128 1034.8 L1129 1034 L1130 1033.1 L1131 1032.1 L1132 1031.1 L1133 1030.1 L1134 1029 L1135 1027.8 L1136 1026.6 L1137 1025.4 L1138 1024.1 L1139 1022.7 L1140 1021.2 L1141 1019.8 L1142 1018.2 L1143 1016.6 L1144 1014.8 L1145 1013.1 L1146 1011.2 L1147 1009.3 L1148 1007.3 L1149 1005.3 L1150 1003.2 L1151 1001.1 L1152 998.9 L1153 996.7 L1154 994.4 L1155 992.2 L1156 990 L1157 987.8 L1158 985.7 L1159 983.7 L1160 981.8 L1161 980 L1162 978.4 L1163 977 L1164 975.8 L1165 974.9 L1166 974.2 L1167 973.8 L1168 973.6 L1169 973.9 L1170 974.7 L1171 975.8 L1172 977.4 L1173 979.3 L1174 981.4 L1175 983.8 L1176 986.3 L1177 988.9 L1178 991.5 L1179 994.2 L1180 996.8 L1181 999.4 L1182 1001.8 L1183 1004.2 L1184 1006.5 L1185 1008.7 L1186 1010.7 L1187 1012.7 L1188 1014.5 L1189 1016.2 L1190 1017.8 L1191 1019.2 L1192 1020.6 L1193 1021.9 L1194 1023.1 L1195 1024.3 L1196 1025.3 L1197 1026.3 L1198 1027.2 L1199 1028 L1200 1028.8 L1201 1029.5 L1202 1030.2 L1203 1030.9 L1204 1031.4 L1205 1032 L1206 1032.5 L1207 1033 L1208 1033.4 L1209 1033.8 L1210 1034.2 L1211 1034.6 L1212 1034.9 L1213 1035.2 L1214 1035.5 L1215 1035.7 L1216 1036 L1217 1036.2 L1218 1036.4 L1219 1036.6 L1220 1036.8 L1221 1037 L1222 1037.1 L1223 1037.3 L1224 1037.4 L1225 1037.5 L1226 1037.6 L1227 1037.7 L1228 1037.8 L1229 1037.9 L1230 1038 L1231 1038 L1232 1038.1 L1233 1038.1 L1234 1038.2 L1235 1038.2 L1236 1038.3 L1237 1038.3 L1238 1038.3 L1239 1038.3 L1240 1038.3 L1241 1038.4 L1242 1038.4 L1243 1038.4 L1244 1038.4 L1245 1038.3 L1246 1038.3 L1247 1038.3 L1248 1038.3 L1249 1038.3 L1250 1038.3 L1251 1038.2 L1252 1038.2 L1253 1038.2 L1254 1038.1 L1255 1038.1 L1256 1038.1 L1257 1038 L1258 1038 L1259 1037.9 L1260 1037.9 L1261 1037.8 L1262 1037.8 L1263 1037.7 L1264 1037.7 L1265 1037.6 L1266 1037.6 L1267 1037.5 L1268 1037.4 L1269 1037.4 L1270 1037.3 L1271 1037.3 L1272 1037.2 L1273 1037.1 L1274 1037.1 L1275 1037 L1276 1036.9 L1277 1036.8 L1278 1036.8 L1279 1036.7 L1280 1036.6 L1281 1036.6 L1282 1036.5 L1283 1036.4 L1284 1036.3 L1285 1036.3 L1286 1036.2 L1287 1036.1 L1288 1036 L1289 1035.9 L1290 1035.9 L1291 1035.8 L1292 1035.7 L1293 1035.6 L1294 1035.5 L1295 1035.4 L1296 1035.4 L1297 1035.3 L1298 1035.2 L1299 1035.1 L1300 1035 L1301 1034.9 L1302 1034.8 L1303 1034.8 L1304 1034.7 L1305 1034.6 L1306 1034.5 L1307 1034.4 L1308 1034.3 L1309 1034.2 L1310 1034.1 L1311 1034 L1312 1033.9 L1313 1033.9 L1314 1033.8 L1315 1033.7 L1316 1033.6 L1317 1033.5 L1318 1033.4 L1319 1033.3 L1320 1033.2 L1321 1033.1 L1322 1033 L1323 1032.9 L1324 1032.8 L1325 1032.7 L1326 1032.6 L1327 1032.5 L1328 1032.5 L1329 1032.4 L1330 1032.3 L1331 1032.2 L1332 1032.1 L1333 1032 L1334 1031.9 L1335 1031.8 L1336 1031.7 L1337 1031.6 L1338 1031.5 L1339 1031.4 L1340 1031.3 L1341 1031.2 L1342 1031.1 L1343 1031 L1344 1030.9 L1345 1030.8 L1346 1030.7 L1347 1030.6 L1348 1030.5 L1349 1030.4 L1350 1030.3 L1351 1030.2 L1352 1030.1 L1353 1030 L1354 1029.9 L1355 1029.8 L1356 1029.7 L1357 1029.6 L1358 1029.5 L1359 1029.4 L1360 1029.3 L1361 1029.2 L1362 1029.1 L1363 1029 L1364 1028.9 L1365 1028.8 L1366 1028.7 L1367 1028.6 L1368 1028.5 L1369 1028.4 L1370 1028.3 L1371 1028.2 L1372 1028.1 L1373 1028 L1374 1027.9 L1375 1027.8 L1376 1027.7 L1377 1027.6 L1378 1027.5 L1379 1027.4 L1380 1027.3 L1381 1027.2 L1382 1027.1 L1383 1027 L1384 1026.9 L1385 1026.8 L1386 1026.7 L1387 1026.6 L1388 1026.5 L1389 1026.4 L1390 1026.2 L1391 1026.1 L1392 1026 L1393 1025.9 L1394 1025.8 L1394 1026.3 L1393 1026.4 L1392 1026.5 L1391 1026.7 L1390 1026.8 L1389 1026.9 L1388 1027 L1387 1027.1 L1386 1027.2 L1385 1027.3 L1384 1027.4 L1383 1027.5 L1382 1027.6 L1381 1027.7 L1380 1027.8 L1379 1027.9 L1378 1028 L1377 1028.2 L1376 1028.3 L1375 1028.4 L1374 1028.5 L1373 1028.6 L1372 1028.7 L1371 1028.8 L1370 1028.9 L1369 1029 L1368 1029.1 L1367 1029.2 L1366 1029.3 L1365 1029.4 L1364 1029.6 L1363 1029.7 L1362 1029.8 L1361 1029.9 L1360 1030 L1359 1030.1 L1358 1030.2 L1357 1030.3 L1356 1030.4 L1355 1030.5 L1354 1030.6 L1353 1030.7 L1352 1030.8 L1351 1031 L1350 1031.1 L1349 1031.2 L1348 1031.3 L1347 1031.4 L1346 1031.5 L1345 1031.6 L1344 1031.7 L1343 1031.8 L1342 1031.9 L1341 1032 L1340 1032.1 L1339 1032.2 L1338 1032.3 L1337 1032.5 L1336 1032.6 L1335 1032.7 L1334 1032.8 L1333 1032.9 L1332 1033 L1331 1033.1 L1330 1033.2 L1329 1033.3 L1328 1033.4 L1327 1033.5 L1326 1033.6 L1325 1033.7 L1324 1033.9 L1323 1034 L1322 1034.1 L1321 1034.2 L1320 1034.3 L1319 1034.4 L1318 1034.5 L1317 1034.6 L1316 1034.7 L1315 1034.8 L1314 1034.9 L1313 1035 L1312 1035.1 L1311 1035.2 L1310 1035.4 L1309 1035.5 L1308 1035.6 L1307 1035.7 L1306 1035.8 L1305 1035.9 L1304 1036 L1303 1036.1 L1302 1036.2 L1301 1036.3 L1300 1036.4 L1299 1036.5 L1298 1036.6 L1297 1036.8 L1296 1036.9 L1295 1037 L1294 1037.1 L1293 1037.2 L1292 1037.3 L1291 1037.4 L1290 1037.5 L1289 1037.6 L1288 1037.7 L1287 1037.8 L1286 1037.9 L1285 1038 L1284 1038.2 L1283 1038.3 L1282 1038.4 L1281 1038.5 L1280 1038.6 L1279 1038.7 L1278 1038.8 L1277 1038.9 L1276 1039 L1275 1039.1 L1274 1039.2 L1273 1039.3 L1272 1039.4 L1271 1039.5 L1270 1039.7 L1269 1039.8 L1268 1039.9 L1267 1040 L1266 1040.1 L1265 1040.2 L1264 1040.3 L1263 1040.4 L1262 1040.5 L1261 1040.6 L1260 1040.7 L1259 1040.8 L1258 1040.9 L1257 1041.1 L1256 1041.2 L1255 1041.3 L1254 1041.4 L1253 1041.5 L1252 1041.6 L1251 1041.7 L1250 1041.8 L1249 1041.9 L1248 1042 L1247 1042.1 L1246 1042.2 L1245 1042.3 L1244 1042.5 L1243 1042.6 L1242 1042.7 L1241 1042.8 L1240 1042.9 L1239 1043 L1238 1043.1 L1237 1043.2 L1236 1043.3 L1235 1043.4 L1234 1043.5 L1233 1043.6 L1232 1043.7 L1231 1043.8 L1230 1044 L1229 1044.1 L1228 1044.2 L1227 1044.3 L1226 1044.4 L1225 1044.5 L1224 1044.6 L1223 1044.7 L1222 1044.8 L1221 1044.9 L1220 1045 L1219 1045.1 L1218 1045.2 L1217 1045.4 L1216 1045.5 L1215 1045.6 L1214 1045.7 L1213 1045.8 L1212 1045.9 L1211 1046 L1210 1046.1 L1209 1046.2 L1208 1046.3 L1207 1046.4 L1206 1046.5 L1205 1046.6 L1204 1046.8 L1203 1046.9 L1202 1047 L1201 1047.1 L1200 1047.2 L1199 1047.3 L1198 1047.4 L1197 1047.5 L1196 1047.6 L1195 1047.7 L1194 1047.8 L1193 1047.9 L1192 1048 L1191 1048.2 L1190 1048.3 L1189 1048.4 L1188 1048.5 L1187 1048.6 L1186 1048.7 L1185 1048.8 L1184 1048.9 L1183 1049 L1182 1049.1 L1181 1049.2 L1180 1049.3 L1179 1049.4 L1178 1049.5 L1177 1049.7 L1176 1049.8 L1175 1049.9 L1174 1050 L1173 1050.1 L1172 1050.2 L1171 1050.3 L1170 1050.4 L1169 1050.5 L1168 1050.6 L1167 1050.7 L1166 1050.8 L1165 1050.9 L1164 1051.1 L1163 1051.2 L1162 1051.3 L1161 1051.4 L1160 1051.5 L1159 1051.6 L1158 1051.7 L1157 1051.8 L1156 1051.9 L1155 1052 L1154 1052.1 L1153 1052.2 L1152 1052.3 L1151 1052.5 L1150 1052.6 L1149 1052.7 L1148 1052.8 L1147 1052.9 L1146 1053 L1145 1053.1 L1144 1053.2 L1143 1053.3 L1142 1053.4 L1141 1053.5 L1140 1053.6 L1139 1053.7 L1138 1053.8 L1137 1054 L1136 1054.1 L1135 1054.2 L1134 1054.3 L1133 1054.4 L1132 1054.5 L1131 1054.6 L1130 1054.7 L1129 1054.8 L1128 1054.9 L1127 1055 L1126 1055.1 L1125 1055.2 L1124 1055.4 L1123 1055.5 L1122 1055.6 L1121 1055.7 L1120 1055.8 L1119 1055.9 L1118 1056 L1117 1056.1 L1116 1056.2 L1115 1056.3 L1114 1056.4 L1113 1056.5 L1112 1056.6 L1111 1056.8 L1110 1056.9 L1109 1057 L1108 1057.1 L1107 1057.2 L1106 1057.3 L1105 1057.4 L1104 1057.5 L1103 1057.6 L1102 1057.7 L1101 1057.8 L1100 1057.9 L1099 1058 L1098 1058.1 L1097 1058.3 L1096 1058.4 L1095 1058.5 L1094 1058.6 L1093 1058.7 L1092 1058.8 L1091 1058.9 L1090 1059 L1089 1059.1 L1088 1059.2 L1087 1059.3 L1086 1059.4 L1085 1059.5 L1084 1059.7 L1083 1059.8 L1082 1059.9 L1081 1060 L1080 1060.1 L1079 1060.2 L1078 1060.3 L1077 1060.4 L1076 1060.5 L1075 1060.6 L1074 1060.7 L1073 1060.8 L1072 1060.9 L1071 1061 L1070 1061.2 L1069 1061.3 L1068 1061.4 L1067 1061.5 L1066 1061.6 L1065 1061.7 L1064 1061.8 L1063 1061.9 L1062 1062 L1061 1062.1 L1060 1062.2 L1059 1062.3 L1058 1062.4 L1057 1062.6 L1056 1062.7 L1055 1062.8 L1054 1062.9 L1053 1063 L1052 1063.1 L1051 1063.2 L1050 1063.3 L1049 1063.4 L1048 1063.5 L1047 1063.6 L1046 1063.7 L1045 1063.8 L1044 1064 L1043 1064.1 L1042 1064.2 L1041 1064.3 L1040 1064.4 L1039 1064.5 L1038 1064.6 L1037 1064.7 L1036 1064.8 L1035 1064.9 L1034 1065 L1033 1065.1 L1032 1065.2 L1031 1065.3 L1030 1065.5 L1029 1065.6 L1028 1065.7 L1027 1065.8 L1026 1065.9 L1025 1066 L1024 1066.1 L1023 1066.2 L1022 1066.3 L1021 1066.4 L1020 1066.5 L1019 1066.6 L1018 1066.7 L1017 1066.9 L1016 1067 L1015 1067.1 L1014 1067.2 L1013 1067.3 L1012 1067.4 L1011 1067.5 L1010 1067.6 L1009 1067.7 L1008 1067.8 L1007 1067.9 L1006 1068 L1005 1068.1 L1004 1068.3 L1003 1068.4 L1002 1068.5 L1001 1068.6 L1000 1068.7 L999 1068.8 L998 1068.9 L997 1069 L996 1069.1 L995 1069.2 L994 1069.3 L993 1069.4 L992 1069.5 L991 1069.7 L990 1069.8 L989 1069.9 L988 1070 L987 1070.1 L986 1070.2 L985 1070.3 L984 1070.4 L983 1070.5 L982 1070.6 L981 1070.7 L980 1070.8 L979 1070.9 L978 1071 L977 1071.2 L976 1071.3 L975 1071.4 L974 1071.5 L973 1071.6 L972 1071.7 L971 1071.8 L970 1071.9 L969 1072 L968 1072.1 L967 1072.2 L966 1072.3 L965 1072.4 L964 1072.6 L963 1072.7 L962 1072.8 L961 1072.9 L960 1073 L959 1073.1 L958 1073.2 L957 1073.3 L956 1073.4 L955 1073.5 L954 1073.6 L953 1073.7 L952 1073.8 L951 1074 L950 1074.1 L949 1074.2 L948 1074.3 L947 1074.4 L946 1074.5 L945 1074.6 L944 1074.7 L943 1074.8 L942 1074.9 L941 1075 L940 1075.1 L939 1075.2 L938 1075.3 L937 1075.5 L936 1075.6 L935 1075.7 L934 1075.8 L933 1075.9 L932 1076 L931 1076.1 L930 1076.2 L929 1076.3 L928 1076.4 L927 1076.5 L926 1076.6 L925 1076.7 L924 1076.9 L923 1077 L922 1077.1 L921 1077.2 L920 1077.3 L919 1077.4 L918 1077.5 L917 1077.6 L916 1077.7 L915 1077.8 L914 1077.9 L913 1078 L912 1078.1 L911 1078.2 L910 1078.4 L909 1078.5 L908 1078.6 L907 1078.7 L906 1078.8 L905 1078.9 L904 1079 L903 1079.1 L902 1079.2 L901 1079.3 L900 1079.4 L899 1079.5 L898 1079.6 L897 1079.8 L896 1079.9 L895 1080 L894 1080.1 L893 1080.2 L892 1080.3 L891 1080.4 L890 1080.5 L889 1080.6 L888 1080.7 L887 1080.8 L886 1080.9 L885 1081 L884 1081.2 L883 1081.3 L882 1081.4 L881 1081.5 L880 1081.6 L879 1081.7 L878 1081.8 L877 1081.9 L876 1082 L875 1082.1 L874 1082.2 L873 1082.3 L872 1082.4 L871 1082.5 L870 1082.7 L869 1082.8 L868 1082.9 L867 1083 L866 1083.1 L865 1083.2 L864 1083.3 L863 1083.4 L862 1083.5 L861 1083.6 L860 1083.7 L859 1083.8 L858 1083.9 L857 1084.1 L856 1084.2 L855 1084.3 L854 1084.4 L853 1084.5 L852 1084.6 L851 1084.7 L850 1084.8 L849 1084.9 L848 1085 L847 1085.1 L846 1085.2 L845 1085.3 L844 1085.5 L843 1085.6 L842 1085.7 L841 1085.8 L840 1085.9 L839 1086 L838 1086.1 L837 1086.2 L836 1086.3 L835 1086.4 L834 1086.5 L833 1086.6 L832 1086.7 L831 1086.8 L830 1087 L829 1087.1 L828 1087.2 L827 1087.3 L826 1087.4 L825 1087.5 L824 1087.6 L823 1087.7 L822 1087.8 L821 1087.9 L820 1088 L819 1088.1 L818 1088.2 L817 1088.4 L816 1088.5 L815 1088.6 L814 1088.7 L813 1088.8 L812 1088.9Z" fill="rgba(8,5,150,0.76)"/>
<path d="M812 1088.7 L813 1088.6 L814 1088.5 L815 1088.4 L816 1088.3 L817 1088.2 L818 1088.1 L819 1087.9 L820 1087.8 L821 1087.7 L822 1087.6 L823 1087.5 L824 1087.4 L825 1087.3 L826 1087.2 L827 1087.1 L828 1086.9 L829 1086.8 L830 1086.7 L831 1086.6 L832 1086.5 L833 1086.4 L834 1086.3 L835 1086.2 L836 1086.1 L837 1085.9 L838 1085.8 L839 1085.7 L840 1085.6 L841 1085.5 L842 1085.4 L843 1085.3 L844 1085.2 L845 1085 L846 1084.9 L847 1084.8 L848 1084.7 L849 1084.6 L850 1084.5 L851 1084.4 L852 1084.3 L853 1084.1 L854 1084 L855 1083.9 L856 1083.8 L857 1083.7 L858 1083.6 L859 1083.5 L860 1083.3 L861 1083.2 L862 1083.1 L863 1083 L864 1082.9 L865 1082.8 L866 1082.7 L867 1082.6 L868 1082.4 L869 1082.3 L870 1082.2 L871 1082.1 L872 1082 L873 1081.9 L874 1081.8 L875 1081.7 L876 1081.5 L877 1081.4 L878 1081.3 L879 1081.2 L880 1081.1 L881 1081 L882 1080.9 L883 1080.8 L884 1080.6 L885 1080.5 L886 1080.4 L887 1080.3 L888 1080.2 L889 1080.1 L890 1080 L891 1079.9 L892 1079.7 L893 1079.6 L894 1079.5 L895 1079.4 L896 1079.3 L897 1079.2 L898 1079.1 L899 1079 L900 1078.8 L901 1078.7 L902 1078.6 L903 1078.5 L904 1078.4 L905 1078.3 L906 1078.2 L907 1078.1 L908 1077.9 L909 1077.8 L910 1077.7 L911 1077.6 L912 1077.5 L913 1077.4 L914 1077.3 L915 1077.2 L916 1077 L917 1076.9 L918 1076.8 L919 1076.7 L920 1076.6 L921 1076.5 L922 1076.4 L923 1076.3 L924 1076.1 L925 1076 L926 1075.9 L927 1075.8 L928 1075.7 L929 1075.6 L930 1075.5 L931 1075.3 L932 1075.2 L933 1075.1 L934 1075 L935 1074.9 L936 1074.8 L937 1074.7 L938 1074.5 L939 1074.4 L940 1074.3 L941 1074.2 L942 1074.1 L943 1074 L944 1073.9 L945 1073.7 L946 1073.6 L947 1073.5 L948 1073.4 L949 1073.3 L950 1073.2 L951 1073.1 L952 1072.9 L953 1072.8 L954 1072.7 L955 1072.6 L956 1072.5 L957 1072.4 L958 1072.2 L959 1072.1 L960 1072 L961 1071.9 L962 1071.8 L963 1071.7 L964 1071.5 L965 1071.4 L966 1071.3 L967 1071.2 L968 1071.1 L969 1070.9 L970 1070.8 L971 1070.7 L972 1070.6 L973 1070.5 L974 1070.4 L975 1070.2 L976 1070.1 L977 1070 L978 1069.9 L979 1069.8 L980 1069.6 L981 1069.5 L982 1069.4 L983 1069.3 L984 1069.2 L985 1069 L986 1068.9 L987 1068.8 L988 1068.7 L989 1068.6 L990 1068.4 L991 1068.3 L992 1068.2 L993 1068.1 L994 1067.9 L995 1067.8 L996 1067.7 L997 1067.6 L998 1067.4 L999 1067.3 L1000 1067.2 L1001 1067.1 L1002 1066.9 L1003 1066.8 L1004 1066.7 L1005 1066.6 L1006 1066.4 L1007 1066.3 L1008 1066.2 L1009 1066.1 L1010 1065.9 L1011 1065.8 L1012 1065.7 L1013 1065.5 L1014 1065.4 L1015 1065.3 L1016 1065.2 L1017 1065 L1018 1064.9 L1019 1064.8 L1020 1064.6 L1021 1064.5 L1022 1064.4 L1023 1064.2 L1024 1064.1 L1025 1064 L1026 1063.8 L1027 1063.7 L1028 1063.5 L1029 1063.4 L1030 1063.3 L1031 1063.1 L1032 1063 L1033 1062.9 L1034 1062.7 L1035 1062.6 L1036 1062.4 L1037 1062.3 L1038 1062.1 L1039 1062 L1040 1061.9 L1041 1061.7 L1042 1061.6 L1043 1061.4 L1044 1061.3 L1045 1061.1 L1046 1061 L1047 1060.8 L1048 1060.7 L1049 1060.5 L1050 1060.3 L1051 1060.2 L1052 1060 L1053 1059.9 L1054 1059.7 L1055 1059.5 L1056 1059.4 L1057 1059.2 L1058 1059.1 L1059 1058.9 L1060 1058.7 L1061 1058.5 L1062 1058.4 L1063 1058.2 L1064 1058 L1065 1057.8 L1066 1057.7 L1067 1057.5 L1068 1057.3 L1069 1057.1 L1070 1056.9 L1071 1056.7 L1072 1056.5 L1073 1056.4 L1074 1056.2 L1075 1056 L1076 1055.7 L1077 1055.5 L1078 1055.3 L1079 1055.1 L1080 1054.9 L1081 1054.7 L1082 1054.5 L1083 1054.2 L1084 1054 L1085 1053.8 L1086 1053.5 L1087 1053.3 L1088 1053 L1089 1052.8 L1090 1052.5 L1091 1052.3 L1092 1052 L1093 1051.7 L1094 1051.4 L1095 1051.2 L1096 1050.9 L1097 1050.6 L1098 1050.3 L1099 1049.9 L1100 1049.6 L1101 1049.3 L1102 1048.9 L1103 1048.6 L1104 1048.2 L1105 1047.9 L1106 1047.5 L1107 1047.1 L1108 1046.7 L1109 1046.3 L1110 1045.9 L1111 1045.4 L1112 1045 L1113 1044.5 L1114 1044 L1115 1043.5 L1116 1043 L1117 1042.4 L1118 1041.9 L1119 1041.3 L1120 1040.7 L1121 1040 L1122 1039.4 L1123 1038.7 L1124 1038 L1125 1037.3 L1126 1036.5 L1127 1035.7 L1128 1034.8 L1129 1034 L1130 1033.1 L1131 1032.1 L1132 1031.1 L1133 1030.1 L1134 1029 L1135 1027.8 L1136 1026.6 L1137 1025.4 L1138 1024.1 L1139 1022.7 L1140 1021.2 L1141 1019.8 L1142 1018.2 L1143 1016.6 L1144 1014.8 L1145 1013.1 L1146 1011.2 L1147 1009.3 L1148 1007.3 L1149 1005.3 L1150 1003.2 L1151 1001.1 L1152 998.9 L1153 996.7 L1154 994.4 L1155 992.2 L1156 990 L1157 987.8 L1158 985.7 L1159 983.7 L1160 981.8 L1161 980 L1162 978.4 L1163 977 L1164 975.8 L1165 974.9 L1166 974.2 L1167 973.8 L1168 973.6 L1169 973.9 L1170 974.7 L1171 975.8 L1172 977.4 L1173 979.3 L1174 981.4 L1175 983.8 L1176 986.3 L1177 988.9 L1178 991.5 L1179 994.2 L1180 996.8 L1181 999.4 L1182 1001.8 L1183 1004.2 L1184 1006.5 L1185 1008.7 L1186 1010.7 L1187 1012.7 L1188 1014.5 L1189 1016.2 L1190 1017.8 L1191 1019.2 L1192 1020.6 L1193 1021.9 L1194 1023.1 L1195 1024.3 L1196 1025.3 L1197 1026.3 L1198 1027.2 L1199 1028 L1200 1028.8 L1201 1029.5 L1202 1030.2 L1203 1030.9 L1204 1031.4 L1205 1032 L1206 1032.5 L1207 1033 L1208 1033.4 L1209 1033.8 L1210 1034.2 L1211 1034.6 L1212 1034.9 L1213 1035.2 L1214 1035.5 L1215 1035.7 L1216 1036 L1217 1036.2 L1218 1036.4 L1219 1036.6 L1220 1036.8 L1221 1037 L1222 1037.1 L1223 1037.3 L1224 1037.4 L1225 1037.5 L1226 1037.6 L1227 1037.7 L1228 1037.8 L1229 1037.9 L1230 1038 L1231 1038 L1232 1038.1 L1233 1038.1 L1234 1038.2 L1235 1038.2 L1236 1038.3 L1237 1038.3 L1238 1038.3 L1239 1038.3 L1240 1038.3 L1241 1038.4 L1242 1038.4 L1243 1038.4 L1244 1038.4 L1245 1038.3 L1246 1038.3 L1247 1038.3 L1248 1038.3 L1249 1038.3 L1250 1038.3 L1251 1038.2 L1252 1038.2 L1253 1038.2 L1254 1038.1 L1255 1038.1 L1256 1038.1 L1257 1038 L1258 1038 L1259 1037.9 L1260 1037.9 L1261 1037.8 L1262 1037.8 L1263 1037.7 L1264 1037.7 L1265 1037.6 L1266 1037.6 L1267 1037.5 L1268 1037.4 L1269 1037.4 L1270 1037.3 L1271 1037.3 L1272 1037.2 L1273 1037.1 L1274 1037.1 L1275 1037 L1276 1036.9 L1277 1036.8 L1278 1036.8 L1279 1036.7 L1280 1036.6 L1281 1036.6 L1282 1036.5 L1283 1036.4 L1284 1036.3 L1285 1036.3 L1286 1036.2 L1287 1036.1 L1288 1036 L1289 1035.9 L1290 1035.9 L1291 1035.8 L1292 1035.7 L1293 1035.6 L1294 1035.5 L1295 1035.4 L1296 1035.4 L1297 1035.3 L1298 1035.2 L1299 1035.1 L1300 1035 L1301 1034.9 L1302 1034.8 L1303 1034.8 L1304 1034.7 L1305 1034.6 L1306 1034.5 L1307 1034.4 L1308 1034.3 L1309 1034.2 L1310 1034.1 L1311 1034 L1312 1033.9 L1313 1033.9 L1314 1033.8 L1315 1033.7 L1316 1033.6 L1317 1033.5 L1318 1033.4 L1319 1033.3 L1320 1033.2 L1321 1033.1 L1322 1033 L1323 1032.9 L1324 1032.8 L1325 1032.7 L1326 1032.6 L1327 1032.5 L1328 1032.5 L1329 1032.4 L1330 1032.3 L1331 1032.2 L1332 1032.1 L1333 1032 L1334 1031.9 L1335 1031.8 L1336 1031.7 L1337 1031.6 L1338 1031.5 L1339 1031.4 L1340 1031.3 L1341 1031.2 L1342 1031.1 L1343 1031 L1344 1030.9 L1345 1030.8 L1346 1030.7 L1347 1030.6 L1348 1030.5 L1349 1030.4 L1350 1030.3 L1351 1030.2 L1352 1030.1 L1353 1030 L1354 1029.9 L1355 1029.8 L1356 1029.7 L1357 1029.6 L1358 1029.5 L1359 1029.4 L1360 1029.3 L1361 1029.2 L1362 1029.1 L1363 1029 L1364 1028.9 L1365 1028.8 L1366 1028.7 L1367 1028.6 L1368 1028.5 L1369 1028.4 L1370 1028.3 L1371 1028.2 L1372 1028.1 L1373 1028 L1374 1027.9 L1375 1027.8 L1376 1027.7 L1377 1027.6 L1378 1027.5 L1379 1027.4 L1380 1027.3 L1381 1027.2 L1382 1027.1 L1383 1027 L1384 1026.9 L1385 1026.8 L1386 1026.7 L1387 1026.6 L1388 1026.5 L1389 1026.4 L1390 1026.2 L1391 1026.1 L1392 1026 L1393 1025.9 L1394 1025.8" fill="none" stroke="#0A0AB4" stroke-width="2.4"/>
<path d="M812 1088.5 L813 1088.4 L814 1088.3 L815 1088.1 L816 1088 L817 1087.9 L818 1087.8 L819 1087.7 L820 1087.6 L821 1087.5 L822 1087.3 L823 1087.2 L824 1087.1 L825 1087 L826 1086.9 L827 1086.8 L828 1086.7 L829 1086.5 L830 1086.4 L831 1086.3 L832 1086.2 L833 1086.1 L834 1085.9 L835 1085.8 L836 1085.7 L837 1085.6 L838 1085.5 L839 1085.3 L840 1085.2 L841 1085.1 L842 1085 L843 1084.9 L844 1084.7 L845 1084.6 L846 1084.5 L847 1084.4 L848 1084.3 L849 1084.1 L850 1084 L851 1083.9 L852 1083.8 L853 1083.7 L854 1083.5 L855 1083.4 L856 1083.3 L857 1083.2 L858 1083 L859 1082.9 L860 1082.8 L861 1082.7 L862 1082.6 L863 1082.4 L864 1082.3 L865 1082.2 L866 1082.1 L867 1081.9 L868 1081.8 L869 1081.7 L870 1081.6 L871 1081.5 L872 1081.3 L873 1081.2 L874 1081.1 L875 1081 L876 1080.8 L877 1080.7 L878 1080.6 L879 1080.5 L880 1080.4 L881 1080.2 L882 1080.1 L883 1080 L884 1079.9 L885 1079.7 L886 1079.6 L887 1079.5 L888 1079.4 L889 1079.3 L890 1079.1 L891 1079 L892 1078.9 L893 1078.8 L894 1078.6 L895 1078.5 L896 1078.4 L897 1078.3 L898 1078.1 L899 1078 L900 1077.9 L901 1077.8 L902 1077.7 L903 1077.5 L904 1077.4 L905 1077.3 L906 1077.2 L907 1077 L908 1076.9 L909 1076.8 L910 1076.7 L911 1076.5 L912 1076.4 L913 1076.3 L914 1076.2 L915 1076 L916 1075.9 L917 1075.8 L918 1075.6 L919 1075.5 L920 1075.4 L921 1075.3 L922 1075.1 L923 1075 L924 1074.9 L925 1074.7 L926 1074.6 L927 1074.5 L928 1074.4 L929 1074.2 L930 1074.1 L931 1074 L932 1073.8 L933 1073.7 L934 1073.6 L935 1073.4 L936 1073.3 L937 1073.2 L938 1073 L939 1072.9 L940 1072.8 L941 1072.6 L942 1072.5 L943 1072.4 L944 1072.2 L945 1072.1 L946 1071.9 L947 1071.8 L948 1071.7 L949 1071.5 L950 1071.4 L951 1071.2 L952 1071.1 L953 1071 L954 1070.8 L955 1070.7 L956 1070.5 L957 1070.4 L958 1070.2 L959 1070.1 L960 1069.9 L961 1069.8 L962 1069.6 L963 1069.5 L964 1069.3 L965 1069.2 L966 1069 L967 1068.9 L968 1068.7 L969 1068.6 L970 1068.4 L971 1068.2 L972 1068.1 L973 1067.9 L974 1067.8 L975 1067.6 L976 1067.4 L977 1067.3 L978 1067.1 L979 1066.9 L980 1066.8 L981 1066.6 L982 1066.4 L983 1066.2 L984 1066.1 L985 1065.9 L986 1065.7 L987 1065.5 L988 1065.3 L989 1065.2 L990 1065 L991 1064.8 L992 1064.6 L993 1064.4 L994 1064.2 L995 1064 L996 1063.8 L997 1063.6 L998 1063.4 L999 1063.2 L1000 1063 L1001 1062.8 L1002 1062.6 L1003 1062.4 L1004 1062.1 L1005 1061.9 L1006 1061.7 L1007 1061.4 L1008 1061.2 L1009 1061 L1010 1060.7 L1011 1060.5 L1012 1060.2 L1013 1060 L1014 1059.7 L1015 1059.5 L1016 1059.2 L1017 1058.9 L1018 1058.6 L1019 1058.4 L1020 1058.1 L1021 1057.8 L1022 1057.5 L1023 1057.2 L1024 1056.8 L1025 1056.5 L1026 1056.2 L1027 1055.9 L1028 1055.5 L1029 1055.2 L1030 1054.8 L1031 1054.4 L1032 1054 L1033 1053.6 L1034 1053.2 L1035 1052.8 L1036 1052.4 L1037 1052 L1038 1051.5 L1039 1051 L1040 1050.5 L1041 1050.1 L1042 1049.5 L1043 1049 L1044 1048.5 L1045 1047.9 L1046 1047.3 L1047 1046.7 L1048 1046 L1049 1045.4 L1050 1044.7 L1051 1044 L1052 1043.2 L1053 1042.5 L1054 1041.7 L1055 1040.8 L1056 1039.9 L1057 1039 L1058 1038 L1059 1037 L1060 1036 L1061 1034.9 L1062 1033.7 L1063 1032.5 L1064 1031.3 L1065 1030 L1066 1028.6 L1067 1027.1 L1068 1025.6 L1069 1024 L1070 1022.3 L1071 1020.6 L1072 1018.7 L1073 1016.8 L1074 1014.8 L1075 1012.7 L1076 1010.4 L1077 1008.1 L1078 1005.7 L1079 1003.2 L1080 1000.6 L1081 997.8 L1082 995 L1083 992.1 L1084 989 L1085 985.9 L1086 982.6 L1087 979.3 L1088 976 L1089 972.5 L1090 969 L1091 965.6 L1092 962.1 L1093 958.6 L1094 955.2 L1095 952 L1096 948.8 L1097 945.9 L1098 943.1 L1099 940.7 L1100 938.5 L1101 936.6 L1102 935.2 L1103 934.1 L1104 933.4 L1105 933.2 L1106 933.3 L1107 933.8 L1108 934.6 L1109 935.7 L1110 937 L1111 938.7 L1112 940.6 L1113 942.7 L1114 945 L1115 947.5 L1116 950.1 L1117 952.8 L1118 955.6 L1119 958.5 L1120 961.4 L1121 964.4 L1122 967.3 L1123 970.3 L1124 973.2 L1125 976.1 L1126 978.9 L1127 981.7 L1128 984.4 L1129 987.1 L1130 989.7 L1131 992.2 L1132 994.6 L1133 996.9 L1134 999.2 L1135 1001.3 L1136 1003.4 L1137 1005.4 L1138 1007.3 L1139 1009.2 L1140 1010.9 L1141 1012.6 L1142 1014.2 L1143 1015.7 L1144 1017.2 L1145 1018.6 L1146 1019.9 L1147 1021.1 L1148 1022.3 L1149 1023.4 L1150 1024.4 L1151 1025.4 L1152 1026.4 L1153 1027.3 L1154 1028.1 L1155 1028.9 L1156 1029.6 L1157 1030.3 L1158 1031 L1159 1031.6 L1160 1032.2 L1161 1032.8 L1162 1033.3 L1163 1033.8 L1164 1034.2 L1165 1034.6 L1166 1035 L1167 1035.4 L1168 1035.8 L1169 1036.1 L1170 1036.4 L1171 1036.7 L1172 1037 L1173 1037.2 L1174 1037.5 L1175 1037.7 L1176 1037.9 L1177 1038.1 L1178 1038.3 L1179 1038.5 L1180 1038.6 L1181 1038.8 L1182 1038.9 L1183 1039.1 L1184 1039.2 L1185 1039.3 L1186 1039.4 L1187 1039.5 L1188 1039.6 L1189 1039.7 L1190 1039.8 L1191 1039.9 L1192 1039.9 L1193 1040 L1194 1040 L1195 1040.1 L1196 1040.1 L1197 1040.2 L1198 1040.2 L1199 1040.3 L1200 1040.3 L1201 1040.3 L1202 1040.3 L1203 1040.3 L1204 1040.4 L1205 1040.4 L1206 1040.4 L1207 1040.4 L1208 1040.4 L1209 1040.4 L1210 1040.4 L1211 1040.4 L1212 1040.4 L1213 1040.4 L1214 1040.3 L1215 1040.3 L1216 1040.3 L1217 1040.3 L1218 1040.3 L1219 1040.2 L1220 1040.2 L1221 1040.2 L1222 1040.2 L1223 1040.1 L1224 1040.1 L1225 1040.1 L1226 1040 L1227 1040 L1228 1039.9 L1229 1039.9 L1230 1039.8 L1231 1039.8 L1232 1039.8 L1233 1039.7 L1234 1039.7 L1235 1039.6 L1236 1039.6 L1237 1039.5 L1238 1039.4 L1239 1039.4 L1240 1039.3 L1241 1039.3 L1242 1039.2 L1243 1039.2 L1244 1039.1 L1245 1039 L1246 1039 L1247 1038.9 L1248 1038.8 L1249 1038.8 L1250 1038.7 L1251 1038.7 L1252 1038.6 L1253 1038.5 L1254 1038.4 L1255 1038.4 L1256 1038.3 L1257 1038.2 L1258 1038.2 L1259 1038.1 L1260 1038 L1261 1037.9 L1262 1037.9 L1263 1037.8 L1264 1037.7 L1265 1037.6 L1266 1037.6 L1267 1037.5 L1268 1037.4 L1269 1037.3 L1270 1037.3 L1271 1037.2 L1272 1037.1 L1273 1037 L1274 1036.9 L1275 1036.9 L1276 1036.8 L1277 1036.7 L1278 1036.6 L1279 1036.5 L1280 1036.4 L1281 1036.4 L1282 1036.3 L1283 1036.2 L1284 1036.1 L1285 1036 L1286 1035.9 L1287 1035.8 L1288 1035.8 L1289 1035.7 L1290 1035.6 L1291 1035.5 L1292 1035.4 L1293 1035.3 L1294 1035.2 L1295 1035.1 L1296 1035.1 L1297 1035 L1298 1034.9 L1299 1034.8 L1300 1034.7 L1301 1034.6 L1302 1034.5 L1303 1034.4 L1304 1034.3 L1305 1034.2 L1306 1034.2 L1307 1034.1 L1308 1034 L1309 1033.9 L1310 1033.8 L1311 1033.7 L1312 1033.6 L1313 1033.5 L1314 1033.4 L1315 1033.3 L1316 1033.2 L1317 1033.1 L1318 1033 L1319 1032.9 L1320 1032.9 L1321 1032.8 L1322 1032.7 L1323 1032.6 L1324 1032.5 L1325 1032.4 L1326 1032.3 L1327 1032.2 L1328 1032.1 L1329 1032 L1330 1031.9 L1331 1031.8 L1332 1031.7 L1333 1031.6 L1334 1031.5 L1335 1031.4 L1336 1031.3 L1337 1031.2 L1338 1031.1 L1339 1031 L1340 1030.9 L1341 1030.8 L1342 1030.7 L1343 1030.6 L1344 1030.5 L1345 1030.4 L1346 1030.3 L1347 1030.2 L1348 1030.1 L1349 1030 L1350 1030 L1351 1029.9 L1352 1029.8 L1353 1029.7 L1354 1029.6 L1355 1029.5 L1356 1029.4 L1357 1029.3 L1358 1029.2 L1359 1029.1 L1360 1029 L1361 1028.9 L1362 1028.8 L1363 1028.7 L1364 1028.6 L1365 1028.5 L1366 1028.4 L1367 1028.3 L1368 1028.2 L1369 1028.1 L1370 1028 L1371 1027.9 L1372 1027.8 L1373 1027.7 L1374 1027.6 L1375 1027.5 L1376 1027.4 L1377 1027.3 L1378 1027.2 L1379 1027.1 L1380 1027 L1381 1026.9 L1382 1026.7 L1383 1026.6 L1384 1026.5 L1385 1026.4 L1386 1026.3 L1387 1026.2 L1388 1026.1 L1389 1026 L1390 1025.9 L1391 1025.8 L1392 1025.7 L1393 1025.6 L1394 1025.5 L1394 1026.3 L1393 1026.4 L1392 1026.5 L1391 1026.7 L1390 1026.8 L1389 1026.9 L1388 1027 L1387 1027.1 L1386 1027.2 L1385 1027.3 L1384 1027.4 L1383 1027.5 L1382 1027.6 L1381 1027.7 L1380 1027.8 L1379 1027.9 L1378 1028 L1377 1028.2 L1376 1028.3 L1375 1028.4 L1374 1028.5 L1373 1028.6 L1372 1028.7 L1371 1028.8 L1370 1028.9 L1369 1029 L1368 1029.1 L1367 1029.2 L1366 1029.3 L1365 1029.4 L1364 1029.6 L1363 1029.7 L1362 1029.8 L1361 1029.9 L1360 1030 L1359 1030.1 L1358 1030.2 L1357 1030.3 L1356 1030.4 L1355 1030.5 L1354 1030.6 L1353 1030.7 L1352 1030.8 L1351 1031 L1350 1031.1 L1349 1031.2 L1348 1031.3 L1347 1031.4 L1346 1031.5 L1345 1031.6 L1344 1031.7 L1343 1031.8 L1342 1031.9 L1341 1032 L1340 1032.1 L1339 1032.2 L1338 1032.3 L1337 1032.5 L1336 1032.6 L1335 1032.7 L1334 1032.8 L1333 1032.9 L1332 1033 L1331 1033.1 L1330 1033.2 L1329 1033.3 L1328 1033.4 L1327 1033.5 L1326 1033.6 L1325 1033.7 L1324 1033.9 L1323 1034 L1322 1034.1 L1321 1034.2 L1320 1034.3 L1319 1034.4 L1318 1034.5 L1317 1034.6 L1316 1034.7 L1315 1034.8 L1314 1034.9 L1313 1035 L1312 1035.1 L1311 1035.2 L1310 1035.4 L1309 1035.5 L1308 1035.6 L1307 1035.7 L1306 1035.8 L1305 1035.9 L1304 1036 L1303 1036.1 L1302 1036.2 L1301 1036.3 L1300 1036.4 L1299 1036.5 L1298 1036.6 L1297 1036.8 L1296 1036.9 L1295 1037 L1294 1037.1 L1293 1037.2 L1292 1037.3 L1291 1037.4 L1290 1037.5 L1289 1037.6 L1288 1037.7 L1287 1037.8 L1286 1037.9 L1285 1038 L1284 1038.2 L1283 1038.3 L1282 1038.4 L1281 1038.5 L1280 1038.6 L1279 1038.7 L1278 1038.8 L1277 1038.9 L1276 1039 L1275 1039.1 L1274 1039.2 L1273 1039.3 L1272 1039.4 L1271 1039.5 L1270 1039.7 L1269 1039.8 L1268 1039.9 L1267 1040 L1266 1040.1 L1265 1040.2 L1264 1040.3 L1263 1040.4 L1262 1040.5 L1261 1040.6 L1260 1040.7 L1259 1040.8 L1258 1040.9 L1257 1041.1 L1256 1041.2 L1255 1041.3 L1254 1041.4 L1253 1041.5 L1252 1041.6 L1251 1041.7 L1250 1041.8 L1249 1041.9 L1248 1042 L1247 1042.1 L1246 1042.2 L1245 1042.3 L1244 1042.5 L1243 1042.6 L1242 1042.7 L1241 1042.8 L1240 1042.9 L1239 1043 L1238 1043.1 L1237 1043.2 L1236 1043.3 L1235 1043.4 L1234 1043.5 L1233 1043.6 L1232 1043.7 L1231 1043.8 L1230 1044 L1229 1044.1 L1228 1044.2 L1227 1044.3 L1226 1044.4 L1225 1044.5 L1224 1044.6 L1223 1044.7 L1222 1044.8 L1221 1044.9 L1220 1045 L1219 1045.1 L1218 1045.2 L1217 1045.4 L1216 1045.5 L1215 1045.6 L1214 1045.7 L1213 1045.8 L1212 1045.9 L1211 1046 L1210 1046.1 L1209 1046.2 L1208 1046.3 L1207 1046.4 L1206 1046.5 L1205 1046.6 L1204 1046.8 L1203 1046.9 L1202 1047 L1201 1047.1 L1200 1047.2 L1199 1047.3 L1198 1047.4 L1197 1047.5 L1196 1047.6 L1195 1047.7 L1194 1047.8 L1193 1047.9 L1192 1048 L1191 1048.2 L1190 1048.3 L1189 1048.4 L1188 1048.5 L1187 1048.6 L1186 1048.7 L1185 1048.8 L1184 1048.9 L1183 1049 L1182 1049.1 L1181 1049.2 L1180 1049.3 L1179 1049.4 L1178 1049.5 L1177 1049.7 L1176 1049.8 L1175 1049.9 L1174 1050 L1173 1050.1 L1172 1050.2 L1171 1050.3 L1170 1050.4 L1169 1050.5 L1168 1050.6 L1167 1050.7 L1166 1050.8 L1165 1050.9 L1164 1051.1 L1163 1051.2 L1162 1051.3 L1161 1051.4 L1160 1051.5 L1159 1051.6 L1158 1051.7 L1157 1051.8 L1156 1051.9 L1155 1052 L1154 1052.1 L1153 1052.2 L1152 1052.3 L1151 1052.5 L1150 1052.6 L1149 1052.7 L1148 1052.8 L1147 1052.9 L1146 1053 L1145 1053.1 L1144 1053.2 L1143 1053.3 L1142 1053.4 L1141 1053.5 L1140 1053.6 L1139 1053.7 L1138 1053.8 L1137 1054 L1136 1054.1 L1135 1054.2 L1134 1054.3 L1133 1054.4 L1132 1054.5 L1131 1054.6 L1130 1054.7 L1129 1054.8 L1128 1054.9 L1127 1055 L1126 1055.1 L1125 1055.2 L1124 1055.4 L1123 1055.5 L1122 1055.6 L1121 1055.7 L1120 1055.8 L1119 1055.9 L1118 1056 L1117 1056.1 L1116 1056.2 L1115 1056.3 L1114 1056.4 L1113 1056.5 L1112 1056.6 L1111 1056.8 L1110 1056.9 L1109 1057 L1108 1057.1 L1107 1057.2 L1106 1057.3 L1105 1057.4 L1104 1057.5 L1103 1057.6 L1102 1057.7 L1101 1057.8 L1100 1057.9 L1099 1058 L1098 1058.1 L1097 1058.3 L1096 1058.4 L1095 1058.5 L1094 1058.6 L1093 1058.7 L1092 1058.8 L1091 1058.9 L1090 1059 L1089 1059.1 L1088 1059.2 L1087 1059.3 L1086 1059.4 L1085 1059.5 L1084 1059.7 L1083 1059.8 L1082 1059.9 L1081 1060 L1080 1060.1 L1079 1060.2 L1078 1060.3 L1077 1060.4 L1076 1060.5 L1075 1060.6 L1074 1060.7 L1073 1060.8 L1072 1060.9 L1071 1061 L1070 1061.2 L1069 1061.3 L1068 1061.4 L1067 1061.5 L1066 1061.6 L1065 1061.7 L1064 1061.8 L1063 1061.9 L1062 1062 L1061 1062.1 L1060 1062.2 L1059 1062.3 L1058 1062.4 L1057 1062.6 L1056 1062.7 L1055 1062.8 L1054 1062.9 L1053 1063 L1052 1063.1 L1051 1063.2 L1050 1063.3 L1049 1063.4 L1048 1063.5 L1047 1063.6 L1046 1063.7 L1045 1063.8 L1044 1064 L1043 1064.1 L1042 1064.2 L1041 1064.3 L1040 1064.4 L1039 1064.5 L1038 1064.6 L1037 1064.7 L1036 1064.8 L1035 1064.9 L1034 1065 L1033 1065.1 L1032 1065.2 L1031 1065.3 L1030 1065.5 L1029 1065.6 L1028 1065.7 L1027 1065.8 L1026 1065.9 L1025 1066 L1024 1066.1 L1023 1066.2 L1022 1066.3 L1021 1066.4 L1020 1066.5 L1019 1066.6 L1018 1066.7 L1017 1066.9 L1016 1067 L1015 1067.1 L1014 1067.2 L1013 1067.3 L1012 1067.4 L1011 1067.5 L1010 1067.6 L1009 1067.7 L1008 1067.8 L1007 1067.9 L1006 1068 L1005 1068.1 L1004 1068.3 L1003 1068.4 L1002 1068.5 L1001 1068.6 L1000 1068.7 L999 1068.8 L998 1068.9 L997 1069 L996 1069.1 L995 1069.2 L994 1069.3 L993 1069.4 L992 1069.5 L991 1069.7 L990 1069.8 L989 1069.9 L988 1070 L987 1070.1 L986 1070.2 L985 1070.3 L984 1070.4 L983 1070.5 L982 1070.6 L981 1070.7 L980 1070.8 L979 1070.9 L978 1071 L977 1071.2 L976 1071.3 L975 1071.4 L974 1071.5 L973 1071.6 L972 1071.7 L971 1071.8 L970 1071.9 L969 1072 L968 1072.1 L967 1072.2 L966 1072.3 L965 1072.4 L964 1072.6 L963 1072.7 L962 1072.8 L961 1072.9 L960 1073 L959 1073.1 L958 1073.2 L957 1073.3 L956 1073.4 L955 1073.5 L954 1073.6 L953 1073.7 L952 1073.8 L951 1074 L950 1074.1 L949 1074.2 L948 1074.3 L947 1074.4 L946 1074.5 L945 1074.6 L944 1074.7 L943 1074.8 L942 1074.9 L941 1075 L940 1075.1 L939 1075.2 L938 1075.3 L937 1075.5 L936 1075.6 L935 1075.7 L934 1075.8 L933 1075.9 L932 1076 L931 1076.1 L930 1076.2 L929 1076.3 L928 1076.4 L927 1076.5 L926 1076.6 L925 1076.7 L924 1076.9 L923 1077 L922 1077.1 L921 1077.2 L920 1077.3 L919 1077.4 L918 1077.5 L917 1077.6 L916 1077.7 L915 1077.8 L914 1077.9 L913 1078 L912 1078.1 L911 1078.2 L910 1078.4 L909 1078.5 L908 1078.6 L907 1078.7 L906 1078.8 L905 1078.9 L904 1079 L903 1079.1 L902 1079.2 L901 1079.3 L900 1079.4 L899 1079.5 L898 1079.6 L897 1079.8 L896 1079.9 L895 1080 L894 1080.1 L893 1080.2 L892 1080.3 L891 1080.4 L890 1080.5 L889 1080.6 L888 1080.7 L887 1080.8 L886 1080.9 L885 1081 L884 1081.2 L883 1081.3 L882 1081.4 L881 1081.5 L880 1081.6 L879 1081.7 L878 1081.8 L877 1081.9 L876 1082 L875 1082.1 L874 1082.2 L873 1082.3 L872 1082.4 L871 1082.5 L870 1082.7 L869 1082.8 L868 1082.9 L867 1083 L866 1083.1 L865 1083.2 L864 1083.3 L863 1083.4 L862 1083.5 L861 1083.6 L860 1083.7 L859 1083.8 L858 1083.9 L857 1084.1 L856 1084.2 L855 1084.3 L854 1084.4 L853 1084.5 L852 1084.6 L851 1084.7 L850 1084.8 L849 1084.9 L848 1085 L847 1085.1 L846 1085.2 L845 1085.3 L844 1085.5 L843 1085.6 L842 1085.7 L841 1085.8 L840 1085.9 L839 1086 L838 1086.1 L837 1086.2 L836 1086.3 L835 1086.4 L834 1086.5 L833 1086.6 L832 1086.7 L831 1086.8 L830 1087 L829 1087.1 L828 1087.2 L827 1087.3 L826 1087.4 L825 1087.5 L824 1087.6 L823 1087.7 L822 1087.8 L821 1087.9 L820 1088 L819 1088.1 L818 1088.2 L817 1088.4 L816 1088.5 L815 1088.6 L814 1088.7 L813 1088.8 L812 1088.9Z" fill="rgba(10,120,10,0.74)"/>
<path d="M812 1088.5 L813 1088.4 L814 1088.3 L815 1088.1 L816 1088 L817 1087.9 L818 1087.8 L819 1087.7 L820 1087.6 L821 1087.5 L822 1087.3 L823 1087.2 L824 1087.1 L825 1087 L826 1086.9 L827 1086.8 L828 1086.7 L829 1086.5 L830 1086.4 L831 1086.3 L832 1086.2 L833 1086.1 L834 1085.9 L835 1085.8 L836 1085.7 L837 1085.6 L838 1085.5 L839 1085.3 L840 1085.2 L841 1085.1 L842 1085 L843 1084.9 L844 1084.7 L845 1084.6 L846 1084.5 L847 1084.4 L848 1084.3 L849 1084.1 L850 1084 L851 1083.9 L852 1083.8 L853 1083.7 L854 1083.5 L855 1083.4 L856 1083.3 L857 1083.2 L858 1083 L859 1082.9 L860 1082.8 L861 1082.7 L862 1082.6 L863 1082.4 L864 1082.3 L865 1082.2 L866 1082.1 L867 1081.9 L868 1081.8 L869 1081.7 L870 1081.6 L871 1081.5 L872 1081.3 L873 1081.2 L874 1081.1 L875 1081 L876 1080.8 L877 1080.7 L878 1080.6 L879 1080.5 L880 1080.4 L881 1080.2 L882 1080.1 L883 1080 L884 1079.9 L885 1079.7 L886 1079.6 L887 1079.5 L888 1079.4 L889 1079.3 L890 1079.1 L891 1079 L892 1078.9 L893 1078.8 L894 1078.6 L895 1078.5 L896 1078.4 L897 1078.3 L898 1078.1 L899 1078 L900 1077.9 L901 1077.8 L902 1077.7 L903 1077.5 L904 1077.4 L905 1077.3 L906 1077.2 L907 1077 L908 1076.9 L909 1076.8 L910 1076.7 L911 1076.5 L912 1076.4 L913 1076.3 L914 1076.2 L915 1076 L916 1075.9 L917 1075.8 L918 1075.6 L919 1075.5 L920 1075.4 L921 1075.3 L922 1075.1 L923 1075 L924 1074.9 L925 1074.7 L926 1074.6 L927 1074.5 L928 1074.4 L929 1074.2 L930 1074.1 L931 1074 L932 1073.8 L933 1073.7 L934 1073.6 L935 1073.4 L936 1073.3 L937 1073.2 L938 1073 L939 1072.9 L940 1072.8 L941 1072.6 L942 1072.5 L943 1072.4 L944 1072.2 L945 1072.1 L946 1071.9 L947 1071.8 L948 1071.7 L949 1071.5 L950 1071.4 L951 1071.2 L952 1071.1 L953 1071 L954 1070.8 L955 1070.7 L956 1070.5 L957 1070.4 L958 1070.2 L959 1070.1 L960 1069.9 L961 1069.8 L962 1069.6 L963 1069.5 L964 1069.3 L965 1069.2 L966 1069 L967 1068.9 L968 1068.7 L969 1068.6 L970 1068.4 L971 1068.2 L972 1068.1 L973 1067.9 L974 1067.8 L975 1067.6 L976 1067.4 L977 1067.3 L978 1067.1 L979 1066.9 L980 1066.8 L981 1066.6 L982 1066.4 L983 1066.2 L984 1066.1 L985 1065.9 L986 1065.7 L987 1065.5 L988 1065.3 L989 1065.2 L990 1065 L991 1064.8 L992 1064.6 L993 1064.4 L994 1064.2 L995 1064 L996 1063.8 L997 1063.6 L998 1063.4 L999 1063.2 L1000 1063 L1001 1062.8 L1002 1062.6 L1003 1062.4 L1004 1062.1 L1005 1061.9 L1006 1061.7 L1007 1061.4 L1008 1061.2 L1009 1061 L1010 1060.7 L1011 1060.5 L1012 1060.2 L1013 1060 L1014 1059.7 L1015 1059.5 L1016 1059.2 L1017 1058.9 L1018 1058.6 L1019 1058.4 L1020 1058.1 L1021 1057.8 L1022 1057.5 L1023 1057.2 L1024 1056.8 L1025 1056.5 L1026 1056.2 L1027 1055.9 L1028 1055.5 L1029 1055.2 L1030 1054.8 L1031 1054.4 L1032 1054 L1033 1053.6 L1034 1053.2 L1035 1052.8 L1036 1052.4 L1037 1052 L1038 1051.5 L1039 1051 L1040 1050.5 L1041 1050.1 L1042 1049.5 L1043 1049 L1044 1048.5 L1045 1047.9 L1046 1047.3 L1047 1046.7 L1048 1046 L1049 1045.4 L1050 1044.7 L1051 1044 L1052 1043.2 L1053 1042.5 L1054 1041.7 L1055 1040.8 L1056 1039.9 L1057 1039 L1058 1038 L1059 1037 L1060 1036 L1061 1034.9 L1062 1033.7 L1063 1032.5 L1064 1031.3 L1065 1030 L1066 1028.6 L1067 1027.1 L1068 1025.6 L1069 1024 L1070 1022.3 L1071 1020.6 L1072 1018.7 L1073 1016.8 L1074 1014.8 L1075 1012.7 L1076 1010.4 L1077 1008.1 L1078 1005.7 L1079 1003.2 L1080 1000.6 L1081 997.8 L1082 995 L1083 992.1 L1084 989 L1085 985.9 L1086 982.6 L1087 979.3 L1088 976 L1089 972.5 L1090 969 L1091 965.6 L1092 962.1 L1093 958.6 L1094 955.2 L1095 952 L1096 948.8 L1097 945.9 L1098 943.1 L1099 940.7 L1100 938.5 L1101 936.6 L1102 935.2 L1103 934.1 L1104 933.4 L1105 933.2 L1106 933.3 L1107 933.8 L1108 934.6 L1109 935.7 L1110 937 L1111 938.7 L1112 940.6 L1113 942.7 L1114 945 L1115 947.5 L1116 950.1 L1117 952.8 L1118 955.6 L1119 958.5 L1120 961.4 L1121 964.4 L1122 967.3 L1123 970.3 L1124 973.2 L1125 976.1 L1126 978.9 L1127 981.7 L1128 984.4 L1129 987.1 L1130 989.7 L1131 992.2 L1132 994.6 L1133 996.9 L1134 999.2 L1135 1001.3 L1136 1003.4 L1137 1005.4 L1138 1007.3 L1139 1009.2 L1140 1010.9 L1141 1012.6 L1142 1014.2 L1143 1015.7 L1144 1017.2 L1145 1018.6 L1146 1019.9 L1147 1021.1 L1148 1022.3 L1149 1023.4 L1150 1024.4 L1151 1025.4 L1152 1026.4 L1153 1027.3 L1154 1028.1 L1155 1028.9 L1156 1029.6 L1157 1030.3 L1158 1031 L1159 1031.6 L1160 1032.2 L1161 1032.8 L1162 1033.3 L1163 1033.8 L1164 1034.2 L1165 1034.6 L1166 1035 L1167 1035.4 L1168 1035.8 L1169 1036.1 L1170 1036.4 L1171 1036.7 L1172 1037 L1173 1037.2 L1174 1037.5 L1175 1037.7 L1176 1037.9 L1177 1038.1 L1178 1038.3 L1179 1038.5 L1180 1038.6 L1181 1038.8 L1182 1038.9 L1183 1039.1 L1184 1039.2 L1185 1039.3 L1186 1039.4 L1187 1039.5 L1188 1039.6 L1189 1039.7 L1190 1039.8 L1191 1039.9 L1192 1039.9 L1193 1040 L1194 1040 L1195 1040.1 L1196 1040.1 L1197 1040.2 L1198 1040.2 L1199 1040.3 L1200 1040.3 L1201 1040.3 L1202 1040.3 L1203 1040.3 L1204 1040.4 L1205 1040.4 L1206 1040.4 L1207 1040.4 L1208 1040.4 L1209 1040.4 L1210 1040.4 L1211 1040.4 L1212 1040.4 L1213 1040.4 L1214 1040.3 L1215 1040.3 L1216 1040.3 L1217 1040.3 L1218 1040.3 L1219 1040.2 L1220 1040.2 L1221 1040.2 L1222 1040.2 L1223 1040.1 L1224 1040.1 L1225 1040.1 L1226 1040 L1227 1040 L1228 1039.9 L1229 1039.9 L1230 1039.8 L1231 1039.8 L1232 1039.8 L1233 1039.7 L1234 1039.7 L1235 1039.6 L1236 1039.6 L1237 1039.5 L1238 1039.4 L1239 1039.4 L1240 1039.3 L1241 1039.3 L1242 1039.2 L1243 1039.2 L1244 1039.1 L1245 1039 L1246 1039 L1247 1038.9 L1248 1038.8 L1249 1038.8 L1250 1038.7 L1251 1038.7 L1252 1038.6 L1253 1038.5 L1254 1038.4 L1255 1038.4 L1256 1038.3 L1257 1038.2 L1258 1038.2 L1259 1038.1 L1260 1038 L1261 1037.9 L1262 1037.9 L1263 1037.8 L1264 1037.7 L1265 1037.6 L1266 1037.6 L1267 1037.5 L1268 1037.4 L1269 1037.3 L1270 1037.3 L1271 1037.2 L1272 1037.1 L1273 1037 L1274 1036.9 L1275 1036.9 L1276 1036.8 L1277 1036.7 L1278 1036.6 L1279 1036.5 L1280 1036.4 L1281 1036.4 L1282 1036.3 L1283 1036.2 L1284 1036.1 L1285 1036 L1286 1035.9 L1287 1035.8 L1288 1035.8 L1289 1035.7 L1290 1035.6 L1291 1035.5 L1292 1035.4 L1293 1035.3 L1294 1035.2 L1295 1035.1 L1296 1035.1 L1297 1035 L1298 1034.9 L1299 1034.8 L1300 1034.7 L1301 1034.6 L1302 1034.5 L1303 1034.4 L1304 1034.3 L1305 1034.2 L1306 1034.2 L1307 1034.1 L1308 1034 L1309 1033.9 L1310 1033.8 L1311 1033.7 L1312 1033.6 L1313 1033.5 L1314 1033.4 L1315 1033.3 L1316 1033.2 L1317 1033.1 L1318 1033 L1319 1032.9 L1320 1032.9 L1321 1032.8 L1322 1032.7 L1323 1032.6 L1324 1032.5 L1325 1032.4 L1326 1032.3 L1327 1032.2 L1328 1032.1 L1329 1032 L1330 1031.9 L1331 1031.8 L1332 1031.7 L1333 1031.6 L1334 1031.5 L1335 1031.4 L1336 1031.3 L1337 1031.2 L1338 1031.1 L1339 1031 L1340 1030.9 L1341 1030.8 L1342 1030.7 L1343 1030.6 L1344 1030.5 L1345 1030.4 L1346 1030.3 L1347 1030.2 L1348 1030.1 L1349 1030 L1350 1030 L1351 1029.9 L1352 1029.8 L1353 1029.7 L1354 1029.6 L1355 1029.5 L1356 1029.4 L1357 1029.3 L1358 1029.2 L1359 1029.1 L1360 1029 L1361 1028.9 L1362 1028.8 L1363 1028.7 L1364 1028.6 L1365 1028.5 L1366 1028.4 L1367 1028.3 L1368 1028.2 L1369 1028.1 L1370 1028 L1371 1027.9 L1372 1027.8 L1373 1027.7 L1374 1027.6 L1375 1027.5 L1376 1027.4 L1377 1027.3 L1378 1027.2 L1379 1027.1 L1380 1027 L1381 1026.9 L1382 1026.7 L1383 1026.6 L1384 1026.5 L1385 1026.4 L1386 1026.3 L1387 1026.2 L1388 1026.1 L1389 1026 L1390 1025.9 L1391 1025.8 L1392 1025.7 L1393 1025.6 L1394 1025.5" fill="none" stroke="#108A10" stroke-width="2.4"/>
<path d="M812 1087.9 L813 1087.8 L814 1087.7 L815 1087.6 L816 1087.5 L817 1087.3 L818 1087.2 L819 1087.1 L820 1087 L821 1086.8 L822 1086.7 L823 1086.6 L824 1086.5 L825 1086.3 L826 1086.2 L827 1086.1 L828 1085.9 L829 1085.8 L830 1085.7 L831 1085.5 L832 1085.4 L833 1085.3 L834 1085.1 L835 1085 L836 1084.9 L837 1084.7 L838 1084.6 L839 1084.4 L840 1084.3 L841 1084.2 L842 1084 L843 1083.9 L844 1083.7 L845 1083.6 L846 1083.4 L847 1083.3 L848 1083.1 L849 1083 L850 1082.8 L851 1082.7 L852 1082.5 L853 1082.4 L854 1082.2 L855 1082.1 L856 1081.9 L857 1081.8 L858 1081.6 L859 1081.5 L860 1081.3 L861 1081.2 L862 1081 L863 1080.9 L864 1080.7 L865 1080.6 L866 1080.4 L867 1080.3 L868 1080.1 L869 1080 L870 1079.8 L871 1079.7 L872 1079.5 L873 1079.3 L874 1079.2 L875 1079 L876 1078.9 L877 1078.7 L878 1078.6 L879 1078.4 L880 1078.2 L881 1078.1 L882 1077.9 L883 1077.8 L884 1077.6 L885 1077.4 L886 1077.3 L887 1077.1 L888 1077 L889 1076.8 L890 1076.6 L891 1076.5 L892 1076.3 L893 1076.1 L894 1076 L895 1075.8 L896 1075.6 L897 1075.5 L898 1075.3 L899 1075.1 L900 1074.9 L901 1074.8 L902 1074.6 L903 1074.4 L904 1074.2 L905 1074.1 L906 1073.9 L907 1073.7 L908 1073.5 L909 1073.3 L910 1073.2 L911 1073 L912 1072.8 L913 1072.6 L914 1072.4 L915 1072.2 L916 1072 L917 1071.8 L918 1071.6 L919 1071.4 L920 1071.2 L921 1071 L922 1070.8 L923 1070.6 L924 1070.4 L925 1070.1 L926 1069.9 L927 1069.7 L928 1069.5 L929 1069.3 L930 1069 L931 1068.8 L932 1068.6 L933 1068.3 L934 1068.1 L935 1067.8 L936 1067.6 L937 1067.3 L938 1067.1 L939 1066.8 L940 1066.5 L941 1066.3 L942 1066 L943 1065.7 L944 1065.4 L945 1065.1 L946 1064.8 L947 1064.5 L948 1064.2 L949 1063.9 L950 1063.6 L951 1063.3 L952 1062.9 L953 1062.6 L954 1062.2 L955 1061.9 L956 1061.5 L957 1061.1 L958 1060.8 L959 1060.4 L960 1060 L961 1059.6 L962 1059.1 L963 1058.7 L964 1058.3 L965 1057.8 L966 1057.3 L967 1056.8 L968 1056.3 L969 1055.8 L970 1055.3 L971 1054.7 L972 1054.2 L973 1053.6 L974 1053 L975 1052.3 L976 1051.7 L977 1051 L978 1050.3 L979 1049.6 L980 1048.8 L981 1048 L982 1047.2 L983 1046.3 L984 1045.4 L985 1044.5 L986 1043.5 L987 1042.5 L988 1041.4 L989 1040.3 L990 1039.1 L991 1037.9 L992 1036.6 L993 1035.3 L994 1033.9 L995 1032.4 L996 1030.8 L997 1029.2 L998 1027.5 L999 1025.8 L1000 1023.9 L1001 1022 L1002 1019.9 L1003 1017.8 L1004 1015.6 L1005 1013.2 L1006 1010.8 L1007 1008.2 L1008 1005.6 L1009 1002.8 L1010 999.9 L1011 996.9 L1012 993.8 L1013 990.6 L1014 987.2 L1015 983.7 L1016 980.1 L1017 976.4 L1018 972.6 L1019 968.7 L1020 964.7 L1021 960.6 L1022 956.5 L1023 952.2 L1024 948 L1025 943.7 L1026 939.5 L1027 935.3 L1028 931.2 L1029 927.1 L1030 923.2 L1031 919.5 L1032 916.1 L1033 912.9 L1034 910 L1035 907.4 L1036 905.2 L1037 903.5 L1038 902.2 L1039 901.3 L1040 900.9 L1041 901.1 L1042 902.1 L1043 903.8 L1044 906.1 L1045 909 L1046 912.4 L1047 916.3 L1048 920.6 L1049 925.2 L1050 929.9 L1051 934.8 L1052 939.8 L1053 944.7 L1054 949.6 L1055 954.5 L1056 959.2 L1057 963.8 L1058 968.2 L1059 972.5 L1060 976.5 L1061 980.4 L1062 984.1 L1063 987.6 L1064 991 L1065 994.1 L1066 997.1 L1067 999.9 L1068 1002.6 L1069 1005.1 L1070 1007.5 L1071 1009.7 L1072 1011.8 L1073 1013.8 L1074 1015.7 L1075 1017.5 L1076 1019.1 L1077 1020.7 L1078 1022.2 L1079 1023.5 L1080 1024.9 L1081 1026.1 L1082 1027.3 L1083 1028.4 L1084 1029.4 L1085 1030.4 L1086 1031.3 L1087 1032.2 L1088 1033.1 L1089 1033.8 L1090 1034.6 L1091 1035.3 L1092 1036 L1093 1036.6 L1094 1037.2 L1095 1037.8 L1096 1038.3 L1097 1038.8 L1098 1039.3 L1099 1039.7 L1100 1040.2 L1101 1040.6 L1102 1041 L1103 1041.3 L1104 1041.7 L1105 1042 L1106 1042.3 L1107 1042.6 L1108 1042.9 L1109 1043.2 L1110 1043.4 L1111 1043.7 L1112 1043.9 L1113 1044.1 L1114 1044.3 L1115 1044.5 L1116 1044.7 L1117 1044.8 L1118 1045 L1119 1045.2 L1120 1045.3 L1121 1045.4 L1122 1045.6 L1123 1045.7 L1124 1045.8 L1125 1045.9 L1126 1046 L1127 1046.1 L1128 1046.2 L1129 1046.2 L1130 1046.3 L1131 1046.4 L1132 1046.4 L1133 1046.5 L1134 1046.5 L1135 1046.6 L1136 1046.6 L1137 1046.7 L1138 1046.7 L1139 1046.7 L1140 1046.8 L1141 1046.8 L1142 1046.8 L1143 1046.8 L1144 1046.8 L1145 1046.8 L1146 1046.8 L1147 1046.8 L1148 1046.8 L1149 1046.8 L1150 1046.8 L1151 1046.8 L1152 1046.8 L1153 1046.8 L1154 1046.8 L1155 1046.8 L1156 1046.8 L1157 1046.7 L1158 1046.7 L1159 1046.7 L1160 1046.7 L1161 1046.6 L1162 1046.6 L1163 1046.6 L1164 1046.5 L1165 1046.5 L1166 1046.4 L1167 1046.4 L1168 1046.4 L1169 1046.3 L1170 1046.3 L1171 1046.2 L1172 1046.2 L1173 1046.1 L1174 1046.1 L1175 1046 L1176 1046 L1177 1045.9 L1178 1045.9 L1179 1045.8 L1180 1045.8 L1181 1045.7 L1182 1045.6 L1183 1045.6 L1184 1045.5 L1185 1045.5 L1186 1045.4 L1187 1045.3 L1188 1045.3 L1189 1045.2 L1190 1045.1 L1191 1045.1 L1192 1045 L1193 1044.9 L1194 1044.9 L1195 1044.8 L1196 1044.7 L1197 1044.6 L1198 1044.6 L1199 1044.5 L1200 1044.4 L1201 1044.4 L1202 1044.3 L1203 1044.2 L1204 1044.1 L1205 1044.1 L1206 1044 L1207 1043.9 L1208 1043.8 L1209 1043.7 L1210 1043.7 L1211 1043.6 L1212 1043.5 L1213 1043.4 L1214 1043.3 L1215 1043.3 L1216 1043.2 L1217 1043.1 L1218 1043 L1219 1042.9 L1220 1042.9 L1221 1042.8 L1222 1042.7 L1223 1042.6 L1224 1042.5 L1225 1042.4 L1226 1042.3 L1227 1042.3 L1228 1042.2 L1229 1042.1 L1230 1042 L1231 1041.9 L1232 1041.8 L1233 1041.7 L1234 1041.6 L1235 1041.6 L1236 1041.5 L1237 1041.4 L1238 1041.3 L1239 1041.2 L1240 1041.1 L1241 1041 L1242 1040.9 L1243 1040.8 L1244 1040.7 L1245 1040.7 L1246 1040.6 L1247 1040.5 L1248 1040.4 L1249 1040.3 L1250 1040.2 L1251 1040.1 L1252 1040 L1253 1039.9 L1254 1039.8 L1255 1039.7 L1256 1039.6 L1257 1039.5 L1258 1039.5 L1259 1039.4 L1260 1039.3 L1261 1039.2 L1262 1039.1 L1263 1039 L1264 1038.9 L1265 1038.8 L1266 1038.7 L1267 1038.6 L1268 1038.5 L1269 1038.4 L1270 1038.3 L1271 1038.2 L1272 1038.1 L1273 1038 L1274 1037.9 L1275 1037.8 L1276 1037.7 L1277 1037.6 L1278 1037.5 L1279 1037.4 L1280 1037.3 L1281 1037.3 L1282 1037.2 L1283 1037.1 L1284 1037 L1285 1036.9 L1286 1036.8 L1287 1036.7 L1288 1036.6 L1289 1036.5 L1290 1036.4 L1291 1036.3 L1292 1036.2 L1293 1036.1 L1294 1036 L1295 1035.9 L1296 1035.8 L1297 1035.7 L1298 1035.6 L1299 1035.5 L1300 1035.4 L1301 1035.3 L1302 1035.2 L1303 1035.1 L1304 1035 L1305 1034.9 L1306 1034.8 L1307 1034.7 L1308 1034.6 L1309 1034.5 L1310 1034.4 L1311 1034.3 L1312 1034.2 L1313 1034.1 L1314 1034 L1315 1033.9 L1316 1033.8 L1317 1033.7 L1318 1033.6 L1319 1033.5 L1320 1033.4 L1321 1033.3 L1322 1033.2 L1323 1033.1 L1324 1033 L1325 1032.9 L1326 1032.8 L1327 1032.7 L1328 1032.6 L1329 1032.5 L1330 1032.4 L1331 1032.3 L1332 1032.2 L1333 1032.1 L1334 1032 L1335 1031.9 L1336 1031.7 L1337 1031.6 L1338 1031.5 L1339 1031.4 L1340 1031.3 L1341 1031.2 L1342 1031.1 L1343 1031 L1344 1030.9 L1345 1030.8 L1346 1030.7 L1347 1030.6 L1348 1030.5 L1349 1030.4 L1350 1030.3 L1351 1030.2 L1352 1030.1 L1353 1030 L1354 1029.9 L1355 1029.8 L1356 1029.7 L1357 1029.6 L1358 1029.5 L1359 1029.4 L1360 1029.3 L1361 1029.2 L1362 1029.1 L1363 1029 L1364 1028.9 L1365 1028.8 L1366 1028.7 L1367 1028.6 L1368 1028.5 L1369 1028.4 L1370 1028.3 L1371 1028.1 L1372 1028 L1373 1027.9 L1374 1027.8 L1375 1027.7 L1376 1027.6 L1377 1027.5 L1378 1027.4 L1379 1027.3 L1380 1027.2 L1381 1027.1 L1382 1027 L1383 1026.9 L1384 1026.8 L1385 1026.7 L1386 1026.6 L1387 1026.5 L1388 1026.4 L1389 1026.3 L1390 1026.2 L1391 1026.1 L1392 1026 L1393 1025.9 L1394 1025.8 L1394 1026.3 L1393 1026.4 L1392 1026.5 L1391 1026.7 L1390 1026.8 L1389 1026.9 L1388 1027 L1387 1027.1 L1386 1027.2 L1385 1027.3 L1384 1027.4 L1383 1027.5 L1382 1027.6 L1381 1027.7 L1380 1027.8 L1379 1027.9 L1378 1028 L1377 1028.2 L1376 1028.3 L1375 1028.4 L1374 1028.5 L1373 1028.6 L1372 1028.7 L1371 1028.8 L1370 1028.9 L1369 1029 L1368 1029.1 L1367 1029.2 L1366 1029.3 L1365 1029.4 L1364 1029.6 L1363 1029.7 L1362 1029.8 L1361 1029.9 L1360 1030 L1359 1030.1 L1358 1030.2 L1357 1030.3 L1356 1030.4 L1355 1030.5 L1354 1030.6 L1353 1030.7 L1352 1030.8 L1351 1031 L1350 1031.1 L1349 1031.2 L1348 1031.3 L1347 1031.4 L1346 1031.5 L1345 1031.6 L1344 1031.7 L1343 1031.8 L1342 1031.9 L1341 1032 L1340 1032.1 L1339 1032.2 L1338 1032.3 L1337 1032.5 L1336 1032.6 L1335 1032.7 L1334 1032.8 L1333 1032.9 L1332 1033 L1331 1033.1 L1330 1033.2 L1329 1033.3 L1328 1033.4 L1327 1033.5 L1326 1033.6 L1325 1033.7 L1324 1033.9 L1323 1034 L1322 1034.1 L1321 1034.2 L1320 1034.3 L1319 1034.4 L1318 1034.5 L1317 1034.6 L1316 1034.7 L1315 1034.8 L1314 1034.9 L1313 1035 L1312 1035.1 L1311 1035.2 L1310 1035.4 L1309 1035.5 L1308 1035.6 L1307 1035.7 L1306 1035.8 L1305 1035.9 L1304 1036 L1303 1036.1 L1302 1036.2 L1301 1036.3 L1300 1036.4 L1299 1036.5 L1298 1036.6 L1297 1036.8 L1296 1036.9 L1295 1037 L1294 1037.1 L1293 1037.2 L1292 1037.3 L1291 1037.4 L1290 1037.5 L1289 1037.6 L1288 1037.7 L1287 1037.8 L1286 1037.9 L1285 1038 L1284 1038.2 L1283 1038.3 L1282 1038.4 L1281 1038.5 L1280 1038.6 L1279 1038.7 L1278 1038.8 L1277 1038.9 L1276 1039 L1275 1039.1 L1274 1039.2 L1273 1039.3 L1272 1039.4 L1271 1039.5 L1270 1039.7 L1269 1039.8 L1268 1039.9 L1267 1040 L1266 1040.1 L1265 1040.2 L1264 1040.3 L1263 1040.4 L1262 1040.5 L1261 1040.6 L1260 1040.7 L1259 1040.8 L1258 1040.9 L1257 1041.1 L1256 1041.2 L1255 1041.3 L1254 1041.4 L1253 1041.5 L1252 1041.6 L1251 1041.7 L1250 1041.8 L1249 1041.9 L1248 1042 L1247 1042.1 L1246 1042.2 L1245 1042.3 L1244 1042.5 L1243 1042.6 L1242 1042.7 L1241 1042.8 L1240 1042.9 L1239 1043 L1238 1043.1 L1237 1043.2 L1236 1043.3 L1235 1043.4 L1234 1043.5 L1233 1043.6 L1232 1043.7 L1231 1043.8 L1230 1044 L1229 1044.1 L1228 1044.2 L1227 1044.3 L1226 1044.4 L1225 1044.5 L1224 1044.6 L1223 1044.7 L1222 1044.8 L1221 1044.9 L1220 1045 L1219 1045.1 L1218 1045.2 L1217 1045.4 L1216 1045.5 L1215 1045.6 L1214 1045.7 L1213 1045.8 L1212 1045.9 L1211 1046 L1210 1046.1 L1209 1046.2 L1208 1046.3 L1207 1046.4 L1206 1046.5 L1205 1046.6 L1204 1046.8 L1203 1046.9 L1202 1047 L1201 1047.1 L1200 1047.2 L1199 1047.3 L1198 1047.4 L1197 1047.5 L1196 1047.6 L1195 1047.7 L1194 1047.8 L1193 1047.9 L1192 1048 L1191 1048.2 L1190 1048.3 L1189 1048.4 L1188 1048.5 L1187 1048.6 L1186 1048.7 L1185 1048.8 L1184 1048.9 L1183 1049 L1182 1049.1 L1181 1049.2 L1180 1049.3 L1179 1049.4 L1178 1049.5 L1177 1049.7 L1176 1049.8 L1175 1049.9 L1174 1050 L1173 1050.1 L1172 1050.2 L1171 1050.3 L1170 1050.4 L1169 1050.5 L1168 1050.6 L1167 1050.7 L1166 1050.8 L1165 1050.9 L1164 1051.1 L1163 1051.2 L1162 1051.3 L1161 1051.4 L1160 1051.5 L1159 1051.6 L1158 1051.7 L1157 1051.8 L1156 1051.9 L1155 1052 L1154 1052.1 L1153 1052.2 L1152 1052.3 L1151 1052.5 L1150 1052.6 L1149 1052.7 L1148 1052.8 L1147 1052.9 L1146 1053 L1145 1053.1 L1144 1053.2 L1143 1053.3 L1142 1053.4 L1141 1053.5 L1140 1053.6 L1139 1053.7 L1138 1053.8 L1137 1054 L1136 1054.1 L1135 1054.2 L1134 1054.3 L1133 1054.4 L1132 1054.5 L1131 1054.6 L1130 1054.7 L1129 1054.8 L1128 1054.9 L1127 1055 L1126 1055.1 L1125 1055.2 L1124 1055.4 L1123 1055.5 L1122 1055.6 L1121 1055.7 L1120 1055.8 L1119 1055.9 L1118 1056 L1117 1056.1 L1116 1056.2 L1115 1056.3 L1114 1056.4 L1113 1056.5 L1112 1056.6 L1111 1056.8 L1110 1056.9 L1109 1057 L1108 1057.1 L1107 1057.2 L1106 1057.3 L1105 1057.4 L1104 1057.5 L1103 1057.6 L1102 1057.7 L1101 1057.8 L1100 1057.9 L1099 1058 L1098 1058.1 L1097 1058.3 L1096 1058.4 L1095 1058.5 L1094 1058.6 L1093 1058.7 L1092 1058.8 L1091 1058.9 L1090 1059 L1089 1059.1 L1088 1059.2 L1087 1059.3 L1086 1059.4 L1085 1059.5 L1084 1059.7 L1083 1059.8 L1082 1059.9 L1081 1060 L1080 1060.1 L1079 1060.2 L1078 1060.3 L1077 1060.4 L1076 1060.5 L1075 1060.6 L1074 1060.7 L1073 1060.8 L1072 1060.9 L1071 1061 L1070 1061.2 L1069 1061.3 L1068 1061.4 L1067 1061.5 L1066 1061.6 L1065 1061.7 L1064 1061.8 L1063 1061.9 L1062 1062 L1061 1062.1 L1060 1062.2 L1059 1062.3 L1058 1062.4 L1057 1062.6 L1056 1062.7 L1055 1062.8 L1054 1062.9 L1053 1063 L1052 1063.1 L1051 1063.2 L1050 1063.3 L1049 1063.4 L1048 1063.5 L1047 1063.6 L1046 1063.7 L1045 1063.8 L1044 1064 L1043 1064.1 L1042 1064.2 L1041 1064.3 L1040 1064.4 L1039 1064.5 L1038 1064.6 L1037 1064.7 L1036 1064.8 L1035 1064.9 L1034 1065 L1033 1065.1 L1032 1065.2 L1031 1065.3 L1030 1065.5 L1029 1065.6 L1028 1065.7 L1027 1065.8 L1026 1065.9 L1025 1066 L1024 1066.1 L1023 1066.2 L1022 1066.3 L1021 1066.4 L1020 1066.5 L1019 1066.6 L1018 1066.7 L1017 1066.9 L1016 1067 L1015 1067.1 L1014 1067.2 L1013 1067.3 L1012 1067.4 L1011 1067.5 L1010 1067.6 L1009 1067.7 L1008 1067.8 L1007 1067.9 L1006 1068 L1005 1068.1 L1004 1068.3 L1003 1068.4 L1002 1068.5 L1001 1068.6 L1000 1068.7 L999 1068.8 L998 1068.9 L997 1069 L996 1069.1 L995 1069.2 L994 1069.3 L993 1069.4 L992 1069.5 L991 1069.7 L990 1069.8 L989 1069.9 L988 1070 L987 1070.1 L986 1070.2 L985 1070.3 L984 1070.4 L983 1070.5 L982 1070.6 L981 1070.7 L980 1070.8 L979 1070.9 L978 1071 L977 1071.2 L976 1071.3 L975 1071.4 L974 1071.5 L973 1071.6 L972 1071.7 L971 1071.8 L970 1071.9 L969 1072 L968 1072.1 L967 1072.2 L966 1072.3 L965 1072.4 L964 1072.6 L963 1072.7 L962 1072.8 L961 1072.9 L960 1073 L959 1073.1 L958 1073.2 L957 1073.3 L956 1073.4 L955 1073.5 L954 1073.6 L953 1073.7 L952 1073.8 L951 1074 L950 1074.1 L949 1074.2 L948 1074.3 L947 1074.4 L946 1074.5 L945 1074.6 L944 1074.7 L943 1074.8 L942 1074.9 L941 1075 L940 1075.1 L939 1075.2 L938 1075.3 L937 1075.5 L936 1075.6 L935 1075.7 L934 1075.8 L933 1075.9 L932 1076 L931 1076.1 L930 1076.2 L929 1076.3 L928 1076.4 L927 1076.5 L926 1076.6 L925 1076.7 L924 1076.9 L923 1077 L922 1077.1 L921 1077.2 L920 1077.3 L919 1077.4 L918 1077.5 L917 1077.6 L916 1077.7 L915 1077.8 L914 1077.9 L913 1078 L912 1078.1 L911 1078.2 L910 1078.4 L909 1078.5 L908 1078.6 L907 1078.7 L906 1078.8 L905 1078.9 L904 1079 L903 1079.1 L902 1079.2 L901 1079.3 L900 1079.4 L899 1079.5 L898 1079.6 L897 1079.8 L896 1079.9 L895 1080 L894 1080.1 L893 1080.2 L892 1080.3 L891 1080.4 L890 1080.5 L889 1080.6 L888 1080.7 L887 1080.8 L886 1080.9 L885 1081 L884 1081.2 L883 1081.3 L882 1081.4 L881 1081.5 L880 1081.6 L879 1081.7 L878 1081.8 L877 1081.9 L876 1082 L875 1082.1 L874 1082.2 L873 1082.3 L872 1082.4 L871 1082.5 L870 1082.7 L869 1082.8 L868 1082.9 L867 1083 L866 1083.1 L865 1083.2 L864 1083.3 L863 1083.4 L862 1083.5 L861 1083.6 L860 1083.7 L859 1083.8 L858 1083.9 L857 1084.1 L856 1084.2 L855 1084.3 L854 1084.4 L853 1084.5 L852 1084.6 L851 1084.7 L850 1084.8 L849 1084.9 L848 1085 L847 1085.1 L846 1085.2 L845 1085.3 L844 1085.5 L843 1085.6 L842 1085.7 L841 1085.8 L840 1085.9 L839 1086 L838 1086.1 L837 1086.2 L836 1086.3 L835 1086.4 L834 1086.5 L833 1086.6 L832 1086.7 L831 1086.8 L830 1087 L829 1087.1 L828 1087.2 L827 1087.3 L826 1087.4 L825 1087.5 L824 1087.6 L823 1087.7 L822 1087.8 L821 1087.9 L820 1088 L819 1088.1 L818 1088.2 L817 1088.4 L816 1088.5 L815 1088.6 L814 1088.7 L813 1088.8 L812 1088.9Z" fill="rgba(237,131,23,0.85)"/>
<path d="M812 1087.9 L813 1087.8 L814 1087.7 L815 1087.6 L816 1087.5 L817 1087.3 L818 1087.2 L819 1087.1 L820 1087 L821 1086.8 L822 1086.7 L823 1086.6 L824 1086.5 L825 1086.3 L826 1086.2 L827 1086.1 L828 1085.9 L829 1085.8 L830 1085.7 L831 1085.5 L832 1085.4 L833 1085.3 L834 1085.1 L835 1085 L836 1084.9 L837 1084.7 L838 1084.6 L839 1084.4 L840 1084.3 L841 1084.2 L842 1084 L843 1083.9 L844 1083.7 L845 1083.6 L846 1083.4 L847 1083.3 L848 1083.1 L849 1083 L850 1082.8 L851 1082.7 L852 1082.5 L853 1082.4 L854 1082.2 L855 1082.1 L856 1081.9 L857 1081.8 L858 1081.6 L859 1081.5 L860 1081.3 L861 1081.2 L862 1081 L863 1080.9 L864 1080.7 L865 1080.6 L866 1080.4 L867 1080.3 L868 1080.1 L869 1080 L870 1079.8 L871 1079.7 L872 1079.5 L873 1079.3 L874 1079.2 L875 1079 L876 1078.9 L877 1078.7 L878 1078.6 L879 1078.4 L880 1078.2 L881 1078.1 L882 1077.9 L883 1077.8 L884 1077.6 L885 1077.4 L886 1077.3 L887 1077.1 L888 1077 L889 1076.8 L890 1076.6 L891 1076.5 L892 1076.3 L893 1076.1 L894 1076 L895 1075.8 L896 1075.6 L897 1075.5 L898 1075.3 L899 1075.1 L900 1074.9 L901 1074.8 L902 1074.6 L903 1074.4 L904 1074.2 L905 1074.1 L906 1073.9 L907 1073.7 L908 1073.5 L909 1073.3 L910 1073.2 L911 1073 L912 1072.8 L913 1072.6 L914 1072.4 L915 1072.2 L916 1072 L917 1071.8 L918 1071.6 L919 1071.4 L920 1071.2 L921 1071 L922 1070.8 L923 1070.6 L924 1070.4 L925 1070.1 L926 1069.9 L927 1069.7 L928 1069.5 L929 1069.3 L930 1069 L931 1068.8 L932 1068.6 L933 1068.3 L934 1068.1 L935 1067.8 L936 1067.6 L937 1067.3 L938 1067.1 L939 1066.8 L940 1066.5 L941 1066.3 L942 1066 L943 1065.7 L944 1065.4 L945 1065.1 L946 1064.8 L947 1064.5 L948 1064.2 L949 1063.9 L950 1063.6 L951 1063.3 L952 1062.9 L953 1062.6 L954 1062.2 L955 1061.9 L956 1061.5 L957 1061.1 L958 1060.8 L959 1060.4 L960 1060 L961 1059.6 L962 1059.1 L963 1058.7 L964 1058.3 L965 1057.8 L966 1057.3 L967 1056.8 L968 1056.3 L969 1055.8 L970 1055.3 L971 1054.7 L972 1054.2 L973 1053.6 L974 1053 L975 1052.3 L976 1051.7 L977 1051 L978 1050.3 L979 1049.6 L980 1048.8 L981 1048 L982 1047.2 L983 1046.3 L984 1045.4 L985 1044.5 L986 1043.5 L987 1042.5 L988 1041.4 L989 1040.3 L990 1039.1 L991 1037.9 L992 1036.6 L993 1035.3 L994 1033.9 L995 1032.4 L996 1030.8 L997 1029.2 L998 1027.5 L999 1025.8 L1000 1023.9 L1001 1022 L1002 1019.9 L1003 1017.8 L1004 1015.6 L1005 1013.2 L1006 1010.8 L1007 1008.2 L1008 1005.6 L1009 1002.8 L1010 999.9 L1011 996.9 L1012 993.8 L1013 990.6 L1014 987.2 L1015 983.7 L1016 980.1 L1017 976.4 L1018 972.6 L1019 968.7 L1020 964.7 L1021 960.6 L1022 956.5 L1023 952.2 L1024 948 L1025 943.7 L1026 939.5 L1027 935.3 L1028 931.2 L1029 927.1 L1030 923.2 L1031 919.5 L1032 916.1 L1033 912.9 L1034 910 L1035 907.4 L1036 905.2 L1037 903.5 L1038 902.2 L1039 901.3 L1040 900.9 L1041 901.1 L1042 902.1 L1043 903.8 L1044 906.1 L1045 909 L1046 912.4 L1047 916.3 L1048 920.6 L1049 925.2 L1050 929.9 L1051 934.8 L1052 939.8 L1053 944.7 L1054 949.6 L1055 954.5 L1056 959.2 L1057 963.8 L1058 968.2 L1059 972.5 L1060 976.5 L1061 980.4 L1062 984.1 L1063 987.6 L1064 991 L1065 994.1 L1066 997.1 L1067 999.9 L1068 1002.6 L1069 1005.1 L1070 1007.5 L1071 1009.7 L1072 1011.8 L1073 1013.8 L1074 1015.7 L1075 1017.5 L1076 1019.1 L1077 1020.7 L1078 1022.2 L1079 1023.5 L1080 1024.9 L1081 1026.1 L1082 1027.3 L1083 1028.4 L1084 1029.4 L1085 1030.4 L1086 1031.3 L1087 1032.2 L1088 1033.1 L1089 1033.8 L1090 1034.6 L1091 1035.3 L1092 1036 L1093 1036.6 L1094 1037.2 L1095 1037.8 L1096 1038.3 L1097 1038.8 L1098 1039.3 L1099 1039.7 L1100 1040.2 L1101 1040.6 L1102 1041 L1103 1041.3 L1104 1041.7 L1105 1042 L1106 1042.3 L1107 1042.6 L1108 1042.9 L1109 1043.2 L1110 1043.4 L1111 1043.7 L1112 1043.9 L1113 1044.1 L1114 1044.3 L1115 1044.5 L1116 1044.7 L1117 1044.8 L1118 1045 L1119 1045.2 L1120 1045.3 L1121 1045.4 L1122 1045.6 L1123 1045.7 L1124 1045.8 L1125 1045.9 L1126 1046 L1127 1046.1 L1128 1046.2 L1129 1046.2 L1130 1046.3 L1131 1046.4 L1132 1046.4 L1133 1046.5 L1134 1046.5 L1135 1046.6 L1136 1046.6 L1137 1046.7 L1138 1046.7 L1139 1046.7 L1140 1046.8 L1141 1046.8 L1142 1046.8 L1143 1046.8 L1144 1046.8 L1145 1046.8 L1146 1046.8 L1147 1046.8 L1148 1046.8 L1149 1046.8 L1150 1046.8 L1151 1046.8 L1152 1046.8 L1153 1046.8 L1154 1046.8 L1155 1046.8 L1156 1046.8 L1157 1046.7 L1158 1046.7 L1159 1046.7 L1160 1046.7 L1161 1046.6 L1162 1046.6 L1163 1046.6 L1164 1046.5 L1165 1046.5 L1166 1046.4 L1167 1046.4 L1168 1046.4 L1169 1046.3 L1170 1046.3 L1171 1046.2 L1172 1046.2 L1173 1046.1 L1174 1046.1 L1175 1046 L1176 1046 L1177 1045.9 L1178 1045.9 L1179 1045.8 L1180 1045.8 L1181 1045.7 L1182 1045.6 L1183 1045.6 L1184 1045.5 L1185 1045.5 L1186 1045.4 L1187 1045.3 L1188 1045.3 L1189 1045.2 L1190 1045.1 L1191 1045.1 L1192 1045 L1193 1044.9 L1194 1044.9 L1195 1044.8 L1196 1044.7 L1197 1044.6 L1198 1044.6 L1199 1044.5 L1200 1044.4 L1201 1044.4 L1202 1044.3 L1203 1044.2 L1204 1044.1 L1205 1044.1 L1206 1044 L1207 1043.9 L1208 1043.8 L1209 1043.7 L1210 1043.7 L1211 1043.6 L1212 1043.5 L1213 1043.4 L1214 1043.3 L1215 1043.3 L1216 1043.2 L1217 1043.1 L1218 1043 L1219 1042.9 L1220 1042.9 L1221 1042.8 L1222 1042.7 L1223 1042.6 L1224 1042.5 L1225 1042.4 L1226 1042.3 L1227 1042.3 L1228 1042.2 L1229 1042.1 L1230 1042 L1231 1041.9 L1232 1041.8 L1233 1041.7 L1234 1041.6 L1235 1041.6 L1236 1041.5 L1237 1041.4 L1238 1041.3 L1239 1041.2 L1240 1041.1 L1241 1041 L1242 1040.9 L1243 1040.8 L1244 1040.7 L1245 1040.7 L1246 1040.6 L1247 1040.5 L1248 1040.4 L1249 1040.3 L1250 1040.2 L1251 1040.1 L1252 1040 L1253 1039.9 L1254 1039.8 L1255 1039.7 L1256 1039.6 L1257 1039.5 L1258 1039.5 L1259 1039.4 L1260 1039.3 L1261 1039.2 L1262 1039.1 L1263 1039 L1264 1038.9 L1265 1038.8 L1266 1038.7 L1267 1038.6 L1268 1038.5 L1269 1038.4 L1270 1038.3 L1271 1038.2 L1272 1038.1 L1273 1038 L1274 1037.9 L1275 1037.8 L1276 1037.7 L1277 1037.6 L1278 1037.5 L1279 1037.4 L1280 1037.3 L1281 1037.3 L1282 1037.2 L1283 1037.1 L1284 1037 L1285 1036.9 L1286 1036.8 L1287 1036.7 L1288 1036.6 L1289 1036.5 L1290 1036.4 L1291 1036.3 L1292 1036.2 L1293 1036.1 L1294 1036 L1295 1035.9 L1296 1035.8 L1297 1035.7 L1298 1035.6 L1299 1035.5 L1300 1035.4 L1301 1035.3 L1302 1035.2 L1303 1035.1 L1304 1035 L1305 1034.9 L1306 1034.8 L1307 1034.7 L1308 1034.6 L1309 1034.5 L1310 1034.4 L1311 1034.3 L1312 1034.2 L1313 1034.1 L1314 1034 L1315 1033.9 L1316 1033.8 L1317 1033.7 L1318 1033.6 L1319 1033.5 L1320 1033.4 L1321 1033.3 L1322 1033.2 L1323 1033.1 L1324 1033 L1325 1032.9 L1326 1032.8 L1327 1032.7 L1328 1032.6 L1329 1032.5 L1330 1032.4 L1331 1032.3 L1332 1032.2 L1333 1032.1 L1334 1032 L1335 1031.9 L1336 1031.7 L1337 1031.6 L1338 1031.5 L1339 1031.4 L1340 1031.3 L1341 1031.2 L1342 1031.1 L1343 1031 L1344 1030.9 L1345 1030.8 L1346 1030.7 L1347 1030.6 L1348 1030.5 L1349 1030.4 L1350 1030.3 L1351 1030.2 L1352 1030.1 L1353 1030 L1354 1029.9 L1355 1029.8 L1356 1029.7 L1357 1029.6 L1358 1029.5 L1359 1029.4 L1360 1029.3 L1361 1029.2 L1362 1029.1 L1363 1029 L1364 1028.9 L1365 1028.8 L1366 1028.7 L1367 1028.6 L1368 1028.5 L1369 1028.4 L1370 1028.3 L1371 1028.1 L1372 1028 L1373 1027.9 L1374 1027.8 L1375 1027.7 L1376 1027.6 L1377 1027.5 L1378 1027.4 L1379 1027.3 L1380 1027.2 L1381 1027.1 L1382 1027 L1383 1026.9 L1384 1026.8 L1385 1026.7 L1386 1026.6 L1387 1026.5 L1388 1026.4 L1389 1026.3 L1390 1026.2 L1391 1026.1 L1392 1026 L1393 1025.9 L1394 1025.8" fill="none" stroke="#FF8410" stroke-width="1.8"/>
<path d="M812 1086.7 L813 1086.6 L814 1086.4 L815 1086.3 L816 1086.2 L817 1086 L818 1085.9 L819 1085.7 L820 1085.6 L821 1085.4 L822 1085.2 L823 1085.1 L824 1084.9 L825 1084.8 L826 1084.6 L827 1084.4 L828 1084.2 L829 1084.1 L830 1083.9 L831 1083.7 L832 1083.5 L833 1083.3 L834 1083.1 L835 1082.9 L836 1082.7 L837 1082.5 L838 1082.3 L839 1082.1 L840 1081.9 L841 1081.7 L842 1081.5 L843 1081.2 L844 1081 L845 1080.8 L846 1080.6 L847 1080.3 L848 1080.1 L849 1079.9 L850 1079.6 L851 1079.4 L852 1079.2 L853 1078.9 L854 1078.7 L855 1078.4 L856 1078.2 L857 1077.9 L858 1077.7 L859 1077.4 L860 1077.1 L861 1076.9 L862 1076.6 L863 1076.3 L864 1076 L865 1075.8 L866 1075.5 L867 1075.2 L868 1074.9 L869 1074.6 L870 1074.3 L871 1074 L872 1073.7 L873 1073.4 L874 1073.1 L875 1072.8 L876 1072.5 L877 1072.2 L878 1071.9 L879 1071.5 L880 1071.2 L881 1070.9 L882 1070.5 L883 1070.2 L884 1069.8 L885 1069.5 L886 1069.1 L887 1068.7 L888 1068.3 L889 1068 L890 1067.6 L891 1067.2 L892 1066.8 L893 1066.3 L894 1065.9 L895 1065.5 L896 1065 L897 1064.6 L898 1064.1 L899 1063.7 L900 1063.2 L901 1062.7 L902 1062.2 L903 1061.7 L904 1061.1 L905 1060.6 L906 1060.1 L907 1059.5 L908 1058.9 L909 1058.3 L910 1057.7 L911 1057 L912 1056.4 L913 1055.7 L914 1055 L915 1054.3 L916 1053.6 L917 1052.8 L918 1052.1 L919 1051.3 L920 1050.5 L921 1049.6 L922 1048.7 L923 1047.8 L924 1046.9 L925 1045.9 L926 1044.9 L927 1043.9 L928 1042.9 L929 1041.8 L930 1040.6 L931 1039.5 L932 1038.3 L933 1037 L934 1035.8 L935 1034.4 L936 1033.1 L937 1031.7 L938 1030.2 L939 1028.7 L940 1027.2 L941 1025.6 L942 1024 L943 1022.3 L944 1020.6 L945 1018.8 L946 1017 L947 1015.2 L948 1013.3 L949 1011.3 L950 1009.4 L951 1007.4 L952 1005.3 L953 1003.3 L954 1001.2 L955 999.1 L956 997.1 L957 995 L958 992.9 L959 990.9 L960 988.9 L961 986.9 L962 985.1 L963 983.2 L964 981.5 L965 979.8 L966 978.3 L967 976.9 L968 975.6 L969 974.5 L970 973.5 L971 972.7 L972 972 L973 971.5 L974 971.3 L975 971.2 L976 971.2 L977 971.5 L978 972 L979 972.7 L980 973.6 L981 974.6 L982 975.8 L983 977.2 L984 978.6 L985 980.2 L986 981.9 L987 983.6 L988 985.4 L989 987.3 L990 989.2 L991 991.2 L992 993.2 L993 995.1 L994 997.1 L995 999 L996 1001 L997 1002.9 L998 1004.8 L999 1006.6 L1000 1008.4 L1001 1010.2 L1002 1011.9 L1003 1013.5 L1004 1015.1 L1005 1016.7 L1006 1018.2 L1007 1019.7 L1008 1021.1 L1009 1022.4 L1010 1023.7 L1011 1025 L1012 1026.2 L1013 1027.4 L1014 1028.5 L1015 1029.6 L1016 1030.6 L1017 1031.6 L1018 1032.5 L1019 1033.4 L1020 1034.3 L1021 1035.1 L1022 1035.9 L1023 1036.7 L1024 1037.4 L1025 1038.1 L1026 1038.8 L1027 1039.5 L1028 1040.1 L1029 1040.7 L1030 1041.2 L1031 1041.8 L1032 1042.3 L1033 1042.8 L1034 1043.3 L1035 1043.7 L1036 1044.2 L1037 1044.6 L1038 1045 L1039 1045.4 L1040 1045.7 L1041 1046.1 L1042 1046.4 L1043 1046.7 L1044 1047 L1045 1047.3 L1046 1047.6 L1047 1047.9 L1048 1048.1 L1049 1048.4 L1050 1048.6 L1051 1048.8 L1052 1049 L1053 1049.2 L1054 1049.4 L1055 1049.6 L1056 1049.8 L1057 1049.9 L1058 1050.1 L1059 1050.2 L1060 1050.4 L1061 1050.5 L1062 1050.6 L1063 1050.8 L1064 1050.9 L1065 1051 L1066 1051.1 L1067 1051.2 L1068 1051.3 L1069 1051.3 L1070 1051.4 L1071 1051.5 L1072 1051.6 L1073 1051.6 L1074 1051.7 L1075 1051.7 L1076 1051.8 L1077 1051.8 L1078 1051.9 L1079 1051.9 L1080 1052 L1081 1052 L1082 1052 L1083 1052 L1084 1052.1 L1085 1052.1 L1086 1052.1 L1087 1052.1 L1088 1052.1 L1089 1052.1 L1090 1052.1 L1091 1052.1 L1092 1052.1 L1093 1052.1 L1094 1052.1 L1095 1052.1 L1096 1052.1 L1097 1052.1 L1098 1052.1 L1099 1052.1 L1100 1052.1 L1101 1052 L1102 1052 L1103 1052 L1104 1052 L1105 1051.9 L1106 1051.9 L1107 1051.9 L1108 1051.8 L1109 1051.8 L1110 1051.8 L1111 1051.7 L1112 1051.7 L1113 1051.7 L1114 1051.6 L1115 1051.6 L1116 1051.5 L1117 1051.5 L1118 1051.4 L1119 1051.4 L1120 1051.3 L1121 1051.3 L1122 1051.2 L1123 1051.2 L1124 1051.1 L1125 1051.1 L1126 1051 L1127 1051 L1128 1050.9 L1129 1050.9 L1130 1050.8 L1131 1050.7 L1132 1050.7 L1133 1050.6 L1134 1050.6 L1135 1050.5 L1136 1050.4 L1137 1050.4 L1138 1050.3 L1139 1050.2 L1140 1050.2 L1141 1050.1 L1142 1050 L1143 1050 L1144 1049.9 L1145 1049.8 L1146 1049.8 L1147 1049.7 L1148 1049.6 L1149 1049.5 L1150 1049.5 L1151 1049.4 L1152 1049.3 L1153 1049.2 L1154 1049.2 L1155 1049.1 L1156 1049 L1157 1048.9 L1158 1048.9 L1159 1048.8 L1160 1048.7 L1161 1048.6 L1162 1048.5 L1163 1048.5 L1164 1048.4 L1165 1048.3 L1166 1048.2 L1167 1048.1 L1168 1048.1 L1169 1048 L1170 1047.9 L1171 1047.8 L1172 1047.7 L1173 1047.6 L1174 1047.6 L1175 1047.5 L1176 1047.4 L1177 1047.3 L1178 1047.2 L1179 1047.1 L1180 1047.1 L1181 1047 L1182 1046.9 L1183 1046.8 L1184 1046.7 L1185 1046.6 L1186 1046.5 L1187 1046.4 L1188 1046.4 L1189 1046.3 L1190 1046.2 L1191 1046.1 L1192 1046 L1193 1045.9 L1194 1045.8 L1195 1045.7 L1196 1045.6 L1197 1045.6 L1198 1045.5 L1199 1045.4 L1200 1045.3 L1201 1045.2 L1202 1045.1 L1203 1045 L1204 1044.9 L1205 1044.8 L1206 1044.7 L1207 1044.6 L1208 1044.6 L1209 1044.5 L1210 1044.4 L1211 1044.3 L1212 1044.2 L1213 1044.1 L1214 1044 L1215 1043.9 L1216 1043.8 L1217 1043.7 L1218 1043.6 L1219 1043.5 L1220 1043.4 L1221 1043.3 L1222 1043.2 L1223 1043.1 L1224 1043 L1225 1043 L1226 1042.9 L1227 1042.8 L1228 1042.7 L1229 1042.6 L1230 1042.5 L1231 1042.4 L1232 1042.3 L1233 1042.2 L1234 1042.1 L1235 1042 L1236 1041.9 L1237 1041.8 L1238 1041.7 L1239 1041.6 L1240 1041.5 L1241 1041.4 L1242 1041.3 L1243 1041.2 L1244 1041.1 L1245 1041 L1246 1040.9 L1247 1040.8 L1248 1040.7 L1249 1040.6 L1250 1040.5 L1251 1040.4 L1252 1040.3 L1253 1040.2 L1254 1040.1 L1255 1040 L1256 1039.9 L1257 1039.8 L1258 1039.7 L1259 1039.6 L1260 1039.5 L1261 1039.4 L1262 1039.3 L1263 1039.2 L1264 1039.1 L1265 1039 L1266 1038.9 L1267 1038.8 L1268 1038.7 L1269 1038.6 L1270 1038.5 L1271 1038.4 L1272 1038.3 L1273 1038.2 L1274 1038.1 L1275 1038 L1276 1037.9 L1277 1037.8 L1278 1037.7 L1279 1037.6 L1280 1037.5 L1281 1037.4 L1282 1037.3 L1283 1037.2 L1284 1037.1 L1285 1037 L1286 1036.9 L1287 1036.8 L1288 1036.7 L1289 1036.6 L1290 1036.5 L1291 1036.4 L1292 1036.3 L1293 1036.2 L1294 1036.1 L1295 1036 L1296 1035.9 L1297 1035.8 L1298 1035.7 L1299 1035.6 L1300 1035.5 L1301 1035.4 L1302 1035.3 L1303 1035.2 L1304 1035.1 L1305 1035 L1306 1034.9 L1307 1034.8 L1308 1034.7 L1309 1034.6 L1310 1034.5 L1311 1034.4 L1312 1034.3 L1313 1034.2 L1314 1034.1 L1315 1034 L1316 1033.9 L1317 1033.8 L1318 1033.7 L1319 1033.6 L1320 1033.5 L1321 1033.4 L1322 1033.3 L1323 1033.2 L1324 1033.1 L1325 1033 L1326 1032.8 L1327 1032.7 L1328 1032.6 L1329 1032.5 L1330 1032.4 L1331 1032.3 L1332 1032.2 L1333 1032.1 L1334 1032 L1335 1031.9 L1336 1031.8 L1337 1031.7 L1338 1031.6 L1339 1031.5 L1340 1031.4 L1341 1031.3 L1342 1031.2 L1343 1031.1 L1344 1031 L1345 1030.9 L1346 1030.8 L1347 1030.7 L1348 1030.6 L1349 1030.5 L1350 1030.4 L1351 1030.3 L1352 1030.2 L1353 1030.1 L1354 1029.9 L1355 1029.8 L1356 1029.7 L1357 1029.6 L1358 1029.5 L1359 1029.4 L1360 1029.3 L1361 1029.2 L1362 1029.1 L1363 1029 L1364 1028.9 L1365 1028.8 L1366 1028.7 L1367 1028.6 L1368 1028.5 L1369 1028.4 L1370 1028.3 L1371 1028.2 L1372 1028.1 L1373 1028 L1374 1027.9 L1375 1027.8 L1376 1027.7 L1377 1027.6 L1378 1027.4 L1379 1027.3 L1380 1027.2 L1381 1027.1 L1382 1027 L1383 1026.9 L1384 1026.8 L1385 1026.7 L1386 1026.6 L1387 1026.5 L1388 1026.4 L1389 1026.3 L1390 1026.2 L1391 1026.1 L1392 1026 L1393 1025.9 L1394 1025.8 L1394 1026.3 L1393 1026.4 L1392 1026.5 L1391 1026.7 L1390 1026.8 L1389 1026.9 L1388 1027 L1387 1027.1 L1386 1027.2 L1385 1027.3 L1384 1027.4 L1383 1027.5 L1382 1027.6 L1381 1027.7 L1380 1027.8 L1379 1027.9 L1378 1028 L1377 1028.2 L1376 1028.3 L1375 1028.4 L1374 1028.5 L1373 1028.6 L1372 1028.7 L1371 1028.8 L1370 1028.9 L1369 1029 L1368 1029.1 L1367 1029.2 L1366 1029.3 L1365 1029.4 L1364 1029.6 L1363 1029.7 L1362 1029.8 L1361 1029.9 L1360 1030 L1359 1030.1 L1358 1030.2 L1357 1030.3 L1356 1030.4 L1355 1030.5 L1354 1030.6 L1353 1030.7 L1352 1030.8 L1351 1031 L1350 1031.1 L1349 1031.2 L1348 1031.3 L1347 1031.4 L1346 1031.5 L1345 1031.6 L1344 1031.7 L1343 1031.8 L1342 1031.9 L1341 1032 L1340 1032.1 L1339 1032.2 L1338 1032.3 L1337 1032.5 L1336 1032.6 L1335 1032.7 L1334 1032.8 L1333 1032.9 L1332 1033 L1331 1033.1 L1330 1033.2 L1329 1033.3 L1328 1033.4 L1327 1033.5 L1326 1033.6 L1325 1033.7 L1324 1033.9 L1323 1034 L1322 1034.1 L1321 1034.2 L1320 1034.3 L1319 1034.4 L1318 1034.5 L1317 1034.6 L1316 1034.7 L1315 1034.8 L1314 1034.9 L1313 1035 L1312 1035.1 L1311 1035.2 L1310 1035.4 L1309 1035.5 L1308 1035.6 L1307 1035.7 L1306 1035.8 L1305 1035.9 L1304 1036 L1303 1036.1 L1302 1036.2 L1301 1036.3 L1300 1036.4 L1299 1036.5 L1298 1036.6 L1297 1036.8 L1296 1036.9 L1295 1037 L1294 1037.1 L1293 1037.2 L1292 1037.3 L1291 1037.4 L1290 1037.5 L1289 1037.6 L1288 1037.7 L1287 1037.8 L1286 1037.9 L1285 1038 L1284 1038.2 L1283 1038.3 L1282 1038.4 L1281 1038.5 L1280 1038.6 L1279 1038.7 L1278 1038.8 L1277 1038.9 L1276 1039 L1275 1039.1 L1274 1039.2 L1273 1039.3 L1272 1039.4 L1271 1039.5 L1270 1039.7 L1269 1039.8 L1268 1039.9 L1267 1040 L1266 1040.1 L1265 1040.2 L1264 1040.3 L1263 1040.4 L1262 1040.5 L1261 1040.6 L1260 1040.7 L1259 1040.8 L1258 1040.9 L1257 1041.1 L1256 1041.2 L1255 1041.3 L1254 1041.4 L1253 1041.5 L1252 1041.6 L1251 1041.7 L1250 1041.8 L1249 1041.9 L1248 1042 L1247 1042.1 L1246 1042.2 L1245 1042.3 L1244 1042.5 L1243 1042.6 L1242 1042.7 L1241 1042.8 L1240 1042.9 L1239 1043 L1238 1043.1 L1237 1043.2 L1236 1043.3 L1235 1043.4 L1234 1043.5 L1233 1043.6 L1232 1043.7 L1231 1043.8 L1230 1044 L1229 1044.1 L1228 1044.2 L1227 1044.3 L1226 1044.4 L1225 1044.5 L1224 1044.6 L1223 1044.7 L1222 1044.8 L1221 1044.9 L1220 1045 L1219 1045.1 L1218 1045.2 L1217 1045.4 L1216 1045.5 L1215 1045.6 L1214 1045.7 L1213 1045.8 L1212 1045.9 L1211 1046 L1210 1046.1 L1209 1046.2 L1208 1046.3 L1207 1046.4 L1206 1046.5 L1205 1046.6 L1204 1046.8 L1203 1046.9 L1202 1047 L1201 1047.1 L1200 1047.2 L1199 1047.3 L1198 1047.4 L1197 1047.5 L1196 1047.6 L1195 1047.7 L1194 1047.8 L1193 1047.9 L1192 1048 L1191 1048.2 L1190 1048.3 L1189 1048.4 L1188 1048.5 L1187 1048.6 L1186 1048.7 L1185 1048.8 L1184 1048.9 L1183 1049 L1182 1049.1 L1181 1049.2 L1180 1049.3 L1179 1049.4 L1178 1049.5 L1177 1049.7 L1176 1049.8 L1175 1049.9 L1174 1050 L1173 1050.1 L1172 1050.2 L1171 1050.3 L1170 1050.4 L1169 1050.5 L1168 1050.6 L1167 1050.7 L1166 1050.8 L1165 1050.9 L1164 1051.1 L1163 1051.2 L1162 1051.3 L1161 1051.4 L1160 1051.5 L1159 1051.6 L1158 1051.7 L1157 1051.8 L1156 1051.9 L1155 1052 L1154 1052.1 L1153 1052.2 L1152 1052.3 L1151 1052.5 L1150 1052.6 L1149 1052.7 L1148 1052.8 L1147 1052.9 L1146 1053 L1145 1053.1 L1144 1053.2 L1143 1053.3 L1142 1053.4 L1141 1053.5 L1140 1053.6 L1139 1053.7 L1138 1053.8 L1137 1054 L1136 1054.1 L1135 1054.2 L1134 1054.3 L1133 1054.4 L1132 1054.5 L1131 1054.6 L1130 1054.7 L1129 1054.8 L1128 1054.9 L1127 1055 L1126 1055.1 L1125 1055.2 L1124 1055.4 L1123 1055.5 L1122 1055.6 L1121 1055.7 L1120 1055.8 L1119 1055.9 L1118 1056 L1117 1056.1 L1116 1056.2 L1115 1056.3 L1114 1056.4 L1113 1056.5 L1112 1056.6 L1111 1056.8 L1110 1056.9 L1109 1057 L1108 1057.1 L1107 1057.2 L1106 1057.3 L1105 1057.4 L1104 1057.5 L1103 1057.6 L1102 1057.7 L1101 1057.8 L1100 1057.9 L1099 1058 L1098 1058.1 L1097 1058.3 L1096 1058.4 L1095 1058.5 L1094 1058.6 L1093 1058.7 L1092 1058.8 L1091 1058.9 L1090 1059 L1089 1059.1 L1088 1059.2 L1087 1059.3 L1086 1059.4 L1085 1059.5 L1084 1059.7 L1083 1059.8 L1082 1059.9 L1081 1060 L1080 1060.1 L1079 1060.2 L1078 1060.3 L1077 1060.4 L1076 1060.5 L1075 1060.6 L1074 1060.7 L1073 1060.8 L1072 1060.9 L1071 1061 L1070 1061.2 L1069 1061.3 L1068 1061.4 L1067 1061.5 L1066 1061.6 L1065 1061.7 L1064 1061.8 L1063 1061.9 L1062 1062 L1061 1062.1 L1060 1062.2 L1059 1062.3 L1058 1062.4 L1057 1062.6 L1056 1062.7 L1055 1062.8 L1054 1062.9 L1053 1063 L1052 1063.1 L1051 1063.2 L1050 1063.3 L1049 1063.4 L1048 1063.5 L1047 1063.6 L1046 1063.7 L1045 1063.8 L1044 1064 L1043 1064.1 L1042 1064.2 L1041 1064.3 L1040 1064.4 L1039 1064.5 L1038 1064.6 L1037 1064.7 L1036 1064.8 L1035 1064.9 L1034 1065 L1033 1065.1 L1032 1065.2 L1031 1065.3 L1030 1065.5 L1029 1065.6 L1028 1065.7 L1027 1065.8 L1026 1065.9 L1025 1066 L1024 1066.1 L1023 1066.2 L1022 1066.3 L1021 1066.4 L1020 1066.5 L1019 1066.6 L1018 1066.7 L1017 1066.9 L1016 1067 L1015 1067.1 L1014 1067.2 L1013 1067.3 L1012 1067.4 L1011 1067.5 L1010 1067.6 L1009 1067.7 L1008 1067.8 L1007 1067.9 L1006 1068 L1005 1068.1 L1004 1068.3 L1003 1068.4 L1002 1068.5 L1001 1068.6 L1000 1068.7 L999 1068.8 L998 1068.9 L997 1069 L996 1069.1 L995 1069.2 L994 1069.3 L993 1069.4 L992 1069.5 L991 1069.7 L990 1069.8 L989 1069.9 L988 1070 L987 1070.1 L986 1070.2 L985 1070.3 L984 1070.4 L983 1070.5 L982 1070.6 L981 1070.7 L980 1070.8 L979 1070.9 L978 1071 L977 1071.2 L976 1071.3 L975 1071.4 L974 1071.5 L973 1071.6 L972 1071.7 L971 1071.8 L970 1071.9 L969 1072 L968 1072.1 L967 1072.2 L966 1072.3 L965 1072.4 L964 1072.6 L963 1072.7 L962 1072.8 L961 1072.9 L960 1073 L959 1073.1 L958 1073.2 L957 1073.3 L956 1073.4 L955 1073.5 L954 1073.6 L953 1073.7 L952 1073.8 L951 1074 L950 1074.1 L949 1074.2 L948 1074.3 L947 1074.4 L946 1074.5 L945 1074.6 L944 1074.7 L943 1074.8 L942 1074.9 L941 1075 L940 1075.1 L939 1075.2 L938 1075.3 L937 1075.5 L936 1075.6 L935 1075.7 L934 1075.8 L933 1075.9 L932 1076 L931 1076.1 L930 1076.2 L929 1076.3 L928 1076.4 L927 1076.5 L926 1076.6 L925 1076.7 L924 1076.9 L923 1077 L922 1077.1 L921 1077.2 L920 1077.3 L919 1077.4 L918 1077.5 L917 1077.6 L916 1077.7 L915 1077.8 L914 1077.9 L913 1078 L912 1078.1 L911 1078.2 L910 1078.4 L909 1078.5 L908 1078.6 L907 1078.7 L906 1078.8 L905 1078.9 L904 1079 L903 1079.1 L902 1079.2 L901 1079.3 L900 1079.4 L899 1079.5 L898 1079.6 L897 1079.8 L896 1079.9 L895 1080 L894 1080.1 L893 1080.2 L892 1080.3 L891 1080.4 L890 1080.5 L889 1080.6 L888 1080.7 L887 1080.8 L886 1080.9 L885 1081 L884 1081.2 L883 1081.3 L882 1081.4 L881 1081.5 L880 1081.6 L879 1081.7 L878 1081.8 L877 1081.9 L876 1082 L875 1082.1 L874 1082.2 L873 1082.3 L872 1082.4 L871 1082.5 L870 1082.7 L869 1082.8 L868 1082.9 L867 1083 L866 1083.1 L865 1083.2 L864 1083.3 L863 1083.4 L862 1083.5 L861 1083.6 L860 1083.7 L859 1083.8 L858 1083.9 L857 1084.1 L856 1084.2 L855 1084.3 L854 1084.4 L853 1084.5 L852 1084.6 L851 1084.7 L850 1084.8 L849 1084.9 L848 1085 L847 1085.1 L846 1085.2 L845 1085.3 L844 1085.5 L843 1085.6 L842 1085.7 L841 1085.8 L840 1085.9 L839 1086 L838 1086.1 L837 1086.2 L836 1086.3 L835 1086.4 L834 1086.5 L833 1086.6 L832 1086.7 L831 1086.8 L830 1087 L829 1087.1 L828 1087.2 L827 1087.3 L826 1087.4 L825 1087.5 L824 1087.6 L823 1087.7 L822 1087.8 L821 1087.9 L820 1088 L819 1088.1 L818 1088.2 L817 1088.4 L816 1088.5 L815 1088.6 L814 1088.7 L813 1088.8 L812 1088.9Z" fill="rgba(8,5,150,0.76)"/>
<path d="M812 1086.7 L813 1086.6 L814 1086.4 L815 1086.3 L816 1086.2 L817 1086 L818 1085.9 L819 1085.7 L820 1085.6 L821 1085.4 L822 1085.2 L823 1085.1 L824 1084.9 L825 1084.8 L826 1084.6 L827 1084.4 L828 1084.2 L829 1084.1 L830 1083.9 L831 1083.7 L832 1083.5 L833 1083.3 L834 1083.1 L835 1082.9 L836 1082.7 L837 1082.5 L838 1082.3 L839 1082.1 L840 1081.9 L841 1081.7 L842 1081.5 L843 1081.2 L844 1081 L845 1080.8 L846 1080.6 L847 1080.3 L848 1080.1 L849 1079.9 L850 1079.6 L851 1079.4 L852 1079.2 L853 1078.9 L854 1078.7 L855 1078.4 L856 1078.2 L857 1077.9 L858 1077.7 L859 1077.4 L860 1077.1 L861 1076.9 L862 1076.6 L863 1076.3 L864 1076 L865 1075.8 L866 1075.5 L867 1075.2 L868 1074.9 L869 1074.6 L870 1074.3 L871 1074 L872 1073.7 L873 1073.4 L874 1073.1 L875 1072.8 L876 1072.5 L877 1072.2 L878 1071.9 L879 1071.5 L880 1071.2 L881 1070.9 L882 1070.5 L883 1070.2 L884 1069.8 L885 1069.5 L886 1069.1 L887 1068.7 L888 1068.3 L889 1068 L890 1067.6 L891 1067.2 L892 1066.8 L893 1066.3 L894 1065.9 L895 1065.5 L896 1065 L897 1064.6 L898 1064.1 L899 1063.7 L900 1063.2 L901 1062.7 L902 1062.2 L903 1061.7 L904 1061.1 L905 1060.6 L906 1060.1 L907 1059.5 L908 1058.9 L909 1058.3 L910 1057.7 L911 1057 L912 1056.4 L913 1055.7 L914 1055 L915 1054.3 L916 1053.6 L917 1052.8 L918 1052.1 L919 1051.3 L920 1050.5 L921 1049.6 L922 1048.7 L923 1047.8 L924 1046.9 L925 1045.9 L926 1044.9 L927 1043.9 L928 1042.9 L929 1041.8 L930 1040.6 L931 1039.5 L932 1038.3 L933 1037 L934 1035.8 L935 1034.4 L936 1033.1 L937 1031.7 L938 1030.2 L939 1028.7 L940 1027.2 L941 1025.6 L942 1024 L943 1022.3 L944 1020.6 L945 1018.8 L946 1017 L947 1015.2 L948 1013.3 L949 1011.3 L950 1009.4 L951 1007.4 L952 1005.3 L953 1003.3 L954 1001.2 L955 999.1 L956 997.1 L957 995 L958 992.9 L959 990.9 L960 988.9 L961 986.9 L962 985.1 L963 983.2 L964 981.5 L965 979.8 L966 978.3 L967 976.9 L968 975.6 L969 974.5 L970 973.5 L971 972.7 L972 972 L973 971.5 L974 971.3 L975 971.2 L976 971.2 L977 971.5 L978 972 L979 972.7 L980 973.6 L981 974.6 L982 975.8 L983 977.2 L984 978.6 L985 980.2 L986 981.9 L987 983.6 L988 985.4 L989 987.3 L990 989.2 L991 991.2 L992 993.2 L993 995.1 L994 997.1 L995 999 L996 1001 L997 1002.9 L998 1004.8 L999 1006.6 L1000 1008.4 L1001 1010.2 L1002 1011.9 L1003 1013.5 L1004 1015.1 L1005 1016.7 L1006 1018.2 L1007 1019.7 L1008 1021.1 L1009 1022.4 L1010 1023.7 L1011 1025 L1012 1026.2 L1013 1027.4 L1014 1028.5 L1015 1029.6 L1016 1030.6 L1017 1031.6 L1018 1032.5 L1019 1033.4 L1020 1034.3 L1021 1035.1 L1022 1035.9 L1023 1036.7 L1024 1037.4 L1025 1038.1 L1026 1038.8 L1027 1039.5 L1028 1040.1 L1029 1040.7 L1030 1041.2 L1031 1041.8 L1032 1042.3 L1033 1042.8 L1034 1043.3 L1035 1043.7 L1036 1044.2 L1037 1044.6 L1038 1045 L1039 1045.4 L1040 1045.7 L1041 1046.1 L1042 1046.4 L1043 1046.7 L1044 1047 L1045 1047.3 L1046 1047.6 L1047 1047.9 L1048 1048.1 L1049 1048.4 L1050 1048.6 L1051 1048.8 L1052 1049 L1053 1049.2 L1054 1049.4 L1055 1049.6 L1056 1049.8 L1057 1049.9 L1058 1050.1 L1059 1050.2 L1060 1050.4 L1061 1050.5 L1062 1050.6 L1063 1050.8 L1064 1050.9 L1065 1051 L1066 1051.1 L1067 1051.2 L1068 1051.3 L1069 1051.3 L1070 1051.4 L1071 1051.5 L1072 1051.6 L1073 1051.6 L1074 1051.7 L1075 1051.7 L1076 1051.8 L1077 1051.8 L1078 1051.9 L1079 1051.9 L1080 1052 L1081 1052 L1082 1052 L1083 1052 L1084 1052.1 L1085 1052.1 L1086 1052.1 L1087 1052.1 L1088 1052.1 L1089 1052.1 L1090 1052.1 L1091 1052.1 L1092 1052.1 L1093 1052.1 L1094 1052.1 L1095 1052.1 L1096 1052.1 L1097 1052.1 L1098 1052.1 L1099 1052.1 L1100 1052.1 L1101 1052 L1102 1052 L1103 1052 L1104 1052 L1105 1051.9 L1106 1051.9 L1107 1051.9 L1108 1051.8 L1109 1051.8 L1110 1051.8 L1111 1051.7 L1112 1051.7 L1113 1051.7 L1114 1051.6 L1115 1051.6 L1116 1051.5 L1117 1051.5 L1118 1051.4 L1119 1051.4 L1120 1051.3 L1121 1051.3 L1122 1051.2 L1123 1051.2 L1124 1051.1 L1125 1051.1 L1126 1051 L1127 1051 L1128 1050.9 L1129 1050.9 L1130 1050.8 L1131 1050.7 L1132 1050.7 L1133 1050.6 L1134 1050.6 L1135 1050.5 L1136 1050.4 L1137 1050.4 L1138 1050.3 L1139 1050.2 L1140 1050.2 L1141 1050.1 L1142 1050 L1143 1050 L1144 1049.9 L1145 1049.8 L1146 1049.8 L1147 1049.7 L1148 1049.6 L1149 1049.5 L1150 1049.5 L1151 1049.4 L1152 1049.3 L1153 1049.2 L1154 1049.2 L1155 1049.1 L1156 1049 L1157 1048.9 L1158 1048.9 L1159 1048.8 L1160 1048.7 L1161 1048.6 L1162 1048.5 L1163 1048.5 L1164 1048.4 L1165 1048.3 L1166 1048.2 L1167 1048.1 L1168 1048.1 L1169 1048 L1170 1047.9 L1171 1047.8 L1172 1047.7 L1173 1047.6 L1174 1047.6 L1175 1047.5 L1176 1047.4 L1177 1047.3 L1178 1047.2 L1179 1047.1 L1180 1047.1 L1181 1047 L1182 1046.9 L1183 1046.8 L1184 1046.7 L1185 1046.6 L1186 1046.5 L1187 1046.4 L1188 1046.4 L1189 1046.3 L1190 1046.2 L1191 1046.1 L1192 1046 L1193 1045.9 L1194 1045.8 L1195 1045.7 L1196 1045.6 L1197 1045.6 L1198 1045.5 L1199 1045.4 L1200 1045.3 L1201 1045.2 L1202 1045.1 L1203 1045 L1204 1044.9 L1205 1044.8 L1206 1044.7 L1207 1044.6 L1208 1044.6 L1209 1044.5 L1210 1044.4 L1211 1044.3 L1212 1044.2 L1213 1044.1 L1214 1044 L1215 1043.9 L1216 1043.8 L1217 1043.7 L1218 1043.6 L1219 1043.5 L1220 1043.4 L1221 1043.3 L1222 1043.2 L1223 1043.1 L1224 1043 L1225 1043 L1226 1042.9 L1227 1042.8 L1228 1042.7 L1229 1042.6 L1230 1042.5 L1231 1042.4 L1232 1042.3 L1233 1042.2 L1234 1042.1 L1235 1042 L1236 1041.9 L1237 1041.8 L1238 1041.7 L1239 1041.6 L1240 1041.5 L1241 1041.4 L1242 1041.3 L1243 1041.2 L1244 1041.1 L1245 1041 L1246 1040.9 L1247 1040.8 L1248 1040.7 L1249 1040.6 L1250 1040.5 L1251 1040.4 L1252 1040.3 L1253 1040.2 L1254 1040.1 L1255 1040 L1256 1039.9 L1257 1039.8 L1258 1039.7 L1259 1039.6 L1260 1039.5 L1261 1039.4 L1262 1039.3 L1263 1039.2 L1264 1039.1 L1265 1039 L1266 1038.9 L1267 1038.8 L1268 1038.7 L1269 1038.6 L1270 1038.5 L1271 1038.4 L1272 1038.3 L1273 1038.2 L1274 1038.1 L1275 1038 L1276 1037.9 L1277 1037.8 L1278 1037.7 L1279 1037.6 L1280 1037.5 L1281 1037.4 L1282 1037.3 L1283 1037.2 L1284 1037.1 L1285 1037 L1286 1036.9 L1287 1036.8 L1288 1036.7 L1289 1036.6 L1290 1036.5 L1291 1036.4 L1292 1036.3 L1293 1036.2 L1294 1036.1 L1295 1036 L1296 1035.9 L1297 1035.8 L1298 1035.7 L1299 1035.6 L1300 1035.5 L1301 1035.4 L1302 1035.3 L1303 1035.2 L1304 1035.1 L1305 1035 L1306 1034.9 L1307 1034.8 L1308 1034.7 L1309 1034.6 L1310 1034.5 L1311 1034.4 L1312 1034.3 L1313 1034.2 L1314 1034.1 L1315 1034 L1316 1033.9 L1317 1033.8 L1318 1033.7 L1319 1033.6 L1320 1033.5 L1321 1033.4 L1322 1033.3 L1323 1033.2 L1324 1033.1 L1325 1033 L1326 1032.8 L1327 1032.7 L1328 1032.6 L1329 1032.5 L1330 1032.4 L1331 1032.3 L1332 1032.2 L1333 1032.1 L1334 1032 L1335 1031.9 L1336 1031.8 L1337 1031.7 L1338 1031.6 L1339 1031.5 L1340 1031.4 L1341 1031.3 L1342 1031.2 L1343 1031.1 L1344 1031 L1345 1030.9 L1346 1030.8 L1347 1030.7 L1348 1030.6 L1349 1030.5 L1350 1030.4 L1351 1030.3 L1352 1030.2 L1353 1030.1 L1354 1029.9 L1355 1029.8 L1356 1029.7 L1357 1029.6 L1358 1029.5 L1359 1029.4 L1360 1029.3 L1361 1029.2 L1362 1029.1 L1363 1029 L1364 1028.9 L1365 1028.8 L1366 1028.7 L1367 1028.6 L1368 1028.5 L1369 1028.4 L1370 1028.3 L1371 1028.2 L1372 1028.1 L1373 1028 L1374 1027.9 L1375 1027.8 L1376 1027.7 L1377 1027.6 L1378 1027.4 L1379 1027.3 L1380 1027.2 L1381 1027.1 L1382 1027 L1383 1026.9 L1384 1026.8 L1385 1026.7 L1386 1026.6 L1387 1026.5 L1388 1026.4 L1389 1026.3 L1390 1026.2 L1391 1026.1 L1392 1026 L1393 1025.9 L1394 1025.8" fill="none" stroke="#0A0AB4" stroke-width="2.4"/>
<path d="M812 1090.4 L813 1090.3 L814 1090.2 L815 1090.1 L816 1090 L817 1089.9 L818 1089.7 L819 1089.6 L820 1089.5 L821 1089.4 L822 1089.3 L823 1089.2 L824 1089.1 L825 1089 L826 1088.9 L827 1088.8 L828 1088.7 L829 1088.6 L830 1088.5 L831 1088.3 L832 1088.2 L833 1088.1 L834 1088 L835 1087.9 L836 1087.8 L837 1087.7 L838 1087.6 L839 1087.5 L840 1087.4 L841 1087.3 L842 1087.2 L843 1087.1 L844 1087 L845 1086.8 L846 1086.7 L847 1086.6 L848 1086.5 L849 1086.4 L850 1086.3 L851 1086.2 L852 1086.1 L853 1086 L854 1085.9 L855 1085.8 L856 1085.7 L857 1085.6 L858 1085.4 L859 1085.3 L860 1085.2 L861 1085.1 L862 1085 L863 1084.9 L864 1084.8 L865 1084.7 L866 1084.6 L867 1084.5 L868 1084.4 L869 1084.3 L870 1084.2 L871 1084 L872 1083.9 L873 1083.8 L874 1083.7 L875 1083.6 L876 1083.5 L877 1083.4 L878 1083.3 L879 1083.2 L880 1083.1 L881 1083 L882 1082.9 L883 1082.8 L884 1082.7 L885 1082.5 L886 1082.4 L887 1082.3 L888 1082.2 L889 1082.1 L890 1082 L891 1081.9 L892 1081.8 L893 1081.7 L894 1081.6 L895 1081.5 L896 1081.4 L897 1081.3 L898 1081.1 L899 1081 L900 1080.9 L901 1080.8 L902 1080.7 L903 1080.6 L904 1080.5 L905 1080.4 L906 1080.3 L907 1080.2 L908 1080.1 L909 1080 L910 1079.9 L911 1079.8 L912 1079.6 L913 1079.5 L914 1079.4 L915 1079.3 L916 1079.2 L917 1079.1 L918 1079 L919 1078.9 L920 1078.8 L921 1078.7 L922 1078.6 L923 1078.5 L924 1078.4 L925 1078.2 L926 1078.1 L927 1078 L928 1077.9 L929 1077.8 L930 1077.7 L931 1077.6 L932 1077.5 L933 1077.4 L934 1077.3 L935 1077.2 L936 1077.1 L937 1077 L938 1076.8 L939 1076.7 L940 1076.6 L941 1076.5 L942 1076.4 L943 1076.3 L944 1076.2 L945 1076.1 L946 1076 L947 1075.9 L948 1075.8 L949 1075.7 L950 1075.6 L951 1075.5 L952 1075.3 L953 1075.2 L954 1075.1 L955 1075 L956 1074.9 L957 1074.8 L958 1074.7 L959 1074.6 L960 1074.5 L961 1074.4 L962 1074.3 L963 1074.2 L964 1074.1 L965 1073.9 L966 1073.8 L967 1073.7 L968 1073.6 L969 1073.5 L970 1073.4 L971 1073.3 L972 1073.2 L973 1073.1 L974 1073 L975 1072.9 L976 1072.8 L977 1072.7 L978 1072.5 L979 1072.4 L980 1072.3 L981 1072.2 L982 1072.1 L983 1072 L984 1071.9 L985 1071.8 L986 1071.7 L987 1071.6 L988 1071.5 L989 1071.4 L990 1071.3 L991 1071.2 L992 1071 L993 1070.9 L994 1070.8 L995 1070.7 L996 1070.6 L997 1070.5 L998 1070.4 L999 1070.3 L1000 1070.2 L1001 1070.1 L1002 1070 L1003 1069.9 L1004 1069.8 L1005 1069.6 L1006 1069.5 L1007 1069.4 L1008 1069.3 L1009 1069.2 L1010 1069.1 L1011 1069 L1012 1068.9 L1013 1068.8 L1014 1068.7 L1015 1068.6 L1016 1068.5 L1017 1068.4 L1018 1068.2 L1019 1068.1 L1020 1068 L1021 1067.9 L1022 1067.8 L1023 1067.7 L1024 1067.6 L1025 1067.5 L1026 1067.4 L1027 1067.3 L1028 1067.2 L1029 1067.1 L1030 1067 L1031 1066.8 L1032 1066.7 L1033 1066.6 L1034 1066.5 L1035 1066.4 L1036 1066.3 L1037 1066.2 L1038 1066.1 L1039 1066 L1040 1065.9 L1041 1065.8 L1042 1065.7 L1043 1065.6 L1044 1065.5 L1045 1065.3 L1046 1065.2 L1047 1065.1 L1048 1065 L1049 1064.9 L1050 1064.8 L1051 1064.7 L1052 1064.6 L1053 1064.5 L1054 1064.4 L1055 1064.3 L1056 1064.2 L1057 1064.1 L1058 1063.9 L1059 1063.8 L1060 1063.7 L1061 1063.6 L1062 1063.5 L1063 1063.4 L1064 1063.3 L1065 1063.2 L1066 1063.1 L1067 1063 L1068 1062.9 L1069 1062.8 L1070 1062.7 L1071 1062.5 L1072 1062.4 L1073 1062.3 L1074 1062.2 L1075 1062.1 L1076 1062 L1077 1061.9 L1078 1061.8 L1079 1061.7 L1080 1061.6 L1081 1061.5 L1082 1061.4 L1083 1061.3 L1084 1061.2 L1085 1061 L1086 1060.9 L1087 1060.8 L1088 1060.7 L1089 1060.6 L1090 1060.5 L1091 1060.4 L1092 1060.3 L1093 1060.2 L1094 1060.1 L1095 1060 L1096 1059.9 L1097 1059.8 L1098 1059.6 L1099 1059.5 L1100 1059.4 L1101 1059.3 L1102 1059.2 L1103 1059.1 L1104 1059 L1105 1058.9 L1106 1058.8 L1107 1058.7 L1108 1058.6 L1109 1058.5 L1110 1058.4 L1111 1058.2 L1112 1058.1 L1113 1058 L1114 1057.9 L1115 1057.8 L1116 1057.7 L1117 1057.6 L1118 1057.5 L1119 1057.4 L1120 1057.3 L1121 1057.2 L1122 1057.1 L1123 1057 L1124 1056.9 L1125 1056.7 L1126 1056.6 L1127 1056.5 L1128 1056.4 L1129 1056.3 L1130 1056.2 L1131 1056.1 L1132 1056 L1133 1055.9 L1134 1055.8 L1135 1055.7 L1136 1055.6 L1137 1055.5 L1138 1055.3 L1139 1055.2 L1140 1055.1 L1141 1055 L1142 1054.9 L1143 1054.8 L1144 1054.7 L1145 1054.6 L1146 1054.5 L1147 1054.4 L1148 1054.3 L1149 1054.2 L1150 1054.1 L1151 1054 L1152 1053.8 L1153 1053.7 L1154 1053.6 L1155 1053.5 L1156 1053.4 L1157 1053.3 L1158 1053.2 L1159 1053.1 L1160 1053 L1161 1052.9 L1162 1052.8 L1163 1052.7 L1164 1052.6 L1165 1052.4 L1166 1052.3 L1167 1052.2 L1168 1052.1 L1169 1052 L1170 1051.9 L1171 1051.8 L1172 1051.7 L1173 1051.6 L1174 1051.5 L1175 1051.4 L1176 1051.3 L1177 1051.2 L1178 1051 L1179 1050.9 L1180 1050.8 L1181 1050.7 L1182 1050.6 L1183 1050.5 L1184 1050.4 L1185 1050.3 L1186 1050.2 L1187 1050.1 L1188 1050 L1189 1049.9 L1190 1049.8 L1191 1049.7 L1192 1049.5 L1193 1049.4 L1194 1049.3 L1195 1049.2 L1196 1049.1 L1197 1049 L1198 1048.9 L1199 1048.8 L1200 1048.7 L1201 1048.6 L1202 1048.5 L1203 1048.4 L1204 1048.3 L1205 1048.1 L1206 1048 L1207 1047.9 L1208 1047.8 L1209 1047.7 L1210 1047.6 L1211 1047.5 L1212 1047.4 L1213 1047.3 L1214 1047.2 L1215 1047.1 L1216 1047 L1217 1046.9 L1218 1046.7 L1219 1046.6 L1220 1046.5 L1221 1046.4 L1222 1046.3 L1223 1046.2 L1224 1046.1 L1225 1046 L1226 1045.9 L1227 1045.8 L1228 1045.7 L1229 1045.6 L1230 1045.5 L1231 1045.3 L1232 1045.2 L1233 1045.1 L1234 1045 L1235 1044.9 L1236 1044.8 L1237 1044.7 L1238 1044.6 L1239 1044.5 L1240 1044.4 L1241 1044.3 L1242 1044.2 L1243 1044.1 L1244 1044 L1245 1043.8 L1246 1043.7 L1247 1043.6 L1248 1043.5 L1249 1043.4 L1250 1043.3 L1251 1043.2 L1252 1043.1 L1253 1043 L1254 1042.9 L1255 1042.8 L1256 1042.7 L1257 1042.6 L1258 1042.4 L1259 1042.3 L1260 1042.2 L1261 1042.1 L1262 1042 L1263 1041.9 L1264 1041.8 L1265 1041.7 L1266 1041.6 L1267 1041.5 L1268 1041.4 L1269 1041.3 L1270 1041.2 L1271 1041 L1272 1040.9 L1273 1040.8 L1274 1040.7 L1275 1040.6 L1276 1040.5 L1277 1040.4 L1278 1040.3 L1279 1040.2 L1280 1040.1 L1281 1040 L1282 1039.9 L1283 1039.8 L1284 1039.7 L1285 1039.5 L1286 1039.4 L1287 1039.3 L1288 1039.2 L1289 1039.1 L1290 1039 L1291 1038.9 L1292 1038.8 L1293 1038.7 L1294 1038.6 L1295 1038.5 L1296 1038.4 L1297 1038.3 L1298 1038.1 L1299 1038 L1300 1037.9 L1301 1037.8 L1302 1037.7 L1303 1037.6 L1304 1037.5 L1305 1037.4 L1306 1037.3 L1307 1037.2 L1308 1037.1 L1309 1037 L1310 1036.9 L1311 1036.8 L1312 1036.6 L1313 1036.5 L1314 1036.4 L1315 1036.3 L1316 1036.2 L1317 1036.1 L1318 1036 L1319 1035.9 L1320 1035.8 L1321 1035.7 L1322 1035.6 L1323 1035.5 L1324 1035.4 L1325 1035.2 L1326 1035.1 L1327 1035 L1328 1034.9 L1329 1034.8 L1330 1034.7 L1331 1034.6 L1332 1034.5 L1333 1034.4 L1334 1034.3 L1335 1034.2 L1336 1034.1 L1337 1034 L1338 1033.8 L1339 1033.7 L1340 1033.6 L1341 1033.5 L1342 1033.4 L1343 1033.3 L1344 1033.2 L1345 1033.1 L1346 1033 L1347 1032.9 L1348 1032.8 L1349 1032.7 L1350 1032.6 L1351 1032.5 L1352 1032.3 L1353 1032.2 L1354 1032.1 L1355 1032 L1356 1031.9 L1357 1031.8 L1358 1031.7 L1359 1031.6 L1360 1031.5 L1361 1031.4 L1362 1031.3 L1363 1031.2 L1364 1031.1 L1365 1030.9 L1366 1030.8 L1367 1030.7 L1368 1030.6 L1369 1030.5 L1370 1030.4 L1371 1030.3 L1372 1030.2 L1373 1030.1 L1374 1030 L1375 1029.9 L1376 1029.8 L1377 1029.7 L1378 1029.5 L1379 1029.4 L1380 1029.3 L1381 1029.2 L1382 1029.1 L1383 1029 L1384 1028.9 L1385 1028.8 L1386 1028.7 L1387 1028.6 L1388 1028.5 L1389 1028.4 L1390 1028.3 L1391 1028.2 L1392 1028 L1393 1027.9 L1394 1027.8" fill="none" stroke="#E07A10" stroke-width="2" stroke-dasharray="2 2"/>
<path d="M812 1087.9 L813 1087.8 L814 1087.7 L815 1087.6 L816 1087.5 L817 1087.4 L818 1087.2 L819 1087.1 L820 1087 L821 1086.9 L822 1086.8 L823 1086.7 L824 1086.6 L825 1086.5 L826 1086.4 L827 1086.3 L828 1086.2 L829 1086.1 L830 1086 L831 1085.8 L832 1085.7 L833 1085.6 L834 1085.5 L835 1085.4 L836 1085.3 L837 1085.2 L838 1085.1 L839 1085 L840 1084.9 L841 1084.8 L842 1084.7 L843 1084.6 L844 1084.5 L845 1084.3 L846 1084.2 L847 1084.1 L848 1084 L849 1083.9 L850 1083.8 L851 1083.7 L852 1083.6 L853 1083.5 L854 1083.4 L855 1083.3 L856 1083.2 L857 1083.1 L858 1082.9 L859 1082.8 L860 1082.7 L861 1082.6 L862 1082.5 L863 1082.4 L864 1082.3 L865 1082.2 L866 1082.1 L867 1082 L868 1081.9 L869 1081.8 L870 1081.7 L871 1081.5 L872 1081.4 L873 1081.3 L874 1081.2 L875 1081.1 L876 1081 L877 1080.9 L878 1080.8 L879 1080.7 L880 1080.6 L881 1080.5 L882 1080.4 L883 1080.3 L884 1080.2 L885 1080 L886 1079.9 L887 1079.8 L888 1079.7 L889 1079.6 L890 1079.5 L891 1079.4 L892 1079.3 L893 1079.2 L894 1079.1 L895 1079 L896 1078.9 L897 1078.8 L898 1078.6 L899 1078.5 L900 1078.4 L901 1078.3 L902 1078.2 L903 1078.1 L904 1078 L905 1077.9 L906 1077.8 L907 1077.7 L908 1077.6 L909 1077.5 L910 1077.4 L911 1077.2 L912 1077.1 L913 1077 L914 1076.9 L915 1076.8 L916 1076.7 L917 1076.6 L918 1076.5 L919 1076.4 L920 1076.3 L921 1076.2 L922 1076.1 L923 1076 L924 1075.9 L925 1075.7 L926 1075.6 L927 1075.5 L928 1075.4 L929 1075.3 L930 1075.2 L931 1075.1 L932 1075 L933 1074.9 L934 1074.8 L935 1074.7 L936 1074.6 L937 1074.5 L938 1074.3 L939 1074.2 L940 1074.1 L941 1074 L942 1073.9 L943 1073.8 L944 1073.7 L945 1073.6 L946 1073.5 L947 1073.4 L948 1073.3 L949 1073.2 L950 1073.1 L951 1073 L952 1072.8 L953 1072.7 L954 1072.6 L955 1072.5 L956 1072.4 L957 1072.3 L958 1072.2 L959 1072.1 L960 1072 L961 1071.9 L962 1071.8 L963 1071.7 L964 1071.6 L965 1071.4 L966 1071.3 L967 1071.2 L968 1071.1 L969 1071 L970 1070.9 L971 1070.8 L972 1070.7 L973 1070.6 L974 1070.5 L975 1070.4 L976 1070.3 L977 1070.2 L978 1070 L979 1069.9 L980 1069.8 L981 1069.7 L982 1069.6 L983 1069.5 L984 1069.4 L985 1069.3 L986 1069.2 L987 1069.1 L988 1069 L989 1068.9 L990 1068.8 L991 1068.7 L992 1068.5 L993 1068.4 L994 1068.3 L995 1068.2 L996 1068.1 L997 1068 L998 1067.9 L999 1067.8 L1000 1067.7 L1001 1067.6 L1002 1067.5 L1003 1067.4 L1004 1067.3 L1005 1067.1 L1006 1067 L1007 1066.9 L1008 1066.8 L1009 1066.7 L1010 1066.6 L1011 1066.5 L1012 1066.4 L1013 1066.3 L1014 1066.2 L1015 1066.1 L1016 1066 L1017 1065.9 L1018 1065.7 L1019 1065.6 L1020 1065.5 L1021 1065.4 L1022 1065.3 L1023 1065.2 L1024 1065.1 L1025 1065 L1026 1064.9 L1027 1064.8 L1028 1064.7 L1029 1064.6 L1030 1064.5 L1031 1064.3 L1032 1064.2 L1033 1064.1 L1034 1064 L1035 1063.9 L1036 1063.8 L1037 1063.7 L1038 1063.6 L1039 1063.5 L1040 1063.4 L1041 1063.3 L1042 1063.2 L1043 1063.1 L1044 1063 L1045 1062.8 L1046 1062.7 L1047 1062.6 L1048 1062.5 L1049 1062.4 L1050 1062.3 L1051 1062.2 L1052 1062.1 L1053 1062 L1054 1061.9 L1055 1061.8 L1056 1061.7 L1057 1061.6 L1058 1061.4 L1059 1061.3 L1060 1061.2 L1061 1061.1 L1062 1061 L1063 1060.9 L1064 1060.8 L1065 1060.7 L1066 1060.6 L1067 1060.5 L1068 1060.4 L1069 1060.3 L1070 1060.2 L1071 1060 L1072 1059.9 L1073 1059.8 L1074 1059.7 L1075 1059.6 L1076 1059.5 L1077 1059.4 L1078 1059.3 L1079 1059.2 L1080 1059.1 L1081 1059 L1082 1058.9 L1083 1058.8 L1084 1058.7 L1085 1058.5 L1086 1058.4 L1087 1058.3 L1088 1058.2 L1089 1058.1 L1090 1058 L1091 1057.9 L1092 1057.8 L1093 1057.7 L1094 1057.6 L1095 1057.5 L1096 1057.4 L1097 1057.3 L1098 1057.1 L1099 1057 L1100 1056.9 L1101 1056.8 L1102 1056.7 L1103 1056.6 L1104 1056.5 L1105 1056.4 L1106 1056.3 L1107 1056.2 L1108 1056.1 L1109 1056 L1110 1055.9 L1111 1055.8 L1112 1055.6 L1113 1055.5 L1114 1055.4 L1115 1055.3 L1116 1055.2 L1117 1055.1 L1118 1055 L1119 1054.9 L1120 1054.8 L1121 1054.7 L1122 1054.6 L1123 1054.5 L1124 1054.4 L1125 1054.2 L1126 1054.1 L1127 1054 L1128 1053.9 L1129 1053.8 L1130 1053.7 L1131 1053.6 L1132 1053.5 L1133 1053.4 L1134 1053.3 L1135 1053.2 L1136 1053.1 L1137 1053 L1138 1052.8 L1139 1052.7 L1140 1052.6 L1141 1052.5 L1142 1052.4 L1143 1052.3 L1144 1052.2 L1145 1052.1 L1146 1052 L1147 1051.9 L1148 1051.8 L1149 1051.7 L1150 1051.6 L1151 1051.5 L1152 1051.3 L1153 1051.2 L1154 1051.1 L1155 1051 L1156 1050.9 L1157 1050.8 L1158 1050.7 L1159 1050.6 L1160 1050.5 L1161 1050.4 L1162 1050.3 L1163 1050.2 L1164 1050.1 L1165 1049.9 L1166 1049.8 L1167 1049.7 L1168 1049.6 L1169 1049.5 L1170 1049.4 L1171 1049.3 L1172 1049.2 L1173 1049.1 L1174 1049 L1175 1048.9 L1176 1048.8 L1177 1048.7 L1178 1048.5 L1179 1048.4 L1180 1048.3 L1181 1048.2 L1182 1048.1 L1183 1048 L1184 1047.9 L1185 1047.8 L1186 1047.7 L1187 1047.6 L1188 1047.5 L1189 1047.4 L1190 1047.3 L1191 1047.2 L1192 1047 L1193 1046.9 L1194 1046.8 L1195 1046.7 L1196 1046.6 L1197 1046.5 L1198 1046.4 L1199 1046.3 L1200 1046.2 L1201 1046.1 L1202 1046 L1203 1045.9 L1204 1045.8 L1205 1045.6 L1206 1045.5 L1207 1045.4 L1208 1045.3 L1209 1045.2 L1210 1045.1 L1211 1045 L1212 1044.9 L1213 1044.8 L1214 1044.7 L1215 1044.6 L1216 1044.5 L1217 1044.4 L1218 1044.2 L1219 1044.1 L1220 1044 L1221 1043.9 L1222 1043.8 L1223 1043.7 L1224 1043.6 L1225 1043.5 L1226 1043.4 L1227 1043.3 L1228 1043.2 L1229 1043.1 L1230 1043 L1231 1042.8 L1232 1042.7 L1233 1042.6 L1234 1042.5 L1235 1042.4 L1236 1042.3 L1237 1042.2 L1238 1042.1 L1239 1042 L1240 1041.9 L1241 1041.8 L1242 1041.7 L1243 1041.6 L1244 1041.5 L1245 1041.3 L1246 1041.2 L1247 1041.1 L1248 1041 L1249 1040.9 L1250 1040.8 L1251 1040.7 L1252 1040.6 L1253 1040.5 L1254 1040.4 L1255 1040.3 L1256 1040.2 L1257 1040.1 L1258 1039.9 L1259 1039.8 L1260 1039.7 L1261 1039.6 L1262 1039.5 L1263 1039.4 L1264 1039.3 L1265 1039.2 L1266 1039.1 L1267 1039 L1268 1038.9 L1269 1038.8 L1270 1038.7 L1271 1038.5 L1272 1038.4 L1273 1038.3 L1274 1038.2 L1275 1038.1 L1276 1038 L1277 1037.9 L1278 1037.8 L1279 1037.7 L1280 1037.6 L1281 1037.5 L1282 1037.4 L1283 1037.3 L1284 1037.2 L1285 1037 L1286 1036.9 L1287 1036.8 L1288 1036.7 L1289 1036.6 L1290 1036.5 L1291 1036.4 L1292 1036.3 L1293 1036.2 L1294 1036.1 L1295 1036 L1296 1035.9 L1297 1035.8 L1298 1035.6 L1299 1035.5 L1300 1035.4 L1301 1035.3 L1302 1035.2 L1303 1035.1 L1304 1035 L1305 1034.9 L1306 1034.8 L1307 1034.7 L1308 1034.6 L1309 1034.5 L1310 1034.4 L1311 1034.2 L1312 1034.1 L1313 1034 L1314 1033.9 L1315 1033.8 L1316 1033.7 L1317 1033.6 L1318 1033.5 L1319 1033.4 L1320 1033.3 L1321 1033.2 L1322 1033.1 L1323 1033 L1324 1032.9 L1325 1032.7 L1326 1032.6 L1327 1032.5 L1328 1032.4 L1329 1032.3 L1330 1032.2 L1331 1032.1 L1332 1032 L1333 1031.9 L1334 1031.8 L1335 1031.7 L1336 1031.6 L1337 1031.5 L1338 1031.3 L1339 1031.2 L1340 1031.1 L1341 1031 L1342 1030.9 L1343 1030.8 L1344 1030.7 L1345 1030.6 L1346 1030.5 L1347 1030.4 L1348 1030.3 L1349 1030.2 L1350 1030.1 L1351 1030 L1352 1029.8 L1353 1029.7 L1354 1029.6 L1355 1029.5 L1356 1029.4 L1357 1029.3 L1358 1029.2 L1359 1029.1 L1360 1029 L1361 1028.9 L1362 1028.8 L1363 1028.7 L1364 1028.6 L1365 1028.4 L1366 1028.3 L1367 1028.2 L1368 1028.1 L1369 1028 L1370 1027.9 L1371 1027.8 L1372 1027.7 L1373 1027.6 L1374 1027.5 L1375 1027.4 L1376 1027.3 L1377 1027.2 L1378 1027 L1379 1026.9 L1380 1026.8 L1381 1026.7 L1382 1026.6 L1383 1026.5 L1384 1026.4 L1385 1026.3 L1386 1026.2 L1387 1026.1 L1388 1026 L1389 1025.9 L1390 1025.8 L1391 1025.7 L1392 1025.5 L1393 1025.4 L1394 1025.3" fill="none" stroke="#0A0AB4" stroke-width="2.6"/>
<path d="M812 1084.5 L813 1084.3 L814 1084.2 L815 1084 L816 1083.9 L817 1083.7 L818 1083.5 L819 1083.3 L820 1083.1 L821 1083 L822 1082.8 L823 1082.6 L824 1082.4 L825 1082.1 L826 1081.9 L827 1081.7 L828 1081.5 L829 1081.3 L830 1081 L831 1080.8 L832 1080.5 L833 1080.3 L834 1080 L835 1079.8 L836 1079.5 L837 1079.3 L838 1079 L839 1078.7 L840 1078.4 L841 1078.1 L842 1077.9 L843 1077.6 L844 1077.3 L845 1077 L846 1076.7 L847 1076.4 L848 1076.1 L849 1075.8 L850 1075.4 L851 1075.1 L852 1074.8 L853 1074.5 L854 1074.1 L855 1073.8 L856 1073.5 L857 1073.1 L858 1072.8 L859 1072.5 L860 1072.1 L861 1071.8 L862 1071.4 L863 1071.1 L864 1070.7 L865 1070.4 L866 1070 L867 1069.6 L868 1069.3 L869 1068.9 L870 1068.5 L871 1068.1 L872 1067.7 L873 1067.4 L874 1067 L875 1066.6 L876 1066.2 L877 1065.8 L878 1065.4 L879 1065 L880 1064.5 L881 1064.1 L882 1063.7 L883 1063.3 L884 1062.8 L885 1062.4 L886 1061.9 L887 1061.5 L888 1061 L889 1060.5 L890 1060 L891 1059.6 L892 1059.1 L893 1058.6 L894 1058 L895 1057.5 L896 1057 L897 1056.4 L898 1055.9 L899 1055.3 L900 1054.7 L901 1054.1 L902 1053.5 L903 1052.9 L904 1052.3 L905 1051.6 L906 1051 L907 1050.3 L908 1049.6 L909 1048.9 L910 1048.2 L911 1047.4 L912 1046.7 L913 1045.9 L914 1045.1 L915 1044.2 L916 1043.4 L917 1042.5 L918 1041.6 L919 1040.7 L920 1039.7 L921 1038.7 L922 1037.7 L923 1036.6 L924 1035.6 L925 1034.5 L926 1033.3 L927 1032.1 L928 1030.9 L929 1029.7 L930 1028.4 L931 1027 L932 1025.7 L933 1024.2 L934 1022.8 L935 1021.3 L936 1019.7 L937 1018.1 L938 1016.5 L939 1014.8 L940 1013 L941 1011.2 L942 1009.4 L943 1007.5 L944 1005.5 L945 1003.5 L946 1001.5 L947 999.4 L948 997.2 L949 995 L950 992.8 L951 990.5 L952 988.2 L953 985.8 L954 983.5 L955 981.1 L956 978.7 L957 976.3 L958 973.9 L959 971.5 L960 969.1 L961 966.8 L962 964.5 L963 962.3 L964 960.1 L965 958.1 L966 956.1 L967 954.2 L968 952.5 L969 950.8 L970 949.4 L971 948 L972 946.8 L973 945.8 L974 944.9 L975 944.2 L976 943.6 L977 943.3 L978 943.1 L979 943 L980 943.2 L981 943.4 L982 943.8 L983 944.2 L984 944.8 L985 945.5 L986 946.1 L987 946.9 L988 947.6 L989 948.4 L990 949.1 L991 949.8 L992 950.5 L993 951.1 L994 951.6 L995 952.1 L996 952.4 L997 952.7 L998 952.9 L999 952.9 L1000 952.8 L1001 952.5 L1002 952.2 L1003 951.6 L1004 951 L1005 950.1 L1006 949.1 L1007 948 L1008 946.7 L1009 945.2 L1010 943.5 L1011 941.7 L1012 939.7 L1013 937.5 L1014 935.2 L1015 932.7 L1016 930 L1017 927.2 L1018 924.2 L1019 921 L1020 917.8 L1021 914.4 L1022 910.9 L1023 907.2 L1024 903.6 L1025 899.8 L1026 896.1 L1027 892.3 L1028 888.6 L1029 885 L1030 881.4 L1031 878 L1032 874.8 L1033 871.9 L1034 869.2 L1035 866.8 L1036 864.8 L1037 863.1 L1038 861.9 L1039 861.1 L1040 860.7 L1041 860.9 L1042 861.8 L1043 863.3 L1044 865.5 L1045 868.3 L1046 871.6 L1047 875.2 L1048 879.2 L1049 883.5 L1050 887.9 L1051 892.4 L1052 896.9 L1053 901.4 L1054 905.8 L1055 910.1 L1056 914.2 L1057 918.1 L1058 921.8 L1059 925.3 L1060 928.6 L1061 931.6 L1062 934.3 L1063 936.8 L1064 939.1 L1065 941.1 L1066 942.9 L1067 944.4 L1068 945.7 L1069 946.8 L1070 947.6 L1071 948.2 L1072 948.6 L1073 948.7 L1074 948.7 L1075 948.4 L1076 948 L1077 947.3 L1078 946.4 L1079 945.4 L1080 944.1 L1081 942.7 L1082 941 L1083 939.2 L1084 937.2 L1085 935.1 L1086 932.8 L1087 930.3 L1088 927.8 L1089 925.1 L1090 922.3 L1091 919.5 L1092 916.6 L1093 913.7 L1094 910.8 L1095 908 L1096 905.3 L1097 902.8 L1098 900.4 L1099 898.2 L1100 896.3 L1101 894.7 L1102 893.5 L1103 892.6 L1104 892.1 L1105 891.9 L1106 892.1 L1107 892.6 L1108 893.4 L1109 894.5 L1110 895.8 L1111 897.4 L1112 899.2 L1113 901.1 L1114 903.3 L1115 905.5 L1116 907.9 L1117 910.3 L1118 912.8 L1119 915.3 L1120 917.8 L1121 920.4 L1122 922.8 L1123 925.3 L1124 927.6 L1125 929.9 L1126 932.1 L1127 934.1 L1128 936.1 L1129 938 L1130 939.7 L1131 941.3 L1132 942.7 L1133 944 L1134 945.2 L1135 946.2 L1136 947 L1137 947.7 L1138 948.2 L1139 948.6 L1140 948.8 L1141 948.8 L1142 948.7 L1143 948.4 L1144 948 L1145 947.4 L1146 946.6 L1147 945.6 L1148 944.5 L1149 943.3 L1150 941.9 L1151 940.3 L1152 938.7 L1153 936.9 L1154 935 L1155 933.1 L1156 931.1 L1157 929 L1158 926.9 L1159 924.8 L1160 922.8 L1161 920.8 L1162 918.9 L1163 917.2 L1164 915.5 L1165 914 L1166 912.7 L1167 911.6 L1168 910.7 L1169 910.2 L1170 910 L1171 910.1 L1172 910.6 L1173 911.3 L1174 912.1 L1175 913.1 L1176 914.2 L1177 915.2 L1178 916.2 L1179 917.2 L1180 917.9 L1181 918.6 L1182 919 L1183 919.3 L1184 919.4 L1185 919.2 L1186 918.8 L1187 918.2 L1188 917.4 L1189 916.4 L1190 915.2 L1191 913.7 L1192 912.1 L1193 910.2 L1194 908.2 L1195 906 L1196 903.5 L1197 901 L1198 898.2 L1199 895.3 L1200 892.3 L1201 889 L1202 885.7 L1203 882.2 L1204 878.6 L1205 874.8 L1206 871 L1207 867 L1208 862.9 L1209 858.8 L1210 854.5 L1211 850.2 L1212 845.8 L1213 841.3 L1214 836.8 L1215 832.3 L1216 827.7 L1217 823.1 L1218 818.5 L1219 813.9 L1220 809.3 L1221 804.7 L1222 800.2 L1223 795.8 L1224 791.4 L1225 787.1 L1226 783 L1227 778.9 L1228 775.1 L1229 771.3 L1230 767.8 L1231 764.4 L1232 761.3 L1233 758.4 L1234 755.7 L1235 753.3 L1236 751.1 L1237 749.2 L1238 747.6 L1239 746.3 L1240 745.3 L1241 744.7 L1242 744.4 L1243 744.4 L1244 744.7 L1245 745.4 L1246 746.5 L1247 747.9 L1248 749.6 L1249 751.6 L1250 753.9 L1251 756.5 L1252 759.4 L1253 762.5 L1254 765.9 L1255 769.5 L1256 773.2 L1257 777.2 L1258 781.3 L1259 785.5 L1260 789.8 L1261 794.3 L1262 798.8 L1263 803.4 L1264 808 L1265 812.6 L1266 817.3 L1267 822 L1268 826.6 L1269 831.3 L1270 835.9 L1271 840.5 L1272 845 L1273 849.5 L1274 853.9 L1275 858.3 L1276 862.6 L1277 866.8 L1278 871 L1279 875 L1280 879 L1281 882.9 L1282 886.7 L1283 890.4 L1284 894 L1285 897.6 L1286 901 L1287 904.4 L1288 907.6 L1289 910.8 L1290 913.9 L1291 916.9 L1292 919.8 L1293 922.7 L1294 925.4 L1295 928.1 L1296 930.7 L1297 933.2 L1298 935.6 L1299 938 L1300 940.2 L1301 942.5 L1302 944.6 L1303 946.6 L1304 948.6 L1305 950.6 L1306 952.4 L1307 954.2 L1308 956 L1309 957.6 L1310 959.3 L1311 960.8 L1312 962.3 L1313 963.8 L1314 965.2 L1315 966.6 L1316 967.9 L1317 969.2 L1318 970.4 L1319 971.6 L1320 972.7 L1321 973.8 L1322 974.9 L1323 975.9 L1324 976.9 L1325 977.9 L1326 978.8 L1327 979.7 L1328 980.6 L1329 981.4 L1330 982.2 L1331 983 L1332 983.8 L1333 984.5 L1334 985.3 L1335 986 L1336 986.7 L1337 987.4 L1338 988 L1339 988.7 L1340 989.3 L1341 989.9 L1342 990.5 L1343 991.1 L1344 991.7 L1345 992.3 L1346 992.9 L1347 993.5 L1348 994 L1349 994.6 L1350 995.1 L1351 995.7 L1352 996.3 L1353 996.8 L1354 997.4 L1355 997.9 L1356 998.5 L1357 999 L1358 999.6 L1359 1000.1 L1360 1000.7 L1361 1001.3 L1362 1001.8 L1363 1002.4 L1364 1002.9 L1365 1003.4 L1366 1004 L1367 1004.5 L1368 1005 L1369 1005.5 L1370 1006 L1371 1006.5 L1372 1006.9 L1373 1007.4 L1374 1007.8 L1375 1008.2 L1376 1008.6 L1377 1009 L1378 1009.3 L1379 1009.7 L1380 1010 L1381 1010.2 L1382 1010.5 L1383 1010.7 L1384 1010.9 L1385 1011.1 L1386 1011.3 L1387 1011.4 L1388 1011.6 L1389 1011.7 L1390 1011.8 L1391 1011.8 L1392 1011.9 L1393 1011.9 L1394 1011.9" fill="none" stroke="#151515" stroke-width="3"/>
<rect x="811" y="645.8" width="583.6" height="476.8" fill="none" stroke="#222" stroke-width="2.6"/>
<path d="M883.4 1122.6V1131.6M1000.3 1122.6V1131.6M1117.2 1122.6V1131.6M1234 1122.6V1131.6M1350.9 1122.6V1131.6M825 1122.6V1127.6M941.8 1122.6V1127.6M1058.7 1122.6V1127.6M1175.6 1122.6V1127.6M1292.5 1122.6V1127.6" stroke="#222" stroke-width="2.4" fill="none"/>
<text x="883.4" y="1161.5" font-size="30.4" fill="#111" text-anchor="middle">736</text>
<text x="1000.3" y="1161.5" font-size="30.4" fill="#111" text-anchor="middle">728</text>
<text x="1117.2" y="1161.5" font-size="30.4" fill="#111" text-anchor="middle">720</text>
<text x="1234" y="1161.5" font-size="30.4" fill="#111" text-anchor="middle">712</text>
<text x="1350.9" y="1161.5" font-size="30.4" fill="#111" text-anchor="middle">704</text>
<text x="739.6" y="682.1" font-size="44.8" fill="#111" text-anchor="start">(d)</text>
<text x="824.6" y="684.6" font-size="31.2" fill="#111" text-anchor="start">Fe 2p</text>
<text x="1008.1" y="812.4" font-size="30.5" fill="#111" text-anchor="start">2p</text>
<text x="1044.2" y="823.4" font-size="18.5" fill="#333" text-anchor="start">1/2</text>
<text x="1214.5" y="709.5" font-size="30.5" fill="#111" text-anchor="start">2p</text>
<text x="1249.8" y="722.2" font-size="18.5" fill="#333" text-anchor="start">3/2</text>
<text x="1084.4" y="828.2" font-size="30.2" fill="#2A8A2A" text-anchor="start">Sat.</text>
<text x="950.4" y="878" font-size="30.5" fill="#F5821F" text-anchor="start">Fe</text>
<text x="985.7" y="863.8" font-size="18" fill="#F5821F" text-anchor="start">2+</text>
<text x="1291.9" y="770.6" font-size="30.5" fill="#F5821F" text-anchor="start">Fe</text>
<text x="1326.9" y="757.9" font-size="18" fill="#F5821F" text-anchor="start">2+</text>
<text x="878.2" y="949.5" font-size="30.5" fill="#2B2BA6" text-anchor="start">Fe</text>
<text x="913.9" y="935.9" font-size="18" fill="#2B2BA6" text-anchor="start">3+</text>
<text x="1124.8" y="881.2" font-size="30.5" fill="#2B2BA6" text-anchor="start">Fe</text>
<text x="1161.1" y="868.5" font-size="18" fill="#2B2BA6" text-anchor="start">3+</text>
<path d="M918 952.9L948.5 989.1" stroke="#0A0AB4" stroke-width="2.4" fill="none"/>
<path d="M954.3 996L943.8 990.5L950.7 984.7Z" fill="#0A0AB4"/>
<path d="M981.5 887.2L1021.3 924.1" stroke="#FF8410" stroke-width="2.4" fill="none"/>
<path d="M1027.9 930.2L1016.8 926L1022.9 919.4Z" fill="#FF8410"/>
<path d="M1106.5 839.7L1106.5 923.6" stroke="#1A8A1A" stroke-width="2.4" fill="none"/>
<path d="M1106.5 932.6L1102 921.6L1111 921.6Z" fill="#1A8A1A"/>
<path d="M1148 892.3L1163.7 961.8" stroke="#0A0AB4" stroke-width="2.4" fill="none"/>
<path d="M1165.7 970.6L1158.9 960.9L1167.7 958.9Z" fill="#0A0AB4"/>
<path d="M1297.8 783.3L1272.5 824.1" stroke="#FF8410" stroke-width="2.4" fill="none"/>
<path d="M1267.8 831.7L1269.8 820L1277.4 824.7Z" fill="#FF8410"/>
<text transform="translate(772 885.3) rotate(-90)" x="0" y="0" font-size="39" fill="#111" text-anchor="middle">Intensity / a.u.</text>
<text x="1104.7" y="1207.8" font-size="39.2" fill="#111" text-anchor="middle">Binding Energy / eV</text>
</g>
</svg></div>
</body></html>
